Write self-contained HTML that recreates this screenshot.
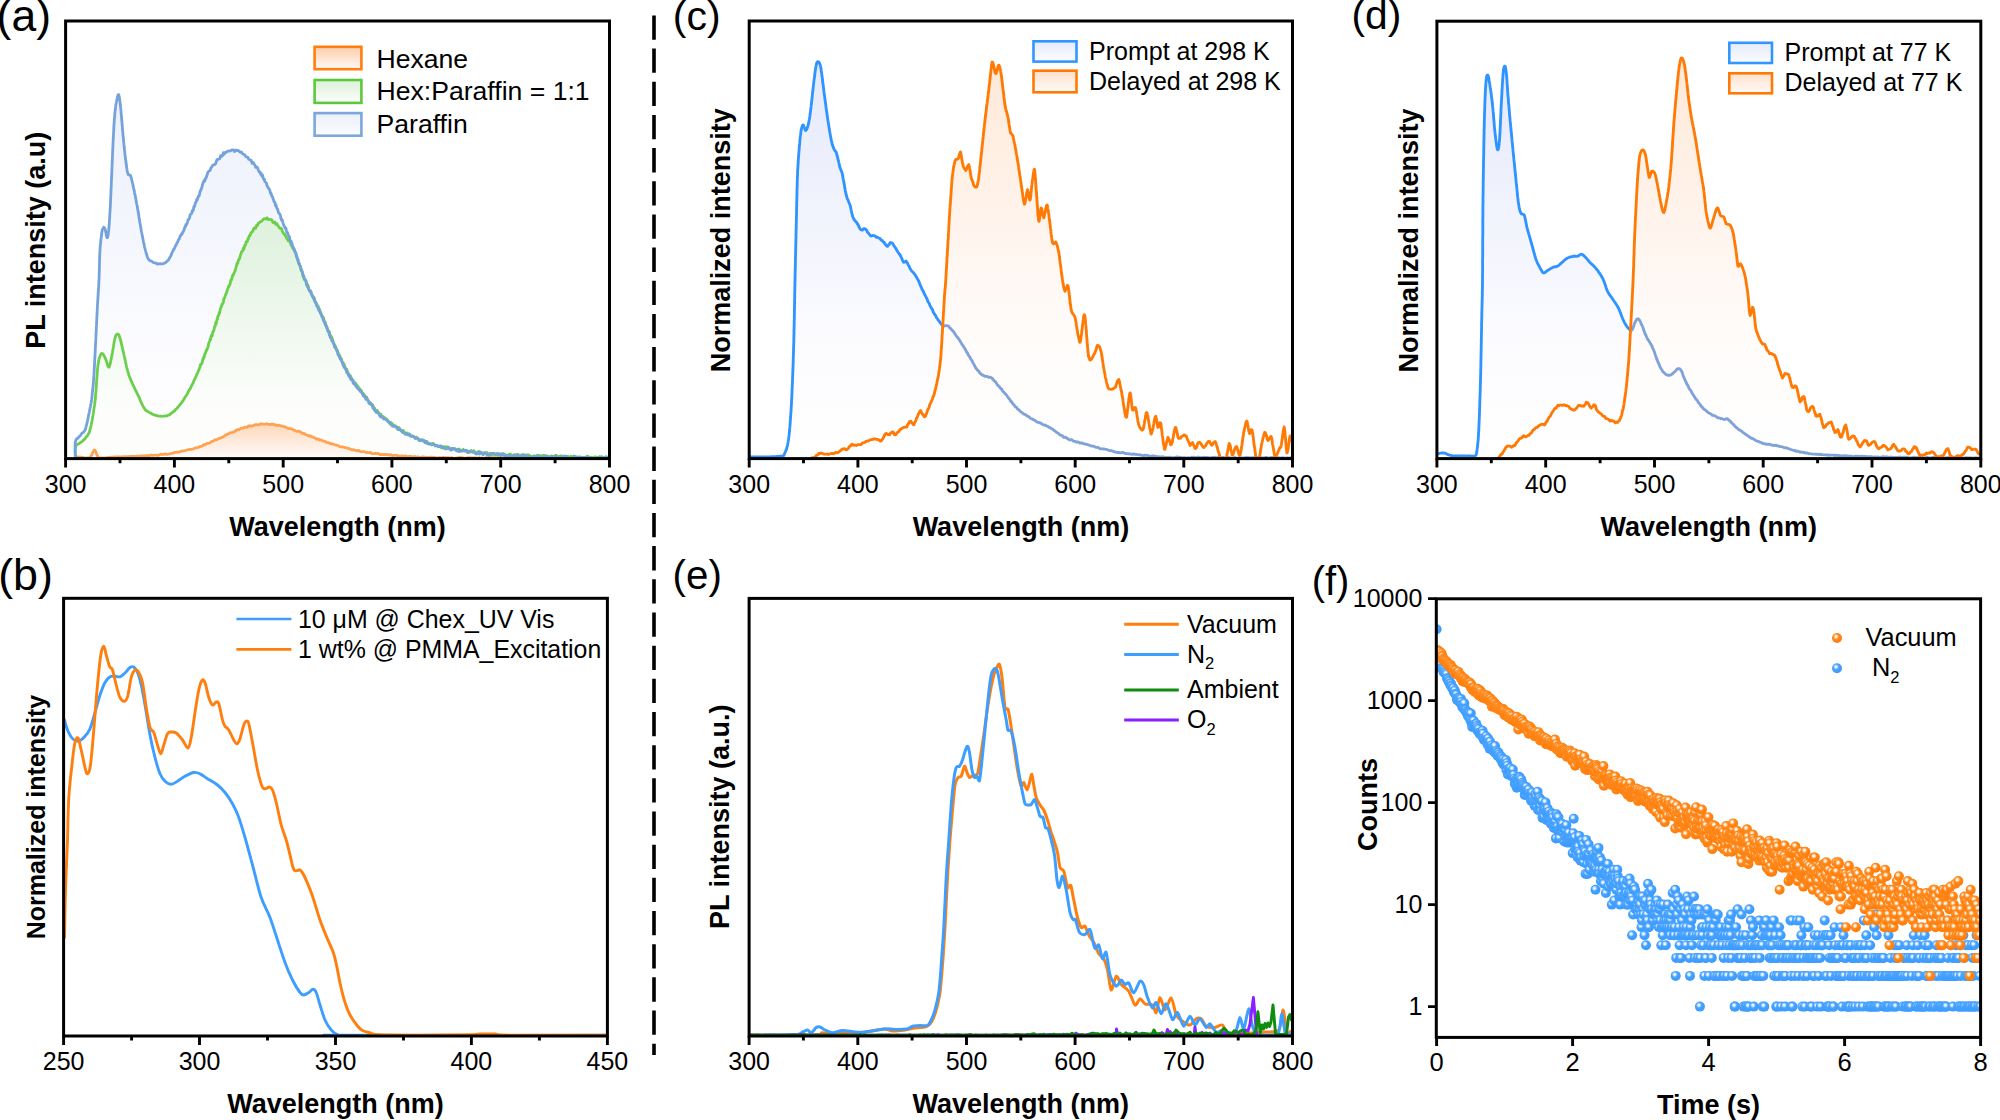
<!DOCTYPE html>
<html lang="en"><head><meta charset="utf-8"><title>Figure</title>
<style>html,body{margin:0;padding:0;background:#fff}svg{display:block}text{font-family:"Liberation Sans",sans-serif;fill:#000}</style></head><body>
<svg width="2000" height="1120" viewBox="0 0 2000 1120">
<defs>
<linearGradient id="gAb" x1="0" y1="0" x2="0" y2="1"><stop offset="0" stop-color="#edf0fc" stop-opacity="1.0"/><stop offset="0.78" stop-color="#fdfdff" stop-opacity="1.0"/><stop offset="1" stop-color="#fdfdff" stop-opacity="1.0"/></linearGradient>
<linearGradient id="gAg" x1="0" y1="0" x2="0" y2="1"><stop offset="0" stop-color="#dcf1da" stop-opacity="0.94"/><stop offset="0.8" stop-color="#fdfefc" stop-opacity="0.94"/><stop offset="1" stop-color="#fdfefc" stop-opacity="0.94"/></linearGradient>
<linearGradient id="gAo" x1="0" y1="0" x2="0" y2="1"><stop offset="0" stop-color="#fdd6b6" stop-opacity="0.95"/><stop offset="0.9" stop-color="#fff8f5" stop-opacity="0.95"/><stop offset="1" stop-color="#fff8f5" stop-opacity="0.95"/></linearGradient>
<linearGradient id="gB" x1="0" y1="0" x2="0" y2="1"><stop offset="0" stop-color="#e5e9fa" stop-opacity="1.0"/><stop offset="0.72" stop-color="#fcfcff" stop-opacity="1.0"/><stop offset="1" stop-color="#ffffff" stop-opacity="1.0"/></linearGradient>
<linearGradient id="gO" x1="0" y1="0" x2="0" y2="1"><stop offset="0" stop-color="#ffe6d4" stop-opacity="0.9"/><stop offset="0.68" stop-color="#fffbf9" stop-opacity="0.9"/><stop offset="1" stop-color="#ffffff" stop-opacity="0.9"/></linearGradient>
<linearGradient id="lAb" x1="0" y1="0" x2="0" y2="1"><stop offset="0" stop-color="#ebeefb" stop-opacity="1"/><stop offset="1" stop-color="#fdfdff" stop-opacity="1"/><stop offset="1" stop-color="#fdfdff" stop-opacity="1"/></linearGradient>
<linearGradient id="lAg" x1="0" y1="0" x2="0" y2="1"><stop offset="0" stop-color="#dcf1d7" stop-opacity="1"/><stop offset="1" stop-color="#fcfefb" stop-opacity="1"/><stop offset="1" stop-color="#fcfefb" stop-opacity="1"/></linearGradient>
<linearGradient id="lAo" x1="0" y1="0" x2="0" y2="1"><stop offset="0" stop-color="#fdcdaa" stop-opacity="1"/><stop offset="1" stop-color="#fffaf7" stop-opacity="1"/><stop offset="1" stop-color="#fffaf7" stop-opacity="1"/></linearGradient>
<linearGradient id="lB" x1="0" y1="0" x2="0" y2="1"><stop offset="0" stop-color="#e6ebfa" stop-opacity="1"/><stop offset="1" stop-color="#fbfcff" stop-opacity="1"/><stop offset="1" stop-color="#fbfcff" stop-opacity="1"/></linearGradient>
<linearGradient id="lO" x1="0" y1="0" x2="0" y2="1"><stop offset="0" stop-color="#fde1cc" stop-opacity="1"/><stop offset="1" stop-color="#fffaf8" stop-opacity="1"/><stop offset="1" stop-color="#fffaf8" stop-opacity="1"/></linearGradient>
<radialGradient id="mO" cx="0.40" cy="0.36" r="0.5"><stop offset="0" stop-color="#fff"/><stop offset="0.22" stop-color="#ffe9d4"/><stop offset="0.55" stop-color="#ff8a1c"/><stop offset="1" stop-color="#ff7f0e"/></radialGradient>
<radialGradient id="mB" cx="0.40" cy="0.36" r="0.5"><stop offset="0" stop-color="#fff"/><stop offset="0.22" stop-color="#dcedff"/><stop offset="0.55" stop-color="#49a3ff"/><stop offset="1" stop-color="#3d9cff"/></radialGradient>
<clipPath id="cpa"><rect x="65.6" y="21" width="543.9" height="437.6"/></clipPath>
<clipPath id="cpb"><rect x="63.6" y="598.3" width="543.8" height="437.7"/></clipPath>
<clipPath id="cpc"><rect x="749.2" y="21" width="543.3" height="437.6"/></clipPath>
<clipPath id="cpd"><rect x="1436.9" y="21.2" width="543.9" height="437.4"/></clipPath>
<clipPath id="cpe"><rect x="749.1" y="598.4" width="543.4" height="437.6"/></clipPath>
<clipPath id="cpf"><rect x="1436.3" y="598.8" width="544.3" height="438.6"/></clipPath>
</defs>
<path d="M654,15.4V1055" stroke="#000" stroke-width="3.6" stroke-dasharray="24.3 8.87" fill="none"/>
<g clip-path="url(#cpa)">
<path d="M75.4,457.9L75.4,457.6L75.4,455.7L75.3,454.5L75.3,453.4L75.2,452L75.2,449.9L75.1,448.4L75.1,446.8L75.1,445.4L75.2,444L75.3,442.7L75.4,441.7L75.9,440.2L76.6,438.8L77.4,438.6L78.3,437.7L79,436.7L79.8,436.1L80.5,435.4L81.3,434.2L82,433.1L82.8,432.8L83.6,432.2L84.3,431.4L85,430.2L85.4,429.1L85.8,427.8L86.1,426.5L86.4,425.1L86.7,424.5L87,423L87.3,421.6L87.6,420.3L87.8,419.2L88.1,418.4L88.3,416.7L88.6,415.3L88.8,414.3L89.1,413L89.3,412L89.5,410.5L89.8,409.2L90,408.4L90.3,407L90.6,405.2L90.9,404.1L91.1,402.9L91.4,401.1L91.5,400.5L91.7,399.4L91.8,397.7L92,396.9L92.1,395.3L92.2,393.7L92.4,392.6L92.5,391.4L92.6,390.2L92.7,389.2L92.9,388.1L93,386.7L93.1,385.8L93.2,384.4L93.3,383.5L93.5,381.7L93.6,379.7L93.7,379.3L93.7,377.7L93.8,376.9L93.8,376.3L93.9,375.2L94,374L94,373.2L94.1,371.6L94.2,370.4L94.2,369.4L94.3,367.7L94.4,366.8L94.5,365.6L94.5,364L94.6,362.5L94.7,360.2L94.8,358.7L94.9,357.2L95,355.3L95.1,354.1L95.1,353.1L95.2,351.7L95.2,350.6L95.3,349.3L95.3,348.8L95.4,347L95.5,346.3L95.5,344.3L95.6,343.6L95.7,342L95.7,340.3L95.8,339.4L95.9,338L95.9,336.6L96,335.2L96.1,333.7L96.1,332.4L96.2,330.6L96.3,329.6L96.3,327.8L96.4,326.2L96.5,325.4L96.6,323.4L96.6,322.1L96.7,320.9L96.8,319.6L96.8,317.9L96.9,316.3L97,315.4L97,314.1L97.1,313L97.2,311.4L97.2,310.6L97.3,309.4L97.3,308.4L97.4,307.2L97.4,306.1L97.5,305L97.6,303.4L97.7,301.1L97.8,299.8L97.9,298.4L98,297L98.1,295.1L98.1,294L98.2,293.3L98.3,292L98.4,290.4L98.5,289.6L98.5,288.8L98.6,287.7L98.7,286.3L98.7,284.8L98.8,283.7L98.9,282.3L98.9,281.1L99,279.6L99.1,278.9L99.1,277.7L99.1,276.2L99.2,275.3L99.2,273.4L99.3,272.1L99.3,271L99.3,269.6L99.4,267.9L99.4,267.1L99.4,265.5L99.5,264.1L99.5,262.6L99.5,261.4L99.6,259.6L99.6,258.5L99.6,257.4L99.7,256.1L99.7,254.8L99.8,253.1L99.9,252.2L99.9,251.5L100,250.4L100.1,248.7L100.2,246.5L100.4,244.9L100.5,243.4L100.7,242.3L100.8,240.3L101,238.8L101.2,237.4L101.3,236.4L101.5,235L101.7,234L101.8,232.2L102,231.2L102.2,230.8L102.3,229.4L102.5,229.2L103.8,227.2L105,228.8L105.4,229.9L105.7,232L106.1,233.4L106.4,236.2L106.8,236.9L107.1,237.7L107.5,237.6L107.6,236.8L107.7,237L107.9,236.1L108,235.2L108.1,234.7L108.2,234.3L108.3,233.8L108.4,232.5L108.5,231.7L108.7,230.8L108.8,229.7L108.9,228.4L109,226.7L109.1,225.1L109.3,223.8L109.4,221.9L109.5,219.4L109.7,217.6L109.8,214.4L110,212.3L110,211.5L110.1,210.3L110.1,209.5L110.2,208L110.3,207.6L110.3,206.4L110.4,205.3L110.4,204.2L110.5,202.7L110.5,202.1L110.6,200.6L110.6,199.4L110.7,197.8L110.7,196.9L110.8,195.3L110.9,194.4L110.9,192.5L111,191.2L111,189.9L111.1,188.6L111.2,187.6L111.2,185.5L111.3,184.4L111.3,182.6L111.4,181.4L111.5,179.8L111.5,178.2L111.6,177L111.7,175.4L111.7,173.8L111.8,172.5L111.8,170.7L111.9,169.8L112,167.7L112,166.8L112.1,164.6L112.2,163.7L112.2,161.5L112.3,159.9L112.4,158.5L112.4,157.5L112.5,155.6L112.5,154.2L112.6,153L112.7,151L112.7,150L112.8,148.5L112.9,146.9L112.9,146.1L113,144.3L113,142.9L113.1,141.9L113.2,140.7L113.2,138.9L113.3,137.5L113.4,137L113.4,135.3L113.5,134.2L113.5,133L113.6,132.2L113.7,130.8L113.7,130L113.8,128.8L113.8,127.4L113.9,126.8L113.9,126.2L114,125L114.2,122.4L114.3,119.7L114.5,118.1L114.7,115.8L114.8,113.8L115,112.1L115.2,110.5L115.4,109L115.5,107.5L115.7,106.4L115.8,104.9L116,104L116.2,103.1L116.3,102.6L116.5,101.4L116.6,100.7L116.8,100.3L116.9,99.5L117.1,98.8L117.2,98.2L117.4,97.6L117.5,96.8L118.2,94.7L118.7,94.7L119.3,97L120,102.1L120.1,102.9L120.2,103.2L120.3,104.8L120.4,105.5L120.5,106.6L120.6,107.4L120.8,109.2L120.9,109.8L121,111.2L121.1,112.7L121.2,114.1L121.4,115.5L121.5,117.3L121.6,118L121.7,120L121.9,121.3L122,123.1L122.1,124.5L122.3,126.2L122.4,127.7L122.5,129.2L122.6,130.2L122.8,132L122.9,133.6L123,135.1L123.2,136.6L123.3,137.6L123.4,138.6L123.5,140.5L123.6,141.4L123.8,142.9L123.9,143.5L124,144.9L124.2,146.8L124.4,148L124.5,149.7L124.7,151.2L124.9,153.3L125,154.7L125.2,156.1L125.4,157.5L125.5,159.2L125.7,160L125.9,161.7L126,162.5L126.2,164.1L126.4,165L126.5,166L126.7,167.8L126.8,168.3L127,169.8L127.2,170.5L127.3,171.3L127.5,172.1L128.2,174.5L128.8,174.5L129.5,175.2L130.2,175.1L131,176.7L131.2,178.1L131.5,178.4L131.7,179.6L132,180.9L132.2,181.5L132.5,183L132.8,184.1L133,185.4L133.3,186.2L133.6,188L133.9,189.5L134.2,190.3L134.5,192.5L134.8,194L135.1,195L135.4,197.1L135.7,198.7L136,199.7L136.2,201.3L136.4,202.5L136.6,203.6L136.8,204.2L137.1,205.7L137.3,207.1L137.5,208.2L137.7,209.6L138,210.7L138.2,212L138.4,213.6L138.7,215.1L138.9,216.6L139.1,218.3L139.4,219.1L139.6,220.7L139.8,222.5L140.1,223.8L140.3,224.6L140.5,226.4L140.8,227.3L141,229.3L141.2,230L141.4,231.5L141.7,232.6L141.9,233.8L142.1,234.7L142.3,235.9L142.5,236.8L142.9,238.8L143.2,240.4L143.5,242.1L143.9,243.6L144.2,245.1L144.5,246.8L144.8,247.8L145.1,249L145.4,250.3L145.7,251.4L146,252.4L146.3,253.2L146.6,254.5L146.9,255.1L147.2,256.3L147.5,257.3L148.5,259.2L149.4,260.5L150.3,260.7L151.3,261.1L152.5,261.8L153.6,262.6L154.8,262.8L156.1,263.2L157.4,264.2L158.7,263.9L160,263.7L161.3,263.9L162.5,263.9L163.8,263.5L165,262.7L166.2,262.2L167.5,260.7L168.1,260.4L168.7,259.7L169.3,258L169.9,257.4L170.5,256.5L171.1,255.2L171.7,253.5L172.3,252.2L172.9,251.1L173.6,249.4L174.3,248.7L175,247L175.5,245.8L176.1,245.2L176.6,243.6L177.2,242.8L177.8,241.6L178.3,240.1L178.9,239.5L179.5,238.3L180.1,236.1L180.8,235.5L181.4,234L182,234.3L182.6,232.4L183.2,231.9L183.8,230.2L184.4,229L185,226.5L185.5,226.8L186,224.4L186.6,224.6L187.1,223.2L187.6,221.6L188.1,219.6L188.6,219.6L189.1,218.6L189.6,217.7L190.1,214.9L190.6,214.3L191.2,213.9L191.7,213.5L192.2,210.7L192.8,211.2L193.3,210.2L193.9,206.6L194.4,206.9L195,204.7L195.4,203L195.9,202.1L196.4,201.3L196.8,199.2L197.3,199.8L197.8,197.9L198.3,196.3L198.8,196.4L199.3,195.3L199.8,192.7L200.3,191L200.8,190.4L201.2,188.6L201.7,188.5L202.2,185.7L202.7,184L203.2,182.4L203.7,181.6L204.2,180.2L204.7,181.2L205.2,179.5L205.6,178.1L206.1,178L206.6,176.2L207,175.5L207.8,172.5L208.6,171.4L209.4,170.9L210.2,170.3L211,167.7L211.7,167.1L212.5,165.7L213.2,164.8L214,164.7L214.7,164.7L215.5,164L216.2,162.1L217,159.8L217.9,159.3L218.8,159.2L219.7,158.8L220.6,155.7L221.5,156.5L222.5,155.6L223.4,152.7L224.3,154L225.2,152.4L226.1,152.4L227,151.5L228.2,150.9L229.5,151.1L230.8,150.7L232,149.8L233.2,149.8L234.5,151.6L235.8,150L237,150.7L238.1,150.4L239.2,151.3L240.2,152.4L241.3,152L242.3,153.2L243.4,154.4L244.6,154.6L245.8,156.6L247,157L247.8,157.3L248.6,159.1L249.5,159.5L250.3,160.1L251.2,160.3L252.1,163.4L253,162.3L254,163.8L254.9,165.4L255.8,167.4L256.7,166.9L257.5,167.5L258.4,170.2L259.2,172L260,171.9L260.7,174.3L261.3,173.6L261.9,176.1L262.5,174.9L263.1,177.7L263.7,179.4L264.2,178.9L264.8,181.5L265.3,182L265.9,182.5L266.4,183L267,185.8L267.6,186.3L268.2,188L268.8,188.5L269.4,189.4L270,191L270.5,193.4L271,193.2L271.5,194.7L272,196.6L272.5,196.9L273,198.6L273.5,199.6L274,201.7L274.5,201.9L275,202.8L275.5,205.9L276.1,205L276.6,207.5L277.1,208.7L277.7,209.3L278.2,211.6L278.7,212.9L279.3,213.4L279.8,214.3L280.4,215.1L280.9,218.4L281.5,220L282,219.4L282.5,220.7L282.9,222.6L283.4,224.1L283.9,225.5L284.4,226.4L284.9,227.4L285.4,228.4L285.9,228L286.4,230.5L286.9,232.3L287.4,232.4L287.9,233.5L288.4,235.2L288.9,236.7L289.4,236.6L289.9,239.7L290.4,240.8L290.9,240.8L291.3,242L291.8,243L292.3,244.9L292.8,247.5L293.2,247.2L293.7,249.7L294.1,248.9L294.6,250.2L295,252L295.5,252.4L296,253.6L296.4,256.3L296.9,256.6L297.3,258.8L297.7,258.8L298.1,260.2L298.5,262.9L298.9,263.3L299.3,263.3L299.7,265.2L300.1,265.5L300.5,266.6L300.9,269.1L301.3,269.1L301.7,270.6L302.1,271.4L302.5,272.7L303,274.8L303.5,275.3L304,277L304.5,278.5L305,279.2L305.5,280.2L306,281.3L306.4,284.5L307,284.1L307.5,285.5L308,287.4L308.5,288.7L309.1,289.6L309.6,291.3L310.2,291.5L310.8,291.7L311.3,294.1L311.9,294.8L312.5,297L313.1,296.7L313.6,299L314.2,298.5L314.8,300.7L315.4,301.8L316,302.3L316.6,305.4L317.2,306.7L317.7,306.4L318.3,308.8L318.9,310.6L319.4,311L320,311.7L320.5,313.6L321,314.1L321.6,315.7L322.1,317.1L322.6,317.4L323.1,319.6L323.6,320.4L324.1,321.8L324.7,322.3L325.2,324.7L325.7,324.4L326.2,326.5L326.7,327.8L327.2,327.7L327.8,331L328.3,331.6L328.8,331.6L329.3,334.9L329.8,335.7L330.3,337.5L330.9,338.1L331.4,338.8L331.9,340.8L332.4,340.9L332.9,342.2L333.4,343.2L334,344.3L334.5,347L335,347L335.6,348.3L336.2,349.2L336.7,350.3L337.3,351.3L337.9,354.4L338.5,355.1L339,355.7L339.6,357.2L340.2,359L340.8,359L341.3,360L341.9,361.7L342.5,362.8L343.1,365L343.7,366.3L344.2,367.4L344.8,368.1L345.4,368.7L346,368.9L346.5,372L347.1,372.9L347.7,373.1L348.3,374.7L348.8,376.1L349.4,375.5L350,377.2L350.8,379.5L351.6,378.8L352.4,379.8L353.2,383.1L353.9,384L354.7,382.9L355.5,385.4L356.3,386.6L357.1,387.8L357.9,388.6L358.7,389.4L359.5,390.5L360.3,391.5L361.1,391.1L361.8,392.2L362.6,393.5L363.4,396.1L364.2,395.9L365,397.3L365.8,399.3L366.6,398.1L367.4,399.4L368.2,400.6L369,403.3L369.8,403.8L370.6,403.3L371.4,404.2L372.2,405.5L373,408.4L373.8,408.1L374.6,410.3L375.5,411.2L376.3,412.5L377.2,412.3L378.1,412.6L379,414.1L380,416L380.9,417L381.9,416.5L382.9,417.6L383.9,419.2L384.9,419L385.9,419.5L387,420.4L388.1,421.7L389.1,421.9L390.2,424.1L391.3,424.6L392.4,426.1L393.5,426.4L394.6,426.4L395.7,426.4L396.8,427.3L397.9,429.7L398.9,429.7L400,429L401.2,430.7L402.4,432.1L403.5,432.9L404.7,433.6L405.9,434.5L407.1,434L408.2,435.1L409.4,434.1L410.6,436.2L411.8,436.4L412.9,436.1L414.1,436.8L415.3,438.5L416.5,437.8L417.6,438.6L418.8,439.2L420,440.7L421.2,439.7L422.4,439.9L423.6,440.7L424.8,442.6L425.9,441.3L427.1,443.1L428.2,443.4L429.4,443.5L430.6,443.8L431.8,444.8L433,443.9L434.3,445L435.6,445.6L437,445.3L438.5,446.7L440,446.5L441.1,446.1L442.2,446.5L443.4,447.3L444.6,448.4L445.9,449L447.1,448.5L448.4,447.6L449.7,449.2L451,450.2L452.3,448.3L453.7,449.2L455.1,448.6L456.4,450.3L457.8,449.3L459.2,451.6L460.5,450.4L461.9,451.2L463.3,450.6L464.7,450.8L466,450.2L467.4,452.6L468.7,451.2L470,451.3L471.3,451.8L472.5,451.5L473.8,452L475,452.1L476.2,454L477.3,453.9L478.5,452.5L479.6,454.1L480.8,452.2L482,453.7L483.2,454.6L484.4,453L485.6,453L486.8,454.8L488.1,454.5L489.4,455.5L490.7,453.5L492.1,453.5L493.6,453.4L495.1,454.2L496.7,453.6L498.3,455.2L500,453.9L501.1,454.9L502.1,455.2L503.3,454.1L504.4,455.8L505.5,456.6L506.7,455.1L507.9,455.5L509.1,455.2L510.3,456.8L511.5,456.5L512.8,456.9L514,455.4L515.3,455.3L516.6,454.6L517.9,454.8L519.2,457.2L520.6,456.2L521.9,455.9L523.2,455.2L524.6,457.3L526,455L527.4,456.7L528.7,456.6L530.1,457L531.5,457.1L532.9,456.9L534.3,456.7L535.8,456.4L537.2,457.4L538.6,455.7L540,456.1L541.4,457.5L542.9,457.8L544.3,457.3L545.7,455.7L547.2,457.8L548.6,458.2L550,456.9L551.2,456.7L552.5,456.7L553.8,457.4L555.1,456.3L556.4,456.2L557.8,458.5L559.2,457.2L560.6,457.3L562,456.8L563.5,456.1L564.9,456.2L566.4,456.2L567.9,457.9L569.4,458.1L570.9,458.6L572.4,458.6L573.9,456.6L575.4,456.3L576.9,458L578.4,457L579.9,458.6L581.4,457.6L582.9,457.5L584.3,457.5L585.8,457.2L587.2,457.9L588.6,456.9L590,458.6L591.3,458.6L592.7,458.6L594,458.6L595.2,458.3L596.5,458.6L597.7,458.5L598.9,457.8L600,456.6L601.1,457.9L602.1,458L603.1,458.5L604.1,458.6L605,458.3L605.8,456.9L606.6,456.9L607.3,458.6L608,458.6L608,458.6L75,458.6Z" fill="url(#gAb)" stroke="none"/>
<path d="M75.4,458L75.4,457.1L75.4,456L75.3,454.7L75.2,453.1L75.2,451.4L75.2,450.1L75.3,448.6L75.4,447.5L75.6,446.8L76.4,444.9L77.5,444.3L78.8,443.8L80,442.9L81.1,442.1L82.2,441.6L83.2,440.3L84.3,439.4L85.2,438.5L86.1,437.1L87,436.3L87.9,434.9L88.6,433.6L89.2,432.5L89.6,431.2L90,430.1L90.3,428.5L90.7,427.3L90.9,426L91.2,424.7L91.4,423.7L91.7,422.7L91.9,421.4L92.2,419.9L92.4,418.4L92.7,417L92.9,416L93.1,414.3L93.3,413.5L93.5,412.2L93.7,410.4L93.9,409.1L94.1,407.9L94.3,406.7L94.5,405.4L94.7,404.2L94.9,402.5L95,401.2L95.2,400.1L95.3,399L95.4,398L95.5,396.6L95.5,395.9L95.6,395L95.7,393.6L95.9,392.1L96,390.3L96.1,389.3L96.2,387.6L96.3,386.9L96.3,385.2L96.4,383.9L96.5,382.6L96.6,381.4L96.7,379.7L96.9,378.1L97,376.6L97.1,375.4L97.2,373.9L97.3,372L97.4,370.7L97.5,369.4L97.6,368.1L97.8,367.1L97.9,365.8L98,365L98.3,363.2L98.6,361.4L98.9,359.5L99.2,358.3L99.5,357.4L99.9,356.6L100.2,355.6L100.5,354.9L101.7,353.4L103,353.8L103.6,355L104.2,356L104.8,357.1L105.4,358.7L106,360L106.5,361.3L107,362.9L107.5,364.6L108,366.3L108.5,367.1L109,367.2L109.3,366.4L109.6,365.9L109.9,364.9L110.2,363.6L110.5,362.4L110.8,360.8L111.1,359.4L111.4,358.2L111.7,356.6L112,355.1L112.2,353.6L112.5,352.3L112.7,350.9L112.9,349.5L113.2,348L113.4,347L113.6,345.5L113.9,343.6L114.1,342.3L114.3,341.4L114.6,340L114.8,338.8L115,338L115.7,335.8L116.3,334.7L116.9,334.3L117.5,334L118.1,334.3L118.7,334.5L119.3,336L120,338.3L120.3,338.7L120.5,339.9L120.8,341.1L121.1,342.2L121.4,343.9L121.7,345L122.1,346.4L122.4,348.1L122.7,349.1L123,351L123.4,352L123.7,353.6L124,355L124.3,356.3L124.6,357.4L124.9,358.9L125.2,360.3L125.5,362L125.8,363.3L126.1,364.5L126.4,366L126.7,367.3L127,368.3L127.3,369.4L127.7,370.9L128,371.9L128.4,373L128.8,374.9L129.3,376.2L129.7,377.2L130.2,378.4L130.7,379.6L131.1,380.9L131.6,381.8L132.1,382.9L132.5,383.8L133,384.8L133.6,386.2L134.1,387.2L134.6,388.2L135.2,389.4L135.7,390.7L136.3,391.4L136.8,392.9L137.4,393.9L138,395.1L138.5,396.3L139,397L139.6,398.4L140.1,400.1L140.7,401.4L141.2,402.2L141.8,403.9L142.3,404.7L142.9,405.9L143.5,406.9L144,407.9L145,409.3L145.9,410.6L146.9,411.1L147.9,411.6L148.9,412.2L150,412.7L151,413.3L152.1,414L153.3,414.6L154.5,414.9L155.7,415.3L156.8,415.5L158,416.1L159.3,416.2L160.7,416.2L162.1,416.4L163.4,416.2L164.7,416.1L166,415.8L167.2,415.8L168.3,415.1L169.4,414.9L170.6,413.9L171.7,412.9L173,412.1L173.8,411.4L174.7,410.7L175.5,409.4L176.4,408.9L177.3,408L178.2,406.7L179.2,405.7L180.1,404.6L181.1,403.2L182,402.2L182.6,401.2L183.3,400.3L183.9,399.1L184.6,398.1L185.3,396.9L185.9,395.9L186.6,395L187.3,394L188,392.4L188.6,391.1L189.3,389.9L190,388.9L190.7,387.8L191.3,386.2L192,385L192.5,383.9L193.1,383.1L193.6,381.5L194.1,380.3L194.6,379.5L195.2,378.2L195.7,377L196.2,376.1L196.7,374.8L197.3,373.3L197.8,372.3L198.3,371.2L198.8,370L199.4,368.2L199.9,367.4L200.4,364.7L200.9,365.1L201.5,363.6L202,363.2L202.5,361.2L202.9,358.6L203.4,359L203.8,356.7L204.3,357.1L204.7,353.8L205.2,353.4L205.6,353.1L206.1,350.5L206.5,350.5L207,349.5L207.5,348.3L207.9,347.4L208.4,345L208.8,343L209.3,342.1L209.7,341.1L210.2,339L210.6,339.4L211.1,336.4L211.5,335.1L212,336.1L212.4,334.6L212.8,332L213.2,331L213.7,331L214.1,329.2L214.5,327L214.9,326.2L215.3,326L215.8,322.5L216.2,323.8L216.6,321.5L217,319.2L217.4,319.5L217.8,316.3L218.2,315.9L218.7,315.1L219.1,313L219.5,313.4L219.9,311.6L220.3,309L220.8,307.7L221.2,306.3L221.6,306.4L222,304.2L222.5,303.8L222.9,303.3L223.4,302.1L223.8,298.9L224.3,298.2L224.7,297.2L225.2,295.8L225.6,294.7L226.1,293.6L226.5,293.1L227,290.7L227.5,289.6L227.9,288.5L228.4,286.7L228.8,286.8L229.3,285L229.7,285.1L230.2,283.6L230.6,280.9L231.1,279.7L231.5,279.9L232,278.2L232.5,275.5L233,275.8L233.4,273.9L233.9,273.6L234.4,272.3L234.9,271.4L235.3,269.6L235.8,268.8L236.3,265.9L236.8,264.8L237.2,262.8L237.7,263.6L238.2,260.5L238.7,260.3L239.1,259L239.6,258.6L240.1,256.3L240.6,254.5L241,253.9L241.5,251.9L242,251.5L242.6,251L243.2,248.2L243.8,249.3L244.4,246.8L244.9,244.9L245.5,245L246.1,242L246.7,241.3L247.3,241.7L247.9,238.7L248.5,238.8L249.1,236L249.6,236.1L250.2,235.4L250.8,233.2L251.4,232.5L252,232.1L252.9,230.9L253.7,228.5L254.6,228L255.6,228.3L256.5,225.5L257.4,225.6L258.3,223.1L259.1,222.9L259.9,222.2L260.7,221.6L261.4,221.2L262,220.8L263.7,218.9L264.7,218.7L266,219L267,217.8L268.2,219.5L269.4,219.3L270.6,219.4L272,220.1L272.9,222.4L273.9,222.8L274.9,222.1L275.9,224.3L277,223.8L278,225.7L279,227.1L280,228.4L280.8,228.1L281.6,228.8L282.4,231.2L283.1,232.8L283.9,233.9L284.6,233.9L285.4,235.7L286.2,237.3L287,239L287.6,239L288.3,240.9L288.9,240.4L289.5,241.1L290.2,242.3L290.8,244.5L291.5,246L292.1,246.1L292.8,247.9L293.5,247.9L294.3,250.3L295,251.8L295.4,252.8L295.8,253.1L296.2,255.3L296.6,256.4L296.9,257.5L297.3,258.9L297.7,259.3L298.1,261.5L298.5,262L298.9,264L299.4,264.1L299.8,266.1L300.2,266.1L300.6,267.1L301.1,270.6L301.5,270.5L302,270.9L302.5,273.8L302.9,275.9L303.4,276.8L303.9,278.7L304.5,279.8L305,279.9L305.5,280.4L306,281.1L306.5,282.8L307,284.9L307.6,286.8L308.1,285.6L308.7,288.9L309.2,289.9L309.8,290.8L310.4,290.6L311,291.5L311.6,294.5L312.2,295.4L312.8,295.9L313.4,297L314,297.4L314.6,301.1L315.2,301.9L315.8,303.5L316.4,304.3L317,304.6L317.6,306.9L318.2,306.4L318.8,308.9L319.4,309.1L320,310.7L320.5,313.1L321,313.1L321.6,315.5L322.1,315.9L322.6,316.3L323.1,317.4L323.6,318L324.1,320.7L324.7,322.6L325.2,322.3L325.7,324.2L326.2,326.7L326.7,326.4L327.2,329.1L327.8,330L328.3,330.4L328.8,332L329.3,331.8L329.8,334.2L330.3,336L330.9,335.9L331.4,336.6L331.9,337.8L332.4,339.3L332.9,340.7L333.4,343.4L334,343.6L334.5,345L335,345.5L335.6,346.7L336.2,348.6L336.7,350.4L337.3,350.2L337.9,352.1L338.5,353.8L339,355.9L339.6,355.3L340.2,356.9L340.8,358.5L341.3,358.6L341.9,361L342.5,363.2L343.1,362.5L343.7,364.2L344.2,364.4L344.8,366.6L345.4,368.9L346,368.9L346.5,369.1L347.1,370.4L347.7,372.3L348.3,373.9L348.8,373.9L349.4,375L350,376.8L350.8,376.3L351.6,379.7L352.4,379.6L353.2,380.5L353.9,382.8L354.7,382.5L355.5,383.3L356.3,384.6L357.1,386.7L357.9,386.2L358.7,388.1L359.5,388.5L360.3,390.3L361.1,390.2L361.8,392.8L362.6,394.2L363.4,393.6L364.2,394.6L365,396.3L365.8,397.7L366.6,397L367.4,399.6L368.2,401L369,402L369.8,402.1L370.6,404.1L371.4,404.4L372.2,404.5L373,405.7L373.8,407.5L374.6,408.4L375.5,410L376.3,410.8L377.2,410.4L378.1,411.9L379,413.8L380,413.9L380.9,414.2L381.9,416.9L382.9,416.5L383.9,417L384.9,418.4L385.9,418.7L387,419.5L388.1,421.4L389.1,422.6L390.2,422.4L391.3,422.6L392.4,424.2L393.5,424.8L394.6,425.7L395.7,426L396.8,428.1L397.9,427.3L398.9,427.6L400,430L401.2,430.9L402.4,430.3L403.5,430.8L404.7,432.5L405.9,434L407.1,432.9L408.2,434.3L409.4,434.1L410.6,435.9L411.8,435.8L412.9,436.1L414.1,437.4L415.3,437.6L416.5,437.2L417.6,438.3L418.8,440.2L420,440.3L421.2,440.1L422.4,440.9L423.6,440.1L424.8,441.3L425.9,443L427.1,441.6L428.2,444.1L429.4,444.2L430.6,444.2L431.8,443.8L433,443.5L434.3,444.4L435.6,446L437,445.5L438.5,446.9L440,445.8L441.1,447.6L442.2,448L443.4,447.8L444.6,446.7L445.9,447L447.1,446.9L448.4,447.1L449.7,449.1L451,448.7L452.3,449.6L453.7,448.6L455.1,449L456.4,450.6L457.8,451.1L459.2,449L460.5,450.9L461.9,450.5L463.3,449.3L464.7,451.1L466,450.4L467.4,450.8L468.7,452.5L470,452.1L471.3,450.5L472.5,452.3L473.8,450.7L475,453.2L476.2,452.6L477.3,452.8L478.5,451.3L479.6,451.6L480.8,452.9L482,452.7L483.2,454L484.4,452.7L485.6,453.1L486.8,452.5L488.1,453.6L489.4,454.9L490.7,453.2L492.1,454.7L493.6,453.2L495.1,455.2L496.7,454.3L498.3,453.4L500,455.2L501.1,455.6L502.1,453.7L503.3,453.7L504.4,454.1L505.5,454.9L506.7,456.1L507.9,455.9L509.1,454.5L510.3,453.9L511.5,455.4L512.8,455.4L514,454.6L515.3,455.6L516.6,456.6L517.9,454.5L519.2,455L520.6,456.4L521.9,454.7L523.2,454.7L524.6,454.8L526,456.4L527.4,454.8L528.7,454.8L530.1,456.2L531.5,456.6L532.9,456.6L534.3,455.8L535.8,457.2L537.2,455.2L538.6,456L540,455.9L541.4,456.4L542.9,455.5L544.3,455.4L545.7,457.6L547.2,455.9L548.6,456.5L550,457.6L551.2,456L552.5,456.2L553.8,456.8L555.1,455.5L556.4,455.4L557.8,457L559.2,456.4L560.6,455.7L562,456.2L563.5,457.3L564.9,457.5L566.4,456.9L567.9,456.2L569.4,457.8L570.9,456.2L572.4,457.6L573.9,456.1L575.4,458.2L576.9,457.8L578.4,457.1L579.9,456.9L581.4,457.3L582.9,457.6L584.3,457.3L585.8,457.7L587.2,456.1L588.6,457L590,457.9L591.3,457.1L592.7,458.5L594,457.4L595.2,456.8L596.5,458.4L597.7,457.1L598.9,457.5L600,457.7L601.1,458.3L602.1,456.7L603.1,458.4L604.1,457.6L605,457.1L605.8,457L606.6,458.6L607.3,458.6L608,457.6L608,458.6L75,458.6Z" fill="url(#gAg)" stroke="none"/>
<path d="M75,458L75.9,457.4L78,457L79.1,457.1L80.6,457.2L82.2,457.4L83.8,457.7L85.4,457.9L86.9,458L88,458L89.9,457.4L91,456L91.7,454.9L92.4,453.3L93.1,451.7L93.8,450.5L94.5,450L95.3,450.8L96.1,452.5L96.8,454.5L97.5,456L98,457.4L100,458L101,458L102.2,458L103.6,457.9L105.1,457.8L106.7,457.7L108.4,457.5L110.1,457.4L111.8,457.2L113.4,457.1L115,457L116.5,456.9L117.9,456.9L119.3,456.8L120.8,456.8L122.2,456.8L123.6,456.7L125.1,456.7L126.7,456.6L128.3,456.6L130,456.5L131.4,456.4L132.8,456.4L134.3,456.3L135.8,456.3L137.3,456.2L138.9,456.1L140.5,456.1L142.1,456L143.7,455.9L145.3,455.8L146.9,455.7L148.4,455.6L150,455.5L151.5,455L153.1,455.5L154.6,455.2L156.2,455.2L157.7,455.4L159.2,454.9L160.8,454.2L162.3,454.3L163.8,454.4L165.4,453.9L166.9,454.4L168.5,454.2L170,453.8L171.4,453.3L172.9,453.4L174.4,452.4L175.9,452.3L177.3,452.2L178.8,452.2L180.3,451.7L181.8,451L183.2,450.9L184.7,450.6L186,450.3L187.4,449.8L188.7,449.7L190,449.4L191.6,449.4L193,449L194.5,448.3L195.8,447.8L197.2,447.7L198.5,447.3L199.8,446.6L201,446.3L202.3,446L203.7,444.6L205,444.9L206.4,443.7L207.7,443.4L209.1,443.1L210.5,442.5L211.8,441.3L213.2,441.2L214.5,440L215.9,439.7L217.3,439.5L218.6,438.5L220,438.1L221.4,437.6L222.7,437.1L224.1,436.3L225.5,434.9L226.8,434.7L228.2,434L229.5,433L230.9,432.8L232.3,432.3L233.6,431.9L235,431.4L236.4,430.1L237.7,429.7L239.1,429.6L240.5,428.5L241.8,428.1L243.2,428L244.5,427.2L245.9,427.4L247.3,427.1L248.6,425.9L250,426L251.5,426L253,425.8L254.5,424.8L256,424.5L257.5,424.9L259,424.8L260.5,423.9L262,424L263.5,424.2L265,424.3L266.5,423.7L267.9,424.2L269.3,424.5L270.8,424.4L272.2,424.2L273.6,424.3L275.1,424.8L276.7,425.6L278.3,425.2L280,425.5L281.3,426.2L282.6,426.2L284,426.6L285.3,426.9L286.8,427.8L288.2,428.4L289.7,428.6L291.2,428.7L292.7,429.4L294.1,430.1L295.6,431L297.1,431.5L298.6,431.2L300,431.5L301.4,432.8L302.8,433.5L304.1,433.5L305.4,434.4L306.7,435L308,435.3L309.4,436.2L310.7,435.9L312.1,436.8L313.6,437.4L315.1,437.8L316.6,439.2L318.3,438.9L320,440.2L321.2,440L322.5,440.7L323.8,441.2L325.1,441.4L326.5,442.2L327.8,442.7L329.3,442.9L330.7,443.8L332.2,443.7L333.6,444.2L335.1,444.8L336.6,445.2L338.1,445.5L339.6,446.7L341.1,447L342.6,446.7L344.1,447.4L345.6,447.6L347.1,448.2L348.6,448.4L350,449L351.5,449.8L353,449.6L354.4,450.1L355.8,450.4L357.3,450.8L358.7,450.4L360.1,451.4L361.5,451.8L362.9,451.7L364.4,451.7L365.8,452.3L367.3,452.5L368.8,452.7L370.3,452.4L371.8,453.5L373.4,453.6L375,453.3L376.6,453.7L378.3,453.3L380,454.5L381.3,454.5L382.6,454.4L384,454.7L385.3,454.3L386.7,454.5L388,454.6L389.4,455.1L390.8,454.7L392.2,455.6L393.6,455.3L395.1,455.4L396.5,455.2L398,455.9L399.5,456.1L401,456L402.5,455.8L404,456.4L405.6,455.9L407.1,456.6L408.7,456.5L410.2,456.3L411.8,456.6L413.4,456.8L415.1,456.5L416.7,457.2L418.3,456.8L420,457.4L421.3,457.4L422.6,456.7L423.8,457.3L425,457L426.2,457.5L427.3,457.4L428.4,457.3L429.5,457.8L430.5,457L431.6,457.5L432.7,457.3L433.7,457.1L434.8,457.8L435.9,457.7L437.1,458L438.3,457.8L439.5,457.5L440.8,458.2L442.1,457.4L443.5,457.3L444.9,458L446.4,457.7L448.1,457.7L449.7,458.2L451.5,457.7L453.4,458.3L455.4,458.1L457.5,457.8L459.8,457.5L462.1,457.7L464.6,458.4L467.2,457.9L470,457.7L471,457.8L472.1,458.4L473.2,457.7L474.4,458.3L475.6,457.7L476.8,458.5L478,458.1L479.3,457.6L480.6,458.5L481.9,457.9L483.3,458.3L484.7,458.1L486.1,457.6L487.5,457.7L489,457.7L490.5,457.7L492,457.6L493.6,457.6L495.1,458.5L496.7,457.7L498.3,458.1L499.9,457.7L501.5,457.8L503.2,458.3L504.9,458.5L506.6,458L508.3,457.6L510,458.6L511.7,457.6L513.4,458L515.2,458.1L516.9,458.5L518.7,458.4L520.5,458.2L522.3,458L524.1,458.4L525.8,458.4L527.6,458.4L529.5,458.3L531.3,457.7L533.1,457.9L534.9,458.1L536.7,458.1L538.5,458.4L540.3,457.8L542.1,458.2L543.9,457.9L545.7,458.3L547.5,457.8L549.3,458L551.1,457.7L552.9,457.8L554.7,458.5L556.4,457.9L558.2,458.4L559.9,458.1L561.6,457.6L563.3,458.3L565,457.6L566.7,458.4L568.4,457.5L570.1,458.2L571.7,457.7L573.3,457.9L574.9,458.5L576.5,458L578.1,458.2L579.6,458.3L581.1,457.6L582.6,458.4L584.1,458.4L585.6,457.7L587,458.1L588.4,457.8L589.7,458.3L591.1,457.5L592.4,458L593.7,458.3L594.9,458.2L596.2,457.6L597.3,458.3L598.5,457.7L599.6,458.3L600.7,458L601.7,457.7L602.8,458.2L603.7,458.3L604.7,458.2L605.6,458.5L606.4,457.8L607.2,457.7L608,457.6L608,458.6L75,458.6Z" fill="url(#gAo)" stroke="none"/>
<path d="M75,458L75.9,457.4L78,457L79.1,457.1L80.6,457.2L82.2,457.4L83.8,457.7L85.4,457.9L86.9,458L88,458L89.9,457.4L91,456L91.7,454.9L92.4,453.3L93.1,451.7L93.8,450.5L94.5,450L95.3,450.8L96.1,452.5L96.8,454.5L97.5,456L98,457.4L100,458L101,458L102.2,458L103.6,457.9L105.1,457.8L106.7,457.7L108.4,457.5L110.1,457.4L111.8,457.2L113.4,457.1L115,457L116.5,456.9L117.9,456.9L119.3,456.8L120.8,456.8L122.2,456.8L123.6,456.7L125.1,456.7L126.7,456.6L128.3,456.6L130,456.5L131.4,456.4L132.8,456.4L134.3,456.3L135.8,456.3L137.3,456.2L138.9,456.1L140.5,456.1L142.1,456L143.7,455.9L145.3,455.8L146.9,455.7L148.4,455.6L150,455.5L151.5,455L153.1,455.5L154.6,455.2L156.2,455.2L157.7,455.4L159.2,454.9L160.8,454.2L162.3,454.3L163.8,454.4L165.4,453.9L166.9,454.4L168.5,454.2L170,453.8L171.4,453.3L172.9,453.4L174.4,452.4L175.9,452.3L177.3,452.2L178.8,452.2L180.3,451.7L181.8,451L183.2,450.9L184.7,450.6L186,450.3L187.4,449.8L188.7,449.7L190,449.4L191.6,449.4L193,449L194.5,448.3L195.8,447.8L197.2,447.7L198.5,447.3L199.8,446.6L201,446.3L202.3,446L203.7,444.6L205,444.9L206.4,443.7L207.7,443.4L209.1,443.1L210.5,442.5L211.8,441.3L213.2,441.2L214.5,440L215.9,439.7L217.3,439.5L218.6,438.5L220,438.1L221.4,437.6L222.7,437.1L224.1,436.3L225.5,434.9L226.8,434.7L228.2,434L229.5,433L230.9,432.8L232.3,432.3L233.6,431.9L235,431.4L236.4,430.1L237.7,429.7L239.1,429.6L240.5,428.5L241.8,428.1L243.2,428L244.5,427.2L245.9,427.4L247.3,427.1L248.6,425.9L250,426L251.5,426L253,425.8L254.5,424.8L256,424.5L257.5,424.9L259,424.8L260.5,423.9L262,424L263.5,424.2L265,424.3L266.5,423.7L267.9,424.2L269.3,424.5L270.8,424.4L272.2,424.2L273.6,424.3L275.1,424.8L276.7,425.6L278.3,425.2L280,425.5L281.3,426.2L282.6,426.2L284,426.6L285.3,426.9L286.8,427.8L288.2,428.4L289.7,428.6L291.2,428.7L292.7,429.4L294.1,430.1L295.6,431L297.1,431.5L298.6,431.2L300,431.5L301.4,432.8L302.8,433.5L304.1,433.5L305.4,434.4L306.7,435L308,435.3L309.4,436.2L310.7,435.9L312.1,436.8L313.6,437.4L315.1,437.8L316.6,439.2L318.3,438.9L320,440.2L321.2,440L322.5,440.7L323.8,441.2L325.1,441.4L326.5,442.2L327.8,442.7L329.3,442.9L330.7,443.8L332.2,443.7L333.6,444.2L335.1,444.8L336.6,445.2L338.1,445.5L339.6,446.7L341.1,447L342.6,446.7L344.1,447.4L345.6,447.6L347.1,448.2L348.6,448.4L350,449L351.5,449.8L353,449.6L354.4,450.1L355.8,450.4L357.3,450.8L358.7,450.4L360.1,451.4L361.5,451.8L362.9,451.7L364.4,451.7L365.8,452.3L367.3,452.5L368.8,452.7L370.3,452.4L371.8,453.5L373.4,453.6L375,453.3L376.6,453.7L378.3,453.3L380,454.5L381.3,454.5L382.6,454.4L384,454.7L385.3,454.3L386.7,454.5L388,454.6L389.4,455.1L390.8,454.7L392.2,455.6L393.6,455.3L395.1,455.4L396.5,455.2L398,455.9L399.5,456.1L401,456L402.5,455.8L404,456.4L405.6,455.9L407.1,456.6L408.7,456.5L410.2,456.3L411.8,456.6L413.4,456.8L415.1,456.5L416.7,457.2L418.3,456.8L420,457.4L421.3,457.4L422.6,456.7L423.8,457.3L425,457L426.2,457.5L427.3,457.4L428.4,457.3L429.5,457.8L430.5,457L431.6,457.5L432.7,457.3L433.7,457.1L434.8,457.8L435.9,457.7L437.1,458L438.3,457.8L439.5,457.5L440.8,458.2L442.1,457.4L443.5,457.3L444.9,458L446.4,457.7L448.1,457.7L449.7,458.2L451.5,457.7L453.4,458.3L455.4,458.1L457.5,457.8L459.8,457.5L462.1,457.7L464.6,458.4L467.2,457.9L470,457.7L471,457.8L472.1,458.4L473.2,457.7L474.4,458.3L475.6,457.7L476.8,458.5L478,458.1L479.3,457.6L480.6,458.5L481.9,457.9L483.3,458.3L484.7,458.1L486.1,457.6L487.5,457.7L489,457.7L490.5,457.7L492,457.6L493.6,457.6L495.1,458.5L496.7,457.7L498.3,458.1L499.9,457.7L501.5,457.8L503.2,458.3L504.9,458.5L506.6,458L508.3,457.6L510,458.6L511.7,457.6L513.4,458L515.2,458.1L516.9,458.5L518.7,458.4L520.5,458.2L522.3,458L524.1,458.4L525.8,458.4L527.6,458.4L529.5,458.3L531.3,457.7L533.1,457.9L534.9,458.1L536.7,458.1L538.5,458.4L540.3,457.8L542.1,458.2L543.9,457.9L545.7,458.3L547.5,457.8L549.3,458L551.1,457.7L552.9,457.8L554.7,458.5L556.4,457.9L558.2,458.4L559.9,458.1L561.6,457.6L563.3,458.3L565,457.6L566.7,458.4L568.4,457.5L570.1,458.2L571.7,457.7L573.3,457.9L574.9,458.5L576.5,458L578.1,458.2L579.6,458.3L581.1,457.6L582.6,458.4L584.1,458.4L585.6,457.7L587,458.1L588.4,457.8L589.7,458.3L591.1,457.5L592.4,458L593.7,458.3L594.9,458.2L596.2,457.6L597.3,458.3L598.5,457.7L599.6,458.3L600.7,458L601.7,457.7L602.8,458.2L603.7,458.3L604.7,458.2L605.6,458.5L606.4,457.8L607.2,457.7L608,457.6" fill="none" stroke="#ffa352" stroke-width="2.8" stroke-linejoin="round" stroke-linecap="round"/>
<path d="M75.4,458L75.4,457.1L75.4,456L75.3,454.7L75.2,453.1L75.2,451.4L75.2,450.1L75.3,448.6L75.4,447.5L75.6,446.8L76.4,444.9L77.5,444.3L78.8,443.8L80,442.9L81.1,442.1L82.2,441.6L83.2,440.3L84.3,439.4L85.2,438.5L86.1,437.1L87,436.3L87.9,434.9L88.6,433.6L89.2,432.5L89.6,431.2L90,430.1L90.3,428.5L90.7,427.3L90.9,426L91.2,424.7L91.4,423.7L91.7,422.7L91.9,421.4L92.2,419.9L92.4,418.4L92.7,417L92.9,416L93.1,414.3L93.3,413.5L93.5,412.2L93.7,410.4L93.9,409.1L94.1,407.9L94.3,406.7L94.5,405.4L94.7,404.2L94.9,402.5L95,401.2L95.2,400.1L95.3,399L95.4,398L95.5,396.6L95.5,395.9L95.6,395L95.7,393.6L95.9,392.1L96,390.3L96.1,389.3L96.2,387.6L96.3,386.9L96.3,385.2L96.4,383.9L96.5,382.6L96.6,381.4L96.7,379.7L96.9,378.1L97,376.6L97.1,375.4L97.2,373.9L97.3,372L97.4,370.7L97.5,369.4L97.6,368.1L97.8,367.1L97.9,365.8L98,365L98.3,363.2L98.6,361.4L98.9,359.5L99.2,358.3L99.5,357.4L99.9,356.6L100.2,355.6L100.5,354.9L101.7,353.4L103,353.8L103.6,355L104.2,356L104.8,357.1L105.4,358.7L106,360L106.5,361.3L107,362.9L107.5,364.6L108,366.3L108.5,367.1L109,367.2L109.3,366.4L109.6,365.9L109.9,364.9L110.2,363.6L110.5,362.4L110.8,360.8L111.1,359.4L111.4,358.2L111.7,356.6L112,355.1L112.2,353.6L112.5,352.3L112.7,350.9L112.9,349.5L113.2,348L113.4,347L113.6,345.5L113.9,343.6L114.1,342.3L114.3,341.4L114.6,340L114.8,338.8L115,338L115.7,335.8L116.3,334.7L116.9,334.3L117.5,334L118.1,334.3L118.7,334.5L119.3,336L120,338.3L120.3,338.7L120.5,339.9L120.8,341.1L121.1,342.2L121.4,343.9L121.7,345L122.1,346.4L122.4,348.1L122.7,349.1L123,351L123.4,352L123.7,353.6L124,355L124.3,356.3L124.6,357.4L124.9,358.9L125.2,360.3L125.5,362L125.8,363.3L126.1,364.5L126.4,366L126.7,367.3L127,368.3L127.3,369.4L127.7,370.9L128,371.9L128.4,373L128.8,374.9L129.3,376.2L129.7,377.2L130.2,378.4L130.7,379.6L131.1,380.9L131.6,381.8L132.1,382.9L132.5,383.8L133,384.8L133.6,386.2L134.1,387.2L134.6,388.2L135.2,389.4L135.7,390.7L136.3,391.4L136.8,392.9L137.4,393.9L138,395.1L138.5,396.3L139,397L139.6,398.4L140.1,400.1L140.7,401.4L141.2,402.2L141.8,403.9L142.3,404.7L142.9,405.9L143.5,406.9L144,407.9L145,409.3L145.9,410.6L146.9,411.1L147.9,411.6L148.9,412.2L150,412.7L151,413.3L152.1,414L153.3,414.6L154.5,414.9L155.7,415.3L156.8,415.5L158,416.1L159.3,416.2L160.7,416.2L162.1,416.4L163.4,416.2L164.7,416.1L166,415.8L167.2,415.8L168.3,415.1L169.4,414.9L170.6,413.9L171.7,412.9L173,412.1L173.8,411.4L174.7,410.7L175.5,409.4L176.4,408.9L177.3,408L178.2,406.7L179.2,405.7L180.1,404.6L181.1,403.2L182,402.2L182.6,401.2L183.3,400.3L183.9,399.1L184.6,398.1L185.3,396.9L185.9,395.9L186.6,395L187.3,394L188,392.4L188.6,391.1L189.3,389.9L190,388.9L190.7,387.8L191.3,386.2L192,385L192.5,383.9L193.1,383.1L193.6,381.5L194.1,380.3L194.6,379.5L195.2,378.2L195.7,377L196.2,376.1L196.7,374.8L197.3,373.3L197.8,372.3L198.3,371.2L198.8,370L199.4,368.2L199.9,367.4L200.4,364.7L200.9,365.1L201.5,363.6L202,363.2L202.5,361.2L202.9,358.6L203.4,359L203.8,356.7L204.3,357.1L204.7,353.8L205.2,353.4L205.6,353.1L206.1,350.5L206.5,350.5L207,349.5L207.5,348.3L207.9,347.4L208.4,345L208.8,343L209.3,342.1L209.7,341.1L210.2,339L210.6,339.4L211.1,336.4L211.5,335.1L212,336.1L212.4,334.6L212.8,332L213.2,331L213.7,331L214.1,329.2L214.5,327L214.9,326.2L215.3,326L215.8,322.5L216.2,323.8L216.6,321.5L217,319.2L217.4,319.5L217.8,316.3L218.2,315.9L218.7,315.1L219.1,313L219.5,313.4L219.9,311.6L220.3,309L220.8,307.7L221.2,306.3L221.6,306.4L222,304.2L222.5,303.8L222.9,303.3L223.4,302.1L223.8,298.9L224.3,298.2L224.7,297.2L225.2,295.8L225.6,294.7L226.1,293.6L226.5,293.1L227,290.7L227.5,289.6L227.9,288.5L228.4,286.7L228.8,286.8L229.3,285L229.7,285.1L230.2,283.6L230.6,280.9L231.1,279.7L231.5,279.9L232,278.2L232.5,275.5L233,275.8L233.4,273.9L233.9,273.6L234.4,272.3L234.9,271.4L235.3,269.6L235.8,268.8L236.3,265.9L236.8,264.8L237.2,262.8L237.7,263.6L238.2,260.5L238.7,260.3L239.1,259L239.6,258.6L240.1,256.3L240.6,254.5L241,253.9L241.5,251.9L242,251.5L242.6,251L243.2,248.2L243.8,249.3L244.4,246.8L244.9,244.9L245.5,245L246.1,242L246.7,241.3L247.3,241.7L247.9,238.7L248.5,238.8L249.1,236L249.6,236.1L250.2,235.4L250.8,233.2L251.4,232.5L252,232.1L252.9,230.9L253.7,228.5L254.6,228L255.6,228.3L256.5,225.5L257.4,225.6L258.3,223.1L259.1,222.9L259.9,222.2L260.7,221.6L261.4,221.2L262,220.8L263.7,218.9L264.7,218.7L266,219L267,217.8L268.2,219.5L269.4,219.3L270.6,219.4L272,220.1L272.9,222.4L273.9,222.8L274.9,222.1L275.9,224.3L277,223.8L278,225.7L279,227.1L280,228.4L280.8,228.1L281.6,228.8L282.4,231.2L283.1,232.8L283.9,233.9L284.6,233.9L285.4,235.7L286.2,237.3L287,239L287.6,239L288.3,240.9L288.9,240.4L289.5,241.1L290.2,242.3L290.8,244.5L291.5,246L292.1,246.1L292.8,247.9L293.5,247.9L294.3,250.3L295,251.8L295.4,252.8L295.8,253.1L296.2,255.3L296.6,256.4L296.9,257.5L297.3,258.9L297.7,259.3L298.1,261.5L298.5,262L298.9,264L299.4,264.1L299.8,266.1L300.2,266.1L300.6,267.1L301.1,270.6L301.5,270.5L302,270.9L302.5,273.8L302.9,275.9L303.4,276.8L303.9,278.7L304.5,279.8L305,279.9L305.5,280.4L306,281.1L306.5,282.8L307,284.9L307.6,286.8L308.1,285.6L308.7,288.9L309.2,289.9L309.8,290.8L310.4,290.6L311,291.5L311.6,294.5L312.2,295.4L312.8,295.9L313.4,297L314,297.4L314.6,301.1L315.2,301.9L315.8,303.5L316.4,304.3L317,304.6L317.6,306.9L318.2,306.4L318.8,308.9L319.4,309.1L320,310.7L320.5,313.1L321,313.1L321.6,315.5L322.1,315.9L322.6,316.3L323.1,317.4L323.6,318L324.1,320.7L324.7,322.6L325.2,322.3L325.7,324.2L326.2,326.7L326.7,326.4L327.2,329.1L327.8,330L328.3,330.4L328.8,332L329.3,331.8L329.8,334.2L330.3,336L330.9,335.9L331.4,336.6L331.9,337.8L332.4,339.3L332.9,340.7L333.4,343.4L334,343.6L334.5,345L335,345.5L335.6,346.7L336.2,348.6L336.7,350.4L337.3,350.2L337.9,352.1L338.5,353.8L339,355.9L339.6,355.3L340.2,356.9L340.8,358.5L341.3,358.6L341.9,361L342.5,363.2L343.1,362.5L343.7,364.2L344.2,364.4L344.8,366.6L345.4,368.9L346,368.9L346.5,369.1L347.1,370.4L347.7,372.3L348.3,373.9L348.8,373.9L349.4,375L350,376.8L350.8,376.3L351.6,379.7L352.4,379.6L353.2,380.5L353.9,382.8L354.7,382.5L355.5,383.3L356.3,384.6L357.1,386.7L357.9,386.2L358.7,388.1L359.5,388.5L360.3,390.3L361.1,390.2L361.8,392.8L362.6,394.2L363.4,393.6L364.2,394.6L365,396.3L365.8,397.7L366.6,397L367.4,399.6L368.2,401L369,402L369.8,402.1L370.6,404.1L371.4,404.4L372.2,404.5L373,405.7L373.8,407.5L374.6,408.4L375.5,410L376.3,410.8L377.2,410.4L378.1,411.9L379,413.8L380,413.9L380.9,414.2L381.9,416.9L382.9,416.5L383.9,417L384.9,418.4L385.9,418.7L387,419.5L388.1,421.4L389.1,422.6L390.2,422.4L391.3,422.6L392.4,424.2L393.5,424.8L394.6,425.7L395.7,426L396.8,428.1L397.9,427.3L398.9,427.6L400,430L401.2,430.9L402.4,430.3L403.5,430.8L404.7,432.5L405.9,434L407.1,432.9L408.2,434.3L409.4,434.1L410.6,435.9L411.8,435.8L412.9,436.1L414.1,437.4L415.3,437.6L416.5,437.2L417.6,438.3L418.8,440.2L420,440.3L421.2,440.1L422.4,440.9L423.6,440.1L424.8,441.3L425.9,443L427.1,441.6L428.2,444.1L429.4,444.2L430.6,444.2L431.8,443.8L433,443.5L434.3,444.4L435.6,446L437,445.5L438.5,446.9L440,445.8L441.1,447.6L442.2,448L443.4,447.8L444.6,446.7L445.9,447L447.1,446.9L448.4,447.1L449.7,449.1L451,448.7L452.3,449.6L453.7,448.6L455.1,449L456.4,450.6L457.8,451.1L459.2,449L460.5,450.9L461.9,450.5L463.3,449.3L464.7,451.1L466,450.4L467.4,450.8L468.7,452.5L470,452.1L471.3,450.5L472.5,452.3L473.8,450.7L475,453.2L476.2,452.6L477.3,452.8L478.5,451.3L479.6,451.6L480.8,452.9L482,452.7L483.2,454L484.4,452.7L485.6,453.1L486.8,452.5L488.1,453.6L489.4,454.9L490.7,453.2L492.1,454.7L493.6,453.2L495.1,455.2L496.7,454.3L498.3,453.4L500,455.2L501.1,455.6L502.1,453.7L503.3,453.7L504.4,454.1L505.5,454.9L506.7,456.1L507.9,455.9L509.1,454.5L510.3,453.9L511.5,455.4L512.8,455.4L514,454.6L515.3,455.6L516.6,456.6L517.9,454.5L519.2,455L520.6,456.4L521.9,454.7L523.2,454.7L524.6,454.8L526,456.4L527.4,454.8L528.7,454.8L530.1,456.2L531.5,456.6L532.9,456.6L534.3,455.8L535.8,457.2L537.2,455.2L538.6,456L540,455.9L541.4,456.4L542.9,455.5L544.3,455.4L545.7,457.6L547.2,455.9L548.6,456.5L550,457.6L551.2,456L552.5,456.2L553.8,456.8L555.1,455.5L556.4,455.4L557.8,457L559.2,456.4L560.6,455.7L562,456.2L563.5,457.3L564.9,457.5L566.4,456.9L567.9,456.2L569.4,457.8L570.9,456.2L572.4,457.6L573.9,456.1L575.4,458.2L576.9,457.8L578.4,457.1L579.9,456.9L581.4,457.3L582.9,457.6L584.3,457.3L585.8,457.7L587.2,456.1L588.6,457L590,457.9L591.3,457.1L592.7,458.5L594,457.4L595.2,456.8L596.5,458.4L597.7,457.1L598.9,457.5L600,457.7L601.1,458.3L602.1,456.7L603.1,458.4L604.1,457.6L605,457.1L605.8,457L606.6,458.6L607.3,458.6L608,457.6" fill="none" stroke="#6bcf4b" stroke-width="2.8" stroke-linejoin="round" stroke-linecap="round"/>
<path d="M75.4,457.9L75.4,457.6L75.4,455.7L75.3,454.5L75.3,453.4L75.2,452L75.2,449.9L75.1,448.4L75.1,446.8L75.1,445.4L75.2,444L75.3,442.7L75.4,441.7L75.9,440.2L76.6,438.8L77.4,438.6L78.3,437.7L79,436.7L79.8,436.1L80.5,435.4L81.3,434.2L82,433.1L82.8,432.8L83.6,432.2L84.3,431.4L85,430.2L85.4,429.1L85.8,427.8L86.1,426.5L86.4,425.1L86.7,424.5L87,423L87.3,421.6L87.6,420.3L87.8,419.2L88.1,418.4L88.3,416.7L88.6,415.3L88.8,414.3L89.1,413L89.3,412L89.5,410.5L89.8,409.2L90,408.4L90.3,407L90.6,405.2L90.9,404.1L91.1,402.9L91.4,401.1L91.5,400.5L91.7,399.4L91.8,397.7L92,396.9L92.1,395.3L92.2,393.7L92.4,392.6L92.5,391.4L92.6,390.2L92.7,389.2L92.9,388.1L93,386.7L93.1,385.8L93.2,384.4L93.3,383.5L93.5,381.7L93.6,379.7L93.7,379.3L93.7,377.7L93.8,376.9L93.8,376.3L93.9,375.2L94,374L94,373.2L94.1,371.6L94.2,370.4L94.2,369.4L94.3,367.7L94.4,366.8L94.5,365.6L94.5,364L94.6,362.5L94.7,360.2L94.8,358.7L94.9,357.2L95,355.3L95.1,354.1L95.1,353.1L95.2,351.7L95.2,350.6L95.3,349.3L95.3,348.8L95.4,347L95.5,346.3L95.5,344.3L95.6,343.6L95.7,342L95.7,340.3L95.8,339.4L95.9,338L95.9,336.6L96,335.2L96.1,333.7L96.1,332.4L96.2,330.6L96.3,329.6L96.3,327.8L96.4,326.2L96.5,325.4L96.6,323.4L96.6,322.1L96.7,320.9L96.8,319.6L96.8,317.9L96.9,316.3L97,315.4L97,314.1L97.1,313L97.2,311.4L97.2,310.6L97.3,309.4L97.3,308.4L97.4,307.2L97.4,306.1L97.5,305L97.6,303.4L97.7,301.1L97.8,299.8L97.9,298.4L98,297L98.1,295.1L98.1,294L98.2,293.3L98.3,292L98.4,290.4L98.5,289.6L98.5,288.8L98.6,287.7L98.7,286.3L98.7,284.8L98.8,283.7L98.9,282.3L98.9,281.1L99,279.6L99.1,278.9L99.1,277.7L99.1,276.2L99.2,275.3L99.2,273.4L99.3,272.1L99.3,271L99.3,269.6L99.4,267.9L99.4,267.1L99.4,265.5L99.5,264.1L99.5,262.6L99.5,261.4L99.6,259.6L99.6,258.5L99.6,257.4L99.7,256.1L99.7,254.8L99.8,253.1L99.9,252.2L99.9,251.5L100,250.4L100.1,248.7L100.2,246.5L100.4,244.9L100.5,243.4L100.7,242.3L100.8,240.3L101,238.8L101.2,237.4L101.3,236.4L101.5,235L101.7,234L101.8,232.2L102,231.2L102.2,230.8L102.3,229.4L102.5,229.2L103.8,227.2L105,228.8L105.4,229.9L105.7,232L106.1,233.4L106.4,236.2L106.8,236.9L107.1,237.7L107.5,237.6L107.6,236.8L107.7,237L107.9,236.1L108,235.2L108.1,234.7L108.2,234.3L108.3,233.8L108.4,232.5L108.5,231.7L108.7,230.8L108.8,229.7L108.9,228.4L109,226.7L109.1,225.1L109.3,223.8L109.4,221.9L109.5,219.4L109.7,217.6L109.8,214.4L110,212.3L110,211.5L110.1,210.3L110.1,209.5L110.2,208L110.3,207.6L110.3,206.4L110.4,205.3L110.4,204.2L110.5,202.7L110.5,202.1L110.6,200.6L110.6,199.4L110.7,197.8L110.7,196.9L110.8,195.3L110.9,194.4L110.9,192.5L111,191.2L111,189.9L111.1,188.6L111.2,187.6L111.2,185.5L111.3,184.4L111.3,182.6L111.4,181.4L111.5,179.8L111.5,178.2L111.6,177L111.7,175.4L111.7,173.8L111.8,172.5L111.8,170.7L111.9,169.8L112,167.7L112,166.8L112.1,164.6L112.2,163.7L112.2,161.5L112.3,159.9L112.4,158.5L112.4,157.5L112.5,155.6L112.5,154.2L112.6,153L112.7,151L112.7,150L112.8,148.5L112.9,146.9L112.9,146.1L113,144.3L113,142.9L113.1,141.9L113.2,140.7L113.2,138.9L113.3,137.5L113.4,137L113.4,135.3L113.5,134.2L113.5,133L113.6,132.2L113.7,130.8L113.7,130L113.8,128.8L113.8,127.4L113.9,126.8L113.9,126.2L114,125L114.2,122.4L114.3,119.7L114.5,118.1L114.7,115.8L114.8,113.8L115,112.1L115.2,110.5L115.4,109L115.5,107.5L115.7,106.4L115.8,104.9L116,104L116.2,103.1L116.3,102.6L116.5,101.4L116.6,100.7L116.8,100.3L116.9,99.5L117.1,98.8L117.2,98.2L117.4,97.6L117.5,96.8L118.2,94.7L118.7,94.7L119.3,97L120,102.1L120.1,102.9L120.2,103.2L120.3,104.8L120.4,105.5L120.5,106.6L120.6,107.4L120.8,109.2L120.9,109.8L121,111.2L121.1,112.7L121.2,114.1L121.4,115.5L121.5,117.3L121.6,118L121.7,120L121.9,121.3L122,123.1L122.1,124.5L122.3,126.2L122.4,127.7L122.5,129.2L122.6,130.2L122.8,132L122.9,133.6L123,135.1L123.2,136.6L123.3,137.6L123.4,138.6L123.5,140.5L123.6,141.4L123.8,142.9L123.9,143.5L124,144.9L124.2,146.8L124.4,148L124.5,149.7L124.7,151.2L124.9,153.3L125,154.7L125.2,156.1L125.4,157.5L125.5,159.2L125.7,160L125.9,161.7L126,162.5L126.2,164.1L126.4,165L126.5,166L126.7,167.8L126.8,168.3L127,169.8L127.2,170.5L127.3,171.3L127.5,172.1L128.2,174.5L128.8,174.5L129.5,175.2L130.2,175.1L131,176.7L131.2,178.1L131.5,178.4L131.7,179.6L132,180.9L132.2,181.5L132.5,183L132.8,184.1L133,185.4L133.3,186.2L133.6,188L133.9,189.5L134.2,190.3L134.5,192.5L134.8,194L135.1,195L135.4,197.1L135.7,198.7L136,199.7L136.2,201.3L136.4,202.5L136.6,203.6L136.8,204.2L137.1,205.7L137.3,207.1L137.5,208.2L137.7,209.6L138,210.7L138.2,212L138.4,213.6L138.7,215.1L138.9,216.6L139.1,218.3L139.4,219.1L139.6,220.7L139.8,222.5L140.1,223.8L140.3,224.6L140.5,226.4L140.8,227.3L141,229.3L141.2,230L141.4,231.5L141.7,232.6L141.9,233.8L142.1,234.7L142.3,235.9L142.5,236.8L142.9,238.8L143.2,240.4L143.5,242.1L143.9,243.6L144.2,245.1L144.5,246.8L144.8,247.8L145.1,249L145.4,250.3L145.7,251.4L146,252.4L146.3,253.2L146.6,254.5L146.9,255.1L147.2,256.3L147.5,257.3L148.5,259.2L149.4,260.5L150.3,260.7L151.3,261.1L152.5,261.8L153.6,262.6L154.8,262.8L156.1,263.2L157.4,264.2L158.7,263.9L160,263.7L161.3,263.9L162.5,263.9L163.8,263.5L165,262.7L166.2,262.2L167.5,260.7L168.1,260.4L168.7,259.7L169.3,258L169.9,257.4L170.5,256.5L171.1,255.2L171.7,253.5L172.3,252.2L172.9,251.1L173.6,249.4L174.3,248.7L175,247L175.5,245.8L176.1,245.2L176.6,243.6L177.2,242.8L177.8,241.6L178.3,240.1L178.9,239.5L179.5,238.3L180.1,236.1L180.8,235.5L181.4,234L182,234.3L182.6,232.4L183.2,231.9L183.8,230.2L184.4,229L185,226.5L185.5,226.8L186,224.4L186.6,224.6L187.1,223.2L187.6,221.6L188.1,219.6L188.6,219.6L189.1,218.6L189.6,217.7L190.1,214.9L190.6,214.3L191.2,213.9L191.7,213.5L192.2,210.7L192.8,211.2L193.3,210.2L193.9,206.6L194.4,206.9L195,204.7L195.4,203L195.9,202.1L196.4,201.3L196.8,199.2L197.3,199.8L197.8,197.9L198.3,196.3L198.8,196.4L199.3,195.3L199.8,192.7L200.3,191L200.8,190.4L201.2,188.6L201.7,188.5L202.2,185.7L202.7,184L203.2,182.4L203.7,181.6L204.2,180.2L204.7,181.2L205.2,179.5L205.6,178.1L206.1,178L206.6,176.2L207,175.5L207.8,172.5L208.6,171.4L209.4,170.9L210.2,170.3L211,167.7L211.7,167.1L212.5,165.7L213.2,164.8L214,164.7L214.7,164.7L215.5,164L216.2,162.1L217,159.8L217.9,159.3L218.8,159.2L219.7,158.8L220.6,155.7L221.5,156.5L222.5,155.6L223.4,152.7L224.3,154L225.2,152.4L226.1,152.4L227,151.5L228.2,150.9L229.5,151.1L230.8,150.7L232,149.8L233.2,149.8L234.5,151.6L235.8,150L237,150.7L238.1,150.4L239.2,151.3L240.2,152.4L241.3,152L242.3,153.2L243.4,154.4L244.6,154.6L245.8,156.6L247,157L247.8,157.3L248.6,159.1L249.5,159.5L250.3,160.1L251.2,160.3L252.1,163.4L253,162.3L254,163.8L254.9,165.4L255.8,167.4L256.7,166.9L257.5,167.5L258.4,170.2L259.2,172L260,171.9L260.7,174.3L261.3,173.6L261.9,176.1L262.5,174.9L263.1,177.7L263.7,179.4L264.2,178.9L264.8,181.5L265.3,182L265.9,182.5L266.4,183L267,185.8L267.6,186.3L268.2,188L268.8,188.5L269.4,189.4L270,191L270.5,193.4L271,193.2L271.5,194.7L272,196.6L272.5,196.9L273,198.6L273.5,199.6L274,201.7L274.5,201.9L275,202.8L275.5,205.9L276.1,205L276.6,207.5L277.1,208.7L277.7,209.3L278.2,211.6L278.7,212.9L279.3,213.4L279.8,214.3L280.4,215.1L280.9,218.4L281.5,220L282,219.4L282.5,220.7L282.9,222.6L283.4,224.1L283.9,225.5L284.4,226.4L284.9,227.4L285.4,228.4L285.9,228L286.4,230.5L286.9,232.3L287.4,232.4L287.9,233.5L288.4,235.2L288.9,236.7L289.4,236.6L289.9,239.7L290.4,240.8L290.9,240.8L291.3,242L291.8,243L292.3,244.9L292.8,247.5L293.2,247.2L293.7,249.7L294.1,248.9L294.6,250.2L295,252L295.5,252.4L296,253.6L296.4,256.3L296.9,256.6L297.3,258.8L297.7,258.8L298.1,260.2L298.5,262.9L298.9,263.3L299.3,263.3L299.7,265.2L300.1,265.5L300.5,266.6L300.9,269.1L301.3,269.1L301.7,270.6L302.1,271.4L302.5,272.7L303,274.8L303.5,275.3L304,277L304.5,278.5L305,279.2L305.5,280.2L306,281.3L306.4,284.5L307,284.1L307.5,285.5L308,287.4L308.5,288.7L309.1,289.6L309.6,291.3L310.2,291.5L310.8,291.7L311.3,294.1L311.9,294.8L312.5,297L313.1,296.7L313.6,299L314.2,298.5L314.8,300.7L315.4,301.8L316,302.3L316.6,305.4L317.2,306.7L317.7,306.4L318.3,308.8L318.9,310.6L319.4,311L320,311.7L320.5,313.6L321,314.1L321.6,315.7L322.1,317.1L322.6,317.4L323.1,319.6L323.6,320.4L324.1,321.8L324.7,322.3L325.2,324.7L325.7,324.4L326.2,326.5L326.7,327.8L327.2,327.7L327.8,331L328.3,331.6L328.8,331.6L329.3,334.9L329.8,335.7L330.3,337.5L330.9,338.1L331.4,338.8L331.9,340.8L332.4,340.9L332.9,342.2L333.4,343.2L334,344.3L334.5,347L335,347L335.6,348.3L336.2,349.2L336.7,350.3L337.3,351.3L337.9,354.4L338.5,355.1L339,355.7L339.6,357.2L340.2,359L340.8,359L341.3,360L341.9,361.7L342.5,362.8L343.1,365L343.7,366.3L344.2,367.4L344.8,368.1L345.4,368.7L346,368.9L346.5,372L347.1,372.9L347.7,373.1L348.3,374.7L348.8,376.1L349.4,375.5L350,377.2L350.8,379.5L351.6,378.8L352.4,379.8L353.2,383.1L353.9,384L354.7,382.9L355.5,385.4L356.3,386.6L357.1,387.8L357.9,388.6L358.7,389.4L359.5,390.5L360.3,391.5L361.1,391.1L361.8,392.2L362.6,393.5L363.4,396.1L364.2,395.9L365,397.3L365.8,399.3L366.6,398.1L367.4,399.4L368.2,400.6L369,403.3L369.8,403.8L370.6,403.3L371.4,404.2L372.2,405.5L373,408.4L373.8,408.1L374.6,410.3L375.5,411.2L376.3,412.5L377.2,412.3L378.1,412.6L379,414.1L380,416L380.9,417L381.9,416.5L382.9,417.6L383.9,419.2L384.9,419L385.9,419.5L387,420.4L388.1,421.7L389.1,421.9L390.2,424.1L391.3,424.6L392.4,426.1L393.5,426.4L394.6,426.4L395.7,426.4L396.8,427.3L397.9,429.7L398.9,429.7L400,429L401.2,430.7L402.4,432.1L403.5,432.9L404.7,433.6L405.9,434.5L407.1,434L408.2,435.1L409.4,434.1L410.6,436.2L411.8,436.4L412.9,436.1L414.1,436.8L415.3,438.5L416.5,437.8L417.6,438.6L418.8,439.2L420,440.7L421.2,439.7L422.4,439.9L423.6,440.7L424.8,442.6L425.9,441.3L427.1,443.1L428.2,443.4L429.4,443.5L430.6,443.8L431.8,444.8L433,443.9L434.3,445L435.6,445.6L437,445.3L438.5,446.7L440,446.5L441.1,446.1L442.2,446.5L443.4,447.3L444.6,448.4L445.9,449L447.1,448.5L448.4,447.6L449.7,449.2L451,450.2L452.3,448.3L453.7,449.2L455.1,448.6L456.4,450.3L457.8,449.3L459.2,451.6L460.5,450.4L461.9,451.2L463.3,450.6L464.7,450.8L466,450.2L467.4,452.6L468.7,451.2L470,451.3L471.3,451.8L472.5,451.5L473.8,452L475,452.1L476.2,454L477.3,453.9L478.5,452.5L479.6,454.1L480.8,452.2L482,453.7L483.2,454.6L484.4,453L485.6,453L486.8,454.8L488.1,454.5L489.4,455.5L490.7,453.5L492.1,453.5L493.6,453.4L495.1,454.2L496.7,453.6L498.3,455.2L500,453.9L501.1,454.9L502.1,455.2L503.3,454.1L504.4,455.8L505.5,456.6L506.7,455.1L507.9,455.5L509.1,455.2L510.3,456.8L511.5,456.5L512.8,456.9L514,455.4L515.3,455.3L516.6,454.6L517.9,454.8L519.2,457.2L520.6,456.2L521.9,455.9L523.2,455.2L524.6,457.3L526,455L527.4,456.7L528.7,456.6L530.1,457L531.5,457.1L532.9,456.9L534.3,456.7L535.8,456.4L537.2,457.4L538.6,455.7L540,456.1L541.4,457.5L542.9,457.8L544.3,457.3L545.7,455.7L547.2,457.8L548.6,458.2L550,456.9L551.2,456.7L552.5,456.7L553.8,457.4L555.1,456.3L556.4,456.2L557.8,458.5L559.2,457.2L560.6,457.3L562,456.8L563.5,456.1L564.9,456.2L566.4,456.2L567.9,457.9L569.4,458.1L570.9,458.6L572.4,458.6L573.9,456.6L575.4,456.3L576.9,458L578.4,457L579.9,458.6L581.4,457.6L582.9,457.5L584.3,457.5L585.8,457.2L587.2,457.9L588.6,456.9L590,458.6L591.3,458.6L592.7,458.6L594,458.6L595.2,458.3L596.5,458.6L597.7,458.5L598.9,457.8L600,456.6L601.1,457.9L602.1,458L603.1,458.5L604.1,458.6L605,458.3L605.8,456.9L606.6,456.9L607.3,458.6L608,458.6" fill="none" stroke="#74a3db" stroke-width="2.8" stroke-linejoin="round" stroke-linecap="round"/>
</g>
<rect x="65.6" y="21" width="543.9" height="437.6" fill="none" stroke="#000" stroke-width="3.0"/>
<path d="M65.6,458.6v8.9M174.4,458.6v8.9M283.2,458.6v8.9M391.9,458.6v8.9M500.7,458.6v8.9M609.5,458.6v8.9M120,458.6v4.6M228.8,458.6v4.6M337.5,458.6v4.6M446.3,458.6v4.6M555.1,458.6v4.6" stroke="#000" stroke-width="2.9" fill="none"/>
<text x="65.6" y="493.3" font-size="25" text-anchor="middle">300</text>
<text x="174.4" y="493.3" font-size="25" text-anchor="middle">400</text>
<text x="283.2" y="493.3" font-size="25" text-anchor="middle">500</text>
<text x="391.9" y="493.3" font-size="25" text-anchor="middle">600</text>
<text x="500.7" y="493.3" font-size="25" text-anchor="middle">700</text>
<text x="609.5" y="493.3" font-size="25" text-anchor="middle">800</text>
<text x="337.6" y="535.6" font-size="27" font-weight="700" text-anchor="middle">Wavelength (nm)</text>
<text x="45.4" y="240.3" font-size="27" font-weight="700" text-anchor="middle" transform="rotate(-90 45.4 240.3)">PL intensity (a.u)</text>
<text x="-3.4" y="31" font-size="44.5">(a)</text>
<rect x="314.6" y="46.8" width="46.8" height="22.4" fill="url(#lAo)" stroke="#ff7f0e" stroke-width="2.6"/>
<rect x="314.6" y="80" width="46.8" height="22.9" fill="url(#lAg)" stroke="#5cc83c" stroke-width="2.6"/>
<rect x="314.6" y="113.1" width="46.8" height="22.6" fill="url(#lAb)" stroke="#7aa7dc" stroke-width="2.6"/>
<text x="376.5" y="67.6" font-size="26.6">Hexane</text>
<text x="376.5" y="100.2" font-size="26.6">Hex:Paraffin = 1:1</text>
<text x="376.5" y="133.4" font-size="26.6">Paraffin</text>
<g clip-path="url(#cpb)">
<path d="M64.5,720C65,721.7 66.4,727.2 67.5,730C68.6,732.8 70,735.2 71.2,737C72.5,738.8 73.5,739.9 75,740.5C76.5,741.1 78.3,741.2 80,740.5C81.7,739.8 83.3,738.2 85,736.2C86.7,734.3 88.3,732.7 90,728.8C91.7,724.8 93.3,718.1 95,712.5C96.7,706.9 98.3,700 100,695C101.7,690 103.3,685.5 105,682.5C106.7,679.5 108.3,677.8 110,676.8C111.7,675.7 113.3,676.2 115,676.2C116.7,676.2 118.3,677.3 120,676.8C121.7,676.2 123.3,674.5 125,673C126.7,671.5 128.5,668.5 130,667.5C131.5,666.5 132.5,666.2 133.8,667C135,667.8 136.2,669.5 137.5,672.5C138.8,675.5 140,679.6 141.2,685C142.5,690.4 143.5,696.7 145,705C146.5,713.3 148.3,726.2 150,735C151.7,743.8 153.3,751 155,757.5C156.7,764 158.3,769.8 160,773.8C161.7,777.7 163.1,779.5 165,781.2C166.9,783 169.2,784.2 171.2,784.2C173.3,784.2 175.2,782.6 177.5,781.2C179.8,779.9 182.3,777.7 185,776.2C187.7,774.8 191.2,772.9 193.8,772.5C196.2,772.1 197.7,772.7 200,773.8C202.3,774.8 204.6,776.9 207.5,778.8C210.4,780.6 214.6,782.7 217.5,785C220.4,787.3 222.5,789.4 225,792.5C227.5,795.6 230.2,799.6 232.5,803.8C234.8,807.9 236.7,811.9 238.8,817.5C240.8,823.1 242.7,829.6 245,837.5C247.3,845.4 249.8,855 252.5,865C255.2,875 258.3,888.8 261.2,897.5C264.2,906.2 267.3,910.4 270,917.5C272.7,924.6 275,932.5 277.5,940C280,947.5 282.5,955.8 285,962.5C287.5,969.2 290,975 292.5,980C295,985 298.1,990 300,992.5C301.9,995 302.3,995 303.8,995C305.2,995 307.2,993.5 308.8,992.5C310.3,991.5 311.8,989.2 313,989.2C314.2,989.2 315.1,989.9 316.2,992.5C317.4,995.1 318.5,1000.4 320,1005C321.5,1009.6 323.1,1015.8 325,1020C326.9,1024.2 329.2,1027.6 331.2,1030C333.3,1032.4 335.2,1033.7 337.5,1034.5C339.8,1035.4 300.1,1035.2 345,1035.3C389.9,1035.4 563.3,1035.3 607,1035.3" fill="none" stroke="#3d9eff" stroke-width="2.9" stroke-linejoin="round" stroke-linecap="round"/>
<path d="M64.5,937.5C64.7,929.6 65,906.2 65.5,890C66,873.8 67,855.4 67.5,840C68,824.6 67.9,810.8 68.8,797.5C69.6,784.2 71.5,769.2 72.5,760C73.5,750.8 74.1,746.2 75,742.5C75.9,738.8 77,736.8 78,738C79,739.2 80.1,745.1 81.2,750C82.4,754.9 84,763.5 85,767.5C86,771.5 86.6,774.2 87.5,773.8C88.4,773.3 89.5,772.3 90.5,765C91.5,757.7 92.6,743.3 93.8,730C94.9,716.7 96.3,697.5 97.5,685C98.7,672.5 99.7,661.5 100.8,655C101.8,648.5 102.8,646.2 103.8,646.2C104.7,646.2 105.3,651.7 106.2,655C107.2,658.3 108.5,663.8 109.5,666.2C110.5,668.8 111.4,666.9 112.5,670C113.6,673.1 115,680.4 116.2,685C117.5,689.6 118.5,694.8 120,697.5C121.5,700.2 123.7,701.7 125,701.2C126.3,700.8 127,699 128,695C129,691 130.1,681.7 131.2,677.5C132.4,673.3 133.8,670.8 135,670C136.2,669.2 137.5,670.4 138.8,672.5C140,674.6 141.2,676.7 142.5,682.5C143.8,688.3 145,700 146.2,707.5C147.5,715 148.8,723.3 150,727.5C151.2,731.7 152.5,729.6 153.8,732.5C155,735.4 156.3,741.5 157.5,745C158.7,748.5 159.7,753.8 160.8,753.8C161.8,753.8 162.6,748.3 163.8,745C164.9,741.7 166.2,735.9 167.5,733.8C168.8,731.6 169.8,732.1 171.2,732C172.7,731.9 174.4,731.7 176.2,733C178.1,734.3 180.5,737.5 182.5,740C184.5,742.5 186.5,748.4 188,748C189.5,747.6 190.1,743.4 191.2,737.5C192.4,731.6 193.8,720.4 195,712.5C196.2,704.6 197.6,695.3 198.8,690C199.9,684.7 201,681.8 202,680.5C203,679.2 203.9,679.7 205,682.5C206.1,685.3 207.5,693.8 208.8,697.5C210,701.2 211.2,704.2 212.5,705C213.8,705.8 215.2,702.2 216.2,702C217.3,701.8 217.7,700.8 218.8,703.8C219.8,706.8 221.5,716.2 222.5,720C223.5,723.8 224,724.6 225,726.2C226,727.9 227.3,727.7 228.8,730C230.2,732.3 232.4,737.7 233.8,740C235.1,742.3 236,744 237,743.8C238,743.5 238.9,741.9 240,738.8C241.1,735.6 242.7,727.9 243.8,725C244.8,722.1 245.4,721.5 246.2,721.2C247.1,721 247.7,720.2 248.8,723.8C249.8,727.3 251,734.8 252.5,742.5C254,750.2 255.9,762.7 257.5,770C259.1,777.3 260.8,783.1 262,786.2C263.2,789.4 263.8,788.6 265,788.8C266.2,788.9 268.2,786.8 269.5,787C270.8,787.2 271.4,787.4 272.5,790C273.6,792.6 274.8,796.7 276.2,802.5C277.7,808.3 279.6,818.8 281.2,825C282.9,831.2 284.8,835 286.2,840C287.7,845 288.8,850.1 290,855C291.2,859.9 292.5,866.9 293.8,869.5C295,872.1 296.5,870.4 297.5,870.5C298.5,870.6 299,869.2 300,870C301,870.8 301.9,871.2 303.8,875C305.6,878.8 308.5,885 311.2,892.5C314,900 317.3,912.2 320,920C322.7,927.8 325.2,933.3 327.5,939C329.8,944.7 332.1,948.8 333.8,954C335.4,959.2 336.5,965.2 337.5,970C338.5,974.8 338.8,977.6 340,983C341.2,988.4 343.3,997.2 345,1002.5C346.7,1007.8 347.9,1011.1 350,1015C352.1,1018.9 355.4,1023.4 357.5,1026C359.6,1028.6 360.4,1029.4 362.5,1030.5C364.6,1031.6 367.1,1032.1 370,1032.8C372.9,1033.5 371.7,1034.4 380,1034.8C388.3,1035.2 405,1035.1 420,1035.1C435,1035.1 460,1035 470,1034.8C480,1034.6 475.8,1034.1 480,1034C484.2,1033.9 490,1033.8 495,1034C500,1034.2 491.3,1034.9 510,1035.1C528.7,1035.3 590.8,1035.3 607,1035.3" fill="none" stroke="#ff7f0e" stroke-width="2.9" stroke-linejoin="round" stroke-linecap="round"/>
</g>
<rect x="63.6" y="598.3" width="543.8" height="437.7" fill="none" stroke="#000" stroke-width="3.0"/>
<path d="M63.6,1036v8.9M199.5,1036v8.9M335.5,1036v8.9M471.4,1036v8.9M607.4,1036v8.9M131.6,1036v4.6M267.5,1036v4.6M403.5,1036v4.6M539.4,1036v4.6" stroke="#000" stroke-width="2.9" fill="none"/>
<text x="63.6" y="1070.2" font-size="25" text-anchor="middle">250</text>
<text x="199.5" y="1070.2" font-size="25" text-anchor="middle">300</text>
<text x="335.5" y="1070.2" font-size="25" text-anchor="middle">350</text>
<text x="471.4" y="1070.2" font-size="25" text-anchor="middle">400</text>
<text x="607.4" y="1070.2" font-size="25" text-anchor="middle">450</text>
<text x="335.5" y="1113.2" font-size="27" font-weight="700" text-anchor="middle">Wavelength (nm)</text>
<text x="45" y="817.1" font-size="25" font-weight="700" text-anchor="middle" transform="rotate(-90 45 817.1)">Normalized intensity</text>
<text x="-1.8" y="589.8" font-size="44.8">(b)</text>
<path d="M236.4,619H291.4" stroke="#3d9eff" stroke-width="2.7"/><path d="M236.4,649.3H291.4" stroke="#ff7f0e" stroke-width="2.7"/>
<text x="298" y="627.6" font-size="24.9">10 μM @ Chex_UV Vis</text>
<text x="298" y="657.8" font-size="24.9">1 wt% @ PMMA_Excitation</text>
<g clip-path="url(#cpc)">
<path d="M750,457L750.7,457L751.6,457L752.6,457L753.7,457L755,456.9L756.3,456.9L757.7,456.9L759.2,456.9L760.7,456.9L762.3,456.9L763.9,456.9L765.5,456.8L767.1,456.8L768.7,456.8L770.2,456.8L771.7,456.7L773.2,456.7L774.6,456.6L775.9,456.6L777.1,456.5L778.2,456.4L779.2,456.3L780,456.2L782.6,455.8L783.9,455.3L784.3,454.6L784.5,453.7L785,452.5L785.5,451.6L785.9,450.6L786.3,449.5L786.7,448.4L787,447.1L787.4,445.7L787.7,444.2L788,442.5L788.2,441.5L788.3,440.5L788.5,439.5L788.6,438.5L788.8,437.4L788.9,436.3L789.1,435.2L789.2,433.9L789.3,432.7L789.5,431.3L789.6,429.9L789.7,428.4L789.9,426.7L790,425L790.1,424L790.2,423L790.2,421.9L790.3,420.8L790.4,419.7L790.5,418.6L790.6,417.5L790.6,416.3L790.7,415.1L790.8,413.9L790.9,412.7L791,411.4L791.1,410.1L791.1,408.8L791.2,407.5L791.3,406.1L791.4,404.7L791.5,403.3L791.5,401.8L791.6,400.4L791.7,398.8L791.8,397.3L791.8,395.7L791.9,394.1L792,392.5L792,391.4L792.1,390.3L792.1,389.2L792.2,388L792.2,386.9L792.3,385.7L792.3,384.5L792.4,383.3L792.4,382.1L792.5,380.9L792.5,379.7L792.6,378.4L792.6,377.2L792.7,375.9L792.7,374.6L792.8,373.3L792.8,372L792.9,370.7L792.9,369.4L793,368L793,366.7L793.1,365.3L793.1,364L793.2,362.6L793.2,361.2L793.2,359.8L793.3,358.4L793.3,357L793.4,355.6L793.4,354.2L793.5,352.7L793.5,351.3L793.5,349.8L793.6,348.4L793.6,346.9L793.7,345.4L793.7,344L793.8,342.5L793.8,341.3L793.8,340.1L793.8,338.9L793.9,337.7L793.9,336.5L793.9,335.2L794,334L794,332.7L794,331.4L794,330.2L794.1,328.9L794.1,327.6L794.1,326.3L794.2,325L794.2,323.6L794.2,322.3L794.2,321L794.3,319.6L794.3,318.3L794.3,317L794.3,315.6L794.4,314.3L794.4,312.9L794.4,311.6L794.4,310.2L794.5,308.9L794.5,307.5L794.5,306.1L794.5,304.8L794.6,303.4L794.6,302.1L794.6,300.7L794.6,299.4L794.7,298.1L794.7,296.7L794.7,295.4L794.7,294.1L794.7,292.7L794.8,291.4L794.8,290.1L794.8,288.8L794.8,287.5L794.9,286.3L794.9,285L794.9,283.7L794.9,282.5L795,281.2L795,280L795,278.6L795.1,277.2L795.1,275.8L795.1,274.4L795.1,273.1L795.2,271.7L795.2,270.3L795.2,269L795.3,267.6L795.3,266.3L795.3,264.9L795.4,263.6L795.4,262.3L795.4,260.9L795.4,259.6L795.5,258.3L795.5,257L795.5,255.6L795.6,254.3L795.6,253L795.6,251.7L795.7,250.4L795.7,249.1L795.7,247.8L795.7,246.5L795.8,245.3L795.8,244L795.8,242.7L795.9,241.4L795.9,240.1L795.9,238.9L796,237.6L796,236.3L796,235.1L796,233.8L796.1,232.5L796.1,231.3L796.1,230L796.2,228.8L796.2,227.5L796.2,226.3L796.2,225L796.3,223.6L796.3,222.2L796.3,220.8L796.4,219.4L796.4,218L796.4,216.6L796.5,215.2L796.5,213.8L796.5,212.4L796.6,211L796.6,209.6L796.6,208.2L796.6,206.8L796.7,205.4L796.7,204L796.7,202.6L796.8,201.2L796.8,199.8L796.8,198.4L796.9,197.1L796.9,195.7L796.9,194.4L797,193.1L797,191.7L797,190.4L797,189.1L797.1,187.9L797.1,186.6L797.2,185.4L797.2,184.1L797.2,182.9L797.3,181.7L797.3,180.5L797.3,179.4L797.4,178.3L797.4,177.2L797.5,176.1L797.5,175L797.6,173.3L797.6,171.6L797.7,170L797.8,168.4L797.9,166.9L798,165.4L798.1,163.9L798.2,162.5L798.2,161.1L798.3,159.8L798.4,158.5L798.5,157.2L798.6,155.9L798.7,154.7L798.8,153.5L798.9,152.4L799,151.3L799.1,150.2L799.2,149.1L799.2,148L799.3,147L799.4,146L799.5,145L799.7,143.2L799.8,141.5L799.9,140L800.1,138.5L800.2,137.2L800.4,135.9L800.5,134.8L800.7,133.7L800.8,132.7L800.9,131.7L801.1,130.9L801.2,130L801.7,127.8L802.2,126.2L802.7,125.3L803.2,125L803.7,125.6L804.2,127.1L804.7,128.8L805.2,130.1L805.8,130.5L806.2,130.1L806.6,129.5L807,128.5L807.5,127.3L807.9,125.9L808.3,124.3L808.8,122.5L808.9,121.6L809.1,120.5L809.3,119.5L809.5,118.3L809.7,117.2L809.9,115.9L810,114.7L810.2,113.3L810.4,112L810.6,110.6L810.7,109.3L810.9,107.8L811.1,106.4L811.2,105L811.4,103.8L811.5,102.6L811.7,101.3L811.8,99.9L812,98.6L812.1,97.2L812.3,95.8L812.4,94.4L812.6,93.1L812.7,91.7L812.9,90.3L813,88.9L813.2,87.6L813.3,86.2L813.5,84.9L813.6,83.7L813.8,82.5L813.9,81.1L814.1,79.6L814.3,78.2L814.5,76.7L814.7,75.3L814.8,73.9L815,72.5L815.2,71.2L815.4,70L815.6,68.8L815.7,67.7L815.9,66.7L816.1,65.8L816.2,65L816.9,62.5L817.6,61.6L818.2,61.8L818.7,62.1L819.2,62.6L819.7,63.6L820.2,65.1L820.8,67.5L820.9,68.4L821.1,69.3L821.2,70.4L821.4,71.5L821.6,72.7L821.7,74L821.9,75.3L822.1,76.7L822.3,78.1L822.4,79.5L822.6,81L822.8,82.5L823,84L823.2,85.5L823.4,87L823.6,88.5L823.8,90L823.9,91.2L824.1,92.4L824.2,93.7L824.4,95L824.6,96.3L824.8,97.6L824.9,99L825.1,100.3L825.3,101.7L825.5,103.1L825.7,104.4L825.9,105.8L826,107.2L826.2,108.5L826.4,109.9L826.6,111.2L826.8,112.5L827,113.8L827.1,115.1L827.3,116.3L827.5,117.5L827.7,118.9L827.9,120.3L828.1,121.7L828.4,123.1L828.6,124.5L828.8,125.9L829,127.2L829.2,128.6L829.5,129.9L829.7,131.2L829.9,132.5L830.1,133.3L830.3,134.7L830.5,135.9L830.7,137.4L830.9,137.9L831.1,139.4L831.2,140.3L831.7,141.8L832.1,144L832.4,144.6L832.7,146L833.1,146.6L833.4,147.7L833.8,148.5L834.5,150.2L835.3,150.9L836.2,152.3L836.5,153.2L836.8,154.9L837.1,155.3L837.5,156.9L837.8,158.4L838.1,159.9L838.5,160.9L838.8,162.5L839.1,163.7L839.4,165.6L839.7,166.7L840,167.8L840.5,169L840.9,169.6L841.2,171.3L841.6,171.5L842,172.8L842.5,174.5L842.7,175.8L842.9,177.2L843.1,178.5L843.3,179.4L843.6,180.2L843.8,182.4L844.1,183L844.3,184.5L844.5,186L844.8,188.1L845,189L845.3,190.8L845.5,191.7L845.8,192.9L846,194.3L846.2,194.7L846.7,196.5L847.2,198.6L847.7,199.5L848.2,200.3L848.6,201.6L849.1,202.8L849.6,203.9L850,205L850.3,206.3L850.6,207.2L850.9,208.7L851.2,210.5L851.5,211.9L851.7,212.4L852,213.9L852.3,215.1L852.6,216.3L853,217.3L853.7,218.7L854.4,220L855.2,220.8L856,222.1L856.8,222.3L857.5,224.2L858.2,224.6L858.8,226.5L859.4,227.5L860,228.9L860.6,229.3L861.2,229.8L862.5,230L863.7,228.6L865,228.7L865.8,229.5L866.6,230.1L867.4,232L868.3,233L869.2,234.2L870,235.2L871.2,236L872.5,235.5L873.8,235.7L875,235.9L876.2,237.2L877.5,237.2L878.8,238.1L880,238.4L881,240.1L882.1,240.3L883.2,242L884.2,242.4L885,244.1L886,244.9L886.7,246.1L887.5,246.3L888.3,245.2L889.3,244.2L890.3,242.5L891.2,242.8L892,242.9L892.7,243.5L893.4,244.8L894.2,246.1L895,247.2L895.7,248.3L896.4,249.6L897.1,250.6L897.9,252.1L898.6,253L899.3,254.2L900,254.6L900.7,256.4L901.4,257.6L902,259L902.6,260.5L903.2,261.8L903.8,262.4L904.9,261.7L906.2,261.1L906.7,262.4L907.3,262.7L907.9,264.2L908.5,265.5L909.2,266.4L909.9,268.1L910.5,269.3L911.2,270.3L912,271.3L912.8,271.9L913.6,273L914.5,273.9L915.3,275.2L916.1,276.6L916.8,277.6L917.5,279L918.1,279.8L918.7,281.3L919.2,282.2L919.6,283.2L920.1,285L920.6,285.8L921.2,287.5L921.7,288.2L922.2,289.7L922.7,290.2L923.3,291.2L923.9,292.9L924.4,293.9L925,295.3L925.6,295.9L926.3,297.8L926.9,298.3L927.5,300.5L928,301.5L928.6,302.5L929.1,303.2L929.7,304.7L930.3,306.3L930.9,307.3L931.5,308.4L932.1,309L932.7,310.2L933.2,312L933.8,312.9L934.4,314L935,314.7L935.8,316L936.5,317.8L937.3,318.5L938.1,320.2L938.8,320.5L939.6,321.9L940.3,322.9L941.1,323.8L941.8,324.7L942.5,325.3L943.8,326.1L945.1,325.6L946.3,325.6L947.5,325.8L948.8,326.4L949.6,327.7L950.5,328.3L951.4,329.4L952.2,330.3L953.1,331.3L954,332.2L955,334.1L955.7,335L956.4,336L957.2,337.2L957.9,337.8L958.7,339L959.4,340.2L960.2,341.2L961,342.6L961.7,343.9L962.5,345.1L963.2,345.8L963.9,347.4L964.5,347.9L965.2,349.2L965.9,350.5L966.6,352.1L967.3,352.7L968,354.4L968.6,355.3L969.3,356.6L970,357.3L970.7,359.1L971.4,360L972.1,360.7L972.8,362.6L973.5,363.5L974.2,365.1L974.9,366.2L975.5,367.6L976.2,368.6L976.9,369.3L977.5,370.3L978.6,370.9L979.6,372.8L980.6,373.6L981.6,374.6L982.7,375.1L983.8,375.6L984.9,376.3L986.1,376.4L987.3,376.5L988.6,377.2L989.9,377.2L991.2,377.6L992.1,378.2L992.9,379.3L993.7,380.2L994.6,381.2L995.5,381.7L996.4,383.2L997.2,384.7L998.2,385.5L999.1,386.6L1000,387.5L1000.8,388.8L1001.6,389L1002.5,390.8L1003.3,391.8L1004.2,392.6L1005.1,393.8L1005.9,394.6L1006.8,395.5L1007.6,396.9L1008.5,397.9L1009.3,399.1L1010,399.8L1010.9,401.5L1011.8,401.9L1012.6,403.6L1013.4,404.3L1014.1,404.9L1014.9,406.4L1015.7,407L1016.6,407.4L1017.5,409.1L1018.4,409.3L1019.3,410.4L1020.3,411.3L1021.3,412.1L1022.3,412.9L1023.3,413.7L1024.3,414.4L1025.4,414.5L1026.4,415.6L1027.5,416.2L1028.6,416.6L1029.7,417.5L1030.8,418.5L1031.9,418.8L1033,419.4L1034.2,420.1L1035.3,420.8L1036.5,421.6L1037.6,422.3L1038.8,422.3L1040,422.9L1041.2,423.4L1042.5,424.5L1043.7,425L1044.9,424.9L1046.2,425.9L1047.4,426.2L1048.7,427.2L1050,427.6L1051,428.5L1052,428.8L1053,429.4L1054.1,430.6L1055.1,430.9L1056.2,432.2L1057.2,432.7L1058.3,433.3L1059.3,434.2L1060.4,435.4L1061.5,435.4L1062.5,435.8L1063.7,437.3L1065,437.1L1066.2,437.8L1067.4,438.5L1068.6,439.3L1069.8,440L1071.1,439.6L1072.3,440.1L1073.6,441.3L1075,441.3L1076.2,442L1077.4,441.9L1078.6,442.2L1079.8,443.1L1081.1,442.8L1082.3,443.2L1083.6,443.7L1084.9,444L1086.2,444.1L1087.5,444.6L1088.7,444.8L1090,445.5L1091.2,446L1092.5,446.2L1093.8,446.1L1095,447L1096.2,447.4L1097.5,447.3L1098.8,447.9L1100,448.7L1101.2,448.9L1102.5,448.8L1103.8,449L1105,449.2L1106.2,449.3L1107.4,449.8L1108.6,450.3L1109.8,450.6L1111,450.5L1112.2,451L1113.4,451.3L1114.6,451.9L1115.9,452.2L1117.2,452.5L1118.6,452.3L1120,452.9L1121.1,452.8L1122.3,452.4L1123.4,452.6L1124.6,453.3L1125.9,453.5L1127.1,453.7L1128.4,453.7L1129.7,453.9L1131,454.1L1132.3,454.3L1133.6,453.9L1134.9,454.4L1136.2,454.4L1137.5,454.7L1138.7,454.8L1140,454.6L1141.3,455.4L1142.6,455.3L1143.9,455.8L1145.2,455.1L1146.5,455.3L1147.8,455.4L1149,456.3L1150.3,456.1L1151.6,456.4L1153,455.8L1154.3,456.6L1155.7,456.1L1157.1,457L1158.5,456.7L1160,457.2L1161.1,456.9L1162,457L1162.8,456.6L1163.5,457.1L1164.2,457.3L1164.8,457.2L1165.4,457.3L1166,457.5L1166.7,457.4L1167.5,457.4L1168.5,457.3L1169.6,457.2L1170.9,457.5L1172.5,457.7L1174.3,457.6L1176.5,457L1178.9,457.2L1181.8,457.6L1185,457.6L1185.8,457.9L1186.7,458L1187.6,457.9L1188.5,457.6L1189.5,457.8L1190.5,457.9L1191.5,457.2L1192.6,457.4L1193.7,457.1L1194.8,457.7L1196,458L1197.2,457.1L1198.4,457.2L1199.6,457.3L1200.9,457.9L1202.2,457.5L1203.5,457.3L1204.8,457.5L1206.2,457.4L1207.6,457.4L1209,457.7L1210.4,457.8L1211.9,457.4L1213.3,457.7L1214.8,457.2L1216.3,458.2L1217.8,457.3L1219.3,457.8L1220.8,458.2L1222.3,457.5L1223.9,457.5L1225.4,458L1227,457.7L1228.5,457.5L1230.1,457.8L1231.7,458.1L1233.2,457.9L1234.8,457.5L1236.4,458L1238,458.2L1239.6,457.5L1241.1,458L1242.7,457.8L1244.3,458L1245.8,457.5L1247.4,457.6L1249,457.7L1250.5,458.2L1252,457.7L1253.6,457.7L1255.1,458.1L1256.6,457.5L1258.1,457.7L1259.5,457.9L1261,457.7L1262.4,458L1263.9,458L1265.3,457.5L1266.7,457.5L1268,458.2L1269.4,457.8L1270.7,457.6L1272,457.5L1273.3,457.8L1274.5,458.3L1275.8,457.6L1277,458.4L1278.1,457.5L1279.3,458L1280.4,458.2L1281.5,458L1282.5,457.7L1283.5,457.8L1284.5,458L1285.5,458.4L1286.4,457.9L1287.2,457.8L1288.1,457.9L1288.9,458.5L1289.6,457.8L1290.3,457.7L1291,458.4L1291,458.6L750,458.6Z" fill="url(#gB)" stroke="none"/>
<path d="M750,457L750.7,457L751.6,457L752.6,457L753.7,457L755,456.9L756.3,456.9L757.7,456.9L759.2,456.9L760.7,456.9L762.3,456.9L763.9,456.9L765.5,456.8L767.1,456.8L768.7,456.8L770.2,456.8L771.7,456.7L773.2,456.7L774.6,456.6L775.9,456.6L777.1,456.5L778.2,456.4L779.2,456.3L780,456.2L782.6,455.8L783.9,455.3L784.3,454.6L784.5,453.7L785,452.5L785.5,451.6L785.9,450.6L786.3,449.5L786.7,448.4L787,447.1L787.4,445.7L787.7,444.2L788,442.5L788.2,441.5L788.3,440.5L788.5,439.5L788.6,438.5L788.8,437.4L788.9,436.3L789.1,435.2L789.2,433.9L789.3,432.7L789.5,431.3L789.6,429.9L789.7,428.4L789.9,426.7L790,425L790.1,424L790.2,423L790.2,421.9L790.3,420.8L790.4,419.7L790.5,418.6L790.6,417.5L790.6,416.3L790.7,415.1L790.8,413.9L790.9,412.7L791,411.4L791.1,410.1L791.1,408.8L791.2,407.5L791.3,406.1L791.4,404.7L791.5,403.3L791.5,401.8L791.6,400.4L791.7,398.8L791.8,397.3L791.8,395.7L791.9,394.1L792,392.5L792,391.4L792.1,390.3L792.1,389.2L792.2,388L792.2,386.9L792.3,385.7L792.3,384.5L792.4,383.3L792.4,382.1L792.5,380.9L792.5,379.7L792.6,378.4L792.6,377.2L792.7,375.9L792.7,374.6L792.8,373.3L792.8,372L792.9,370.7L792.9,369.4L793,368L793,366.7L793.1,365.3L793.1,364L793.2,362.6L793.2,361.2L793.2,359.8L793.3,358.4L793.3,357L793.4,355.6L793.4,354.2L793.5,352.7L793.5,351.3L793.5,349.8L793.6,348.4L793.6,346.9L793.7,345.4L793.7,344L793.8,342.5L793.8,341.3L793.8,340.1L793.8,338.9L793.9,337.7L793.9,336.5L793.9,335.2L794,334L794,332.7L794,331.4L794,330.2L794.1,328.9L794.1,327.6L794.1,326.3L794.2,325L794.2,323.6L794.2,322.3L794.2,321L794.3,319.6L794.3,318.3L794.3,317L794.3,315.6L794.4,314.3L794.4,312.9L794.4,311.6L794.4,310.2L794.5,308.9L794.5,307.5L794.5,306.1L794.5,304.8L794.6,303.4L794.6,302.1L794.6,300.7L794.6,299.4L794.7,298.1L794.7,296.7L794.7,295.4L794.7,294.1L794.7,292.7L794.8,291.4L794.8,290.1L794.8,288.8L794.8,287.5L794.9,286.3L794.9,285L794.9,283.7L794.9,282.5L795,281.2L795,280L795,278.6L795.1,277.2L795.1,275.8L795.1,274.4L795.1,273.1L795.2,271.7L795.2,270.3L795.2,269L795.3,267.6L795.3,266.3L795.3,264.9L795.4,263.6L795.4,262.3L795.4,260.9L795.4,259.6L795.5,258.3L795.5,257L795.5,255.6L795.6,254.3L795.6,253L795.6,251.7L795.7,250.4L795.7,249.1L795.7,247.8L795.7,246.5L795.8,245.3L795.8,244L795.8,242.7L795.9,241.4L795.9,240.1L795.9,238.9L796,237.6L796,236.3L796,235.1L796,233.8L796.1,232.5L796.1,231.3L796.1,230L796.2,228.8L796.2,227.5L796.2,226.3L796.2,225L796.3,223.6L796.3,222.2L796.3,220.8L796.4,219.4L796.4,218L796.4,216.6L796.5,215.2L796.5,213.8L796.5,212.4L796.6,211L796.6,209.6L796.6,208.2L796.6,206.8L796.7,205.4L796.7,204L796.7,202.6L796.8,201.2L796.8,199.8L796.8,198.4L796.9,197.1L796.9,195.7L796.9,194.4L797,193.1L797,191.7L797,190.4L797,189.1L797.1,187.9L797.1,186.6L797.2,185.4L797.2,184.1L797.2,182.9L797.3,181.7L797.3,180.5L797.3,179.4L797.4,178.3L797.4,177.2L797.5,176.1L797.5,175L797.6,173.3L797.6,171.6L797.7,170L797.8,168.4L797.9,166.9L798,165.4L798.1,163.9L798.2,162.5L798.2,161.1L798.3,159.8L798.4,158.5L798.5,157.2L798.6,155.9L798.7,154.7L798.8,153.5L798.9,152.4L799,151.3L799.1,150.2L799.2,149.1L799.2,148L799.3,147L799.4,146L799.5,145L799.7,143.2L799.8,141.5L799.9,140L800.1,138.5L800.2,137.2L800.4,135.9L800.5,134.8L800.7,133.7L800.8,132.7L800.9,131.7L801.1,130.9L801.2,130L801.7,127.8L802.2,126.2L802.7,125.3L803.2,125L803.7,125.6L804.2,127.1L804.7,128.8L805.2,130.1L805.8,130.5L806.2,130.1L806.6,129.5L807,128.5L807.5,127.3L807.9,125.9L808.3,124.3L808.8,122.5L808.9,121.6L809.1,120.5L809.3,119.5L809.5,118.3L809.7,117.2L809.9,115.9L810,114.7L810.2,113.3L810.4,112L810.6,110.6L810.7,109.3L810.9,107.8L811.1,106.4L811.2,105L811.4,103.8L811.5,102.6L811.7,101.3L811.8,99.9L812,98.6L812.1,97.2L812.3,95.8L812.4,94.4L812.6,93.1L812.7,91.7L812.9,90.3L813,88.9L813.2,87.6L813.3,86.2L813.5,84.9L813.6,83.7L813.8,82.5L813.9,81.1L814.1,79.6L814.3,78.2L814.5,76.7L814.7,75.3L814.8,73.9L815,72.5L815.2,71.2L815.4,70L815.6,68.8L815.7,67.7L815.9,66.7L816.1,65.8L816.2,65L816.9,62.5L817.6,61.6L818.2,61.8L818.7,62.1L819.2,62.6L819.7,63.6L820.2,65.1L820.8,67.5L820.9,68.4L821.1,69.3L821.2,70.4L821.4,71.5L821.6,72.7L821.7,74L821.9,75.3L822.1,76.7L822.3,78.1L822.4,79.5L822.6,81L822.8,82.5L823,84L823.2,85.5L823.4,87L823.6,88.5L823.8,90L823.9,91.2L824.1,92.4L824.2,93.7L824.4,95L824.6,96.3L824.8,97.6L824.9,99L825.1,100.3L825.3,101.7L825.5,103.1L825.7,104.4L825.9,105.8L826,107.2L826.2,108.5L826.4,109.9L826.6,111.2L826.8,112.5L827,113.8L827.1,115.1L827.3,116.3L827.5,117.5L827.7,118.9L827.9,120.3L828.1,121.7L828.4,123.1L828.6,124.5L828.8,125.9L829,127.2L829.2,128.6L829.5,129.9L829.7,131.2L829.9,132.5L830.1,133.3L830.3,134.7L830.5,135.9L830.7,137.4L830.9,137.9L831.1,139.4L831.2,140.3L831.7,141.8L832.1,144L832.4,144.6L832.7,146L833.1,146.6L833.4,147.7L833.8,148.5L834.5,150.2L835.3,150.9L836.2,152.3L836.5,153.2L836.8,154.9L837.1,155.3L837.5,156.9L837.8,158.4L838.1,159.9L838.5,160.9L838.8,162.5L839.1,163.7L839.4,165.6L839.7,166.7L840,167.8L840.5,169L840.9,169.6L841.2,171.3L841.6,171.5L842,172.8L842.5,174.5L842.7,175.8L842.9,177.2L843.1,178.5L843.3,179.4L843.6,180.2L843.8,182.4L844.1,183L844.3,184.5L844.5,186L844.8,188.1L845,189L845.3,190.8L845.5,191.7L845.8,192.9L846,194.3L846.2,194.7L846.7,196.5L847.2,198.6L847.7,199.5L848.2,200.3L848.6,201.6L849.1,202.8L849.6,203.9L850,205L850.3,206.3L850.6,207.2L850.9,208.7L851.2,210.5L851.5,211.9L851.7,212.4L852,213.9L852.3,215.1L852.6,216.3L853,217.3L853.7,218.7L854.4,220L855.2,220.8L856,222.1L856.8,222.3L857.5,224.2L858.2,224.6L858.8,226.5L859.4,227.5L860,228.9L860.6,229.3L861.2,229.8L862.5,230L863.7,228.6L865,228.7L865.8,229.5L866.6,230.1L867.4,232L868.3,233L869.2,234.2L870,235.2L871.2,236L872.5,235.5L873.8,235.7L875,235.9L876.2,237.2L877.5,237.2L878.8,238.1L880,238.4L881,240.1L882.1,240.3L883.2,242L884.2,242.4L885,244.1L886,244.9L886.7,246.1L887.5,246.3L888.3,245.2L889.3,244.2L890.3,242.5L891.2,242.8L892,242.9L892.7,243.5L893.4,244.8L894.2,246.1L895,247.2L895.7,248.3L896.4,249.6L897.1,250.6L897.9,252.1L898.6,253L899.3,254.2L900,254.6L900.7,256.4L901.4,257.6L902,259L902.6,260.5L903.2,261.8L903.8,262.4L904.9,261.7L906.2,261.1L906.7,262.4L907.3,262.7L907.9,264.2L908.5,265.5L909.2,266.4L909.9,268.1L910.5,269.3L911.2,270.3L912,271.3L912.8,271.9L913.6,273L914.5,273.9L915.3,275.2L916.1,276.6L916.8,277.6L917.5,279L918.1,279.8L918.7,281.3L919.2,282.2L919.6,283.2L920.1,285L920.6,285.8L921.2,287.5L921.7,288.2L922.2,289.7L922.7,290.2L923.3,291.2L923.9,292.9L924.4,293.9L925,295.3L925.6,295.9L926.3,297.8L926.9,298.3L927.5,300.5L928,301.5L928.6,302.5L929.1,303.2L929.7,304.7L930.3,306.3L930.9,307.3L931.5,308.4L932.1,309L932.7,310.2L933.2,312L933.8,312.9L934.4,314L935,314.7L935.8,316L936.5,317.8L937.3,318.5L938.1,320.2L938.8,320.5L939.6,321.9L940.3,322.9L941.1,323.8L941.8,324.7L942.5,325.3L943.8,326.1" fill="none" stroke="#2f94ff" stroke-width="2.85" stroke-linejoin="round" stroke-linecap="round"/>
<path d="M812,457.6L813.8,457.9L814.5,457.1L815.4,456.8L816.6,455.1L817.8,454.8L819,453.2L820,453.6L821,453L822.2,453.3L823.6,454L824.9,454.1L826.3,454.1L827.5,454L828.5,454.5L829.7,454L831.1,453.5L832.6,453.5L834,453.7L835.4,452.5L836.5,452.6L837.5,452.8L838.6,452.1L839.8,451.2L841,450.1L842,449.2L843,449L843.8,449L844.9,448.6L846,449.9L847,449.6L847.7,448.8L848.5,448.2L849.4,446.5L850.3,446.1L851.2,444.8L852.2,444.2L853.5,445.4L854.9,444.9L856.3,445.5L857.7,444.6L858.8,444.6L859.9,444.6L861.2,444.5L862.5,442.8L863.8,442.6L865,442.3L866,441.4L867.2,441L868.6,441L870,439.9L871.4,439.6L872.7,439.2L873.8,439.2L874.9,438.7L876.3,439.3L877.7,439.5L879.1,440.1L880.3,441L881.2,441.1L882,439.6L882.8,438.9L883.6,437.2L884.3,435.9L884.9,434.3L885.5,433.6L886.6,433.5L887.7,434.6L888.8,434.5L889.6,434.8L890.6,433L891.7,432.4L892.5,431.8L893.4,432.4L894.3,434.6L895.5,434.9L896.1,434.4L897,432.8L897.9,432.2L899,431.3L900,429.5L901,429.1L901.8,428.4L902.5,428L903.9,427.3L905.2,427.1L906.2,427.1L906.8,427.1L907.4,425.2L908.1,424.4L908.8,423L909.4,421.7L910,421.6L910.9,421.2L911.9,423.1L912.9,424.1L913.8,424.9L914.2,423.8L914.8,422.5L915.4,421.4L916,420.1L916.5,418.1L917.1,417.7L917.5,416.4L918.1,414.7L918.7,413.5L919.3,412.5L919.9,411L920.5,410.4L921,411.3L921.7,412.6L922.4,414.2L923.2,415.2L923.9,416.1L924.5,416.8L924.9,416.5L925.5,416.2L926,414.1L926.6,413.6L927.2,411.2L927.7,409.9L928.3,408.6L928.8,408L929.2,407.1L929.6,404.9L930.2,403.8L930.7,402.8L931.3,401.3L931.8,400.7L932.4,398.9L932.9,397.2L933.4,396.3L933.8,395.2L934.1,394.5L934.4,393.4L934.7,391.7L935,390.8L935.4,389.8L935.7,387.9L936.1,386.8L936.4,385.1L936.7,383.7L937,382.1L937.3,380.7L937.5,379.8L937.7,378.9L937.9,378.2L938.1,377.2L938.3,376.1L938.5,375L938.7,373.5L938.9,372.1L939.1,370.9L939.3,369.6L939.5,368.4L939.7,366.4L939.9,365.7L940.1,363.6L940.2,362L940.4,361.6L940.5,359.7L940.6,359.5L940.7,357.9L940.8,356.8L940.9,356.3L941,354.9L941,352.8L941.1,352.5L941.2,350.2L941.3,349.4L941.4,348.2L941.5,346.6L941.6,344.7L941.7,343.8L941.8,342L941.9,340L942,339.4L942,337.6L942.1,335.9L942.2,334.7L942.3,333.1L942.4,332.3L942.4,331.2L942.5,329.6L942.6,328.8L942.6,327.5L942.7,327L942.8,324.9L942.9,324L942.9,322.7L943,321.2L943.1,319.5L943.2,317.9L943.3,316.1L943.4,314.9L943.4,314.1L943.5,312L943.6,310.9L943.7,309.2L943.8,307.5L943.8,306.6L943.9,306L944,304.1L944.1,302.8L944.1,302L944.2,300.7L944.2,299.7L944.3,298.5L944.4,297.8L944.5,295.6L944.6,294.2L944.7,293.6L944.8,291.6L944.9,290.2L945.1,289L945.2,288.5L945.3,287.2L945.4,285.9L945.5,283.8L945.6,283.2L945.7,280.8L945.8,280L945.8,279.2L945.9,278L945.9,277.6L946,276.2L946.1,274.7L946.1,273.8L946.2,272.6L946.3,270.5L946.4,269.4L946.5,268L946.5,267.4L946.6,265.8L946.7,263.7L946.8,263.1L946.9,260.6L946.9,259.4L947,257.8L947.1,256.8L947.2,255.8L947.3,254.3L947.3,252L947.4,251L947.5,250.3L947.6,248.8L947.6,248.5L947.7,247.2L947.7,246.2L947.8,245L947.9,243.7L947.9,241.9L948,241.4L948.1,239.8L948.2,238.6L948.3,236.3L948.3,235.1L948.4,234.1L948.5,232.9L948.6,230.9L948.7,229.9L948.8,227.5L948.8,226.1L948.9,225.4L949,224.3L949.1,222L949.2,220.6L949.3,219.2L949.3,218.1L949.4,216.5L949.5,215.2L949.6,214.4L949.7,212.2L949.7,212.1L949.8,210.8L949.9,210L949.9,208.9L950,207.9L950.1,206L950.2,205.3L950.3,203.8L950.4,202.1L950.5,201.2L950.6,199.4L950.7,198.6L950.8,196.8L950.9,195.5L951,194L951.1,192.1L951.2,191L951.3,189.2L951.4,187.7L951.5,186.8L951.6,185.1L951.7,183.7L951.8,182.8L951.9,181.1L952,179.2L952.1,178.9L952.2,177.8L952.3,176.9L952.4,176.4L952.5,175.3L952.7,173.9L952.9,172.1L953.1,170.7L953.4,168.6L953.6,167L953.8,166L954.1,165.2L954.3,164.1L954.6,162.9L954.8,161.8L955,161L955.9,159.3L957.1,159.3L958,158.8L958.5,158.2L959,155.9L959.5,154.1L960.1,152.7L960.5,151.9L960.7,152.7L960.9,154.1L961.2,155.4L961.5,157.1L961.7,158.2L962,160.1L962.3,161.8L962.5,163.2L962.8,163.7L963,165.5L963.6,167.1L964.4,168.6L965.1,169.1L965.8,170.5L966.4,169.3L967.3,166.8L968.1,165.5L968.8,164.6L969,165L969.2,166.7L969.5,167.9L969.7,169L970,170.1L970.2,171.9L970.5,173.2L970.7,174.8L971,175.9L971.2,177.7L971.6,179.1L972.1,180.1L972.6,181.8L973.1,182.7L973.6,185L974.2,185.8L974.6,186.1L975,187L975.7,187.1L976.5,187L977.3,185.4L978,182L978.1,182L978.3,180.5L978.4,180.1L978.5,179.4L978.7,177.5L978.8,176.8L979,175.2L979.2,173.5L979.3,173L979.5,171.3L979.7,169.2L979.8,167.6L980,166.3L980.2,165.1L980.3,163.8L980.5,161.9L980.7,159.8L980.8,158.3L981,157.2L981.1,156.6L981.2,154.6L981.4,154.1L981.5,152.4L981.6,151.7L981.7,150.9L981.8,149.7L982,147.6L982.1,146.5L982.3,145.2L982.4,143.9L982.6,142.6L982.7,141.6L982.9,139.4L983,138L983.2,136.9L983.3,135.8L983.5,134.3L983.6,132L983.8,131.1L983.9,129.8L984.1,128.2L984.2,127.4L984.4,125.2L984.5,124.5L984.6,123.5L984.8,122.6L984.9,120.4L985,120.3L985.1,118.7L985.3,117.9L985.4,116.4L985.6,115.4L985.8,113.3L985.9,112.9L986.1,110.9L986.3,110L986.4,107.9L986.6,106.3L986.8,105.1L987,104.1L987.2,103L987.4,101.1L987.5,99.5L987.7,98.9L987.9,97.3L988,95.7L988.2,94.7L988.3,93L988.5,92.1L988.6,90.9L988.8,89.7L988.9,88.4L989,87.3L989.2,86.6L989.3,85.1L989.5,83.2L989.7,82.2L989.9,79.8L990,78.8L990.2,77.3L990.4,74.8L990.6,74.2L990.7,72.6L990.9,70.7L991.1,69.3L991.2,68.1L991.4,66.7L991.5,65.1L991.7,64.5L991.8,64.2L991.9,63.1L992,62.2L992.6,62.2L993.2,63.8L993.8,65.9L994,67.5L994.3,68.5L994.7,70.8L995,72.4L995.4,73L995.8,73.5L996.1,73.3L996.5,71.6L997,70.6L997.5,68.6L998,66.2L998.4,65.5L998.8,65.1L999,65.1L999.3,66.1L999.6,66.7L1000,68L1000.3,69.4L1000.6,71.3L1000.9,72.4L1001.2,75.1L1001.4,75.3L1001.5,76.4L1001.6,78.1L1001.8,78.6L1001.9,80.3L1002.1,81.2L1002.3,83.5L1002.5,85L1002.6,85.7L1002.8,88L1003,89.6L1003.2,90.3L1003.4,92.1L1003.6,93.5L1003.8,95.1L1003.9,96.9L1004.1,98.3L1004.3,99.6L1004.4,100.6L1004.6,102.2L1004.7,103.8L1004.9,104L1005,105.2L1005.3,106.3L1005.6,108.4L1005.9,109.6L1006.2,111.3L1006.6,111.5L1006.9,113.3L1007.2,114.2L1007.5,115.2L1007.8,116.2L1008,118L1008.2,118.2L1008.4,119.9L1008.6,120.5L1008.8,123L1009,124.3L1009.3,125.7L1009.5,126.9L1009.7,128.1L1009.9,129.5L1010.1,131L1010.3,131.8L1010.5,133L1011.2,133.6L1012.1,134.6L1013,136L1013.2,136.5L1013.3,137.3L1013.5,138.4L1013.8,140.2L1014,141.3L1014.3,142.4L1014.5,143.3L1014.8,144.5L1015.1,146.2L1015.3,148L1015.6,148.9L1015.9,150.8L1016.1,152.1L1016.4,154L1016.7,155.3L1016.9,156L1017.1,157.5L1017.3,159.3L1017.5,160.5L1017.7,161.1L1017.9,162.6L1018.1,163.1L1018.3,164.7L1018.5,166.3L1018.7,167L1018.9,169.1L1019.1,170.9L1019.3,171.7L1019.5,172.9L1019.8,175.1L1020,176.6L1020.2,177.5L1020.4,179L1020.6,180.3L1020.8,181.3L1020.9,183.2L1021.1,183.7L1021.2,185.3L1021.4,186.4L1021.6,187.2L1021.9,189.4L1022.1,190.3L1022.3,192.5L1022.6,193.4L1022.8,195.6L1023,197L1023.3,198.6L1023.5,200.2L1023.7,201.4L1023.9,201.6L1024.1,202.5L1024.3,204L1024.5,203.7L1024.7,204L1025,202.9L1025.3,201.9L1025.6,199.5L1025.9,198.3L1026.2,196.7L1026.5,194.4L1026.8,193.1L1027,191.8L1027.3,190.8L1027.5,189.6L1027.8,190.8L1028.1,191.6L1028.4,192.9L1028.8,195.7L1029.1,197L1029.4,198.7L1029.7,199.8L1030,200L1030.1,199.2L1030.3,199.3L1030.4,198.4L1030.6,196.7L1030.8,196.2L1030.9,193.6L1031.1,192.2L1031.3,191.3L1031.4,189.1L1031.6,187.4L1031.8,185.6L1032,184.4L1032.1,182.7L1032.2,182.1L1032.4,180.3L1032.5,179.9L1032.7,178.8L1033,176.5L1033.3,174.3L1033.5,172.3L1033.8,171.7L1034.1,169.4L1034.3,169.4L1034.5,169.3L1034.6,170.2L1034.7,170.6L1034.8,171.8L1034.9,172.8L1035,173.7L1035.1,174.7L1035.2,176.2L1035.3,178.2L1035.5,179.5L1035.6,181.1L1035.7,183L1035.8,183.9L1035.9,186.1L1036,187.5L1036.1,188.5L1036.2,190.3L1036.3,190.5L1036.4,191.4L1036.5,193.7L1036.6,195.1L1036.7,195.9L1036.8,197.3L1036.9,198.7L1037,201.2L1037.1,202L1037.2,204.2L1037.3,206L1037.5,207.3L1037.6,209.5L1037.7,210.4L1037.8,212.5L1037.9,213.3L1038,215L1038.2,216.6L1038.3,217.2L1038.4,219L1038.5,220L1038.6,220L1038.7,220.9L1038.8,220.7L1038.9,221.4L1039.2,221.1L1039.4,219.4L1039.6,218.8L1039.9,216L1040.1,214.4L1040.4,211.9L1040.6,210.4L1040.8,209.4L1041.1,207.9L1041.2,207.9L1041.5,208.2L1041.8,208.8L1042.1,210.1L1042.5,212.8L1042.8,214.9L1043.1,215.7L1043.4,216.6L1043.8,217.9L1044,217.2L1044.3,215.8L1044.6,214.2L1045,212.9L1045.4,211.5L1045.7,208.8L1046.1,207.8L1046.4,205.8L1046.7,205.4L1047,204.9L1047.2,205.3L1047.4,205.4L1047.6,207.2L1047.8,208.5L1048,209.3L1048.3,210.6L1048.5,212.7L1048.7,213.6L1048.9,215.1L1049.1,217.4L1049.3,218.7L1049.5,220.2L1049.6,220.4L1049.8,222.6L1049.9,223.6L1050.1,224.4L1050.3,226.5L1050.5,228.5L1050.7,229.3L1050.9,231.7L1051.1,233.4L1051.3,234.8L1051.5,236L1051.6,237.4L1051.8,238.6L1052,240.3L1052.2,240.6L1052.3,241.9L1052.5,242.6L1053.5,243.9L1054.7,242.7L1055.8,242L1056.1,242.7L1056.4,243.7L1056.8,244.6L1057.2,245.6L1057.6,246.9L1058,249L1058.4,250.6L1058.8,252.2L1058.9,253.1L1059,253.7L1059.2,255.4L1059.4,256L1059.6,257.4L1059.7,259.6L1059.9,260.3L1060.1,262.5L1060.3,263.8L1060.5,265.1L1060.8,267.1L1061,268.6L1061.2,270.7L1061.4,272.3L1061.5,273.1L1061.7,274.4L1061.9,276L1062.1,276.7L1062.2,278.3L1062.4,278.7L1062.5,279.7L1062.8,282L1063.1,283.7L1063.4,284.9L1063.6,287L1063.9,287.4L1064.2,288.7L1064.5,290L1064.7,290.5L1065,291.2L1065.7,289.7L1066.5,288.1L1067.3,285.4L1068,285.7L1068.1,286.1L1068.3,287.5L1068.4,287.6L1068.6,289.9L1068.8,290.4L1068.9,291.6L1069.1,293.2L1069.3,295L1069.5,296.2L1069.7,298.5L1069.9,300.1L1070.1,301.6L1070.2,303.5L1070.4,304.7L1070.6,305.5L1070.8,306.9L1070.9,308.2L1071.1,309L1071.2,309.9L1071.8,311.7L1072.4,313.2L1073,313.8L1073.7,315L1074.4,315.9L1075,316.9L1075.2,318.9L1075.4,318.9L1075.6,320.5L1075.9,321.4L1076.2,323.6L1076.4,325.5L1076.7,326.7L1077,329.3L1077.3,330.2L1077.6,332.9L1077.9,334.4L1078.2,335.3L1078.5,336.8L1078.8,338.1L1079.1,339.9L1079.3,340.4L1079.6,342L1079.8,341.4L1080,342.4L1080.2,341.6L1080.4,340.6L1080.6,340.6L1080.8,339.2L1081,337.4L1081.2,336L1081.5,334L1081.7,332.1L1081.9,330.7L1082.2,328.6L1082.4,326.3L1082.6,324.4L1082.9,323.4L1083.1,320.8L1083.3,319.4L1083.5,317.6L1083.7,316.2L1083.9,316L1084.1,314.9L1084.3,315.2L1084.5,314.7L1084.6,315.1L1084.7,315.9L1084.8,316.6L1085,316.9L1085.1,318.3L1085.2,319.1L1085.3,320.6L1085.5,321.7L1085.6,323.2L1085.7,323.9L1085.8,325.2L1086,326.7L1086.1,328.8L1086.3,330.6L1086.4,332.1L1086.5,333.7L1086.7,335.8L1086.8,337.4L1086.9,338.9L1087.1,341.6L1087.2,342.9L1087.4,344.2L1087.5,346L1087.6,347.9L1087.8,348.8L1087.9,350.7L1088,352.3L1088.2,352.8L1088.3,354.4L1088.4,355.8L1088.5,356.5L1088.6,356.9L1088.8,356.9L1089.9,360.1L1091.2,359.5L1092.6,357.2L1093.8,354.7L1094.2,354.2L1094.8,353.1L1095.4,351.2L1096,350.1L1096.5,348L1097.1,345.9L1097.6,345.2L1098,345.6L1098.5,345.8L1099.1,346.5L1099.7,346.9L1100.2,348.6L1100.8,350.8L1101.2,351.9L1101.4,353.7L1101.6,354.2L1101.8,355.6L1102,356.6L1102.2,357.6L1102.4,359.6L1102.6,360.3L1102.8,362.1L1103,363.4L1103.3,365.3L1103.5,366.7L1103.7,367.8L1103.9,369L1104.1,370.1L1104.3,371L1104.5,372.4L1104.7,373.1L1105,374.8L1105.3,377L1105.6,378.1L1106,379.3L1106.3,381.5L1106.7,383L1107,384.2L1107.4,384.9L1107.7,386.8L1108.1,387.7L1108.4,388.3L1108.8,388.7L1109.8,389.2L1111.2,389.3L1112.6,389L1114,388.3L1115,387.4L1115.7,386.8L1116.3,384.4L1117,382.4L1117.6,380.7L1118.2,380.2L1118.8,379.4L1119,380.2L1119.2,380.7L1119.5,381.5L1119.8,383.7L1120,384.3L1120.3,386.4L1120.6,387.4L1120.9,389.5L1121.2,390.1L1121.5,391.9L1121.8,393.3L1122,395.3L1122.3,396L1122.5,397.6L1122.7,398.2L1122.9,399.3L1123.1,401.7L1123.4,403.2L1123.6,404.8L1123.9,406.8L1124.1,408.3L1124.4,409.1L1124.6,411L1124.9,412.7L1125.1,414.7L1125.4,414.8L1125.6,416.6L1125.8,416.5L1126.1,417L1126.2,417.2L1126.4,417.1L1126.6,417.1L1126.8,416.1L1127,414.3L1127.2,413.7L1127.4,411L1127.6,409.3L1127.9,407.9L1128.1,405.9L1128.3,404.6L1128.5,401.7L1128.7,400.9L1128.9,398.5L1129.2,397.5L1129.3,395.1L1129.5,395L1129.7,393.9L1129.9,392.9L1130,392.9L1130.2,392.9L1130.4,393.5L1130.5,394.2L1130.7,395.7L1130.9,396.8L1131.1,398.6L1131.3,400.1L1131.5,402.5L1131.7,403.2L1131.8,405.8L1132,406.7L1132.2,408.6L1132.3,409L1132.5,409.8L1133.4,410L1134.5,407.6L1135.5,407.7L1135.7,408.3L1135.9,408.5L1136.1,410.3L1136.3,411.1L1136.6,412.7L1136.8,414.3L1137.1,415.8L1137.3,417.2L1137.6,418.7L1137.8,420.7L1138.1,422.3L1138.3,422.8L1138.5,424.4L1138.8,424.6L1139.5,426.9L1140.4,428.1L1141.3,429.3L1142.2,430.2L1143,429.5L1143.3,428.8L1143.5,427.6L1143.8,426.8L1144.1,424.6L1144.4,423.2L1144.7,420.6L1145,419.7L1145.3,418L1145.6,415.4L1145.9,414.3L1146.2,412.8L1146.5,412.5L1146.8,412.9L1147,412.9L1147.2,413L1147.4,415L1147.7,415.7L1148,416.6L1148.2,418.5L1148.5,420L1148.8,422.7L1149.1,423.9L1149.4,425.9L1149.7,428L1150,429.3L1150.3,430.1L1150.5,431.4L1150.8,432.4L1151,433.7L1151.2,433.9L1151.5,433.4L1151.8,432.8L1152.1,431.5L1152.4,430.1L1152.8,429.2L1153.1,427.7L1153.5,425.5L1153.8,423.9L1154.1,421.8L1154.5,419.6L1154.8,418.1L1155,417.9L1155.3,417.1L1155.5,416.8L1155.8,416.2L1156.1,417.5L1156.4,418.9L1156.7,420.5L1157,422.6L1157.3,424.6L1157.5,425.3L1157.8,427.1L1158,427.4L1158.5,427.1L1159.2,424.7L1159.8,422.7L1160.5,422.8L1160.6,423.6L1160.8,423.4L1161,424.4L1161.2,426L1161.3,427.8L1161.6,429.4L1161.8,431.1L1162,431.9L1162.2,434.4L1162.4,436L1162.7,437.3L1162.9,439.4L1163.1,441.5L1163.4,442.3L1163.6,444.7L1163.8,445.1L1164,446.2L1164.2,447.4L1164.3,448.6L1164.5,449.1L1164.9,449.3L1165.2,447.8L1165.7,446.5L1166.1,444.7L1166.5,442.7L1166.9,441L1167.3,439.9L1167.7,438.3L1168,437.3L1168.5,438.5L1169,439.6L1169.6,441L1170.2,443L1170.7,444.9L1171.2,444.6L1171.5,444.2L1171.7,443.5L1172,442.6L1172.4,441.6L1172.7,439L1173,438.3L1173.4,436L1173.7,434.1L1174.1,432.4L1174.4,430.9L1174.7,429.7L1175,428.5L1175.3,428.3L1175.5,427.3L1175.8,427.3L1176.2,429L1176.5,430.2L1176.8,431L1177.2,433.4L1177.6,435.4L1177.9,436.4L1178.3,437.9L1178.8,438.4L1179.5,438.3L1180.6,438.1L1181.8,436.4L1183,435.8L1184.1,435L1185,435.1L1185.5,436L1186.1,435.9L1186.7,437.4L1187.4,439.4L1188,440.6L1188.6,441.8L1189.1,443.1L1189.6,444L1190,445.5L1190.9,444.5L1191.7,443.2L1192.5,442.6L1193,443.7L1193.6,444.9L1194.3,446.6L1194.9,448.4L1195.5,448.5L1196,447.8L1196.5,447.6L1197,446L1197.6,443.8L1198.2,442.8L1198.8,442.4L1199.6,442.3L1200.6,443.3L1201.7,444.8L1202.8,446.9L1203.8,447.6L1204.5,446.5L1205.4,446.1L1206.3,444.2L1207.3,442.8L1208.1,441.5L1208.8,441.3L1209.6,441.6L1210.5,443.5L1211.3,444.9L1212,445.3L1212.7,444.2L1213.5,442.7L1214.3,442.1L1215,441.5L1215.4,442L1215.8,442.3L1216.3,444.8L1216.7,445.6L1217.2,447.3L1217.6,448.4L1218,450.6L1218.4,451.6L1218.8,452.5L1219.3,454.5L1219.8,456.3L1220.3,457.6L1220.8,457.8L1221.2,458.5L1222.3,458.6L1223.6,458.6L1225,458.6L1226,458.6L1226.3,458L1226.6,457.8L1226.8,456.2L1227.1,453.8L1227.4,452.5L1227.7,451.2L1228,448.8L1228.3,447.5L1228.5,445.8L1228.8,445.4L1229,444.1L1229.2,443.5L1229.6,444.3L1229.9,444.6L1230.3,446.1L1230.7,448.6L1231,450.5L1231.4,451.4L1231.8,452.9L1232.2,455L1232.5,454.9L1232.9,454.9L1233.5,453.2L1234.1,451.2L1234.6,449.3L1235.2,448L1235.8,447L1236.2,446.7L1236.7,446.6L1237.3,448.2L1237.8,450.5L1238.4,452.6L1239,454.4L1239.5,455.4L1240,455L1240.2,454.9L1240.4,453.8L1240.6,453.3L1240.8,451.9L1241,450.2L1241.2,449.7L1241.4,447.5L1241.7,446.4L1241.9,445L1242.1,443.3L1242.4,441.6L1242.6,440.5L1242.8,438.1L1243,436.9L1243.2,435.9L1243.4,435L1243.6,433L1243.8,431.9L1244.1,431.3L1244.4,429.4L1244.8,427.5L1245.1,426.4L1245.5,425L1245.8,422.9L1246.2,422L1246.5,421.5L1246.8,421.1L1247,421.5L1247.3,422.2L1247.5,424.2L1247.8,425.3L1248.2,427.6L1248.5,429.3L1248.7,430.6L1249,431.7L1249.3,432.5L1249.5,433.5L1250.3,432.9L1251.1,429.8L1252,430.3L1252.1,430.1L1252.3,431.6L1252.4,432.8L1252.6,432.7L1252.8,434L1253,436.2L1253.2,437L1253.4,438.4L1253.6,440.6L1253.8,442.3L1254,444.1L1254.2,444.8L1254.4,446.9L1254.7,447.9L1254.9,450L1255.1,451.9L1255.3,452.8L1255.5,454.3L1255.6,455.7L1255.8,456.1L1256,457.4L1256.1,458.2L1256.2,458.6L1257.7,458.6L1259,458.6L1259.2,458L1259.4,457.9L1259.6,456L1259.9,455.3L1260.1,453.3L1260.4,452.6L1260.6,449.9L1260.9,448.4L1261.1,447.8L1261.4,445.5L1261.6,444.7L1261.8,443.3L1262,442.6L1262.3,441.2L1262.7,439.5L1263.1,437.9L1263.5,436.6L1263.9,434.5L1264.3,433.9L1264.7,432.3L1265,432.8L1265.4,432.8L1265.9,434.4L1266.5,435.5L1267,438.3L1267.5,439.7L1268,440.5L1269,439.4L1270.2,437.2L1271.2,436.4L1271.4,437.6L1271.7,438.2L1271.9,439.2L1272.2,441.3L1272.4,443.2L1272.7,444.8L1273,445.8L1273.2,447.3L1273.5,449.5L1273.8,450.5L1274.1,452.8L1274.3,454.3L1274.6,455L1274.8,456.2L1275,455.9L1275.6,456.9L1276.2,455.5L1276.9,454.4L1277.6,453.2L1278.3,451.1L1278.8,450.4L1279.4,448.7L1280,447.5L1280.7,447.4L1281.2,445.5L1281.4,444.5L1281.6,443L1281.8,441.3L1282,439.5L1282.3,438.8L1282.5,437L1282.7,434.4L1283,433.2L1283.2,431.4L1283.4,430L1283.7,428.8L1283.9,428L1284.1,427L1284.2,427.2L1284.4,427.5L1284.5,428.4L1284.6,429.3L1284.8,431.2L1284.9,432.5L1285.1,433.8L1285.2,435.2L1285.4,437.2L1285.5,439L1285.7,440.7L1285.9,443.2L1286,444.9L1286.2,446.5L1286.3,447.7L1286.5,449.2L1286.6,450.3L1286.7,451.7L1286.9,452.4L1287,452.9L1287.2,452.6L1287.4,451.7L1287.6,451.3L1287.9,449.8L1288.2,448.7L1288.4,446.2L1288.7,444.1L1289,443.1L1289.2,440.3L1289.4,438.9L1289.7,438L1289.8,437.1L1290,436L1290.6,435.8L1291.2,438.5L1291.5,440.3L1291.5,458.6L812,458.6Z" fill="url(#gO)" stroke="none"/>
<path d="M943.8,326.1L945.1,325.6L946.3,325.6L947.5,325.8L948.8,326.4L949.6,327.7L950.5,328.3L951.4,329.4L952.2,330.3L953.1,331.3L954,332.2L955,334.1L955.7,335L956.4,336L957.2,337.2L957.9,337.8L958.7,339L959.4,340.2L960.2,341.2L961,342.6L961.7,343.9L962.5,345.1L963.2,345.8L963.9,347.4L964.5,347.9L965.2,349.2L965.9,350.5L966.6,352.1L967.3,352.7L968,354.4L968.6,355.3L969.3,356.6L970,357.3L970.7,359.1L971.4,360L972.1,360.7L972.8,362.6L973.5,363.5L974.2,365.1L974.9,366.2L975.5,367.6L976.2,368.6L976.9,369.3L977.5,370.3L978.6,370.9L979.6,372.8L980.6,373.6L981.6,374.6L982.7,375.1L983.8,375.6L984.9,376.3L986.1,376.4L987.3,376.5L988.6,377.2L989.9,377.2L991.2,377.6L992.1,378.2L992.9,379.3L993.7,380.2L994.6,381.2L995.5,381.7L996.4,383.2L997.2,384.7L998.2,385.5L999.1,386.6L1000,387.5L1000.8,388.8L1001.6,389L1002.5,390.8L1003.3,391.8L1004.2,392.6L1005.1,393.8L1005.9,394.6L1006.8,395.5L1007.6,396.9L1008.5,397.9L1009.3,399.1L1010,399.8L1010.9,401.5L1011.8,401.9L1012.6,403.6L1013.4,404.3L1014.1,404.9L1014.9,406.4L1015.7,407L1016.6,407.4L1017.5,409.1L1018.4,409.3L1019.3,410.4L1020.3,411.3L1021.3,412.1L1022.3,412.9L1023.3,413.7L1024.3,414.4L1025.4,414.5L1026.4,415.6L1027.5,416.2L1028.6,416.6L1029.7,417.5L1030.8,418.5L1031.9,418.8L1033,419.4L1034.2,420.1L1035.3,420.8L1036.5,421.6L1037.6,422.3L1038.8,422.3L1040,422.9L1041.2,423.4L1042.5,424.5L1043.7,425L1044.9,424.9L1046.2,425.9L1047.4,426.2L1048.7,427.2L1050,427.6L1051,428.5L1052,428.8L1053,429.4L1054.1,430.6L1055.1,430.9L1056.2,432.2L1057.2,432.7L1058.3,433.3L1059.3,434.2L1060.4,435.4L1061.5,435.4L1062.5,435.8L1063.7,437.3L1065,437.1L1066.2,437.8L1067.4,438.5L1068.6,439.3L1069.8,440L1071.1,439.6L1072.3,440.1L1073.6,441.3L1075,441.3L1076.2,442L1077.4,441.9L1078.6,442.2L1079.8,443.1L1081.1,442.8L1082.3,443.2L1083.6,443.7L1084.9,444L1086.2,444.1L1087.5,444.6L1088.7,444.8L1090,445.5L1091.2,446L1092.5,446.2L1093.8,446.1L1095,447L1096.2,447.4L1097.5,447.3L1098.8,447.9L1100,448.7L1101.2,448.9L1102.5,448.8L1103.8,449L1105,449.2L1106.2,449.3L1107.4,449.8L1108.6,450.3L1109.8,450.6L1111,450.5L1112.2,451L1113.4,451.3L1114.6,451.9L1115.9,452.2L1117.2,452.5L1118.6,452.3L1120,452.9L1121.1,452.8L1122.3,452.4L1123.4,452.6L1124.6,453.3L1125.9,453.5L1127.1,453.7L1128.4,453.7L1129.7,453.9L1131,454.1L1132.3,454.3L1133.6,453.9L1134.9,454.4L1136.2,454.4L1137.5,454.7L1138.7,454.8L1140,454.6L1141.3,455.4L1142.6,455.3L1143.9,455.8L1145.2,455.1L1146.5,455.3L1147.8,455.4L1149,456.3L1150.3,456.1L1151.6,456.4L1153,455.8L1154.3,456.6L1155.7,456.1L1157.1,457L1158.5,456.7L1160,457.2L1161.1,456.9L1162,457L1162.8,456.6L1163.5,457.1L1164.2,457.3L1164.8,457.2L1165.4,457.3L1166,457.5L1166.7,457.4L1167.5,457.4L1168.5,457.3L1169.6,457.2L1170.9,457.5L1172.5,457.7L1174.3,457.6L1176.5,457L1178.9,457.2L1181.8,457.6L1185,457.6L1185.8,457.9L1186.7,458L1187.6,457.9L1188.5,457.6L1189.5,457.8L1190.5,457.9L1191.5,457.2L1192.6,457.4L1193.7,457.1L1194.8,457.7L1196,458L1197.2,457.1L1198.4,457.2L1199.6,457.3L1200.9,457.9L1202.2,457.5L1203.5,457.3L1204.8,457.5L1206.2,457.4L1207.6,457.4L1209,457.7L1210.4,457.8L1211.9,457.4L1213.3,457.7L1214.8,457.2L1216.3,458.2L1217.8,457.3L1219.3,457.8L1220.8,458.2L1222.3,457.5L1223.9,457.5L1225.4,458L1227,457.7L1228.5,457.5L1230.1,457.8L1231.7,458.1L1233.2,457.9L1234.8,457.5L1236.4,458L1238,458.2L1239.6,457.5L1241.1,458L1242.7,457.8L1244.3,458L1245.8,457.5L1247.4,457.6L1249,457.7L1250.5,458.2L1252,457.7L1253.6,457.7L1255.1,458.1L1256.6,457.5L1258.1,457.7L1259.5,457.9L1261,457.7L1262.4,458L1263.9,458L1265.3,457.5L1266.7,457.5L1268,458.2L1269.4,457.8L1270.7,457.6L1272,457.5L1273.3,457.8L1274.5,458.3L1275.8,457.6L1277,458.4L1278.1,457.5L1279.3,458L1280.4,458.2L1281.5,458L1282.5,457.7L1283.5,457.8L1284.5,458L1285.5,458.4L1286.4,457.9L1287.2,457.8L1288.1,457.9L1288.9,458.5L1289.6,457.8L1290.3,457.7L1291,458.4" fill="none" stroke="#7fa3d8" stroke-width="2.85" stroke-linejoin="round" stroke-linecap="round"/>
<path d="M812,457.6L813.8,457.9L814.5,457.1L815.4,456.8L816.6,455.1L817.8,454.8L819,453.2L820,453.6L821,453L822.2,453.3L823.6,454L824.9,454.1L826.3,454.1L827.5,454L828.5,454.5L829.7,454L831.1,453.5L832.6,453.5L834,453.7L835.4,452.5L836.5,452.6L837.5,452.8L838.6,452.1L839.8,451.2L841,450.1L842,449.2L843,449L843.8,449L844.9,448.6L846,449.9L847,449.6L847.7,448.8L848.5,448.2L849.4,446.5L850.3,446.1L851.2,444.8L852.2,444.2L853.5,445.4L854.9,444.9L856.3,445.5L857.7,444.6L858.8,444.6L859.9,444.6L861.2,444.5L862.5,442.8L863.8,442.6L865,442.3L866,441.4L867.2,441L868.6,441L870,439.9L871.4,439.6L872.7,439.2L873.8,439.2L874.9,438.7L876.3,439.3L877.7,439.5L879.1,440.1L880.3,441L881.2,441.1L882,439.6L882.8,438.9L883.6,437.2L884.3,435.9L884.9,434.3L885.5,433.6L886.6,433.5L887.7,434.6L888.8,434.5L889.6,434.8L890.6,433L891.7,432.4L892.5,431.8L893.4,432.4L894.3,434.6L895.5,434.9L896.1,434.4L897,432.8L897.9,432.2L899,431.3L900,429.5L901,429.1L901.8,428.4L902.5,428L903.9,427.3L905.2,427.1L906.2,427.1L906.8,427.1L907.4,425.2L908.1,424.4L908.8,423L909.4,421.7L910,421.6L910.9,421.2L911.9,423.1L912.9,424.1L913.8,424.9L914.2,423.8L914.8,422.5L915.4,421.4L916,420.1L916.5,418.1L917.1,417.7L917.5,416.4L918.1,414.7L918.7,413.5L919.3,412.5L919.9,411L920.5,410.4L921,411.3L921.7,412.6L922.4,414.2L923.2,415.2L923.9,416.1L924.5,416.8L924.9,416.5L925.5,416.2L926,414.1L926.6,413.6L927.2,411.2L927.7,409.9L928.3,408.6L928.8,408L929.2,407.1L929.6,404.9L930.2,403.8L930.7,402.8L931.3,401.3L931.8,400.7L932.4,398.9L932.9,397.2L933.4,396.3L933.8,395.2L934.1,394.5L934.4,393.4L934.7,391.7L935,390.8L935.4,389.8L935.7,387.9L936.1,386.8L936.4,385.1L936.7,383.7L937,382.1L937.3,380.7L937.5,379.8L937.7,378.9L937.9,378.2L938.1,377.2L938.3,376.1L938.5,375L938.7,373.5L938.9,372.1L939.1,370.9L939.3,369.6L939.5,368.4L939.7,366.4L939.9,365.7L940.1,363.6L940.2,362L940.4,361.6L940.5,359.7L940.6,359.5L940.7,357.9L940.8,356.8L940.9,356.3L941,354.9L941,352.8L941.1,352.5L941.2,350.2L941.3,349.4L941.4,348.2L941.5,346.6L941.6,344.7L941.7,343.8L941.8,342L941.9,340L942,339.4L942,337.6L942.1,335.9L942.2,334.7L942.3,333.1L942.4,332.3L942.4,331.2L942.5,329.6L942.6,328.8L942.6,327.5L942.7,327L942.8,324.9L942.9,324L942.9,322.7L943,321.2L943.1,319.5L943.2,317.9L943.3,316.1L943.4,314.9L943.4,314.1L943.5,312L943.6,310.9L943.7,309.2L943.8,307.5L943.8,306.6L943.9,306L944,304.1L944.1,302.8L944.1,302L944.2,300.7L944.2,299.7L944.3,298.5L944.4,297.8L944.5,295.6L944.6,294.2L944.7,293.6L944.8,291.6L944.9,290.2L945.1,289L945.2,288.5L945.3,287.2L945.4,285.9L945.5,283.8L945.6,283.2L945.7,280.8L945.8,280L945.8,279.2L945.9,278L945.9,277.6L946,276.2L946.1,274.7L946.1,273.8L946.2,272.6L946.3,270.5L946.4,269.4L946.5,268L946.5,267.4L946.6,265.8L946.7,263.7L946.8,263.1L946.9,260.6L946.9,259.4L947,257.8L947.1,256.8L947.2,255.8L947.3,254.3L947.3,252L947.4,251L947.5,250.3L947.6,248.8L947.6,248.5L947.7,247.2L947.7,246.2L947.8,245L947.9,243.7L947.9,241.9L948,241.4L948.1,239.8L948.2,238.6L948.3,236.3L948.3,235.1L948.4,234.1L948.5,232.9L948.6,230.9L948.7,229.9L948.8,227.5L948.8,226.1L948.9,225.4L949,224.3L949.1,222L949.2,220.6L949.3,219.2L949.3,218.1L949.4,216.5L949.5,215.2L949.6,214.4L949.7,212.2L949.7,212.1L949.8,210.8L949.9,210L949.9,208.9L950,207.9L950.1,206L950.2,205.3L950.3,203.8L950.4,202.1L950.5,201.2L950.6,199.4L950.7,198.6L950.8,196.8L950.9,195.5L951,194L951.1,192.1L951.2,191L951.3,189.2L951.4,187.7L951.5,186.8L951.6,185.1L951.7,183.7L951.8,182.8L951.9,181.1L952,179.2L952.1,178.9L952.2,177.8L952.3,176.9L952.4,176.4L952.5,175.3L952.7,173.9L952.9,172.1L953.1,170.7L953.4,168.6L953.6,167L953.8,166L954.1,165.2L954.3,164.1L954.6,162.9L954.8,161.8L955,161L955.9,159.3L957.1,159.3L958,158.8L958.5,158.2L959,155.9L959.5,154.1L960.1,152.7L960.5,151.9L960.7,152.7L960.9,154.1L961.2,155.4L961.5,157.1L961.7,158.2L962,160.1L962.3,161.8L962.5,163.2L962.8,163.7L963,165.5L963.6,167.1L964.4,168.6L965.1,169.1L965.8,170.5L966.4,169.3L967.3,166.8L968.1,165.5L968.8,164.6L969,165L969.2,166.7L969.5,167.9L969.7,169L970,170.1L970.2,171.9L970.5,173.2L970.7,174.8L971,175.9L971.2,177.7L971.6,179.1L972.1,180.1L972.6,181.8L973.1,182.7L973.6,185L974.2,185.8L974.6,186.1L975,187L975.7,187.1L976.5,187L977.3,185.4L978,182L978.1,182L978.3,180.5L978.4,180.1L978.5,179.4L978.7,177.5L978.8,176.8L979,175.2L979.2,173.5L979.3,173L979.5,171.3L979.7,169.2L979.8,167.6L980,166.3L980.2,165.1L980.3,163.8L980.5,161.9L980.7,159.8L980.8,158.3L981,157.2L981.1,156.6L981.2,154.6L981.4,154.1L981.5,152.4L981.6,151.7L981.7,150.9L981.8,149.7L982,147.6L982.1,146.5L982.3,145.2L982.4,143.9L982.6,142.6L982.7,141.6L982.9,139.4L983,138L983.2,136.9L983.3,135.8L983.5,134.3L983.6,132L983.8,131.1L983.9,129.8L984.1,128.2L984.2,127.4L984.4,125.2L984.5,124.5L984.6,123.5L984.8,122.6L984.9,120.4L985,120.3L985.1,118.7L985.3,117.9L985.4,116.4L985.6,115.4L985.8,113.3L985.9,112.9L986.1,110.9L986.3,110L986.4,107.9L986.6,106.3L986.8,105.1L987,104.1L987.2,103L987.4,101.1L987.5,99.5L987.7,98.9L987.9,97.3L988,95.7L988.2,94.7L988.3,93L988.5,92.1L988.6,90.9L988.8,89.7L988.9,88.4L989,87.3L989.2,86.6L989.3,85.1L989.5,83.2L989.7,82.2L989.9,79.8L990,78.8L990.2,77.3L990.4,74.8L990.6,74.2L990.7,72.6L990.9,70.7L991.1,69.3L991.2,68.1L991.4,66.7L991.5,65.1L991.7,64.5L991.8,64.2L991.9,63.1L992,62.2L992.6,62.2L993.2,63.8L993.8,65.9L994,67.5L994.3,68.5L994.7,70.8L995,72.4L995.4,73L995.8,73.5L996.1,73.3L996.5,71.6L997,70.6L997.5,68.6L998,66.2L998.4,65.5L998.8,65.1L999,65.1L999.3,66.1L999.6,66.7L1000,68L1000.3,69.4L1000.6,71.3L1000.9,72.4L1001.2,75.1L1001.4,75.3L1001.5,76.4L1001.6,78.1L1001.8,78.6L1001.9,80.3L1002.1,81.2L1002.3,83.5L1002.5,85L1002.6,85.7L1002.8,88L1003,89.6L1003.2,90.3L1003.4,92.1L1003.6,93.5L1003.8,95.1L1003.9,96.9L1004.1,98.3L1004.3,99.6L1004.4,100.6L1004.6,102.2L1004.7,103.8L1004.9,104L1005,105.2L1005.3,106.3L1005.6,108.4L1005.9,109.6L1006.2,111.3L1006.6,111.5L1006.9,113.3L1007.2,114.2L1007.5,115.2L1007.8,116.2L1008,118L1008.2,118.2L1008.4,119.9L1008.6,120.5L1008.8,123L1009,124.3L1009.3,125.7L1009.5,126.9L1009.7,128.1L1009.9,129.5L1010.1,131L1010.3,131.8L1010.5,133L1011.2,133.6L1012.1,134.6L1013,136L1013.2,136.5L1013.3,137.3L1013.5,138.4L1013.8,140.2L1014,141.3L1014.3,142.4L1014.5,143.3L1014.8,144.5L1015.1,146.2L1015.3,148L1015.6,148.9L1015.9,150.8L1016.1,152.1L1016.4,154L1016.7,155.3L1016.9,156L1017.1,157.5L1017.3,159.3L1017.5,160.5L1017.7,161.1L1017.9,162.6L1018.1,163.1L1018.3,164.7L1018.5,166.3L1018.7,167L1018.9,169.1L1019.1,170.9L1019.3,171.7L1019.5,172.9L1019.8,175.1L1020,176.6L1020.2,177.5L1020.4,179L1020.6,180.3L1020.8,181.3L1020.9,183.2L1021.1,183.7L1021.2,185.3L1021.4,186.4L1021.6,187.2L1021.9,189.4L1022.1,190.3L1022.3,192.5L1022.6,193.4L1022.8,195.6L1023,197L1023.3,198.6L1023.5,200.2L1023.7,201.4L1023.9,201.6L1024.1,202.5L1024.3,204L1024.5,203.7L1024.7,204L1025,202.9L1025.3,201.9L1025.6,199.5L1025.9,198.3L1026.2,196.7L1026.5,194.4L1026.8,193.1L1027,191.8L1027.3,190.8L1027.5,189.6L1027.8,190.8L1028.1,191.6L1028.4,192.9L1028.8,195.7L1029.1,197L1029.4,198.7L1029.7,199.8L1030,200L1030.1,199.2L1030.3,199.3L1030.4,198.4L1030.6,196.7L1030.8,196.2L1030.9,193.6L1031.1,192.2L1031.3,191.3L1031.4,189.1L1031.6,187.4L1031.8,185.6L1032,184.4L1032.1,182.7L1032.2,182.1L1032.4,180.3L1032.5,179.9L1032.7,178.8L1033,176.5L1033.3,174.3L1033.5,172.3L1033.8,171.7L1034.1,169.4L1034.3,169.4L1034.5,169.3L1034.6,170.2L1034.7,170.6L1034.8,171.8L1034.9,172.8L1035,173.7L1035.1,174.7L1035.2,176.2L1035.3,178.2L1035.5,179.5L1035.6,181.1L1035.7,183L1035.8,183.9L1035.9,186.1L1036,187.5L1036.1,188.5L1036.2,190.3L1036.3,190.5L1036.4,191.4L1036.5,193.7L1036.6,195.1L1036.7,195.9L1036.8,197.3L1036.9,198.7L1037,201.2L1037.1,202L1037.2,204.2L1037.3,206L1037.5,207.3L1037.6,209.5L1037.7,210.4L1037.8,212.5L1037.9,213.3L1038,215L1038.2,216.6L1038.3,217.2L1038.4,219L1038.5,220L1038.6,220L1038.7,220.9L1038.8,220.7L1038.9,221.4L1039.2,221.1L1039.4,219.4L1039.6,218.8L1039.9,216L1040.1,214.4L1040.4,211.9L1040.6,210.4L1040.8,209.4L1041.1,207.9L1041.2,207.9L1041.5,208.2L1041.8,208.8L1042.1,210.1L1042.5,212.8L1042.8,214.9L1043.1,215.7L1043.4,216.6L1043.8,217.9L1044,217.2L1044.3,215.8L1044.6,214.2L1045,212.9L1045.4,211.5L1045.7,208.8L1046.1,207.8L1046.4,205.8L1046.7,205.4L1047,204.9L1047.2,205.3L1047.4,205.4L1047.6,207.2L1047.8,208.5L1048,209.3L1048.3,210.6L1048.5,212.7L1048.7,213.6L1048.9,215.1L1049.1,217.4L1049.3,218.7L1049.5,220.2L1049.6,220.4L1049.8,222.6L1049.9,223.6L1050.1,224.4L1050.3,226.5L1050.5,228.5L1050.7,229.3L1050.9,231.7L1051.1,233.4L1051.3,234.8L1051.5,236L1051.6,237.4L1051.8,238.6L1052,240.3L1052.2,240.6L1052.3,241.9L1052.5,242.6L1053.5,243.9L1054.7,242.7L1055.8,242L1056.1,242.7L1056.4,243.7L1056.8,244.6L1057.2,245.6L1057.6,246.9L1058,249L1058.4,250.6L1058.8,252.2L1058.9,253.1L1059,253.7L1059.2,255.4L1059.4,256L1059.6,257.4L1059.7,259.6L1059.9,260.3L1060.1,262.5L1060.3,263.8L1060.5,265.1L1060.8,267.1L1061,268.6L1061.2,270.7L1061.4,272.3L1061.5,273.1L1061.7,274.4L1061.9,276L1062.1,276.7L1062.2,278.3L1062.4,278.7L1062.5,279.7L1062.8,282L1063.1,283.7L1063.4,284.9L1063.6,287L1063.9,287.4L1064.2,288.7L1064.5,290L1064.7,290.5L1065,291.2L1065.7,289.7L1066.5,288.1L1067.3,285.4L1068,285.7L1068.1,286.1L1068.3,287.5L1068.4,287.6L1068.6,289.9L1068.8,290.4L1068.9,291.6L1069.1,293.2L1069.3,295L1069.5,296.2L1069.7,298.5L1069.9,300.1L1070.1,301.6L1070.2,303.5L1070.4,304.7L1070.6,305.5L1070.8,306.9L1070.9,308.2L1071.1,309L1071.2,309.9L1071.8,311.7L1072.4,313.2L1073,313.8L1073.7,315L1074.4,315.9L1075,316.9L1075.2,318.9L1075.4,318.9L1075.6,320.5L1075.9,321.4L1076.2,323.6L1076.4,325.5L1076.7,326.7L1077,329.3L1077.3,330.2L1077.6,332.9L1077.9,334.4L1078.2,335.3L1078.5,336.8L1078.8,338.1L1079.1,339.9L1079.3,340.4L1079.6,342L1079.8,341.4L1080,342.4L1080.2,341.6L1080.4,340.6L1080.6,340.6L1080.8,339.2L1081,337.4L1081.2,336L1081.5,334L1081.7,332.1L1081.9,330.7L1082.2,328.6L1082.4,326.3L1082.6,324.4L1082.9,323.4L1083.1,320.8L1083.3,319.4L1083.5,317.6L1083.7,316.2L1083.9,316L1084.1,314.9L1084.3,315.2L1084.5,314.7L1084.6,315.1L1084.7,315.9L1084.8,316.6L1085,316.9L1085.1,318.3L1085.2,319.1L1085.3,320.6L1085.5,321.7L1085.6,323.2L1085.7,323.9L1085.8,325.2L1086,326.7L1086.1,328.8L1086.3,330.6L1086.4,332.1L1086.5,333.7L1086.7,335.8L1086.8,337.4L1086.9,338.9L1087.1,341.6L1087.2,342.9L1087.4,344.2L1087.5,346L1087.6,347.9L1087.8,348.8L1087.9,350.7L1088,352.3L1088.2,352.8L1088.3,354.4L1088.4,355.8L1088.5,356.5L1088.6,356.9L1088.8,356.9L1089.9,360.1L1091.2,359.5L1092.6,357.2L1093.8,354.7L1094.2,354.2L1094.8,353.1L1095.4,351.2L1096,350.1L1096.5,348L1097.1,345.9L1097.6,345.2L1098,345.6L1098.5,345.8L1099.1,346.5L1099.7,346.9L1100.2,348.6L1100.8,350.8L1101.2,351.9L1101.4,353.7L1101.6,354.2L1101.8,355.6L1102,356.6L1102.2,357.6L1102.4,359.6L1102.6,360.3L1102.8,362.1L1103,363.4L1103.3,365.3L1103.5,366.7L1103.7,367.8L1103.9,369L1104.1,370.1L1104.3,371L1104.5,372.4L1104.7,373.1L1105,374.8L1105.3,377L1105.6,378.1L1106,379.3L1106.3,381.5L1106.7,383L1107,384.2L1107.4,384.9L1107.7,386.8L1108.1,387.7L1108.4,388.3L1108.8,388.7L1109.8,389.2L1111.2,389.3L1112.6,389L1114,388.3L1115,387.4L1115.7,386.8L1116.3,384.4L1117,382.4L1117.6,380.7L1118.2,380.2L1118.8,379.4L1119,380.2L1119.2,380.7L1119.5,381.5L1119.8,383.7L1120,384.3L1120.3,386.4L1120.6,387.4L1120.9,389.5L1121.2,390.1L1121.5,391.9L1121.8,393.3L1122,395.3L1122.3,396L1122.5,397.6L1122.7,398.2L1122.9,399.3L1123.1,401.7L1123.4,403.2L1123.6,404.8L1123.9,406.8L1124.1,408.3L1124.4,409.1L1124.6,411L1124.9,412.7L1125.1,414.7L1125.4,414.8L1125.6,416.6L1125.8,416.5L1126.1,417L1126.2,417.2L1126.4,417.1L1126.6,417.1L1126.8,416.1L1127,414.3L1127.2,413.7L1127.4,411L1127.6,409.3L1127.9,407.9L1128.1,405.9L1128.3,404.6L1128.5,401.7L1128.7,400.9L1128.9,398.5L1129.2,397.5L1129.3,395.1L1129.5,395L1129.7,393.9L1129.9,392.9L1130,392.9L1130.2,392.9L1130.4,393.5L1130.5,394.2L1130.7,395.7L1130.9,396.8L1131.1,398.6L1131.3,400.1L1131.5,402.5L1131.7,403.2L1131.8,405.8L1132,406.7L1132.2,408.6L1132.3,409L1132.5,409.8L1133.4,410L1134.5,407.6L1135.5,407.7L1135.7,408.3L1135.9,408.5L1136.1,410.3L1136.3,411.1L1136.6,412.7L1136.8,414.3L1137.1,415.8L1137.3,417.2L1137.6,418.7L1137.8,420.7L1138.1,422.3L1138.3,422.8L1138.5,424.4L1138.8,424.6L1139.5,426.9L1140.4,428.1L1141.3,429.3L1142.2,430.2L1143,429.5L1143.3,428.8L1143.5,427.6L1143.8,426.8L1144.1,424.6L1144.4,423.2L1144.7,420.6L1145,419.7L1145.3,418L1145.6,415.4L1145.9,414.3L1146.2,412.8L1146.5,412.5L1146.8,412.9L1147,412.9L1147.2,413L1147.4,415L1147.7,415.7L1148,416.6L1148.2,418.5L1148.5,420L1148.8,422.7L1149.1,423.9L1149.4,425.9L1149.7,428L1150,429.3L1150.3,430.1L1150.5,431.4L1150.8,432.4L1151,433.7L1151.2,433.9L1151.5,433.4L1151.8,432.8L1152.1,431.5L1152.4,430.1L1152.8,429.2L1153.1,427.7L1153.5,425.5L1153.8,423.9L1154.1,421.8L1154.5,419.6L1154.8,418.1L1155,417.9L1155.3,417.1L1155.5,416.8L1155.8,416.2L1156.1,417.5L1156.4,418.9L1156.7,420.5L1157,422.6L1157.3,424.6L1157.5,425.3L1157.8,427.1L1158,427.4L1158.5,427.1L1159.2,424.7L1159.8,422.7L1160.5,422.8L1160.6,423.6L1160.8,423.4L1161,424.4L1161.2,426L1161.3,427.8L1161.6,429.4L1161.8,431.1L1162,431.9L1162.2,434.4L1162.4,436L1162.7,437.3L1162.9,439.4L1163.1,441.5L1163.4,442.3L1163.6,444.7L1163.8,445.1L1164,446.2L1164.2,447.4L1164.3,448.6L1164.5,449.1L1164.9,449.3L1165.2,447.8L1165.7,446.5L1166.1,444.7L1166.5,442.7L1166.9,441L1167.3,439.9L1167.7,438.3L1168,437.3L1168.5,438.5L1169,439.6L1169.6,441L1170.2,443L1170.7,444.9L1171.2,444.6L1171.5,444.2L1171.7,443.5L1172,442.6L1172.4,441.6L1172.7,439L1173,438.3L1173.4,436L1173.7,434.1L1174.1,432.4L1174.4,430.9L1174.7,429.7L1175,428.5L1175.3,428.3L1175.5,427.3L1175.8,427.3L1176.2,429L1176.5,430.2L1176.8,431L1177.2,433.4L1177.6,435.4L1177.9,436.4L1178.3,437.9L1178.8,438.4L1179.5,438.3L1180.6,438.1L1181.8,436.4L1183,435.8L1184.1,435L1185,435.1L1185.5,436L1186.1,435.9L1186.7,437.4L1187.4,439.4L1188,440.6L1188.6,441.8L1189.1,443.1L1189.6,444L1190,445.5L1190.9,444.5L1191.7,443.2L1192.5,442.6L1193,443.7L1193.6,444.9L1194.3,446.6L1194.9,448.4L1195.5,448.5L1196,447.8L1196.5,447.6L1197,446L1197.6,443.8L1198.2,442.8L1198.8,442.4L1199.6,442.3L1200.6,443.3L1201.7,444.8L1202.8,446.9L1203.8,447.6L1204.5,446.5L1205.4,446.1L1206.3,444.2L1207.3,442.8L1208.1,441.5L1208.8,441.3L1209.6,441.6L1210.5,443.5L1211.3,444.9L1212,445.3L1212.7,444.2L1213.5,442.7L1214.3,442.1L1215,441.5L1215.4,442L1215.8,442.3L1216.3,444.8L1216.7,445.6L1217.2,447.3L1217.6,448.4L1218,450.6L1218.4,451.6L1218.8,452.5L1219.3,454.5L1219.8,456.3L1220.3,457.6L1220.8,457.8L1221.2,458.5L1222.3,458.6L1223.6,458.6L1225,458.6L1226,458.6L1226.3,458L1226.6,457.8L1226.8,456.2L1227.1,453.8L1227.4,452.5L1227.7,451.2L1228,448.8L1228.3,447.5L1228.5,445.8L1228.8,445.4L1229,444.1L1229.2,443.5L1229.6,444.3L1229.9,444.6L1230.3,446.1L1230.7,448.6L1231,450.5L1231.4,451.4L1231.8,452.9L1232.2,455L1232.5,454.9L1232.9,454.9L1233.5,453.2L1234.1,451.2L1234.6,449.3L1235.2,448L1235.8,447L1236.2,446.7L1236.7,446.6L1237.3,448.2L1237.8,450.5L1238.4,452.6L1239,454.4L1239.5,455.4L1240,455L1240.2,454.9L1240.4,453.8L1240.6,453.3L1240.8,451.9L1241,450.2L1241.2,449.7L1241.4,447.5L1241.7,446.4L1241.9,445L1242.1,443.3L1242.4,441.6L1242.6,440.5L1242.8,438.1L1243,436.9L1243.2,435.9L1243.4,435L1243.6,433L1243.8,431.9L1244.1,431.3L1244.4,429.4L1244.8,427.5L1245.1,426.4L1245.5,425L1245.8,422.9L1246.2,422L1246.5,421.5L1246.8,421.1L1247,421.5L1247.3,422.2L1247.5,424.2L1247.8,425.3L1248.2,427.6L1248.5,429.3L1248.7,430.6L1249,431.7L1249.3,432.5L1249.5,433.5L1250.3,432.9L1251.1,429.8L1252,430.3L1252.1,430.1L1252.3,431.6L1252.4,432.8L1252.6,432.7L1252.8,434L1253,436.2L1253.2,437L1253.4,438.4L1253.6,440.6L1253.8,442.3L1254,444.1L1254.2,444.8L1254.4,446.9L1254.7,447.9L1254.9,450L1255.1,451.9L1255.3,452.8L1255.5,454.3L1255.6,455.7L1255.8,456.1L1256,457.4L1256.1,458.2L1256.2,458.6L1257.7,458.6L1259,458.6L1259.2,458L1259.4,457.9L1259.6,456L1259.9,455.3L1260.1,453.3L1260.4,452.6L1260.6,449.9L1260.9,448.4L1261.1,447.8L1261.4,445.5L1261.6,444.7L1261.8,443.3L1262,442.6L1262.3,441.2L1262.7,439.5L1263.1,437.9L1263.5,436.6L1263.9,434.5L1264.3,433.9L1264.7,432.3L1265,432.8L1265.4,432.8L1265.9,434.4L1266.5,435.5L1267,438.3L1267.5,439.7L1268,440.5L1269,439.4L1270.2,437.2L1271.2,436.4L1271.4,437.6L1271.7,438.2L1271.9,439.2L1272.2,441.3L1272.4,443.2L1272.7,444.8L1273,445.8L1273.2,447.3L1273.5,449.5L1273.8,450.5L1274.1,452.8L1274.3,454.3L1274.6,455L1274.8,456.2L1275,455.9L1275.6,456.9L1276.2,455.5L1276.9,454.4L1277.6,453.2L1278.3,451.1L1278.8,450.4L1279.4,448.7L1280,447.5L1280.7,447.4L1281.2,445.5L1281.4,444.5L1281.6,443L1281.8,441.3L1282,439.5L1282.3,438.8L1282.5,437L1282.7,434.4L1283,433.2L1283.2,431.4L1283.4,430L1283.7,428.8L1283.9,428L1284.1,427L1284.2,427.2L1284.4,427.5L1284.5,428.4L1284.6,429.3L1284.8,431.2L1284.9,432.5L1285.1,433.8L1285.2,435.2L1285.4,437.2L1285.5,439L1285.7,440.7L1285.9,443.2L1286,444.9L1286.2,446.5L1286.3,447.7L1286.5,449.2L1286.6,450.3L1286.7,451.7L1286.9,452.4L1287,452.9L1287.2,452.6L1287.4,451.7L1287.6,451.3L1287.9,449.8L1288.2,448.7L1288.4,446.2L1288.7,444.1L1289,443.1L1289.2,440.3L1289.4,438.9L1289.7,438L1289.8,437.1L1290,436L1290.6,435.8L1291.2,438.5L1291.5,440.3" fill="none" stroke="#ff7a05" stroke-width="2.85" stroke-linejoin="round" stroke-linecap="round"/>
</g>
<rect x="749.2" y="21" width="543.3" height="437.6" fill="none" stroke="#000" stroke-width="3.0"/>
<path d="M749.2,458.6v8.9M857.9,458.6v8.9M966.5,458.6v8.9M1075.2,458.6v8.9M1183.8,458.6v8.9M1292.5,458.6v8.9M803.5,458.6v4.6M912.2,458.6v4.6M1020.9,458.6v4.6M1129.5,458.6v4.6M1238.2,458.6v4.6" stroke="#000" stroke-width="2.9" fill="none"/>
<text x="749.2" y="493.3" font-size="25" text-anchor="middle">300</text>
<text x="857.9" y="493.3" font-size="25" text-anchor="middle">400</text>
<text x="966.5" y="493.3" font-size="25" text-anchor="middle">500</text>
<text x="1075.2" y="493.3" font-size="25" text-anchor="middle">600</text>
<text x="1183.8" y="493.3" font-size="25" text-anchor="middle">700</text>
<text x="1292.5" y="493.3" font-size="25" text-anchor="middle">800</text>
<text x="1020.9" y="535.6" font-size="27" font-weight="700" text-anchor="middle">Wavelength (nm)</text>
<text x="730.2" y="240.3" font-size="27" font-weight="700" text-anchor="middle" transform="rotate(-90 730.2 240.3)">Normalized intensity</text>
<text x="672.8" y="29.5" font-size="41">(c)</text>
<rect x="1033.5" y="41.3" width="43" height="20.3" fill="url(#lB)" stroke="#3296ff" stroke-width="2.6"/>
<rect x="1033.5" y="70.7" width="43" height="21.6" fill="url(#lO)" stroke="#ff7a05" stroke-width="2.6"/>
<text x="1089" y="59.5" font-size="25">Prompt at 298 K</text>
<text x="1089" y="89.5" font-size="25">Delayed at 298 K</text>
<g clip-path="url(#cpd)">
<path d="M1437.5,453.8L1438.3,453.6L1439.4,453.3L1440.8,453.1L1442.2,452.9L1443.8,453L1444.8,453.2L1445.9,453.6L1447,454.1L1448.2,454.6L1449.5,455.1L1450.9,455.5L1452.5,455.8L1453.6,455.8L1454.7,455.9L1456,455.9L1457.3,456L1458.7,455.9L1460.1,455.9L1461.5,455.9L1462.8,455.9L1464.1,455.8L1465.4,455.8L1466.5,455.8L1467.5,455.8L1469.2,455.8L1470.8,456L1472.1,456.1L1473.2,456.2L1474.2,456.1L1475,455.8L1475.8,455.2L1476.2,454.5L1476.5,453.6L1476.7,452.2L1477,450L1477.1,449.1L1477.2,448.3L1477.4,447.4L1477.5,446.5L1477.6,445.5L1477.7,444.5L1477.8,443.4L1477.9,442.2L1478.1,440.8L1478.2,439.4L1478.3,437.9L1478.4,436.1L1478.5,434.3L1478.6,432.2L1478.8,430L1478.8,429.1L1478.8,428.1L1478.9,427.1L1478.9,426.1L1479,425L1479,423.9L1479.1,422.8L1479.1,421.7L1479.2,420.5L1479.2,419.3L1479.3,418.1L1479.3,416.9L1479.4,415.6L1479.4,414.3L1479.5,413L1479.5,411.7L1479.6,410.4L1479.6,409L1479.7,407.7L1479.7,406.3L1479.8,404.9L1479.8,403.5L1479.8,402.1L1479.9,400.6L1479.9,399.2L1480,397.7L1480,396.3L1480.1,394.8L1480.1,393.3L1480.2,391.9L1480.2,390.4L1480.3,388.9L1480.3,387.4L1480.3,385.9L1480.4,384.5L1480.4,383L1480.5,381.5L1480.5,380L1480.5,378.8L1480.6,377.6L1480.6,376.4L1480.6,375.1L1480.7,373.9L1480.7,372.6L1480.7,371.3L1480.7,370L1480.8,368.7L1480.8,367.4L1480.8,366L1480.9,364.7L1480.9,363.3L1480.9,361.9L1480.9,360.6L1481,359.2L1481,357.8L1481,356.4L1481.1,355L1481.1,353.6L1481.1,352.2L1481.1,350.8L1481.2,349.4L1481.2,348L1481.2,346.6L1481.2,345.2L1481.3,343.8L1481.3,342.4L1481.3,341L1481.3,339.7L1481.4,338.3L1481.4,336.9L1481.4,335.6L1481.4,334.3L1481.5,333L1481.5,331.7L1481.5,330.4L1481.5,329.1L1481.6,327.9L1481.6,326.6L1481.6,325.4L1481.6,324.2L1481.6,323L1481.7,321.9L1481.7,320.7L1481.7,319.6L1481.7,318.6L1481.8,317.5L1481.8,315.8L1481.8,314.3L1481.8,312.8L1481.9,311.4L1481.9,310.1L1481.9,308.8L1482,307.7L1482,306.5L1482,305.4L1482.1,304.4L1482.1,303.3L1482.1,302.3L1482.1,301.3L1482.2,300.3L1482.2,299.3L1482.2,298.3L1482.2,297.3L1482.3,296.2L1482.3,295.1L1482.3,293.9L1482.3,292.7L1482.3,291.5L1482.4,290.1L1482.4,288.7L1482.4,287.1L1482.4,285.5L1482.5,283.8L1482.5,282L1482.5,280L1482.5,279L1482.5,278.1L1482.5,277.1L1482.5,276L1482.5,275L1482.6,273.9L1482.6,272.8L1482.6,271.7L1482.6,270.6L1482.6,269.5L1482.6,268.3L1482.6,267.1L1482.6,265.9L1482.6,264.7L1482.6,263.5L1482.6,262.3L1482.6,261L1482.6,259.7L1482.6,258.5L1482.7,257.2L1482.7,255.9L1482.7,254.5L1482.7,253.2L1482.7,251.9L1482.7,250.6L1482.7,249.2L1482.7,247.8L1482.7,246.5L1482.7,245.1L1482.7,243.7L1482.7,242.3L1482.7,241L1482.7,239.6L1482.7,238.2L1482.7,236.8L1482.8,235.4L1482.8,234L1482.8,232.6L1482.8,231.1L1482.8,229.7L1482.8,228.3L1482.8,226.9L1482.8,225.5L1482.8,224.1L1482.8,222.7L1482.8,221.3L1482.8,220L1482.8,218.6L1482.9,217.2L1482.9,215.8L1482.9,214.4L1482.9,213.1L1482.9,211.7L1482.9,210.4L1482.9,209.1L1482.9,207.7L1482.9,206.4L1482.9,205.1L1483,203.8L1483,202.5L1483,201.3L1483,200L1483,198.7L1483,197.3L1483,196L1483.1,194.6L1483.1,193.2L1483.1,191.9L1483.1,190.5L1483.1,189.1L1483.1,187.7L1483.2,186.3L1483.2,185L1483.2,183.6L1483.2,182.2L1483.2,180.8L1483.3,179.4L1483.3,178L1483.3,176.6L1483.3,175.2L1483.3,173.8L1483.4,172.4L1483.4,171L1483.4,169.6L1483.4,168.2L1483.5,166.9L1483.5,165.5L1483.5,164.1L1483.5,162.7L1483.5,161.4L1483.6,160L1483.6,158.6L1483.6,157.3L1483.6,156L1483.7,154.6L1483.7,153.3L1483.7,152L1483.7,150.7L1483.7,149.4L1483.8,148.1L1483.8,146.8L1483.8,145.5L1483.8,144.3L1483.9,143L1483.9,141.8L1483.9,140.6L1483.9,139.4L1484,138.2L1484,137L1484,135.8L1484,134.6L1484.1,133.5L1484.1,132.4L1484.1,131.3L1484.1,130.2L1484.2,129.1L1484.2,128.1L1484.2,127L1484.2,126L1484.2,125L1484.3,123.2L1484.3,121.4L1484.4,119.6L1484.4,117.9L1484.5,116.2L1484.5,114.6L1484.6,113L1484.6,111.5L1484.7,109.9L1484.7,108.4L1484.8,107L1484.8,105.6L1484.8,104.2L1484.9,102.9L1484.9,101.6L1485,100.3L1485,99.1L1485.1,97.9L1485.1,96.7L1485.2,95.6L1485.2,94.4L1485.3,93.4L1485.3,92.3L1485.4,91.3L1485.4,90.3L1485.5,89.4L1485.5,88.4L1485.6,87.5L1485.6,86.7L1485.7,85.8L1485.8,85L1486,82.2L1486.2,80L1486.4,78.3L1486.6,77L1486.8,76.1L1487,75.6L1487.3,75.2L1487.5,75L1487.8,75.1L1488.1,75.6L1488.4,76.7L1488.8,78.2L1489.1,80.2L1489.5,82.5L1489.7,83.4L1489.8,84.4L1490,85.5L1490.1,86.7L1490.3,87.9L1490.5,89.1L1490.7,90.4L1490.9,91.8L1491.1,93.2L1491.3,94.6L1491.4,96.1L1491.6,97.6L1491.8,99L1492,100.5L1492.2,102L1492.3,103.5L1492.5,105L1492.6,106.2L1492.8,107.5L1492.9,108.8L1493,110.1L1493.1,111.4L1493.3,112.8L1493.4,114.2L1493.5,115.6L1493.6,117L1493.7,118.4L1493.8,119.8L1494,121.2L1494.1,122.6L1494.2,123.9L1494.3,125.3L1494.4,126.6L1494.5,127.8L1494.6,129.1L1494.8,130.3L1494.9,131.4L1495,132.5L1495.2,134.2L1495.4,136L1495.6,137.7L1495.8,139.4L1496,141L1496.2,142.6L1496.4,144L1496.6,145.4L1496.8,146.6L1497,147.6L1497.1,148.4L1497.3,149.1L1497.5,149.5L1497.8,149.8L1498.1,149.5L1498.4,148.6L1498.7,147.2L1499,145.3L1499.2,142.9L1499.5,140L1499.6,139.1L1499.6,138.2L1499.7,137.2L1499.8,136.1L1499.8,135L1499.9,133.8L1500,132.6L1500,131.3L1500.1,130L1500.2,128.7L1500.2,127.3L1500.3,125.9L1500.4,124.5L1500.4,123.1L1500.5,121.6L1500.5,120.2L1500.6,118.7L1500.7,117.2L1500.7,115.8L1500.8,114.4L1500.9,112.9L1500.9,111.5L1501,110.2L1501.1,108.8L1501.1,107.5L1501.2,106.2L1501.2,105L1501.3,103.6L1501.4,102.1L1501.5,100.7L1501.6,99.2L1501.6,97.8L1501.7,96.3L1501.8,94.8L1501.9,93.4L1501.9,91.9L1502,90.5L1502.1,89.1L1502.2,87.7L1502.3,86.3L1502.3,85L1502.4,83.7L1502.5,82.4L1502.6,81.2L1502.6,80L1502.7,78.9L1502.8,77.8L1502.9,76.8L1502.9,75.9L1503,75L1503.2,72.5L1503.4,70.5L1503.6,69L1503.9,67.8L1504.1,67L1504.3,66.5L1504.5,66.2L1504.8,66.1L1505.1,66.4L1505.5,67.4L1505.8,69.3L1506.2,72.5L1506.3,73.3L1506.4,74.2L1506.5,75.1L1506.6,76.1L1506.7,77.2L1506.8,78.3L1506.9,79.5L1507,80.7L1507,82L1507.1,83.2L1507.2,84.6L1507.3,85.9L1507.4,87.3L1507.5,88.8L1507.6,90.2L1507.7,91.7L1507.8,93.1L1507.9,94.6L1508,96.1L1508.2,97.6L1508.3,99.1L1508.4,100.6L1508.5,102.1L1508.6,103.5L1508.8,105L1508.9,106.2L1509,107.4L1509.1,108.6L1509.2,109.8L1509.3,111.1L1509.4,112.3L1509.5,113.6L1509.6,114.9L1509.7,116.1L1509.9,117.4L1510,118.7L1510.1,120.1L1510.2,121.4L1510.4,122.7L1510.5,124L1510.6,125.4L1510.7,126.7L1510.9,128L1511,129.4L1511.1,130.7L1511.2,132L1511.4,133.3L1511.5,134.7L1511.6,136L1511.8,137.3L1511.9,138.6L1512,139.9L1512.1,141.2L1512.3,142.5L1512.4,143.7L1512.5,145L1512.6,146.3L1512.8,147.7L1512.9,149.1L1513,150.4L1513.2,151.8L1513.3,153.2L1513.4,154.6L1513.6,155.9L1513.7,157.3L1513.8,158.7L1514,160.1L1514.1,161.4L1514.3,162.8L1514.4,164.2L1514.5,165.5L1514.7,166.9L1514.8,168.2L1514.9,169.5L1515,170.8L1515.2,172.1L1515.3,173.3L1515.4,174.5L1515.6,175.8L1515.7,177L1515.8,178.1L1515.9,179.3L1516,180.4L1516.1,181.4L1516.2,182.5L1516.4,184.2L1516.6,185.9L1516.8,187.5L1516.9,189.1L1517.1,190.6L1517.2,192.1L1517.4,193.5L1517.5,194.9L1517.6,196.2L1517.8,197.5L1517.9,198.7L1518.1,199.8L1518.2,201L1518.3,202L1518.5,203.1L1518.6,204.1L1518.8,205L1519.1,207L1519.4,208.7L1519.8,210.1L1520.1,211.2L1520.5,212.2L1520.9,213L1521.2,213.8L1522.7,214.1L1524.2,215L1524.5,215.8L1524.8,216.7L1525,217.8L1525.3,219.1L1525.5,220.4L1525.8,221.8L1526.1,223.2L1526.4,224.7L1526.7,226.1L1527,227.5L1527.3,228.7L1527.6,229.8L1527.9,231L1528.3,232.2L1528.6,233.4L1529,234.7L1529.4,235.9L1529.7,237.2L1530.1,238.5L1530.5,239.8L1530.9,241.2L1531.2,242.5L1531.6,243.7L1531.9,244.9L1532.3,246.2L1532.6,247.5L1533,248.9L1533.3,250.2L1533.7,251.6L1534.1,252.9L1534.4,254.2L1534.8,255.5L1535.2,256.7L1535.5,257.9L1535.9,259L1536.2,260L1536.8,261.5L1537.4,262.9L1538,264.1L1538.6,265.3L1539.2,266.4L1539.8,267.5L1540.3,268.4L1540.8,269.2L1541.2,270L1542.2,271.7L1542.9,272.7L1543.8,273L1544.8,272.6L1546,271.6L1547.5,270.5L1548.4,269.9L1549.5,269.3L1550.6,268.6L1551.8,268L1552.8,267.4L1553.8,267L1555.1,266.7L1556.2,266.7L1557.5,266.2L1558.4,265.6L1559.4,264.8L1560.4,263.9L1561.5,262.9L1562.5,262L1563.5,261.1L1564.4,260.3L1565.4,259.4L1566.4,258.7L1567.5,258L1568.7,257.5L1570,257.1L1571.4,256.7L1572.6,256.5L1573.8,256.2L1575.2,256.2L1576.3,256.3L1577.5,256.2L1578.8,255.6L1580,254.7L1581.2,254.2L1582.5,254.6L1583.7,255.5L1585,256.8L1585.7,257.5L1586.5,258.4L1587.3,259.4L1588.2,260.4L1589.1,261.5L1590,262.5L1590.8,263.3L1591.7,264.1L1592.6,264.9L1593.5,265.8L1594.4,266.7L1595.3,267.6L1596.2,268.8L1597,269.7L1597.8,270.7L1598.5,271.8L1599.3,272.9L1600.1,274.1L1600.9,275.3L1601.6,276.5L1602.3,277.8L1603,279L1603.5,280.2L1604,281.4L1604.5,282.7L1604.9,284L1605.4,285.3L1605.8,286.6L1606.2,287.9L1606.6,289.1L1607,290.2L1607.5,291.2L1608.2,292.5L1608.9,293.7L1609.5,294.7L1610.2,295.6L1611,296.6L1611.7,297.6L1612.5,298.8L1613.1,299.7L1613.8,300.8L1614.5,301.8L1615.3,302.9L1616,304L1616.7,305.1L1617.4,306.3L1618.1,307.5L1618.8,308.8L1619.3,309.9L1619.8,311.2L1620.3,312.5L1620.8,313.8L1621.3,315.2L1621.8,316.5L1622.3,317.8L1622.8,319L1623.3,320.2L1623.8,321.2L1624.5,322.6L1625.2,323.9L1626,325.1L1626.7,326.2L1627.4,327.2L1628.1,328.1L1628.8,328.8L1630,330L1631,330.5L1632,330L1632.5,329.2L1633,328L1633.5,326.6L1634,325L1634.5,323.6L1635,322.5L1635.7,321.1L1636.5,319.8L1637.2,319L1638,318.8L1638.6,319.1L1639.2,319.8L1639.8,320.8L1640.5,321.8L1641.2,324.1L1641.7,324.9L1642.1,325.5L1642.6,326.8L1643.1,328L1643.6,329.5L1644.1,331.1L1644.6,332.3L1645.1,334L1645.7,334.7L1646.2,335.9L1646.8,337.6L1647.4,338.8L1648,339.7L1648.7,340.4L1649.3,341.7L1649.9,342.4L1650.6,343.8L1651.2,344.9L1651.9,345.8L1652.5,347.7L1653,348.9L1653.5,349.5L1654,351.4L1654.5,352L1655,353.9L1655.5,355.4L1655.9,356.5L1656.4,358.1L1656.9,359.5L1657.4,360.5L1657.9,361.7L1658.3,363.1L1658.8,363.6L1659.4,365.4L1660.1,366.8L1660.7,368L1661.3,369.1L1661.9,369.8L1662.5,371.2L1663.1,371.8L1663.8,372.4L1665,373.6L1666.2,374.9L1667.5,374.9L1668.8,375.5L1670,375L1671.3,374.8L1672.6,373.6L1673.8,372.5L1674.9,371.6L1676,370.3L1677,369L1678,368.7L1679.1,368.7L1680.2,369.1L1681.2,370.9L1681.7,371.2L1682.1,372.3L1682.5,373.2L1682.9,374.8L1683.3,376.1L1683.8,377.1L1684.3,378.3L1685,380L1685.5,381.2L1686,381.9L1686.6,383.5L1687.1,384.5L1687.7,385.1L1688.4,386.6L1689,388.1L1689.7,389.4L1690.4,389.9L1691.1,391.1L1691.8,392.6L1692.5,393.8L1693.2,394.6L1693.9,396.2L1694.6,396.8L1695.4,398.3L1696.2,399.5L1696.9,400.1L1697.7,401.2L1698.5,402.8L1699.3,403.4L1700.1,404.5L1700.9,406L1701.7,406.6L1702.5,407.4L1703.5,408.9L1704.5,409.4L1705.5,410.1L1706.4,411L1707.4,411.8L1708.4,412.8L1709.4,413.4L1710.4,413.6L1711.4,414.3L1712.5,415.4L1713.7,415.4L1715.1,416.1L1716.4,416.8L1717.8,417.8L1719.2,417.9L1720.5,418.5L1721.7,418.7L1722.8,419L1723.8,419.4L1725.4,419.3L1726.2,418.8L1727.5,418.7L1728.2,419.5L1729.1,420.4L1729.9,420.6L1730.9,422.1L1731.8,422.9L1732.9,424.1L1733.9,424.9L1735,426.3L1735.9,427.3L1736.8,427.6L1737.8,428.7L1738.8,429.6L1739.8,430L1740.9,430.7L1741.9,431.3L1743,432.7L1744,432.9L1745,433.9L1746.1,434.5L1747.2,435.5L1748.3,435.9L1749.4,437L1750.6,437.8L1751.7,438.4L1752.8,438.7L1753.9,439.3L1755,439.9L1756.2,440.8L1757.4,441.3L1758.5,441.4L1759.7,442.1L1760.9,442.3L1762.1,443.2L1763.5,443.7L1765,443.6L1766.1,444.4L1767.2,444.2L1768.3,444.3L1769.4,444.2L1770.6,444.6L1771.9,445.2L1773.1,445.2L1774.4,445.6L1775.8,445.1L1777.2,445.9L1778.6,446L1780,446.6L1781.1,446.7L1782.3,446.8L1783.4,447.3L1784.6,447.9L1785.9,447.6L1787.1,448.1L1788.4,448.6L1789.7,449L1791,449.6L1792.3,450L1793.6,450.5L1794.9,450.3L1796.2,451.4L1797.5,451.2L1798.7,451.4L1800,452.2L1801.2,452L1802.5,452.3L1803.8,452.5L1805,452.7L1806.2,453.2L1807.5,453L1808.8,453.7L1810,453.6L1811.2,453.9L1812.5,454.1L1813.8,454.2L1815,454.1L1816.2,454.3L1817.5,454.1L1818.8,454.3L1820,454.5L1821.3,454.5L1822.7,454.7L1824,454.8L1825.3,454.9L1826.7,455L1828,454.9L1829.3,455.4L1830.7,455.1L1832,455.1L1833.3,455.2L1834.7,455.5L1836,455.2L1837.3,455.7L1838.7,455.5L1840,455.6L1841.3,455.9L1842.4,456.1L1843.5,455.6L1844.6,456.1L1845.6,455.6L1846.6,456.5L1847.6,455.9L1848.7,456.1L1849.8,456.2L1851.1,456.1L1852.5,456.6L1854.1,456.7L1855.8,456.1L1857.8,456.1L1860,456.3L1860.9,456.4L1861.9,456.1L1862.9,456.5L1863.9,456.7L1864.9,456.4L1866,456.5L1867.1,456.6L1868.2,456.7L1869.4,456.8L1870.5,456.5L1871.7,456.8L1872.9,457L1874.2,457.2L1875.4,456.9L1876.7,457.3L1878,456.9L1879.3,457.3L1880.6,457.2L1881.9,456.9L1883.3,456.7L1884.7,456.9L1886.1,456.8L1887.5,457L1888.9,457.4L1890.3,457.2L1891.8,457.2L1893.2,457.5L1894.7,457.5L1896.2,457.5L1897.7,457.5L1899.2,457.2L1900.7,457.2L1902.3,457.4L1903.8,457.2L1905.3,457.1L1906.9,457.2L1908.4,457.6L1910,457.8L1911.1,457.6L1912.3,457.7L1913.5,457.2L1914.8,457.4L1916.1,457.7L1917.4,457.6L1918.7,457.4L1920,458L1921.4,457.4L1922.8,457.8L1924.3,457.6L1925.7,458L1927.2,457.3L1928.6,457.8L1930.1,458L1931.6,457.9L1933.1,457.3L1934.7,457.6L1936.2,457.7L1937.7,457.7L1939.2,457.5L1940.8,457.4L1942.3,457.9L1943.8,458.2L1945.4,457.8L1946.9,457.6L1948.4,457.5L1949.9,458.2L1951.4,458.1L1952.8,457.5L1954.3,458.1L1955.7,458L1957.2,457.7L1958.6,457.9L1960,457.8L1961.3,457.8L1962.6,457.9L1963.9,458.2L1965.2,457.8L1966.5,457.6L1967.7,458.2L1968.9,457.8L1970,457.7L1971.1,458.2L1972.2,457.9L1973.2,458.2L1974.2,458.4L1975.1,457.7L1976,458.2L1976.8,457.9L1977.6,457.9L1978.3,457.9L1979,458L1979,458.6L1437.5,458.6Z" fill="url(#gB)" stroke="none"/>
<path d="M1437.5,453.8L1438.3,453.6L1439.4,453.3L1440.8,453.1L1442.2,452.9L1443.8,453L1444.8,453.2L1445.9,453.6L1447,454.1L1448.2,454.6L1449.5,455.1L1450.9,455.5L1452.5,455.8L1453.6,455.8L1454.7,455.9L1456,455.9L1457.3,456L1458.7,455.9L1460.1,455.9L1461.5,455.9L1462.8,455.9L1464.1,455.8L1465.4,455.8L1466.5,455.8L1467.5,455.8L1469.2,455.8L1470.8,456L1472.1,456.1L1473.2,456.2L1474.2,456.1L1475,455.8L1475.8,455.2L1476.2,454.5L1476.5,453.6L1476.7,452.2L1477,450L1477.1,449.1L1477.2,448.3L1477.4,447.4L1477.5,446.5L1477.6,445.5L1477.7,444.5L1477.8,443.4L1477.9,442.2L1478.1,440.8L1478.2,439.4L1478.3,437.9L1478.4,436.1L1478.5,434.3L1478.6,432.2L1478.8,430L1478.8,429.1L1478.8,428.1L1478.9,427.1L1478.9,426.1L1479,425L1479,423.9L1479.1,422.8L1479.1,421.7L1479.2,420.5L1479.2,419.3L1479.3,418.1L1479.3,416.9L1479.4,415.6L1479.4,414.3L1479.5,413L1479.5,411.7L1479.6,410.4L1479.6,409L1479.7,407.7L1479.7,406.3L1479.8,404.9L1479.8,403.5L1479.8,402.1L1479.9,400.6L1479.9,399.2L1480,397.7L1480,396.3L1480.1,394.8L1480.1,393.3L1480.2,391.9L1480.2,390.4L1480.3,388.9L1480.3,387.4L1480.3,385.9L1480.4,384.5L1480.4,383L1480.5,381.5L1480.5,380L1480.5,378.8L1480.6,377.6L1480.6,376.4L1480.6,375.1L1480.7,373.9L1480.7,372.6L1480.7,371.3L1480.7,370L1480.8,368.7L1480.8,367.4L1480.8,366L1480.9,364.7L1480.9,363.3L1480.9,361.9L1480.9,360.6L1481,359.2L1481,357.8L1481,356.4L1481.1,355L1481.1,353.6L1481.1,352.2L1481.1,350.8L1481.2,349.4L1481.2,348L1481.2,346.6L1481.2,345.2L1481.3,343.8L1481.3,342.4L1481.3,341L1481.3,339.7L1481.4,338.3L1481.4,336.9L1481.4,335.6L1481.4,334.3L1481.5,333L1481.5,331.7L1481.5,330.4L1481.5,329.1L1481.6,327.9L1481.6,326.6L1481.6,325.4L1481.6,324.2L1481.6,323L1481.7,321.9L1481.7,320.7L1481.7,319.6L1481.7,318.6L1481.8,317.5L1481.8,315.8L1481.8,314.3L1481.8,312.8L1481.9,311.4L1481.9,310.1L1481.9,308.8L1482,307.7L1482,306.5L1482,305.4L1482.1,304.4L1482.1,303.3L1482.1,302.3L1482.1,301.3L1482.2,300.3L1482.2,299.3L1482.2,298.3L1482.2,297.3L1482.3,296.2L1482.3,295.1L1482.3,293.9L1482.3,292.7L1482.3,291.5L1482.4,290.1L1482.4,288.7L1482.4,287.1L1482.4,285.5L1482.5,283.8L1482.5,282L1482.5,280L1482.5,279L1482.5,278.1L1482.5,277.1L1482.5,276L1482.5,275L1482.6,273.9L1482.6,272.8L1482.6,271.7L1482.6,270.6L1482.6,269.5L1482.6,268.3L1482.6,267.1L1482.6,265.9L1482.6,264.7L1482.6,263.5L1482.6,262.3L1482.6,261L1482.6,259.7L1482.6,258.5L1482.7,257.2L1482.7,255.9L1482.7,254.5L1482.7,253.2L1482.7,251.9L1482.7,250.6L1482.7,249.2L1482.7,247.8L1482.7,246.5L1482.7,245.1L1482.7,243.7L1482.7,242.3L1482.7,241L1482.7,239.6L1482.7,238.2L1482.7,236.8L1482.8,235.4L1482.8,234L1482.8,232.6L1482.8,231.1L1482.8,229.7L1482.8,228.3L1482.8,226.9L1482.8,225.5L1482.8,224.1L1482.8,222.7L1482.8,221.3L1482.8,220L1482.8,218.6L1482.9,217.2L1482.9,215.8L1482.9,214.4L1482.9,213.1L1482.9,211.7L1482.9,210.4L1482.9,209.1L1482.9,207.7L1482.9,206.4L1482.9,205.1L1483,203.8L1483,202.5L1483,201.3L1483,200L1483,198.7L1483,197.3L1483,196L1483.1,194.6L1483.1,193.2L1483.1,191.9L1483.1,190.5L1483.1,189.1L1483.1,187.7L1483.2,186.3L1483.2,185L1483.2,183.6L1483.2,182.2L1483.2,180.8L1483.3,179.4L1483.3,178L1483.3,176.6L1483.3,175.2L1483.3,173.8L1483.4,172.4L1483.4,171L1483.4,169.6L1483.4,168.2L1483.5,166.9L1483.5,165.5L1483.5,164.1L1483.5,162.7L1483.5,161.4L1483.6,160L1483.6,158.6L1483.6,157.3L1483.6,156L1483.7,154.6L1483.7,153.3L1483.7,152L1483.7,150.7L1483.7,149.4L1483.8,148.1L1483.8,146.8L1483.8,145.5L1483.8,144.3L1483.9,143L1483.9,141.8L1483.9,140.6L1483.9,139.4L1484,138.2L1484,137L1484,135.8L1484,134.6L1484.1,133.5L1484.1,132.4L1484.1,131.3L1484.1,130.2L1484.2,129.1L1484.2,128.1L1484.2,127L1484.2,126L1484.2,125L1484.3,123.2L1484.3,121.4L1484.4,119.6L1484.4,117.9L1484.5,116.2L1484.5,114.6L1484.6,113L1484.6,111.5L1484.7,109.9L1484.7,108.4L1484.8,107L1484.8,105.6L1484.8,104.2L1484.9,102.9L1484.9,101.6L1485,100.3L1485,99.1L1485.1,97.9L1485.1,96.7L1485.2,95.6L1485.2,94.4L1485.3,93.4L1485.3,92.3L1485.4,91.3L1485.4,90.3L1485.5,89.4L1485.5,88.4L1485.6,87.5L1485.6,86.7L1485.7,85.8L1485.8,85L1486,82.2L1486.2,80L1486.4,78.3L1486.6,77L1486.8,76.1L1487,75.6L1487.3,75.2L1487.5,75L1487.8,75.1L1488.1,75.6L1488.4,76.7L1488.8,78.2L1489.1,80.2L1489.5,82.5L1489.7,83.4L1489.8,84.4L1490,85.5L1490.1,86.7L1490.3,87.9L1490.5,89.1L1490.7,90.4L1490.9,91.8L1491.1,93.2L1491.3,94.6L1491.4,96.1L1491.6,97.6L1491.8,99L1492,100.5L1492.2,102L1492.3,103.5L1492.5,105L1492.6,106.2L1492.8,107.5L1492.9,108.8L1493,110.1L1493.1,111.4L1493.3,112.8L1493.4,114.2L1493.5,115.6L1493.6,117L1493.7,118.4L1493.8,119.8L1494,121.2L1494.1,122.6L1494.2,123.9L1494.3,125.3L1494.4,126.6L1494.5,127.8L1494.6,129.1L1494.8,130.3L1494.9,131.4L1495,132.5L1495.2,134.2L1495.4,136L1495.6,137.7L1495.8,139.4L1496,141L1496.2,142.6L1496.4,144L1496.6,145.4L1496.8,146.6L1497,147.6L1497.1,148.4L1497.3,149.1L1497.5,149.5L1497.8,149.8L1498.1,149.5L1498.4,148.6L1498.7,147.2L1499,145.3L1499.2,142.9L1499.5,140L1499.6,139.1L1499.6,138.2L1499.7,137.2L1499.8,136.1L1499.8,135L1499.9,133.8L1500,132.6L1500,131.3L1500.1,130L1500.2,128.7L1500.2,127.3L1500.3,125.9L1500.4,124.5L1500.4,123.1L1500.5,121.6L1500.5,120.2L1500.6,118.7L1500.7,117.2L1500.7,115.8L1500.8,114.4L1500.9,112.9L1500.9,111.5L1501,110.2L1501.1,108.8L1501.1,107.5L1501.2,106.2L1501.2,105L1501.3,103.6L1501.4,102.1L1501.5,100.7L1501.6,99.2L1501.6,97.8L1501.7,96.3L1501.8,94.8L1501.9,93.4L1501.9,91.9L1502,90.5L1502.1,89.1L1502.2,87.7L1502.3,86.3L1502.3,85L1502.4,83.7L1502.5,82.4L1502.6,81.2L1502.6,80L1502.7,78.9L1502.8,77.8L1502.9,76.8L1502.9,75.9L1503,75L1503.2,72.5L1503.4,70.5L1503.6,69L1503.9,67.8L1504.1,67L1504.3,66.5L1504.5,66.2L1504.8,66.1L1505.1,66.4L1505.5,67.4L1505.8,69.3L1506.2,72.5L1506.3,73.3L1506.4,74.2L1506.5,75.1L1506.6,76.1L1506.7,77.2L1506.8,78.3L1506.9,79.5L1507,80.7L1507,82L1507.1,83.2L1507.2,84.6L1507.3,85.9L1507.4,87.3L1507.5,88.8L1507.6,90.2L1507.7,91.7L1507.8,93.1L1507.9,94.6L1508,96.1L1508.2,97.6L1508.3,99.1L1508.4,100.6L1508.5,102.1L1508.6,103.5L1508.8,105L1508.9,106.2L1509,107.4L1509.1,108.6L1509.2,109.8L1509.3,111.1L1509.4,112.3L1509.5,113.6L1509.6,114.9L1509.7,116.1L1509.9,117.4L1510,118.7L1510.1,120.1L1510.2,121.4L1510.4,122.7L1510.5,124L1510.6,125.4L1510.7,126.7L1510.9,128L1511,129.4L1511.1,130.7L1511.2,132L1511.4,133.3L1511.5,134.7L1511.6,136L1511.8,137.3L1511.9,138.6L1512,139.9L1512.1,141.2L1512.3,142.5L1512.4,143.7L1512.5,145L1512.6,146.3L1512.8,147.7L1512.9,149.1L1513,150.4L1513.2,151.8L1513.3,153.2L1513.4,154.6L1513.6,155.9L1513.7,157.3L1513.8,158.7L1514,160.1L1514.1,161.4L1514.3,162.8L1514.4,164.2L1514.5,165.5L1514.7,166.9L1514.8,168.2L1514.9,169.5L1515,170.8L1515.2,172.1L1515.3,173.3L1515.4,174.5L1515.6,175.8L1515.7,177L1515.8,178.1L1515.9,179.3L1516,180.4L1516.1,181.4L1516.2,182.5L1516.4,184.2L1516.6,185.9L1516.8,187.5L1516.9,189.1L1517.1,190.6L1517.2,192.1L1517.4,193.5L1517.5,194.9L1517.6,196.2L1517.8,197.5L1517.9,198.7L1518.1,199.8L1518.2,201L1518.3,202L1518.5,203.1L1518.6,204.1L1518.8,205L1519.1,207L1519.4,208.7L1519.8,210.1L1520.1,211.2L1520.5,212.2L1520.9,213L1521.2,213.8L1522.7,214.1L1524.2,215L1524.5,215.8L1524.8,216.7L1525,217.8L1525.3,219.1L1525.5,220.4L1525.8,221.8L1526.1,223.2L1526.4,224.7L1526.7,226.1L1527,227.5L1527.3,228.7L1527.6,229.8L1527.9,231L1528.3,232.2L1528.6,233.4L1529,234.7L1529.4,235.9L1529.7,237.2L1530.1,238.5L1530.5,239.8L1530.9,241.2L1531.2,242.5L1531.6,243.7L1531.9,244.9L1532.3,246.2L1532.6,247.5L1533,248.9L1533.3,250.2L1533.7,251.6L1534.1,252.9L1534.4,254.2L1534.8,255.5L1535.2,256.7L1535.5,257.9L1535.9,259L1536.2,260L1536.8,261.5L1537.4,262.9L1538,264.1L1538.6,265.3L1539.2,266.4L1539.8,267.5L1540.3,268.4L1540.8,269.2L1541.2,270L1542.2,271.7L1542.9,272.7L1543.8,273L1544.8,272.6L1546,271.6L1547.5,270.5L1548.4,269.9L1549.5,269.3L1550.6,268.6L1551.8,268L1552.8,267.4L1553.8,267L1555.1,266.7L1556.2,266.7L1557.5,266.2L1558.4,265.6L1559.4,264.8L1560.4,263.9L1561.5,262.9L1562.5,262L1563.5,261.1L1564.4,260.3L1565.4,259.4L1566.4,258.7L1567.5,258L1568.7,257.5L1570,257.1L1571.4,256.7L1572.6,256.5L1573.8,256.2L1575.2,256.2L1576.3,256.3L1577.5,256.2L1578.8,255.6L1580,254.7L1581.2,254.2L1582.5,254.6L1583.7,255.5L1585,256.8L1585.7,257.5L1586.5,258.4L1587.3,259.4L1588.2,260.4L1589.1,261.5L1590,262.5L1590.8,263.3L1591.7,264.1L1592.6,264.9L1593.5,265.8L1594.4,266.7L1595.3,267.6L1596.2,268.8L1597,269.7L1597.8,270.7L1598.5,271.8L1599.3,272.9L1600.1,274.1L1600.9,275.3L1601.6,276.5L1602.3,277.8L1603,279L1603.5,280.2L1604,281.4L1604.5,282.7L1604.9,284L1605.4,285.3L1605.8,286.6L1606.2,287.9L1606.6,289.1L1607,290.2L1607.5,291.2L1608.2,292.5L1608.9,293.7L1609.5,294.7L1610.2,295.6L1611,296.6L1611.7,297.6L1612.5,298.8L1613.1,299.7L1613.8,300.8L1614.5,301.8L1615.3,302.9L1616,304L1616.7,305.1L1617.4,306.3L1618.1,307.5L1618.8,308.8L1619.3,309.9L1619.8,311.2L1620.3,312.5L1620.8,313.8L1621.3,315.2L1621.8,316.5L1622.3,317.8L1622.8,319L1623.3,320.2L1623.8,321.2L1624.5,322.6L1625.2,323.9L1626,325.1L1626.7,326.2L1627.4,327.2L1628.1,328.1L1628.8,328.8L1630,330L1631,330.5L1632,330L1632.5,329.2" fill="none" stroke="#2f94ff" stroke-width="2.85" stroke-linejoin="round" stroke-linecap="round"/>
<path d="M1497,458.6L1497.6,458.4L1498.8,457.9L1499.4,456.8L1500.2,455.6L1501.1,454.2L1502.1,454.1L1503,452L1503.8,451.2L1504.5,449.7L1505.2,448.9L1506,447.1L1506.7,446.9L1507.5,445.9L1508.7,446.1L1510.1,446.1L1511.7,447.3L1513,446.1L1513.7,445.5L1514.6,445.8L1515.5,444.4L1516.3,442.9L1517.2,442.1L1518,440.8L1518.8,439.7L1519.7,438.6L1520.8,438.1L1521.9,437.8L1522.9,436.2L1523.8,435.6L1525,436.7L1526.2,436.7L1527.5,435.8L1528.2,435.4L1529,435.4L1530,433.7L1531,433.3L1532,431.9L1532.9,430.3L1533.8,429.7L1534.7,428.9L1535.8,427.6L1537,427.5L1538.1,426.4L1539.1,425.5L1540,425.1L1541.5,424.2L1543,424.3L1544.5,425L1545.1,424.4L1545.7,422.8L1546.5,421.6L1547.2,421.3L1548,419.3L1548.7,417.8L1549.4,416.9L1550,416.6L1550.7,415.4L1551.4,413.6L1552.1,412.4L1552.9,411.6L1553.6,410.4L1554.4,408.9L1555,408.2L1555.9,408.2L1556.9,406.8L1557.9,405.3L1558.9,405.8L1560,405.1L1561,405.2L1562.3,405.4L1563.8,404.7L1565.2,405.5L1566.5,405.5L1567.5,406.2L1568.6,406.3L1569.7,408.1L1570.7,408.9L1571.7,409.2L1572.5,409.6L1573.8,410.2L1575.2,409.6L1576.2,408.6L1577.1,407.3L1577.8,406.2L1578.8,405.3L1579.8,405.4L1581.2,406L1582.6,406L1583.8,406.3L1584.6,405L1585.4,404.2L1586.2,402.3L1587,402.9L1587.7,402.6L1588.6,404L1589.6,406.1L1590.5,407.3L1591.2,408.2L1592.1,407L1592.9,406.6L1593.8,404.8L1594.5,404.9L1594.9,405.7L1595.4,405.6L1595.8,407L1596.3,409.4L1596.9,409.9L1597.5,411L1598.3,411.9L1599.3,412.4L1600.5,413.6L1601.6,414.3L1602.8,416L1603.8,416.4L1604.7,416.4L1605.7,418.3L1606.8,418.7L1607.9,419L1609,420L1610,421.1L1611.1,420.3L1612.5,421L1613.9,421.2L1615.3,422.7L1616.5,421.9L1617.5,422.5L1618.4,421.2L1619.3,420.8L1620,419L1620.7,417.6L1621.2,416.2L1621.5,415.4L1621.8,414.3L1622.1,412.8L1622.4,411.3L1622.7,410L1623,409.4L1623.3,408.3L1623.5,406.9L1623.8,405.1L1623.9,404.8L1624.1,403.2L1624.2,402.2L1624.4,401.5L1624.6,399.8L1624.8,398L1625,397.1L1625.2,395.8L1625.4,394.4L1625.6,393L1625.8,391.7L1625.9,390.3L1626.1,388.9L1626.2,387.5L1626.4,386.5L1626.5,385.5L1626.6,384.4L1626.7,383.2L1626.8,382L1627,380.7L1627.1,379.3L1627.2,378L1627.3,376.6L1627.5,375.1L1627.6,373.7L1627.7,372.2L1627.9,370.8L1628,369.3L1628.1,367.9L1628.2,366.5L1628.3,365.1L1628.5,363.8L1628.6,362.4L1628.7,361.2L1628.8,360L1628.8,358.9L1628.9,357.8L1629,356.6L1629.1,355.4L1629.1,354.2L1629.2,352.9L1629.3,351.6L1629.4,350.3L1629.5,348.9L1629.5,347.6L1629.6,346.2L1629.7,344.8L1629.8,343.5L1629.8,342.1L1629.9,340.7L1630,339.3L1630.1,337.9L1630.1,336.6L1630.2,335.2L1630.3,333.9L1630.4,332.6L1630.4,331.3L1630.5,330L1630.6,329L1630.6,327.9L1630.7,326.7L1630.7,325.5L1630.8,324.3L1630.9,323L1631,321.6L1631,320.3L1631.1,318.9L1631.2,317.4L1631.3,316L1631.3,314.5L1631.4,313.1L1631.5,311.6L1631.6,310.1L1631.7,308.6L1631.7,307.2L1631.8,305.8L1631.9,304.3L1632,303L1632,301.6L1632.1,300.3L1632.2,299L1632.2,297.8L1632.3,296.6L1632.3,295.5L1632.4,294.4L1632.5,293.4L1632.5,292.5L1632.6,291L1632.6,289.6L1632.7,288.2L1632.8,286.8L1632.8,285.4L1632.9,284.1L1633,282.8L1633,281.5L1633.1,280.2L1633.1,278.9L1633.2,277.7L1633.2,276.4L1633.3,275.1L1633.3,273.9L1633.4,272.6L1633.4,271.3L1633.5,270L1633.5,269L1633.6,267.9L1633.6,266.8L1633.7,265.6L1633.7,264.3L1633.7,263L1633.8,261.6L1633.8,260.3L1633.9,258.9L1633.9,257.4L1634,256L1634,254.5L1634.1,253.1L1634.1,251.6L1634.1,250.2L1634.2,248.8L1634.2,247.4L1634.3,246.1L1634.3,244.7L1634.4,243.5L1634.4,242.3L1634.5,241.1L1634.5,240L1634.5,238.8L1634.6,237.6L1634.6,236.4L1634.7,235.1L1634.8,233.8L1634.8,232.5L1634.9,231.1L1634.9,229.8L1635,228.4L1635.1,227.1L1635.1,225.7L1635.2,224.3L1635.2,223L1635.3,221.6L1635.4,220.2L1635.4,218.9L1635.5,217.6L1635.6,216.3L1635.6,215L1635.7,213.7L1635.8,212.5L1635.8,211.4L1635.9,210.3L1635.9,209.1L1636,207.9L1636,206.6L1636.1,205.3L1636.2,203.9L1636.3,202.5L1636.3,201.1L1636.4,199.6L1636.5,198.2L1636.5,196.7L1636.6,195.3L1636.7,193.8L1636.8,192.4L1636.9,190.9L1636.9,189.5L1637,188.2L1637.1,186.8L1637.2,185.6L1637.2,184.3L1637.3,183.1L1637.4,182L1637.4,181L1637.5,180L1637.6,178.6L1637.7,177.1L1637.8,175.7L1637.9,174.2L1638.1,172.6L1638.2,171.1L1638.3,169.6L1638.4,168.1L1638.6,166.6L1638.7,165.2L1638.8,163.9L1638.9,162.6L1639.1,161.3L1639.2,160.2L1639.3,159.2L1639.4,158.3L1639.5,157.5L1639.8,155.4L1640.2,153.8L1640.6,152.7L1640.9,151.9L1641.2,151.2L1642.2,150L1643.2,150L1643.8,150.7L1644.4,151.8L1645,153.2L1645.5,155L1645.7,155.9L1645.9,156.9L1646.1,158.2L1646.3,159.6L1646.5,161L1646.7,162.4L1646.9,163.9L1647.1,165.2L1647.3,166.4L1647.5,167.5L1647.7,168.8L1647.9,170.3L1648.1,171.9L1648.3,173.5L1648.6,174.9L1648.8,176.2L1649,177L1649.2,177.5L1649.7,177.1L1650.2,175.7L1650.7,173.8L1651.2,172.2L1651.8,171.2L1652.8,171.2L1653.9,172L1655,173.8L1655.2,174.5L1655.5,175.4L1655.8,176.5L1656.1,177.8L1656.4,179.1L1656.6,180.5L1656.9,182L1657.2,183.4L1657.5,184.9L1657.8,186.2L1658,187.5L1658.2,188.5L1658.4,189.7L1658.6,190.9L1658.9,192.3L1659.1,193.7L1659.4,195.1L1659.7,196.6L1659.9,198L1660.2,199.4L1660.4,200.8L1660.6,202L1660.9,203.1L1661.1,204.2L1661.2,205L1661.7,206.8L1662.1,208.6L1662.5,210.2L1663,211.5L1663.4,212.3L1663.8,212.5L1664,212.1L1664.3,211.3L1664.7,210.1L1665,208.7L1665.3,207.2L1665.7,205.5L1666,204L1666.2,202.5L1666.4,201.5L1666.6,200.5L1666.8,199.4L1667.1,198.1L1667.3,196.9L1667.5,195.5L1667.7,194.1L1667.9,192.7L1668.2,191.3L1668.4,189.9L1668.6,188.4L1668.8,187L1668.9,186.1L1669,185.1L1669.1,184L1669.2,182.9L1669.4,181.7L1669.5,180.5L1669.6,179.2L1669.8,177.9L1669.9,176.6L1670.1,175.2L1670.2,173.8L1670.4,172.4L1670.5,171L1670.6,169.6L1670.8,168.2L1670.9,166.7L1671,165.3L1671.1,163.9L1671.2,162.5L1671.3,161.6L1671.4,160.5L1671.5,159.5L1671.6,158.3L1671.6,157.1L1671.7,155.9L1671.8,154.6L1671.9,153.3L1672,151.9L1672.1,150.5L1672.2,149.1L1672.3,147.7L1672.4,146.2L1672.5,144.8L1672.5,143.3L1672.6,141.8L1672.7,140.4L1672.8,138.9L1672.9,137.5L1673,136.1L1673.1,134.7L1673.2,133.3L1673.3,132L1673.4,130.7L1673.4,129.5L1673.5,128.3L1673.6,127.1L1673.7,126L1673.8,125L1673.8,123.7L1673.9,122.4L1674,121.1L1674.1,119.8L1674.3,118.4L1674.4,117L1674.5,115.6L1674.6,114.2L1674.7,112.8L1674.8,111.4L1674.9,110L1675.1,108.6L1675.2,107.3L1675.3,105.9L1675.4,104.6L1675.5,103.2L1675.6,101.9L1675.7,100.7L1675.9,99.5L1676,98.3L1676.1,97.1L1676.2,96L1676.2,95L1676.4,93.7L1676.5,92.4L1676.6,91L1676.8,89.6L1676.9,88.1L1677,86.7L1677.2,85.2L1677.3,83.7L1677.5,82.2L1677.6,80.7L1677.8,79.3L1677.9,77.9L1678,76.5L1678.2,75.2L1678.3,74L1678.4,72.8L1678.5,71.8L1678.7,70.8L1678.8,70L1679,68.2L1679.2,66.6L1679.4,65.1L1679.7,63.8L1679.9,62.6L1680.1,61.6L1680.3,60.7L1680.5,60L1681.2,58.2L1682,58L1682.4,58.5L1682.8,59.5L1683.4,60.7L1683.8,62.1L1684.2,63.8L1684.4,64.6L1684.6,65.5L1684.8,66.6L1685,67.8L1685.1,69.1L1685.3,70.4L1685.5,71.8L1685.7,73.2L1685.9,74.7L1686.1,76.1L1686.2,77.5L1686.4,78.5L1686.5,79.6L1686.6,80.8L1686.8,82L1686.9,83.4L1687.1,84.8L1687.2,86.3L1687.4,87.8L1687.5,89.3L1687.7,90.8L1687.9,92.3L1688,93.7L1688.2,95.1L1688.3,96.5L1688.5,97.8L1688.6,98.9L1688.8,100L1688.9,101.3L1689.1,102.5L1689.3,103.9L1689.5,105.2L1689.7,106.5L1689.9,107.9L1690.1,109.2L1690.3,110.6L1690.5,111.9L1690.7,113.2L1690.9,114.5L1691.1,115.7L1691.3,116.9L1691.5,118L1691.7,119.1L1691.9,120.2L1692.1,121.4L1692.4,122.6L1692.6,123.8L1692.9,125L1693.1,126.3L1693.4,127.6L1693.7,128.9L1693.9,130.3L1694.2,131.6L1694.5,133.1L1694.7,134.5L1695,136L1695.2,136.9L1695.3,137.9L1695.5,138.9L1695.7,140L1695.9,141.2L1696.1,142.5L1696.3,143.8L1696.5,145.1L1696.7,146.5L1696.9,147.9L1697.1,149.3L1697.4,150.8L1697.6,152.2L1697.8,153.7L1698.1,155.1L1698.3,156.6L1698.5,158L1698.7,159.3L1698.9,160.7L1699.1,162L1699.3,163.2L1699.5,164.4L1699.7,165.5L1699.8,166.5L1700,167.5L1700.2,168.8L1700.4,170.1L1700.6,171.4L1700.9,172.7L1701.1,174L1701.3,175.3L1701.6,176.6L1701.8,177.9L1702,179.2L1702.2,180.5L1702.4,181.8L1702.7,183L1702.9,184.3L1703.1,185.5L1703.3,186.7L1703.4,187.8L1703.6,188.9L1703.8,190L1703.9,191.2L1704.1,192.4L1704.2,193.7L1704.4,195.1L1704.5,196.5L1704.6,198L1704.8,199.4L1704.9,200.9L1705.1,202.4L1705.2,203.8L1705.4,205.2L1705.5,206.6L1705.6,207.9L1705.8,209.2L1705.9,210.4L1706.1,211.5L1706.2,212.5L1706.5,213.9L1706.8,215.4L1707.1,217L1707.4,218.7L1707.7,220.3L1708.1,221.9L1708.5,223.4L1708.8,224.7L1709.1,225.9L1709.5,226.9L1709.7,227.6L1710,228L1710.4,228L1710.9,227.3L1711.3,226.1L1711.7,224.6L1712.2,222.9L1712.6,221.3L1713,220L1713.4,218.9L1713.8,217.5L1714.2,216L1714.7,214.4L1715.1,212.9L1715.6,211.5L1715.9,210.3L1716.2,209.5L1717.2,207.9L1718,208.2L1718.3,209L1718.7,210.2L1719.2,211.7L1719.6,213.3L1720.1,214.6L1720.5,215.5L1721.5,216.2L1722.7,216.4L1723.8,217L1724.2,217.8L1724.6,219L1725,220.4L1725.4,221.8L1725.8,222.9L1726.2,223.8L1727.4,224.3L1728.8,224.4L1730,225L1730.5,225.7L1731,226.6L1731.5,227.8L1732,229.1L1732.5,230.7L1733,232.5L1733.2,233.3L1733.4,234.3L1733.6,235.4L1733.8,236.6L1734,237.9L1734.2,239.3L1734.5,240.7L1734.7,242.2L1734.9,243.6L1735.1,245.1L1735.4,246.5L1735.6,247.9L1735.8,249.2L1735.9,250.4L1736.1,251.5L1736.2,252.5L1736.4,253.9L1736.6,255.3L1736.8,256.8L1736.9,258.3L1737.1,259.8L1737.2,261.3L1737.4,262.6L1737.5,263.8L1737.7,264.9L1737.8,265.7L1738,266.2L1738.7,266.2L1739.6,264.4L1740.5,263.8L1741,264.4L1741.5,265.5L1742.2,266.9L1742.8,268.4L1743.3,269.9L1743.8,271.2L1744.1,272.3L1744.4,273.4L1744.7,274.6L1744.9,275.9L1745.2,276.6L1745.5,278L1745.8,279.7L1745.9,280.9L1746.1,281.9L1746.3,283.3L1746.5,284.8L1746.7,285.6L1746.9,286.6L1747.1,288.9L1747.3,289.2L1747.5,291.2L1747.7,292L1747.8,293.8L1748,295.7L1748.1,295.6L1748.2,297.9L1748.4,298.3L1748.5,300.7L1748.6,301.8L1748.8,303.7L1748.9,305.2L1749,307.6L1749.2,308.6L1749.3,310.3L1749.4,311.6L1749.6,312.6L1749.7,313.4L1749.9,314.3L1750,315.5L1750.4,314.9L1750.9,313.3L1751.4,311.4L1752,309.5L1752.5,307.1L1753,308L1753.2,308.5L1753.3,308.4L1753.5,309.3L1753.7,311.5L1753.9,311.9L1754,313.1L1754.2,314.7L1754.4,316.6L1754.6,317.9L1754.8,320L1755,322L1755.2,323.9L1755.4,325.6L1755.6,327L1755.8,328.5L1756,328.9L1756.2,330.4L1756.6,331.7L1757.1,332.4L1757.6,334.1L1758.2,335.5L1758.7,336.9L1759.3,338.2L1759.8,339.6L1760.4,340.4L1760.8,341.4L1761.2,342.1L1762.5,344L1763.8,343.9L1765,344.5L1765.5,346.5L1766.1,347.1L1766.7,349.4L1767.4,350.4L1768.1,351.1L1768.8,352L1769.6,353.7L1770.7,353.4L1771.9,353.6L1773.1,354.9L1774.1,354.7L1775,355.7L1775.5,357.5L1775.9,357.9L1776.4,359.8L1776.8,360.9L1777.2,361.7L1777.6,364.3L1778,364.9L1778.4,366.7L1778.8,367.7L1779.2,368.6L1779.7,370.7L1780.2,371.1L1780.7,373L1781.2,375.3L1781.7,375.6L1782.1,376.8L1782.5,378L1783.3,376.7L1784.2,374.8L1785,373.4L1786.1,373.8L1787.5,373.8L1788.8,374.9L1789.1,376.3L1789.4,377.1L1789.8,377.7L1790.2,380.4L1790.6,381.6L1791,383.4L1791.4,384.6L1791.8,386.4L1792.2,386.6L1792.5,387.4L1793.7,387.5L1795,385.8L1796.2,386.3L1796.5,387.5L1796.8,388.3L1797.1,388.8L1797.5,391.1L1797.8,391.7L1798.1,393.5L1798.5,395.5L1798.8,397.4L1799.1,398.1L1799.4,399.9L1799.7,400.8L1800,401.9L1800.7,400.9L1801.5,400.3L1802.3,397.5L1803.1,396.9L1803.8,396.5L1804,397L1804.3,397.6L1804.6,398.4L1804.9,400.4L1805.2,402L1805.6,403.9L1805.9,404.8L1806.2,407L1806.5,409L1806.9,410.3L1807.2,410.6L1807.5,411.3L1808.4,411.7L1809.4,410.6L1810.6,407.8L1811.6,406.7L1812.5,406.3L1813,406.9L1813.5,407.6L1814,409.8L1814.4,411.2L1814.9,412.8L1815.4,413.7L1815.8,415.9L1816.2,416.1L1817.5,416.3L1818.8,414.8L1820,414.3L1820.3,416.2L1820.7,416.9L1821.1,417.7L1821.5,419.7L1821.9,421L1822.3,423.6L1822.7,424.5L1823.1,425.4L1823.4,427.4L1823.8,427.7L1824.6,427.2L1825.6,426.5L1826.6,424.4L1827.5,424.1L1828.7,422.7L1830,422.6L1831.2,421.9L1831.7,423L1832.1,424.4L1832.7,426.5L1833.2,427L1833.7,429.9L1834.2,430L1834.6,431.4L1835,432.5L1836,432.2L1837,430.6L1838,429.5L1838.5,431.1L1839,432.8L1839.6,434.5L1840.1,436.6L1840.7,437.1L1841.2,437.3L1841.6,436.7L1842,436.3L1842.4,433.9L1842.9,433.3L1843.4,431.5L1843.9,429.2L1844.3,427.4L1844.8,426.1L1845.2,425.7L1845.5,425.6L1845.8,424.9L1846.1,426.6L1846.4,427.8L1846.7,428.7L1846.9,430.4L1847.2,431.5L1847.5,433.6L1847.8,435.6L1848.1,437.1L1848.4,438.4L1848.8,439.2L1849.8,438.7L1851.1,437.4L1852.5,436L1853.8,436.2L1854.3,436.4L1855,438.1L1855.7,438.6L1856.5,440.9L1857.3,441.6L1858,444.1L1858.8,445.4L1859.4,446L1860,446.9L1860.8,445.8L1861.7,444.8L1862.6,443L1863.5,441.9L1864.3,440.5L1865,440.7L1865.7,440.6L1866.5,440.9L1867.3,442.7L1868,444.7L1868.8,445.5L1869.6,444.8L1870.6,444.3L1871.7,442.9L1872.8,441.8L1873.8,441.5L1874.4,441.6L1875.1,442.2L1875.9,444.3L1876.6,446L1877.4,447.6L1878.1,448.3L1878.8,448.7L1879.7,448L1880.7,447.5L1881.8,447.1L1882.8,445.5L1883.8,445.4L1884.7,446.2L1885.7,446.5L1886.8,448L1887.8,449.9L1888.8,449.3L1889.7,449.2L1890.7,448.6L1891.8,447.1L1892.8,445L1893.8,444.3L1894.5,446.1L1895.4,446.6L1896.2,448L1897.1,449.7L1898,451L1898.8,451L1899.9,451.1L1901.2,450.5L1902.6,448.9L1903.8,448.8L1904.7,449.2L1905.7,451.4L1906.7,451.6L1907.8,453.7L1908.8,453.8L1909.5,453.5L1910.4,451.9L1911.4,451.6L1912.4,449.5L1913.3,448.5L1914.2,446.7L1915,446.7L1915.7,448L1916.4,447.8L1917.1,449.8L1917.8,451.1L1918.5,452.8L1919.2,454.5L1920,455.5L1921,455.2L1922.3,455.5L1923.8,454.7L1925.2,454.5L1926.5,452.9L1927.5,453.5L1928.8,453L1930.1,453L1931.4,451.6L1932.5,451.9L1933.4,452.5L1934.4,453.5L1935.5,455.1L1936.5,456.6L1937.5,456.9L1938.6,456.5L1940,457.2L1941.4,455.8L1942.7,456.4L1943.8,454.7L1944.4,453.5L1945.1,452.3L1945.8,450.7L1946.4,449.6L1947,449.3L1947.5,448.6L1948,448.6L1948.5,450.1L1949,451.6L1949.5,453.1L1950.1,455.3L1950.7,455.7L1951.2,457.1L1952.3,456.7L1953.6,457.3L1954.9,457.4L1956.3,456.4L1957.5,455.7L1958.7,456L1960,456.2L1961.4,455.4L1962.7,454.4L1963.8,453.9L1964.5,452.6L1965.2,451.3L1966,450.4L1966.7,449.1L1967.4,447.4L1968,447.1L1969.1,447.4L1970.3,447.9L1971.5,449.5L1972.5,449.6L1974.1,449.1L1975.5,449.1L1976.1,449.6L1976.9,451.1L1977.7,452.3L1978.3,453.1L1978.8,454L1979,458.6L1497,458.6Z" fill="url(#gO)" stroke="none"/>
<path d="M1632,330L1632.5,329.2L1633,328L1633.5,326.6L1634,325L1634.5,323.6L1635,322.5L1635.7,321.1L1636.5,319.8L1637.2,319L1638,318.8L1638.6,319.1L1639.2,319.8L1639.8,320.8L1640.5,321.8L1641.2,324.1L1641.7,324.9L1642.1,325.5L1642.6,326.8L1643.1,328L1643.6,329.5L1644.1,331.1L1644.6,332.3L1645.1,334L1645.7,334.7L1646.2,335.9L1646.8,337.6L1647.4,338.8L1648,339.7L1648.7,340.4L1649.3,341.7L1649.9,342.4L1650.6,343.8L1651.2,344.9L1651.9,345.8L1652.5,347.7L1653,348.9L1653.5,349.5L1654,351.4L1654.5,352L1655,353.9L1655.5,355.4L1655.9,356.5L1656.4,358.1L1656.9,359.5L1657.4,360.5L1657.9,361.7L1658.3,363.1L1658.8,363.6L1659.4,365.4L1660.1,366.8L1660.7,368L1661.3,369.1L1661.9,369.8L1662.5,371.2L1663.1,371.8L1663.8,372.4L1665,373.6L1666.2,374.9L1667.5,374.9L1668.8,375.5L1670,375L1671.3,374.8L1672.6,373.6L1673.8,372.5L1674.9,371.6L1676,370.3L1677,369L1678,368.7L1679.1,368.7L1680.2,369.1L1681.2,370.9L1681.7,371.2L1682.1,372.3L1682.5,373.2L1682.9,374.8L1683.3,376.1L1683.8,377.1L1684.3,378.3L1685,380L1685.5,381.2L1686,381.9L1686.6,383.5L1687.1,384.5L1687.7,385.1L1688.4,386.6L1689,388.1L1689.7,389.4L1690.4,389.9L1691.1,391.1L1691.8,392.6L1692.5,393.8L1693.2,394.6L1693.9,396.2L1694.6,396.8L1695.4,398.3L1696.2,399.5L1696.9,400.1L1697.7,401.2L1698.5,402.8L1699.3,403.4L1700.1,404.5L1700.9,406L1701.7,406.6L1702.5,407.4L1703.5,408.9L1704.5,409.4L1705.5,410.1L1706.4,411L1707.4,411.8L1708.4,412.8L1709.4,413.4L1710.4,413.6L1711.4,414.3L1712.5,415.4L1713.7,415.4L1715.1,416.1L1716.4,416.8L1717.8,417.8L1719.2,417.9L1720.5,418.5L1721.7,418.7L1722.8,419L1723.8,419.4L1725.4,419.3L1726.2,418.8L1727.5,418.7L1728.2,419.5L1729.1,420.4L1729.9,420.6L1730.9,422.1L1731.8,422.9L1732.9,424.1L1733.9,424.9L1735,426.3L1735.9,427.3L1736.8,427.6L1737.8,428.7L1738.8,429.6L1739.8,430L1740.9,430.7L1741.9,431.3L1743,432.7L1744,432.9L1745,433.9L1746.1,434.5L1747.2,435.5L1748.3,435.9L1749.4,437L1750.6,437.8L1751.7,438.4L1752.8,438.7L1753.9,439.3L1755,439.9L1756.2,440.8L1757.4,441.3L1758.5,441.4L1759.7,442.1L1760.9,442.3L1762.1,443.2L1763.5,443.7L1765,443.6L1766.1,444.4L1767.2,444.2L1768.3,444.3L1769.4,444.2L1770.6,444.6L1771.9,445.2L1773.1,445.2L1774.4,445.6L1775.8,445.1L1777.2,445.9L1778.6,446L1780,446.6L1781.1,446.7L1782.3,446.8L1783.4,447.3L1784.6,447.9L1785.9,447.6L1787.1,448.1L1788.4,448.6L1789.7,449L1791,449.6L1792.3,450L1793.6,450.5L1794.9,450.3L1796.2,451.4L1797.5,451.2L1798.7,451.4L1800,452.2L1801.2,452L1802.5,452.3L1803.8,452.5L1805,452.7L1806.2,453.2L1807.5,453L1808.8,453.7L1810,453.6L1811.2,453.9L1812.5,454.1L1813.8,454.2L1815,454.1L1816.2,454.3L1817.5,454.1L1818.8,454.3L1820,454.5L1821.3,454.5L1822.7,454.7L1824,454.8L1825.3,454.9L1826.7,455L1828,454.9L1829.3,455.4L1830.7,455.1L1832,455.1L1833.3,455.2L1834.7,455.5L1836,455.2L1837.3,455.7L1838.7,455.5L1840,455.6L1841.3,455.9L1842.4,456.1L1843.5,455.6L1844.6,456.1L1845.6,455.6L1846.6,456.5L1847.6,455.9L1848.7,456.1L1849.8,456.2L1851.1,456.1L1852.5,456.6L1854.1,456.7L1855.8,456.1L1857.8,456.1L1860,456.3L1860.9,456.4L1861.9,456.1L1862.9,456.5L1863.9,456.7L1864.9,456.4L1866,456.5L1867.1,456.6L1868.2,456.7L1869.4,456.8L1870.5,456.5L1871.7,456.8L1872.9,457L1874.2,457.2L1875.4,456.9L1876.7,457.3L1878,456.9L1879.3,457.3L1880.6,457.2L1881.9,456.9L1883.3,456.7L1884.7,456.9L1886.1,456.8L1887.5,457L1888.9,457.4L1890.3,457.2L1891.8,457.2L1893.2,457.5L1894.7,457.5L1896.2,457.5L1897.7,457.5L1899.2,457.2L1900.7,457.2L1902.3,457.4L1903.8,457.2L1905.3,457.1L1906.9,457.2L1908.4,457.6L1910,457.8L1911.1,457.6L1912.3,457.7L1913.5,457.2L1914.8,457.4L1916.1,457.7L1917.4,457.6L1918.7,457.4L1920,458L1921.4,457.4L1922.8,457.8L1924.3,457.6L1925.7,458L1927.2,457.3L1928.6,457.8L1930.1,458L1931.6,457.9L1933.1,457.3L1934.7,457.6L1936.2,457.7L1937.7,457.7L1939.2,457.5L1940.8,457.4L1942.3,457.9L1943.8,458.2L1945.4,457.8L1946.9,457.6L1948.4,457.5L1949.9,458.2L1951.4,458.1L1952.8,457.5L1954.3,458.1L1955.7,458L1957.2,457.7L1958.6,457.9L1960,457.8L1961.3,457.8L1962.6,457.9L1963.9,458.2L1965.2,457.8L1966.5,457.6L1967.7,458.2L1968.9,457.8L1970,457.7L1971.1,458.2L1972.2,457.9L1973.2,458.2L1974.2,458.4L1975.1,457.7L1976,458.2L1976.8,457.9L1977.6,457.9L1978.3,457.9L1979,458" fill="none" stroke="#7fa3d8" stroke-width="2.85" stroke-linejoin="round" stroke-linecap="round"/>
<path d="M1497,458.6L1497.6,458.4L1498.8,457.9L1499.4,456.8L1500.2,455.6L1501.1,454.2L1502.1,454.1L1503,452L1503.8,451.2L1504.5,449.7L1505.2,448.9L1506,447.1L1506.7,446.9L1507.5,445.9L1508.7,446.1L1510.1,446.1L1511.7,447.3L1513,446.1L1513.7,445.5L1514.6,445.8L1515.5,444.4L1516.3,442.9L1517.2,442.1L1518,440.8L1518.8,439.7L1519.7,438.6L1520.8,438.1L1521.9,437.8L1522.9,436.2L1523.8,435.6L1525,436.7L1526.2,436.7L1527.5,435.8L1528.2,435.4L1529,435.4L1530,433.7L1531,433.3L1532,431.9L1532.9,430.3L1533.8,429.7L1534.7,428.9L1535.8,427.6L1537,427.5L1538.1,426.4L1539.1,425.5L1540,425.1L1541.5,424.2L1543,424.3L1544.5,425L1545.1,424.4L1545.7,422.8L1546.5,421.6L1547.2,421.3L1548,419.3L1548.7,417.8L1549.4,416.9L1550,416.6L1550.7,415.4L1551.4,413.6L1552.1,412.4L1552.9,411.6L1553.6,410.4L1554.4,408.9L1555,408.2L1555.9,408.2L1556.9,406.8L1557.9,405.3L1558.9,405.8L1560,405.1L1561,405.2L1562.3,405.4L1563.8,404.7L1565.2,405.5L1566.5,405.5L1567.5,406.2L1568.6,406.3L1569.7,408.1L1570.7,408.9L1571.7,409.2L1572.5,409.6L1573.8,410.2L1575.2,409.6L1576.2,408.6L1577.1,407.3L1577.8,406.2L1578.8,405.3L1579.8,405.4L1581.2,406L1582.6,406L1583.8,406.3L1584.6,405L1585.4,404.2L1586.2,402.3L1587,402.9L1587.7,402.6L1588.6,404L1589.6,406.1L1590.5,407.3L1591.2,408.2L1592.1,407L1592.9,406.6L1593.8,404.8L1594.5,404.9L1594.9,405.7L1595.4,405.6L1595.8,407L1596.3,409.4L1596.9,409.9L1597.5,411L1598.3,411.9L1599.3,412.4L1600.5,413.6L1601.6,414.3L1602.8,416L1603.8,416.4L1604.7,416.4L1605.7,418.3L1606.8,418.7L1607.9,419L1609,420L1610,421.1L1611.1,420.3L1612.5,421L1613.9,421.2L1615.3,422.7L1616.5,421.9L1617.5,422.5L1618.4,421.2L1619.3,420.8L1620,419L1620.7,417.6L1621.2,416.2L1621.5,415.4L1621.8,414.3L1622.1,412.8L1622.4,411.3L1622.7,410L1623,409.4L1623.3,408.3L1623.5,406.9L1623.8,405.1L1623.9,404.8L1624.1,403.2L1624.2,402.2L1624.4,401.5L1624.6,399.8L1624.8,398L1625,397.1L1625.2,395.8L1625.4,394.4L1625.6,393L1625.8,391.7L1625.9,390.3L1626.1,388.9L1626.2,387.5L1626.4,386.5L1626.5,385.5L1626.6,384.4L1626.7,383.2L1626.8,382L1627,380.7L1627.1,379.3L1627.2,378L1627.3,376.6L1627.5,375.1L1627.6,373.7L1627.7,372.2L1627.9,370.8L1628,369.3L1628.1,367.9L1628.2,366.5L1628.3,365.1L1628.5,363.8L1628.6,362.4L1628.7,361.2L1628.8,360L1628.8,358.9L1628.9,357.8L1629,356.6L1629.1,355.4L1629.1,354.2L1629.2,352.9L1629.3,351.6L1629.4,350.3L1629.5,348.9L1629.5,347.6L1629.6,346.2L1629.7,344.8L1629.8,343.5L1629.8,342.1L1629.9,340.7L1630,339.3L1630.1,337.9L1630.1,336.6L1630.2,335.2L1630.3,333.9L1630.4,332.6L1630.4,331.3L1630.5,330L1630.6,329L1630.6,327.9L1630.7,326.7L1630.7,325.5L1630.8,324.3L1630.9,323L1631,321.6L1631,320.3L1631.1,318.9L1631.2,317.4L1631.3,316L1631.3,314.5L1631.4,313.1L1631.5,311.6L1631.6,310.1L1631.7,308.6L1631.7,307.2L1631.8,305.8L1631.9,304.3L1632,303L1632,301.6L1632.1,300.3L1632.2,299L1632.2,297.8L1632.3,296.6L1632.3,295.5L1632.4,294.4L1632.5,293.4L1632.5,292.5L1632.6,291L1632.6,289.6L1632.7,288.2L1632.8,286.8L1632.8,285.4L1632.9,284.1L1633,282.8L1633,281.5L1633.1,280.2L1633.1,278.9L1633.2,277.7L1633.2,276.4L1633.3,275.1L1633.3,273.9L1633.4,272.6L1633.4,271.3L1633.5,270L1633.5,269L1633.6,267.9L1633.6,266.8L1633.7,265.6L1633.7,264.3L1633.7,263L1633.8,261.6L1633.8,260.3L1633.9,258.9L1633.9,257.4L1634,256L1634,254.5L1634.1,253.1L1634.1,251.6L1634.1,250.2L1634.2,248.8L1634.2,247.4L1634.3,246.1L1634.3,244.7L1634.4,243.5L1634.4,242.3L1634.5,241.1L1634.5,240L1634.5,238.8L1634.6,237.6L1634.6,236.4L1634.7,235.1L1634.8,233.8L1634.8,232.5L1634.9,231.1L1634.9,229.8L1635,228.4L1635.1,227.1L1635.1,225.7L1635.2,224.3L1635.2,223L1635.3,221.6L1635.4,220.2L1635.4,218.9L1635.5,217.6L1635.6,216.3L1635.6,215L1635.7,213.7L1635.8,212.5L1635.8,211.4L1635.9,210.3L1635.9,209.1L1636,207.9L1636,206.6L1636.1,205.3L1636.2,203.9L1636.3,202.5L1636.3,201.1L1636.4,199.6L1636.5,198.2L1636.5,196.7L1636.6,195.3L1636.7,193.8L1636.8,192.4L1636.9,190.9L1636.9,189.5L1637,188.2L1637.1,186.8L1637.2,185.6L1637.2,184.3L1637.3,183.1L1637.4,182L1637.4,181L1637.5,180L1637.6,178.6L1637.7,177.1L1637.8,175.7L1637.9,174.2L1638.1,172.6L1638.2,171.1L1638.3,169.6L1638.4,168.1L1638.6,166.6L1638.7,165.2L1638.8,163.9L1638.9,162.6L1639.1,161.3L1639.2,160.2L1639.3,159.2L1639.4,158.3L1639.5,157.5L1639.8,155.4L1640.2,153.8L1640.6,152.7L1640.9,151.9L1641.2,151.2L1642.2,150L1643.2,150L1643.8,150.7L1644.4,151.8L1645,153.2L1645.5,155L1645.7,155.9L1645.9,156.9L1646.1,158.2L1646.3,159.6L1646.5,161L1646.7,162.4L1646.9,163.9L1647.1,165.2L1647.3,166.4L1647.5,167.5L1647.7,168.8L1647.9,170.3L1648.1,171.9L1648.3,173.5L1648.6,174.9L1648.8,176.2L1649,177L1649.2,177.5L1649.7,177.1L1650.2,175.7L1650.7,173.8L1651.2,172.2L1651.8,171.2L1652.8,171.2L1653.9,172L1655,173.8L1655.2,174.5L1655.5,175.4L1655.8,176.5L1656.1,177.8L1656.4,179.1L1656.6,180.5L1656.9,182L1657.2,183.4L1657.5,184.9L1657.8,186.2L1658,187.5L1658.2,188.5L1658.4,189.7L1658.6,190.9L1658.9,192.3L1659.1,193.7L1659.4,195.1L1659.7,196.6L1659.9,198L1660.2,199.4L1660.4,200.8L1660.6,202L1660.9,203.1L1661.1,204.2L1661.2,205L1661.7,206.8L1662.1,208.6L1662.5,210.2L1663,211.5L1663.4,212.3L1663.8,212.5L1664,212.1L1664.3,211.3L1664.7,210.1L1665,208.7L1665.3,207.2L1665.7,205.5L1666,204L1666.2,202.5L1666.4,201.5L1666.6,200.5L1666.8,199.4L1667.1,198.1L1667.3,196.9L1667.5,195.5L1667.7,194.1L1667.9,192.7L1668.2,191.3L1668.4,189.9L1668.6,188.4L1668.8,187L1668.9,186.1L1669,185.1L1669.1,184L1669.2,182.9L1669.4,181.7L1669.5,180.5L1669.6,179.2L1669.8,177.9L1669.9,176.6L1670.1,175.2L1670.2,173.8L1670.4,172.4L1670.5,171L1670.6,169.6L1670.8,168.2L1670.9,166.7L1671,165.3L1671.1,163.9L1671.2,162.5L1671.3,161.6L1671.4,160.5L1671.5,159.5L1671.6,158.3L1671.6,157.1L1671.7,155.9L1671.8,154.6L1671.9,153.3L1672,151.9L1672.1,150.5L1672.2,149.1L1672.3,147.7L1672.4,146.2L1672.5,144.8L1672.5,143.3L1672.6,141.8L1672.7,140.4L1672.8,138.9L1672.9,137.5L1673,136.1L1673.1,134.7L1673.2,133.3L1673.3,132L1673.4,130.7L1673.4,129.5L1673.5,128.3L1673.6,127.1L1673.7,126L1673.8,125L1673.8,123.7L1673.9,122.4L1674,121.1L1674.1,119.8L1674.3,118.4L1674.4,117L1674.5,115.6L1674.6,114.2L1674.7,112.8L1674.8,111.4L1674.9,110L1675.1,108.6L1675.2,107.3L1675.3,105.9L1675.4,104.6L1675.5,103.2L1675.6,101.9L1675.7,100.7L1675.9,99.5L1676,98.3L1676.1,97.1L1676.2,96L1676.2,95L1676.4,93.7L1676.5,92.4L1676.6,91L1676.8,89.6L1676.9,88.1L1677,86.7L1677.2,85.2L1677.3,83.7L1677.5,82.2L1677.6,80.7L1677.8,79.3L1677.9,77.9L1678,76.5L1678.2,75.2L1678.3,74L1678.4,72.8L1678.5,71.8L1678.7,70.8L1678.8,70L1679,68.2L1679.2,66.6L1679.4,65.1L1679.7,63.8L1679.9,62.6L1680.1,61.6L1680.3,60.7L1680.5,60L1681.2,58.2L1682,58L1682.4,58.5L1682.8,59.5L1683.4,60.7L1683.8,62.1L1684.2,63.8L1684.4,64.6L1684.6,65.5L1684.8,66.6L1685,67.8L1685.1,69.1L1685.3,70.4L1685.5,71.8L1685.7,73.2L1685.9,74.7L1686.1,76.1L1686.2,77.5L1686.4,78.5L1686.5,79.6L1686.6,80.8L1686.8,82L1686.9,83.4L1687.1,84.8L1687.2,86.3L1687.4,87.8L1687.5,89.3L1687.7,90.8L1687.9,92.3L1688,93.7L1688.2,95.1L1688.3,96.5L1688.5,97.8L1688.6,98.9L1688.8,100L1688.9,101.3L1689.1,102.5L1689.3,103.9L1689.5,105.2L1689.7,106.5L1689.9,107.9L1690.1,109.2L1690.3,110.6L1690.5,111.9L1690.7,113.2L1690.9,114.5L1691.1,115.7L1691.3,116.9L1691.5,118L1691.7,119.1L1691.9,120.2L1692.1,121.4L1692.4,122.6L1692.6,123.8L1692.9,125L1693.1,126.3L1693.4,127.6L1693.7,128.9L1693.9,130.3L1694.2,131.6L1694.5,133.1L1694.7,134.5L1695,136L1695.2,136.9L1695.3,137.9L1695.5,138.9L1695.7,140L1695.9,141.2L1696.1,142.5L1696.3,143.8L1696.5,145.1L1696.7,146.5L1696.9,147.9L1697.1,149.3L1697.4,150.8L1697.6,152.2L1697.8,153.7L1698.1,155.1L1698.3,156.6L1698.5,158L1698.7,159.3L1698.9,160.7L1699.1,162L1699.3,163.2L1699.5,164.4L1699.7,165.5L1699.8,166.5L1700,167.5L1700.2,168.8L1700.4,170.1L1700.6,171.4L1700.9,172.7L1701.1,174L1701.3,175.3L1701.6,176.6L1701.8,177.9L1702,179.2L1702.2,180.5L1702.4,181.8L1702.7,183L1702.9,184.3L1703.1,185.5L1703.3,186.7L1703.4,187.8L1703.6,188.9L1703.8,190L1703.9,191.2L1704.1,192.4L1704.2,193.7L1704.4,195.1L1704.5,196.5L1704.6,198L1704.8,199.4L1704.9,200.9L1705.1,202.4L1705.2,203.8L1705.4,205.2L1705.5,206.6L1705.6,207.9L1705.8,209.2L1705.9,210.4L1706.1,211.5L1706.2,212.5L1706.5,213.9L1706.8,215.4L1707.1,217L1707.4,218.7L1707.7,220.3L1708.1,221.9L1708.5,223.4L1708.8,224.7L1709.1,225.9L1709.5,226.9L1709.7,227.6L1710,228L1710.4,228L1710.9,227.3L1711.3,226.1L1711.7,224.6L1712.2,222.9L1712.6,221.3L1713,220L1713.4,218.9L1713.8,217.5L1714.2,216L1714.7,214.4L1715.1,212.9L1715.6,211.5L1715.9,210.3L1716.2,209.5L1717.2,207.9L1718,208.2L1718.3,209L1718.7,210.2L1719.2,211.7L1719.6,213.3L1720.1,214.6L1720.5,215.5L1721.5,216.2L1722.7,216.4L1723.8,217L1724.2,217.8L1724.6,219L1725,220.4L1725.4,221.8L1725.8,222.9L1726.2,223.8L1727.4,224.3L1728.8,224.4L1730,225L1730.5,225.7L1731,226.6L1731.5,227.8L1732,229.1L1732.5,230.7L1733,232.5L1733.2,233.3L1733.4,234.3L1733.6,235.4L1733.8,236.6L1734,237.9L1734.2,239.3L1734.5,240.7L1734.7,242.2L1734.9,243.6L1735.1,245.1L1735.4,246.5L1735.6,247.9L1735.8,249.2L1735.9,250.4L1736.1,251.5L1736.2,252.5L1736.4,253.9L1736.6,255.3L1736.8,256.8L1736.9,258.3L1737.1,259.8L1737.2,261.3L1737.4,262.6L1737.5,263.8L1737.7,264.9L1737.8,265.7L1738,266.2L1738.7,266.2L1739.6,264.4L1740.5,263.8L1741,264.4L1741.5,265.5L1742.2,266.9L1742.8,268.4L1743.3,269.9L1743.8,271.2L1744.1,272.3L1744.4,273.4L1744.7,274.6L1744.9,275.9L1745.2,276.6L1745.5,278L1745.8,279.7L1745.9,280.9L1746.1,281.9L1746.3,283.3L1746.5,284.8L1746.7,285.6L1746.9,286.6L1747.1,288.9L1747.3,289.2L1747.5,291.2L1747.7,292L1747.8,293.8L1748,295.7L1748.1,295.6L1748.2,297.9L1748.4,298.3L1748.5,300.7L1748.6,301.8L1748.8,303.7L1748.9,305.2L1749,307.6L1749.2,308.6L1749.3,310.3L1749.4,311.6L1749.6,312.6L1749.7,313.4L1749.9,314.3L1750,315.5L1750.4,314.9L1750.9,313.3L1751.4,311.4L1752,309.5L1752.5,307.1L1753,308L1753.2,308.5L1753.3,308.4L1753.5,309.3L1753.7,311.5L1753.9,311.9L1754,313.1L1754.2,314.7L1754.4,316.6L1754.6,317.9L1754.8,320L1755,322L1755.2,323.9L1755.4,325.6L1755.6,327L1755.8,328.5L1756,328.9L1756.2,330.4L1756.6,331.7L1757.1,332.4L1757.6,334.1L1758.2,335.5L1758.7,336.9L1759.3,338.2L1759.8,339.6L1760.4,340.4L1760.8,341.4L1761.2,342.1L1762.5,344L1763.8,343.9L1765,344.5L1765.5,346.5L1766.1,347.1L1766.7,349.4L1767.4,350.4L1768.1,351.1L1768.8,352L1769.6,353.7L1770.7,353.4L1771.9,353.6L1773.1,354.9L1774.1,354.7L1775,355.7L1775.5,357.5L1775.9,357.9L1776.4,359.8L1776.8,360.9L1777.2,361.7L1777.6,364.3L1778,364.9L1778.4,366.7L1778.8,367.7L1779.2,368.6L1779.7,370.7L1780.2,371.1L1780.7,373L1781.2,375.3L1781.7,375.6L1782.1,376.8L1782.5,378L1783.3,376.7L1784.2,374.8L1785,373.4L1786.1,373.8L1787.5,373.8L1788.8,374.9L1789.1,376.3L1789.4,377.1L1789.8,377.7L1790.2,380.4L1790.6,381.6L1791,383.4L1791.4,384.6L1791.8,386.4L1792.2,386.6L1792.5,387.4L1793.7,387.5L1795,385.8L1796.2,386.3L1796.5,387.5L1796.8,388.3L1797.1,388.8L1797.5,391.1L1797.8,391.7L1798.1,393.5L1798.5,395.5L1798.8,397.4L1799.1,398.1L1799.4,399.9L1799.7,400.8L1800,401.9L1800.7,400.9L1801.5,400.3L1802.3,397.5L1803.1,396.9L1803.8,396.5L1804,397L1804.3,397.6L1804.6,398.4L1804.9,400.4L1805.2,402L1805.6,403.9L1805.9,404.8L1806.2,407L1806.5,409L1806.9,410.3L1807.2,410.6L1807.5,411.3L1808.4,411.7L1809.4,410.6L1810.6,407.8L1811.6,406.7L1812.5,406.3L1813,406.9L1813.5,407.6L1814,409.8L1814.4,411.2L1814.9,412.8L1815.4,413.7L1815.8,415.9L1816.2,416.1L1817.5,416.3L1818.8,414.8L1820,414.3L1820.3,416.2L1820.7,416.9L1821.1,417.7L1821.5,419.7L1821.9,421L1822.3,423.6L1822.7,424.5L1823.1,425.4L1823.4,427.4L1823.8,427.7L1824.6,427.2L1825.6,426.5L1826.6,424.4L1827.5,424.1L1828.7,422.7L1830,422.6L1831.2,421.9L1831.7,423L1832.1,424.4L1832.7,426.5L1833.2,427L1833.7,429.9L1834.2,430L1834.6,431.4L1835,432.5L1836,432.2L1837,430.6L1838,429.5L1838.5,431.1L1839,432.8L1839.6,434.5L1840.1,436.6L1840.7,437.1L1841.2,437.3L1841.6,436.7L1842,436.3L1842.4,433.9L1842.9,433.3L1843.4,431.5L1843.9,429.2L1844.3,427.4L1844.8,426.1L1845.2,425.7L1845.5,425.6L1845.8,424.9L1846.1,426.6L1846.4,427.8L1846.7,428.7L1846.9,430.4L1847.2,431.5L1847.5,433.6L1847.8,435.6L1848.1,437.1L1848.4,438.4L1848.8,439.2L1849.8,438.7L1851.1,437.4L1852.5,436L1853.8,436.2L1854.3,436.4L1855,438.1L1855.7,438.6L1856.5,440.9L1857.3,441.6L1858,444.1L1858.8,445.4L1859.4,446L1860,446.9L1860.8,445.8L1861.7,444.8L1862.6,443L1863.5,441.9L1864.3,440.5L1865,440.7L1865.7,440.6L1866.5,440.9L1867.3,442.7L1868,444.7L1868.8,445.5L1869.6,444.8L1870.6,444.3L1871.7,442.9L1872.8,441.8L1873.8,441.5L1874.4,441.6L1875.1,442.2L1875.9,444.3L1876.6,446L1877.4,447.6L1878.1,448.3L1878.8,448.7L1879.7,448L1880.7,447.5L1881.8,447.1L1882.8,445.5L1883.8,445.4L1884.7,446.2L1885.7,446.5L1886.8,448L1887.8,449.9L1888.8,449.3L1889.7,449.2L1890.7,448.6L1891.8,447.1L1892.8,445L1893.8,444.3L1894.5,446.1L1895.4,446.6L1896.2,448L1897.1,449.7L1898,451L1898.8,451L1899.9,451.1L1901.2,450.5L1902.6,448.9L1903.8,448.8L1904.7,449.2L1905.7,451.4L1906.7,451.6L1907.8,453.7L1908.8,453.8L1909.5,453.5L1910.4,451.9L1911.4,451.6L1912.4,449.5L1913.3,448.5L1914.2,446.7L1915,446.7L1915.7,448L1916.4,447.8L1917.1,449.8L1917.8,451.1L1918.5,452.8L1919.2,454.5L1920,455.5L1921,455.2L1922.3,455.5L1923.8,454.7L1925.2,454.5L1926.5,452.9L1927.5,453.5L1928.8,453L1930.1,453L1931.4,451.6L1932.5,451.9L1933.4,452.5L1934.4,453.5L1935.5,455.1L1936.5,456.6L1937.5,456.9L1938.6,456.5L1940,457.2L1941.4,455.8L1942.7,456.4L1943.8,454.7L1944.4,453.5L1945.1,452.3L1945.8,450.7L1946.4,449.6L1947,449.3L1947.5,448.6L1948,448.6L1948.5,450.1L1949,451.6L1949.5,453.1L1950.1,455.3L1950.7,455.7L1951.2,457.1L1952.3,456.7L1953.6,457.3L1954.9,457.4L1956.3,456.4L1957.5,455.7L1958.7,456L1960,456.2L1961.4,455.4L1962.7,454.4L1963.8,453.9L1964.5,452.6L1965.2,451.3L1966,450.4L1966.7,449.1L1967.4,447.4L1968,447.1L1969.1,447.4L1970.3,447.9L1971.5,449.5L1972.5,449.6L1974.1,449.1L1975.5,449.1L1976.1,449.6L1976.9,451.1L1977.7,452.3L1978.3,453.1L1978.8,454" fill="none" stroke="#ff7a05" stroke-width="2.85" stroke-linejoin="round" stroke-linecap="round"/>
</g>
<rect x="1436.9" y="21.2" width="543.9" height="437.4" fill="none" stroke="#000" stroke-width="3.0"/>
<path d="M1436.9,458.6v8.9M1545.7,458.6v8.9M1654.5,458.6v8.9M1763.2,458.6v8.9M1872,458.6v8.9M1980.8,458.6v8.9M1491.3,458.6v4.6M1600.1,458.6v4.6M1708.9,458.6v4.6M1817.6,458.6v4.6M1926.4,458.6v4.6" stroke="#000" stroke-width="2.9" fill="none"/>
<text x="1436.9" y="493.3" font-size="25" text-anchor="middle">300</text>
<text x="1545.7" y="493.3" font-size="25" text-anchor="middle">400</text>
<text x="1654.5" y="493.3" font-size="25" text-anchor="middle">500</text>
<text x="1763.2" y="493.3" font-size="25" text-anchor="middle">600</text>
<text x="1872" y="493.3" font-size="25" text-anchor="middle">700</text>
<text x="1980.8" y="493.3" font-size="25" text-anchor="middle">800</text>
<text x="1708.8" y="535.6" font-size="27" font-weight="700" text-anchor="middle">Wavelength (nm)</text>
<text x="1417.8" y="240.4" font-size="27" font-weight="700" text-anchor="middle" transform="rotate(-90 1417.8 240.4)">Normalized intensity</text>
<text x="1351.4" y="28.9" font-size="40.8">(d)</text>
<rect x="1729.3" y="42.8" width="42.7" height="20.2" fill="url(#lB)" stroke="#3296ff" stroke-width="2.6"/>
<rect x="1729.3" y="73.3" width="42.7" height="20" fill="url(#lO)" stroke="#ff7a05" stroke-width="2.6"/>
<text x="1784.5" y="60.8" font-size="25">Prompt at 77 K</text>
<text x="1784.5" y="91.2" font-size="25">Delayed at 77 K</text>
<g clip-path="url(#cpe)">
<path d="M750,1035.3C758.7,1035.2 805.4,1035.1 815,1034.8C824.6,1034.5 820,1032.9 822,1032.8C824,1032.7 826.9,1033.8 830,1033.8C833.1,1033.8 841,1032.9 845,1032.8C849,1032.7 856.4,1033 860,1032.8C863.6,1032.6 868.7,1031.5 872,1031C875.3,1030.5 882.3,1029 885,1029C887.7,1029 889.3,1030.9 892,1031C894.7,1031.1 901.9,1030.4 905,1030C908.1,1029.6 912.3,1028.4 915,1028C917.7,1027.6 923.1,1027.4 925,1027C926.9,1026.6 928,1025.9 929,1025C930,1024.1 931.5,1022 932.5,1020C933.5,1018 935.2,1013.7 936.2,1010C937.2,1006.3 939.2,998.5 940,992.5C940.8,986.5 941.8,973.7 942.5,965C943.2,956.3 944.3,939.2 945,927.5C945.7,915.8 946.8,889.2 947.5,877.5C948.2,865.8 949.3,849 950,840C950.7,831 951.8,817.3 952.5,810C953.2,802.7 954.3,789.3 955,785C955.7,780.7 957.2,778.7 958,777.5C958.8,776.3 960.4,777.8 961.2,776.2C962.1,774.8 963.7,766.8 964.5,766.2C965.3,765.8 966.3,771 967,772.5C967.7,774 968.6,777.2 969.5,777.5C970.4,777.8 972.7,775.5 973.8,775C974.8,774.5 976.7,775.8 977.5,773.8C978.3,771.8 979.2,765.2 980,760C980.8,754.8 982.6,743 983.8,735C984.9,727 987.4,708 988.8,700C990.1,692 992.6,679.5 993.8,675C994.9,670.5 996.7,667.6 997.5,666.2C998.3,664.9 998.9,663 999.5,664.5C1000.1,666 1001.3,671.8 1002,677.5C1002.7,683.2 1004.2,703.3 1005,707.5C1005.8,711.7 1007.3,707.2 1008,709.2C1008.7,711.2 1009.7,717.7 1010.5,722.5C1011.3,727.3 1012.8,738.7 1013.8,745C1014.7,751.3 1016.5,764.5 1017.5,770C1018.5,775.5 1020.4,784.6 1021.2,786.2C1022.1,787.9 1023,782 1023.8,782.5C1024.5,783 1026.2,790 1027,790C1027.8,790 1028.9,784.6 1029.5,782.5C1030.1,780.4 1031.2,773.9 1031.8,774.2C1032.3,774.6 1033.2,781.9 1033.8,785C1034.3,788.1 1035.4,794.8 1036.2,797.5C1037.1,800.2 1039,803.3 1040,805C1041,806.7 1042.8,808 1043.8,810C1044.8,812 1046.5,817 1047.5,820C1048.5,823 1050.4,829.8 1051.2,832.5C1052.1,835.2 1052.9,837.3 1053.8,840C1054.6,842.7 1056.7,848.8 1057.5,852.5C1058.3,856.2 1059.2,865 1060,867.5C1060.8,870 1062.8,868.6 1063.8,871.2C1064.8,873.9 1066.6,885.6 1067.5,887.5C1068.4,889.4 1069.9,883.8 1070.8,885.5C1071.6,887.2 1072.8,895.7 1073.8,900C1074.7,904.3 1076.5,913.8 1077.5,917.5C1078.5,921.2 1080.2,926.3 1081.2,927.5C1082.2,928.7 1084,925.2 1085,926.2C1086,927.2 1087.6,932.8 1088.8,935C1089.9,937.2 1092.4,940 1093.8,942.5C1095.1,945 1097.4,951.6 1098.8,953.8C1100.1,955.9 1102.6,956.6 1103.8,958.8C1104.9,960.9 1106.5,965.8 1107.5,970C1108.5,974.2 1110.1,989.2 1111.2,990C1112.4,990.8 1114.9,977 1116.2,976.2C1117.6,975.5 1119.6,982.5 1121.2,984.5C1122.9,986.5 1126.9,988.5 1128.8,991.2C1130.6,994 1133.5,1004 1135,1005C1136.5,1006 1138.7,998.9 1140,998.8C1141.3,998.6 1143.3,1002.9 1145,1003.8C1146.7,1004.6 1151,1003.8 1152.5,1005C1154,1006.2 1155.2,1013.5 1156.2,1012.5C1157.2,1011.5 1158.8,997.8 1160,997.5C1161.2,997.2 1163.5,1009.9 1165,1010C1166.5,1010.1 1169.8,997.3 1171.2,998C1172.8,998.7 1174.8,1011.9 1176.2,1015C1177.8,1018.1 1180.7,1019.9 1182.5,1021.2C1184.3,1022.6 1188.2,1025.3 1190,1025C1191.8,1024.7 1194.8,1019.6 1196.2,1018.8C1197.8,1017.9 1199.9,1017.8 1201.2,1018.8C1202.6,1019.8 1204.4,1025.1 1206.2,1026.2C1208.1,1027.4 1212.8,1027.7 1215,1027.5C1217.2,1027.3 1220.8,1024.2 1222.5,1025C1224.2,1025.8 1224.5,1032.2 1227.5,1033.3C1230.5,1034.4 1240,1033.5 1245,1033.3C1250,1033.1 1260.5,1032.5 1265,1032C1269.5,1031.6 1276.3,1032.9 1278.8,1030C1281.2,1027.1 1282.2,1009.6 1283.2,1010C1284.3,1010.4 1286,1030.5 1287,1033.3C1288,1035.3 1290.5,1031.3 1291,1031" fill="none" stroke="#ff7f0e" stroke-width="3.0" stroke-linejoin="round" stroke-linecap="round"/>
<path d="M750,1035.3C756,1035.2 788,1035 795,1034.5C802,1034.1 800.8,1032.7 802.5,1032C804.2,1031.4 806.3,1029.9 807.5,1030C808.7,1030.1 810.1,1033.1 811.2,1032.8C812.4,1032.5 815.1,1028.3 816.2,1027.5C817.4,1026.7 818.8,1026.7 820,1027C821.2,1027.3 823.3,1029.2 825,1030C826.7,1030.8 830.2,1032.7 832.5,1032.8C834.8,1032.9 839.5,1030.6 842.5,1030.5C845.5,1030.4 852,1031.8 855,1032C858,1032.3 862,1032.3 865,1032C868,1031.8 874.5,1030.4 877.5,1030C880.5,1029.6 884.8,1028.8 887.5,1028.8C890.2,1028.7 894.8,1029.5 897.5,1029.5C900.2,1029.5 905.5,1029.2 907.5,1028.8C909.5,1028.3 910.8,1026.7 912.5,1026.2C914.2,1025.8 918,1025.6 920,1025.5C922,1025.4 926,1026.2 927.5,1025.5C929,1024.8 930.2,1022.1 931.2,1020C932.2,1017.9 934,1013.7 935,1010C936,1006.3 937.9,998.5 938.8,992.5C939.6,986.5 940.6,973.7 941.2,965C941.9,956.3 943.1,939.2 943.8,927.5C944.4,915.8 945.6,889.2 946.2,877.5C946.9,865.8 948.1,849.7 948.8,840C949.4,830.3 950.6,813 951.2,805C951.9,797 953.1,785 953.8,780C954.4,775 955.5,769.3 956.2,767.5C957,765.7 958.7,767.2 959.5,766.2C960.3,765.2 961.7,762.2 962.5,760C963.3,757.8 964.8,751.8 965.5,750C966.2,748.2 967,745.9 967.5,746.2C968,746.6 968.9,749.3 969.5,752.5C970.1,755.7 971.3,766.7 972,770C972.7,773.3 973.8,776.7 974.5,777.5C975.2,778.3 976.3,775.9 977,776.2C977.7,776.6 978.8,782.7 979.5,780.5C980.2,778.3 981.3,766.7 982,760C982.7,753.3 984.1,739 985,730C985.9,721 987.9,699.8 988.8,692.5C989.6,685.2 990.6,678.1 991.2,675C991.9,671.9 993,670 993.8,669.2C994.5,668.5 995.8,668.1 996.5,669.2C997.2,670.4 998,673.4 998.8,677.5C999.5,681.6 1001.5,694.3 1002.5,700C1003.5,705.7 1005.5,716 1006.2,720C1007,724 1007.3,728.5 1008,730C1008.7,731.5 1010.3,728.9 1011.2,731.2C1012.2,733.6 1014,742 1015,747.5C1016,753 1017.8,766.5 1018.8,772.5C1019.8,778.5 1021.7,788.3 1022.5,792.5C1023.3,796.7 1024.3,802.1 1025,803.8C1025.7,805.4 1027.2,804.9 1028,805C1028.8,805.1 1030.4,805.2 1031.2,804.5C1032.1,803.8 1033.7,799.3 1034.5,799.5C1035.3,799.7 1036.3,804 1037,806.2C1037.7,808.5 1039.2,814.8 1040,816.2C1040.8,817.8 1042.3,816 1043,817.5C1043.7,819 1044.8,826 1045.5,827.5C1046.2,829 1047.2,827.1 1048,828.8C1048.8,830.4 1050.4,836.5 1051.2,840C1052.1,843.5 1053.7,849.7 1054.5,855C1055.3,860.3 1056.4,875.7 1057,880C1057.6,884.3 1058.5,888 1059.2,887.5C1060,887 1061.6,875.9 1062.5,876.2C1063.4,876.6 1065.2,885.2 1066.2,890C1067.2,894.8 1069.1,908.6 1070,912.5C1070.9,916.4 1072.3,918.5 1073,919.5C1073.7,920.5 1074.6,918.3 1075.5,920C1076.4,921.7 1078.2,930.6 1079.5,932.5C1080.8,934.4 1083.6,934.9 1085,934.5C1086.4,934.1 1088.8,928.1 1090,929.5C1091.2,930.9 1093,942.4 1093.8,945C1094.5,947.6 1095.1,948.8 1095.8,948.8C1096.4,948.8 1097.8,943.7 1098.8,945C1099.7,946.3 1101.5,957.8 1102.5,958.8C1103.5,959.8 1105.2,950.3 1106.2,952.5C1107.2,954.7 1108.7,970.5 1110,975C1111.3,979.5 1114.8,985.6 1116.2,986.2C1117.8,986.9 1120.1,980.2 1121.2,980C1122.4,979.8 1124,984.1 1125,984.5C1126,984.9 1127.6,981.9 1128.8,983C1129.9,984.1 1132.2,993.2 1133.8,993C1135.2,992.8 1138.7,982.3 1140,981.2C1141.3,980.2 1142.8,982.8 1143.8,985C1144.8,987.2 1146.3,994.4 1147.5,997.5C1148.7,1000.6 1151.3,1007.3 1152.5,1008C1153.7,1008.7 1155.1,1001.7 1156.2,1002.5C1157.4,1003.3 1159.9,1013.6 1161.2,1013.8C1162.6,1013.9 1164.8,1003 1166.2,1003.8C1167.8,1004.5 1171,1018.3 1172.5,1019.5C1174,1020.7 1176,1011.6 1177.5,1012.5C1179,1013.4 1182.1,1025.8 1183.8,1026.2C1185.4,1026.8 1188.5,1016.4 1190,1016.2C1191.5,1016.1 1193.7,1024.7 1195,1025C1196.3,1025.3 1198.5,1018.4 1200,1018.8C1201.5,1019.1 1204.9,1026.8 1206.2,1027.5C1207.6,1028.2 1208.7,1023.1 1210,1023.8C1211.3,1024.4 1214.4,1031.2 1216.2,1032C1218.1,1032.9 1221.9,1029.8 1223.8,1030C1225.6,1030.2 1228.3,1033.3 1230,1033.3C1231.7,1033.3 1234.9,1032.1 1236.2,1030C1237.6,1027.9 1239,1017.7 1240,1017.5C1241,1017.3 1242.6,1029.9 1243.8,1028.8C1244.9,1027.6 1247.6,1009.1 1248.8,1008.8C1249.9,1008.4 1251.3,1022.8 1252.5,1026.2C1253.7,1029.7 1254.2,1033.4 1257.5,1034.5C1260.8,1035.3 1274.3,1035.3 1277.5,1034.5C1280.7,1031.8 1280.7,1013.8 1281.8,1013.8C1282.8,1013.8 1284.3,1031.9 1285.5,1034.5C1286.7,1035.3 1290.3,1033.9 1291,1033.8" fill="none" stroke="#3d9eff" stroke-width="3.0" stroke-linejoin="round" stroke-linecap="round"/>
<path d="M750,1035.3L752,1035.1L754,1035.1L756,1035.2L758,1035.3L760,1035.1L762,1035.3L764,1035.3L766,1035L768,1035.2L770,1035L772,1035.1L774,1035.3L776,1035.1L778,1035.1L780,1035.2L782,1035.3L784,1035.1L786,1035.1L788,1035.2L790,1035L792,1035.2L794,1034.8L796,1035.3L798,1035.2L800,1034.5L802,1034.8L804,1034.8L806,1035.1L808,1035.3L810,1035.3L812,1035L814,1035.1L816,1035.2L818,1035.3L820,1035L822,1035.1L824,1035.1L826,1035.1L828,1035.2L830,1034.9L832,1035L834,1035L836,1035.1L838,1035.2L840,1035.1L842,1035L844,1035.1L846,1034.9L848,1035.1L850,1035.3L852,1035L854,1035.2L856,1035L858,1035.1L860,1035.1L862,1035.1L864,1035.3L866,1035.1L868,1035.1L870,1035.3L872,1035.1L874,1035.3L876,1035.1L878,1035.3L880,1035.3L882,1035.2L884,1035.2L886,1035.1L888,1035L890,1035L892,1035.1L894,1035.2L896,1035.1L898,1035.1L900,1035.2L902,1035.2L904,1035.1L906,1035.3L908,1035.2L910,1035L912,1035.2L914,1035.1L916,1035.3L918,1035.3L920,1035.1L922,1035.3L924,1035.2L926,1035.1L928,1034.9L930,1035.2L932,1034.9L934,1034.8L936,1035.1L938,1034.6L940,1035.2L942,1035.2L944,1035.2L946,1035.1L948,1035.2L950,1034.9L952,1034.9L954,1035.2L956,1034.9L958,1034.8L960,1035.1L962,1035.2L964,1035.1L966,1034.9L968,1035.1L970,1035.1L972,1035.3L974,1035.2L976,1035L978,1035.3L980,1035.1L982,1035.2L984,1035.3L986,1034.9L988,1035.1L990,1035.2L992,1035.2L994,1035L996,1035.1L998,1035.1L1000,1035.2L1002,1035L1004,1035L1006,1034.8L1008,1034.8L1010,1035.2L1012,1035.2L1014,1035L1016,1034.4L1018,1034.7L1020,1035.3L1022,1034.8L1024,1035.1L1026,1034.7L1028,1035L1030,1035.1L1032,1034.2L1034,1035.2L1036,1035L1038,1035L1040,1034.8L1042,1035L1044,1035L1046,1035L1048,1034.8L1050,1034.4L1052,1034.5L1054,1035.3L1056,1035L1058,1034.9L1060,1035.2L1062,1034.5L1064,1034.3L1066,1034.8L1068,1034.3L1070,1034.9L1072,1034.7L1074,1035.3L1076,1033.1L1078,1034.4L1080,1034.6L1082,1034.7L1084,1035.2L1086,1034.9L1088,1034.3L1090,1033.8L1092,1034.8L1094,1034.6L1096,1033.7L1098,1035L1100,1035L1102,1034.1L1104,1035.2L1106,1035.1L1108,1035L1110,1034.5L1112,1035.2L1114,1034.9L1116,1035L1116.5,1029L1118,1035.3L1120,1035L1122,1035.1L1124,1034.3L1126,1034.1L1128,1033.9L1130,1034.5L1132,1034.7L1134,1034.7L1136,1032.2L1138,1034.2L1140,1034L1142,1034.9L1144,1034.6L1146,1033.6L1148,1034.8L1150,1034.6L1152,1034.1L1154,1034.8L1156,1034.1L1158,1035.1L1160,1034.4L1162,1032.6L1164,1034L1166,1035L1167.5,1029.5L1168,1034.9L1170,1031.5L1172,1034.3L1174,1032.5L1176,1035.2L1178,1032.7L1180,1034.5L1182,1035.1L1184,1033.7L1186,1034.4L1188,1034L1190,1035.2L1192,1035L1194,1034.9L1195,1027L1196,1035.2L1198,1034.1L1200,1034.7L1202,1032.4L1204,1034.1L1206,1034.7L1208,1034.3L1210,1033.1L1212,1034.7L1214,1034.2L1216,1033.1L1218,1035.1L1220,1034.7L1222,1034.3L1224,1032.6L1226,1034.7L1228,1034.5L1230,1033.6L1232,1035.2L1234,1033.2L1236,1031.8L1238,1032.1L1240,1035L1243,1034L1245.5,1030L1248,1031L1250,1024L1253.4,997.4L1256.6,1034.5" fill="none" stroke="#8a1fff" stroke-width="2.9" stroke-linejoin="round" stroke-linecap="round"/>
<path d="M750,1035.2L752,1034.9L754,1035.1L756,1035L758,1034.9L760,1035.2L762,1035.3L764,1035.2L766,1035.1L768,1035.2L770,1035.2L772,1035.2L774,1034.9L776,1035.2L778,1035.1L780,1035.3L782,1035.2L784,1035.1L786,1035.2L788,1035.2L790,1035.3L792,1034.9L794,1035.1L796,1035.3L798,1035.1L800,1035.2L802,1035L804,1034.6L806,1035.2L808,1035.1L810,1035.1L812,1035.3L814,1035.2L816,1034.9L818,1035.2L820,1035.2L822,1035L824,1034.9L826,1035L828,1035.1L830,1035.2L832,1035.1L834,1035.3L836,1035.2L838,1035.2L840,1035.1L842,1034.9L844,1035.2L846,1035L848,1035.1L850,1035.2L852,1035.2L854,1035.2L856,1035.2L858,1035.1L860,1034.8L862,1035.1L864,1035L866,1035.2L868,1035.2L870,1035.2L872,1035.3L874,1035.2L876,1035.1L878,1035.1L880,1035L882,1035L884,1035.2L886,1034.9L888,1035.3L890,1035.3L892,1035.2L894,1035.1L896,1035.2L898,1034.9L900,1035.3L902,1035.1L904,1035.2L906,1035.1L908,1035.1L910,1034.8L912,1035.2L914,1035.1L916,1035.2L918,1035.1L920,1035L922,1035.3L924,1034.7L926,1035.1L928,1035L930,1035.2L932,1034.8L934,1035L936,1035.1L938,1035.1L940,1035.3L942,1035.2L944,1035.2L946,1034.7L948,1035.1L950,1035.2L952,1035L954,1035.2L956,1035L958,1035.2L960,1034.9L962,1035.2L964,1035.2L966,1035.1L968,1035L970,1034.5L972,1035L974,1035.2L976,1035.3L978,1035.2L980,1035.2L982,1035.2L984,1035.2L986,1035.2L988,1035.3L990,1035.1L992,1035.1L994,1034.9L996,1035.1L998,1034.9L1000,1035.1L1002,1034.9L1004,1034.7L1006,1035L1008,1035.2L1010,1035L1012,1035.2L1014,1035L1016,1034.8L1018,1034.6L1020,1034.6L1022,1035.1L1024,1035.2L1026,1035.1L1028,1034.4L1030,1035L1032,1034.1L1034,1033.8L1036,1035L1038,1035.2L1040,1034.6L1042,1035L1044,1034.2L1046,1035.2L1048,1034.9L1050,1035.2L1052,1034.7L1054,1034.1L1056,1034.8L1058,1034.9L1060,1034.5L1062,1035.3L1064,1034.8L1066,1034.3L1068,1034.5L1070,1034.6L1072,1033.2L1074,1034.3L1076,1034.9L1078,1035.2L1080,1034.9L1082,1034.8L1084,1034.9L1086,1035.1L1088,1034.9L1090,1034.4L1092,1033.3L1094,1033.3L1096,1034.2L1098,1033.6L1100,1034.6L1102,1033.8L1104,1033.8L1106,1033.3L1108,1034L1110,1034.3L1112,1034.5L1114,1033.4L1116,1033.3L1118,1035.3L1120,1033.1L1122,1034.7L1124,1035.2L1126,1032.8L1128,1034.6L1130,1033.7L1132,1034.8L1134,1034L1136,1032.7L1138,1034.6L1140,1034.3L1142,1033.2L1144,1033.4L1146,1034.4L1148,1034L1150,1033.9L1152,1034.1L1154,1030L1156,1033.8L1158,1033.6L1160,1033.5L1162,1035.2L1164,1034.5L1166,1035L1168,1033L1170,1034.8L1172,1033.7L1174,1034.6L1176,1030L1178,1032.1L1180,1033.4L1182,1033.7L1184,1034L1186,1034.6L1188,1033.6L1190,1032.1L1192,1035L1194,1034.7L1196,1032.7L1198,1035L1200,1033L1202,1035.1L1204,1033.4L1206,1032.9L1208,1033.7L1210,1034.5L1212,1034.8L1214,1034.6L1216,1032.6L1218,1034.6L1220,1033.4L1222,1030.3L1224,1028.2L1226,1030L1228,1032.8L1230,1032.9L1232,1034.2L1234,1030.8L1236,1031.2L1238,1033.2L1240,1031.3L1242,1030.2L1244,1030.7L1246,1035.1L1248,1033.9L1250,1034.8L1252,1034.3L1254,1033.4L1256,1030L1257.9,1011.7L1260.2,1033L1262,1025L1263.5,1029L1265,1023.5L1266.5,1027.5L1268,1023L1269.5,1026.5L1271,1022L1273,1005L1275.6,1034.5L1286.5,1034.5L1288.5,1017L1290,1014.4L1291.5,1020" fill="none" stroke="#0f8c0f" stroke-width="2.9" stroke-linejoin="round" stroke-linecap="round"/>
</g>
<rect x="749.1" y="598.4" width="543.4" height="437.6" fill="none" stroke="#000" stroke-width="3.0"/>
<path d="M749.1,1036v8.9M857.8,1036v8.9M966.5,1036v8.9M1075.1,1036v8.9M1183.8,1036v8.9M1292.5,1036v8.9M803.4,1036v4.6M912.1,1036v4.6M1020.8,1036v4.6M1129.5,1036v4.6M1238.2,1036v4.6" stroke="#000" stroke-width="2.9" fill="none"/>
<text x="749.1" y="1070.2" font-size="25" text-anchor="middle">300</text>
<text x="857.8" y="1070.2" font-size="25" text-anchor="middle">400</text>
<text x="966.5" y="1070.2" font-size="25" text-anchor="middle">500</text>
<text x="1075.1" y="1070.2" font-size="25" text-anchor="middle">600</text>
<text x="1183.8" y="1070.2" font-size="25" text-anchor="middle">700</text>
<text x="1292.5" y="1070.2" font-size="25" text-anchor="middle">800</text>
<text x="1020.8" y="1113.2" font-size="27" font-weight="700" text-anchor="middle">Wavelength (nm)</text>
<text x="728.8" y="816.7" font-size="27" font-weight="700" text-anchor="middle" transform="rotate(-90 728.8 816.7)">PL intensity (a.u.)</text>
<text x="672.6" y="588.6" font-size="40.3">(e)</text>
<path d="M1124.2,624.2H1178.8" stroke="#ff7f0e" stroke-width="3"/>
<path d="M1124.2,654.5H1178.8" stroke="#3d9eff" stroke-width="3"/>
<path d="M1124.2,690H1178.8" stroke="#0f8c0f" stroke-width="3"/>
<path d="M1124.2,720H1178.8" stroke="#8a1fff" stroke-width="3"/>
<text x="1187" y="632.5" font-size="25">Vacuum</text>
<text x="1187" y="662.5" font-size="25">N<tspan font-size="16.5" dy="6.5">2</tspan></text>
<text x="1187" y="698.2" font-size="25">Ambient</text>
<text x="1187" y="728.2" font-size="25">O<tspan font-size="16.5" dy="6.5">2</tspan></text>
<g clip-path="url(#cpf)">
<g fill="url(#mB)">
<circle cx="1436.6" cy="629.3" r="5"/>
<circle cx="1437.1" cy="655.3" r="5"/>
<circle cx="1437.6" cy="659.7" r="5"/>
<circle cx="1438.1" cy="660.7" r="5"/>
<circle cx="1438.6" cy="660.3" r="5"/>
<circle cx="1439.1" cy="662.4" r="5"/>
<circle cx="1439.6" cy="664.1" r="5"/>
<circle cx="1440.1" cy="663.4" r="5"/>
<circle cx="1440.6" cy="666.3" r="5"/>
<circle cx="1441.1" cy="664.5" r="5"/>
<circle cx="1441.5" cy="668.2" r="5"/>
<circle cx="1442" cy="668.2" r="5"/>
<circle cx="1442.5" cy="668.7" r="5"/>
<circle cx="1443" cy="669.8" r="5"/>
<circle cx="1443.5" cy="671.9" r="5"/>
<circle cx="1444" cy="670.9" r="5"/>
<circle cx="1444.5" cy="672.4" r="5"/>
<circle cx="1445" cy="673" r="5"/>
<circle cx="1445.5" cy="672.7" r="5"/>
<circle cx="1446" cy="674.6" r="5"/>
<circle cx="1446.5" cy="674.2" r="5"/>
<circle cx="1447" cy="678.2" r="5"/>
<circle cx="1447.5" cy="678.7" r="5"/>
<circle cx="1448" cy="679.1" r="5"/>
<circle cx="1448.5" cy="681.5" r="5"/>
<circle cx="1449" cy="680.4" r="5"/>
<circle cx="1449.5" cy="681.5" r="5"/>
<circle cx="1450" cy="683.4" r="5"/>
<circle cx="1450.5" cy="685.4" r="5"/>
<circle cx="1451" cy="683.5" r="5"/>
<circle cx="1451.4" cy="685.6" r="5"/>
<circle cx="1451.9" cy="686.5" r="5"/>
<circle cx="1452.4" cy="688.2" r="5"/>
<circle cx="1452.9" cy="689.2" r="5"/>
<circle cx="1453.4" cy="688.2" r="5"/>
<circle cx="1453.9" cy="691.9" r="5"/>
<circle cx="1454.4" cy="691.3" r="5"/>
<circle cx="1454.9" cy="690.5" r="5"/>
<circle cx="1455.4" cy="693.9" r="5"/>
<circle cx="1455.9" cy="694.2" r="5"/>
<circle cx="1456.4" cy="694.8" r="5"/>
<circle cx="1456.9" cy="699.6" r="5"/>
<circle cx="1457.4" cy="697.9" r="5"/>
<circle cx="1457.9" cy="698.9" r="5"/>
<circle cx="1458.4" cy="700.8" r="5"/>
<circle cx="1458.9" cy="698.1" r="5"/>
<circle cx="1459.4" cy="699.2" r="5"/>
<circle cx="1459.9" cy="702.2" r="5"/>
<circle cx="1460.4" cy="702.7" r="5"/>
<circle cx="1460.9" cy="698.9" r="5"/>
<circle cx="1461.3" cy="701.9" r="5"/>
<circle cx="1461.8" cy="704.6" r="5"/>
<circle cx="1462.3" cy="707" r="5"/>
<circle cx="1462.8" cy="704.4" r="5"/>
<circle cx="1463.3" cy="707.9" r="5"/>
<circle cx="1463.8" cy="707.5" r="5"/>
<circle cx="1464.3" cy="703.3" r="5"/>
<circle cx="1464.8" cy="709.6" r="5"/>
<circle cx="1465.3" cy="710.6" r="5"/>
<circle cx="1465.8" cy="710.1" r="5"/>
<circle cx="1466.3" cy="711.7" r="5"/>
<circle cx="1466.8" cy="712.7" r="5"/>
<circle cx="1467.3" cy="714.1" r="5"/>
<circle cx="1467.8" cy="712.6" r="5"/>
<circle cx="1468.3" cy="716.5" r="5"/>
<circle cx="1468.8" cy="712.5" r="5"/>
<circle cx="1469.3" cy="713.1" r="5"/>
<circle cx="1469.8" cy="717.1" r="5"/>
<circle cx="1470.3" cy="719.8" r="5"/>
<circle cx="1470.8" cy="713.4" r="5"/>
<circle cx="1471.2" cy="721.4" r="5"/>
<circle cx="1471.7" cy="723.2" r="5"/>
<circle cx="1472.2" cy="726.9" r="5"/>
<circle cx="1472.7" cy="721.5" r="5"/>
<circle cx="1473.2" cy="722.8" r="5"/>
<circle cx="1473.7" cy="720.7" r="5"/>
<circle cx="1474.2" cy="725.6" r="5"/>
<circle cx="1474.7" cy="724.4" r="5"/>
<circle cx="1475.2" cy="724.6" r="5"/>
<circle cx="1475.7" cy="724" r="5"/>
<circle cx="1476.2" cy="723.9" r="5"/>
<circle cx="1476.7" cy="725.9" r="5"/>
<circle cx="1477.2" cy="730.1" r="5"/>
<circle cx="1477.7" cy="727.5" r="5"/>
<circle cx="1478.2" cy="730.8" r="5"/>
<circle cx="1478.7" cy="729.1" r="5"/>
<circle cx="1479.2" cy="732.6" r="5"/>
<circle cx="1479.7" cy="733.7" r="5"/>
<circle cx="1480.2" cy="732.9" r="5"/>
<circle cx="1480.7" cy="733.8" r="5"/>
<circle cx="1481.1" cy="734.2" r="5"/>
<circle cx="1481.6" cy="733.8" r="5"/>
<circle cx="1482.1" cy="736.3" r="5"/>
<circle cx="1482.6" cy="730.7" r="5"/>
<circle cx="1483.1" cy="733.6" r="5"/>
<circle cx="1483.6" cy="738.5" r="5"/>
<circle cx="1484.1" cy="740" r="5"/>
<circle cx="1484.6" cy="739.6" r="5"/>
<circle cx="1485.1" cy="739.5" r="5"/>
<circle cx="1485.6" cy="740.2" r="5"/>
<circle cx="1486.1" cy="736.2" r="5"/>
<circle cx="1486.6" cy="739.4" r="5"/>
<circle cx="1487.1" cy="739.7" r="5"/>
<circle cx="1487.6" cy="744.5" r="5"/>
<circle cx="1488.1" cy="738.5" r="5"/>
<circle cx="1488.6" cy="742.2" r="5"/>
<circle cx="1489.1" cy="745.4" r="5"/>
<circle cx="1489.6" cy="748.6" r="5"/>
<circle cx="1490.1" cy="741.7" r="5"/>
<circle cx="1490.6" cy="746.3" r="5"/>
<circle cx="1491" cy="749.2" r="5"/>
<circle cx="1491.5" cy="745.5" r="5"/>
<circle cx="1492" cy="747.8" r="5"/>
<circle cx="1492.5" cy="747.7" r="5"/>
<circle cx="1493" cy="750.4" r="5"/>
<circle cx="1493.5" cy="748.8" r="5"/>
<circle cx="1494" cy="748.6" r="5"/>
<circle cx="1494.5" cy="752.1" r="5"/>
<circle cx="1495" cy="746.1" r="5"/>
<circle cx="1495.5" cy="753" r="5"/>
<circle cx="1496" cy="752.4" r="5"/>
<circle cx="1496.5" cy="751.1" r="5"/>
<circle cx="1497" cy="752.8" r="5"/>
<circle cx="1497.5" cy="755.8" r="5"/>
<circle cx="1498" cy="753.5" r="5"/>
<circle cx="1498.5" cy="752.6" r="5"/>
<circle cx="1499" cy="754.6" r="5"/>
<circle cx="1499.5" cy="757.1" r="5"/>
<circle cx="1500" cy="756.3" r="5"/>
<circle cx="1500.5" cy="757.4" r="5"/>
<circle cx="1500.9" cy="759.4" r="5"/>
<circle cx="1501.4" cy="756.7" r="5"/>
<circle cx="1501.9" cy="758.6" r="5"/>
<circle cx="1502.4" cy="762.2" r="5"/>
<circle cx="1502.9" cy="763.4" r="5"/>
<circle cx="1503.4" cy="759.3" r="5"/>
<circle cx="1503.9" cy="764.8" r="5"/>
<circle cx="1504.4" cy="762.6" r="5"/>
<circle cx="1504.9" cy="764.5" r="5"/>
<circle cx="1505.4" cy="762.6" r="5"/>
<circle cx="1505.9" cy="760.1" r="5"/>
<circle cx="1506.4" cy="770" r="5"/>
<circle cx="1506.9" cy="763" r="5"/>
<circle cx="1507.4" cy="765.7" r="5"/>
<circle cx="1507.9" cy="774.5" r="5"/>
<circle cx="1508.4" cy="770.5" r="5"/>
<circle cx="1508.9" cy="768.9" r="5"/>
<circle cx="1509.4" cy="768.4" r="5"/>
<circle cx="1509.9" cy="768.6" r="5"/>
<circle cx="1510.4" cy="768.2" r="5"/>
<circle cx="1510.8" cy="774.2" r="5"/>
<circle cx="1511.3" cy="774.4" r="5"/>
<circle cx="1511.8" cy="776.1" r="5"/>
<circle cx="1512.3" cy="776.3" r="5"/>
<circle cx="1512.8" cy="769.5" r="5"/>
<circle cx="1513.3" cy="776.6" r="5"/>
<circle cx="1513.8" cy="775" r="5"/>
<circle cx="1514.3" cy="778.4" r="5"/>
<circle cx="1514.8" cy="783.8" r="5"/>
<circle cx="1515.3" cy="783.8" r="5"/>
<circle cx="1515.8" cy="779.8" r="5"/>
<circle cx="1516.3" cy="779.6" r="5"/>
<circle cx="1516.8" cy="787.7" r="5"/>
<circle cx="1517.3" cy="786.1" r="5"/>
<circle cx="1517.8" cy="779.7" r="5"/>
<circle cx="1518.3" cy="780" r="5"/>
<circle cx="1518.8" cy="784.5" r="5"/>
<circle cx="1519.3" cy="776.8" r="5"/>
<circle cx="1519.8" cy="778" r="5"/>
<circle cx="1520.3" cy="784.3" r="5"/>
<circle cx="1520.7" cy="782.7" r="5"/>
<circle cx="1521.2" cy="779.4" r="5"/>
<circle cx="1521.7" cy="785.9" r="5"/>
<circle cx="1522.2" cy="782.8" r="5"/>
<circle cx="1522.7" cy="784.4" r="5"/>
<circle cx="1523.2" cy="785.3" r="5"/>
<circle cx="1523.7" cy="787.7" r="5"/>
<circle cx="1524.2" cy="786.4" r="5"/>
<circle cx="1524.7" cy="794.9" r="5"/>
<circle cx="1525.2" cy="791.2" r="5"/>
<circle cx="1525.7" cy="786.9" r="5"/>
<circle cx="1526.2" cy="786.9" r="5"/>
<circle cx="1526.7" cy="790.4" r="5"/>
<circle cx="1527.2" cy="790.6" r="5"/>
<circle cx="1527.7" cy="792.4" r="5"/>
<circle cx="1528.2" cy="793.4" r="5"/>
<circle cx="1528.7" cy="789.5" r="5"/>
<circle cx="1529.2" cy="793.5" r="5"/>
<circle cx="1529.7" cy="795.3" r="5"/>
<circle cx="1530.2" cy="797.6" r="5"/>
<circle cx="1530.6" cy="794.3" r="5"/>
<circle cx="1531.1" cy="800.6" r="5"/>
<circle cx="1531.6" cy="793.5" r="5"/>
<circle cx="1532.1" cy="792.5" r="5"/>
<circle cx="1532.6" cy="798.4" r="5"/>
<circle cx="1533.1" cy="800.7" r="5"/>
<circle cx="1533.6" cy="802.6" r="5"/>
<circle cx="1534.1" cy="801.8" r="5"/>
<circle cx="1534.6" cy="805.6" r="5"/>
<circle cx="1535.1" cy="794.4" r="5"/>
<circle cx="1535.6" cy="802.2" r="5"/>
<circle cx="1536.1" cy="797" r="5"/>
<circle cx="1536.6" cy="806.5" r="5"/>
<circle cx="1537.1" cy="801.1" r="5"/>
<circle cx="1537.6" cy="791.7" r="5"/>
<circle cx="1538.1" cy="810" r="5"/>
<circle cx="1538.6" cy="798.2" r="5"/>
<circle cx="1539.1" cy="797.6" r="5"/>
<circle cx="1539.6" cy="808.1" r="5"/>
<circle cx="1540.1" cy="805.5" r="5"/>
<circle cx="1540.5" cy="799.3" r="5"/>
<circle cx="1541" cy="811.4" r="5"/>
<circle cx="1541.5" cy="801.1" r="5"/>
<circle cx="1542" cy="801.1" r="5"/>
<circle cx="1542.5" cy="818" r="5"/>
<circle cx="1543" cy="815.6" r="5"/>
<circle cx="1543.5" cy="810.5" r="5"/>
<circle cx="1544" cy="816.7" r="5"/>
<circle cx="1544.5" cy="807.5" r="5"/>
<circle cx="1545" cy="809.4" r="5"/>
<circle cx="1545.5" cy="802.4" r="5"/>
<circle cx="1546" cy="812.3" r="5"/>
<circle cx="1546.5" cy="819.9" r="5"/>
<circle cx="1547" cy="810.6" r="5"/>
<circle cx="1547.5" cy="808.2" r="5"/>
<circle cx="1548" cy="819.1" r="5"/>
<circle cx="1548.5" cy="817.8" r="5"/>
<circle cx="1549" cy="811.4" r="5"/>
<circle cx="1549.5" cy="816.1" r="5"/>
<circle cx="1550" cy="819.2" r="5"/>
<circle cx="1550.4" cy="814.3" r="5"/>
<circle cx="1550.9" cy="823.8" r="5"/>
<circle cx="1551.4" cy="819.4" r="5"/>
<circle cx="1551.9" cy="813.3" r="5"/>
<circle cx="1552.4" cy="814.8" r="5"/>
<circle cx="1552.9" cy="817.3" r="5"/>
<circle cx="1553.4" cy="824.6" r="5"/>
<circle cx="1553.9" cy="827.9" r="5"/>
<circle cx="1554.4" cy="822.2" r="5"/>
<circle cx="1554.9" cy="825.5" r="5"/>
<circle cx="1555.4" cy="821.3" r="5"/>
<circle cx="1555.9" cy="838.4" r="5"/>
<circle cx="1556.4" cy="814.3" r="5"/>
<circle cx="1556.9" cy="816.5" r="5"/>
<circle cx="1557.4" cy="826.6" r="5"/>
<circle cx="1557.9" cy="830.6" r="5"/>
<circle cx="1558.4" cy="817.3" r="5"/>
<circle cx="1558.9" cy="829.5" r="5"/>
<circle cx="1559.4" cy="838" r="5"/>
<circle cx="1559.9" cy="830.2" r="5"/>
<circle cx="1560.3" cy="830.6" r="5"/>
<circle cx="1560.8" cy="827.5" r="5"/>
<circle cx="1561.3" cy="823.5" r="5"/>
<circle cx="1561.8" cy="826.6" r="5"/>
<circle cx="1562.3" cy="824" r="5"/>
<circle cx="1562.8" cy="832.2" r="5"/>
<circle cx="1563.3" cy="828" r="5"/>
<circle cx="1563.8" cy="828.3" r="5"/>
<circle cx="1564.3" cy="841.5" r="5"/>
<circle cx="1564.8" cy="827.2" r="5"/>
<circle cx="1565.3" cy="829.9" r="5"/>
<circle cx="1565.8" cy="837.5" r="5"/>
<circle cx="1566.3" cy="825.2" r="5"/>
<circle cx="1566.8" cy="842.4" r="5"/>
<circle cx="1567.3" cy="837.6" r="5"/>
<circle cx="1567.8" cy="834.9" r="5"/>
<circle cx="1568.3" cy="842.1" r="5"/>
<circle cx="1568.8" cy="832.7" r="5"/>
<circle cx="1569.3" cy="842.6" r="5"/>
<circle cx="1569.8" cy="839.6" r="5"/>
<circle cx="1570.2" cy="841.7" r="5"/>
<circle cx="1570.7" cy="841.4" r="5"/>
<circle cx="1571.2" cy="839.8" r="5"/>
<circle cx="1571.7" cy="837.1" r="5"/>
<circle cx="1572.2" cy="837.7" r="5"/>
<circle cx="1572.7" cy="853.1" r="5"/>
<circle cx="1573.2" cy="833.2" r="5"/>
<circle cx="1573.7" cy="818.7" r="5"/>
<circle cx="1574.2" cy="840.1" r="5"/>
<circle cx="1574.7" cy="837.3" r="5"/>
<circle cx="1575.2" cy="849.1" r="5"/>
<circle cx="1575.7" cy="850.4" r="5"/>
<circle cx="1576.2" cy="854.5" r="5"/>
<circle cx="1576.7" cy="849.1" r="5"/>
<circle cx="1577.2" cy="847.9" r="5"/>
<circle cx="1577.7" cy="857.4" r="5"/>
<circle cx="1578.2" cy="846.6" r="5"/>
<circle cx="1578.7" cy="851.7" r="5"/>
<circle cx="1579.2" cy="835.9" r="5"/>
<circle cx="1579.7" cy="857.4" r="5"/>
<circle cx="1580.1" cy="853.1" r="5"/>
<circle cx="1580.6" cy="860.6" r="5"/>
<circle cx="1581.1" cy="857.4" r="5"/>
<circle cx="1581.6" cy="839.8" r="5"/>
<circle cx="1582.1" cy="840.8" r="5"/>
<circle cx="1582.6" cy="844.3" r="5"/>
<circle cx="1583.1" cy="844.3" r="5"/>
<circle cx="1583.6" cy="862.3" r="5"/>
<circle cx="1584.1" cy="855.9" r="5"/>
<circle cx="1584.6" cy="850.4" r="5"/>
<circle cx="1585.1" cy="851.7" r="5"/>
<circle cx="1585.6" cy="873.9" r="5"/>
<circle cx="1586.1" cy="839.9" r="5"/>
<circle cx="1586.6" cy="854.5" r="5"/>
<circle cx="1587.1" cy="864" r="5"/>
<circle cx="1587.6" cy="873.9" r="5"/>
<circle cx="1588.1" cy="854.5" r="5"/>
<circle cx="1588.6" cy="844.3" r="5"/>
<circle cx="1589.1" cy="854.5" r="5"/>
<circle cx="1589.6" cy="869.7" r="5"/>
<circle cx="1590" cy="862.3" r="5"/>
<circle cx="1590.5" cy="860.6" r="5"/>
<circle cx="1591" cy="850.4" r="5"/>
<circle cx="1591.5" cy="859" r="5"/>
<circle cx="1592" cy="862.3" r="5"/>
<circle cx="1592.5" cy="857.4" r="5"/>
<circle cx="1593" cy="865.8" r="5"/>
<circle cx="1593.5" cy="854.5" r="5"/>
<circle cx="1594" cy="871.7" r="5"/>
<circle cx="1594.5" cy="867.7" r="5"/>
<circle cx="1595" cy="865.8" r="5"/>
<circle cx="1595.5" cy="889.7" r="5"/>
<circle cx="1596" cy="854.5" r="5"/>
<circle cx="1596.5" cy="869.7" r="5"/>
<circle cx="1597" cy="851.7" r="5"/>
<circle cx="1597.5" cy="862.3" r="5"/>
<circle cx="1598" cy="859" r="5"/>
<circle cx="1598.5" cy="847.9" r="5"/>
<circle cx="1599" cy="869.7" r="5"/>
<circle cx="1599.5" cy="873.9" r="5"/>
<circle cx="1599.9" cy="857.4" r="5"/>
<circle cx="1600.4" cy="862.3" r="5"/>
<circle cx="1600.9" cy="881.1" r="5"/>
<circle cx="1601.4" cy="860.6" r="5"/>
<circle cx="1601.9" cy="873.9" r="5"/>
<circle cx="1602.4" cy="869.7" r="5"/>
<circle cx="1602.9" cy="878.6" r="5"/>
<circle cx="1603.4" cy="873.9" r="5"/>
<circle cx="1603.9" cy="883.8" r="5"/>
<circle cx="1604.4" cy="873.9" r="5"/>
<circle cx="1604.9" cy="871.7" r="5"/>
<circle cx="1605.4" cy="871.7" r="5"/>
<circle cx="1605.9" cy="893" r="5"/>
<circle cx="1606.4" cy="873.9" r="5"/>
<circle cx="1606.9" cy="869.7" r="5"/>
<circle cx="1607.4" cy="869.7" r="5"/>
<circle cx="1607.9" cy="864" r="5"/>
<circle cx="1608.4" cy="886.6" r="5"/>
<circle cx="1608.9" cy="876.2" r="5"/>
<circle cx="1609.4" cy="871.7" r="5"/>
<circle cx="1609.8" cy="881.1" r="5"/>
<circle cx="1610.3" cy="876.2" r="5"/>
<circle cx="1610.8" cy="883.8" r="5"/>
<circle cx="1611.3" cy="883.8" r="5"/>
<circle cx="1611.8" cy="904.6" r="5"/>
<circle cx="1612.3" cy="876.2" r="5"/>
<circle cx="1612.8" cy="873.9" r="5"/>
<circle cx="1613.3" cy="881.1" r="5"/>
<circle cx="1613.8" cy="869.7" r="5"/>
<circle cx="1614.3" cy="900.4" r="5"/>
<circle cx="1614.8" cy="876.2" r="5"/>
<circle cx="1615.3" cy="878.6" r="5"/>
<circle cx="1615.8" cy="886.6" r="5"/>
<circle cx="1616.3" cy="889.7" r="5"/>
<circle cx="1616.8" cy="883.8" r="5"/>
<circle cx="1617.3" cy="869.7" r="5"/>
<circle cx="1617.8" cy="876.2" r="5"/>
<circle cx="1618.3" cy="878.6" r="5"/>
<circle cx="1618.8" cy="881.1" r="5"/>
<circle cx="1619.3" cy="896.5" r="5"/>
<circle cx="1619.7" cy="893" r="5"/>
<circle cx="1620.2" cy="904.6" r="5"/>
<circle cx="1620.7" cy="886.6" r="5"/>
<circle cx="1621.2" cy="893" r="5"/>
<circle cx="1621.7" cy="896.5" r="5"/>
<circle cx="1622.2" cy="896.5" r="5"/>
<circle cx="1622.7" cy="883.8" r="5"/>
<circle cx="1623.2" cy="881.1" r="5"/>
<circle cx="1623.7" cy="896.5" r="5"/>
<circle cx="1624.2" cy="886.6" r="5"/>
<circle cx="1624.7" cy="896.5" r="5"/>
<circle cx="1625.2" cy="893" r="5"/>
<circle cx="1625.7" cy="886.6" r="5"/>
<circle cx="1626.2" cy="893" r="5"/>
<circle cx="1626.7" cy="904.6" r="5"/>
<circle cx="1627.2" cy="881.1" r="5"/>
<circle cx="1627.7" cy="881.1" r="5"/>
<circle cx="1628.2" cy="904.6" r="5"/>
<circle cx="1628.7" cy="893" r="5"/>
<circle cx="1629.2" cy="893" r="5"/>
<circle cx="1629.6" cy="878.6" r="5"/>
<circle cx="1630.1" cy="900.4" r="5"/>
<circle cx="1630.6" cy="883.8" r="5"/>
<circle cx="1631.1" cy="893" r="5"/>
<circle cx="1631.6" cy="896.5" r="5"/>
<circle cx="1632.1" cy="935.3" r="5"/>
<circle cx="1632.6" cy="900.4" r="5"/>
<circle cx="1633.1" cy="914.5" r="5"/>
<circle cx="1633.6" cy="889.7" r="5"/>
<circle cx="1634.1" cy="886.6" r="5"/>
<circle cx="1634.6" cy="889.7" r="5"/>
<circle cx="1635.1" cy="889.7" r="5"/>
<circle cx="1635.6" cy="909.3" r="5"/>
<circle cx="1636.1" cy="909.3" r="5"/>
<circle cx="1636.6" cy="904.6" r="5"/>
<circle cx="1637.1" cy="904.6" r="5"/>
<circle cx="1637.6" cy="909.3" r="5"/>
<circle cx="1638.1" cy="900.4" r="5"/>
<circle cx="1638.6" cy="914.5" r="5"/>
<circle cx="1639.1" cy="896.5" r="5"/>
<circle cx="1639.5" cy="909.3" r="5"/>
<circle cx="1640" cy="904.6" r="5"/>
<circle cx="1640.5" cy="896.5" r="5"/>
<circle cx="1641" cy="914.5" r="5"/>
<circle cx="1641.5" cy="927.2" r="5"/>
<circle cx="1642" cy="920.4" r="5"/>
<circle cx="1642.5" cy="896.5" r="5"/>
<circle cx="1643" cy="909.3" r="5"/>
<circle cx="1643.5" cy="914.5" r="5"/>
<circle cx="1644" cy="900.4" r="5"/>
<circle cx="1644.5" cy="935.3" r="5"/>
<circle cx="1645" cy="904.6" r="5"/>
<circle cx="1645.5" cy="900.4" r="5"/>
<circle cx="1646" cy="945.2" r="5"/>
<circle cx="1646.5" cy="920.4" r="5"/>
<circle cx="1647" cy="914.5" r="5"/>
<circle cx="1647.5" cy="920.4" r="5"/>
<circle cx="1648" cy="883.8" r="5"/>
<circle cx="1648.5" cy="893" r="5"/>
<circle cx="1649" cy="927.2" r="5"/>
<circle cx="1649.4" cy="893" r="5"/>
<circle cx="1649.9" cy="909.3" r="5"/>
<circle cx="1650.4" cy="900.4" r="5"/>
<circle cx="1650.9" cy="904.6" r="5"/>
<circle cx="1651.4" cy="889.7" r="5"/>
<circle cx="1651.9" cy="909.3" r="5"/>
<circle cx="1652.4" cy="920.4" r="5"/>
<circle cx="1652.9" cy="920.4" r="5"/>
<circle cx="1653.4" cy="914.5" r="5"/>
<circle cx="1653.9" cy="914.5" r="5"/>
<circle cx="1654.4" cy="914.5" r="5"/>
<circle cx="1654.9" cy="909.3" r="5"/>
<circle cx="1655.4" cy="904.6" r="5"/>
<circle cx="1655.9" cy="914.5" r="5"/>
<circle cx="1656.4" cy="909.3" r="5"/>
<circle cx="1656.9" cy="900.4" r="5"/>
<circle cx="1657.4" cy="920.4" r="5"/>
<circle cx="1657.9" cy="914.5" r="5"/>
<circle cx="1658.4" cy="904.6" r="5"/>
<circle cx="1658.9" cy="927.2" r="5"/>
<circle cx="1659.3" cy="909.3" r="5"/>
<circle cx="1659.8" cy="909.3" r="5"/>
<circle cx="1660.3" cy="920.4" r="5"/>
<circle cx="1660.8" cy="904.6" r="5"/>
<circle cx="1661.3" cy="945.2" r="5"/>
<circle cx="1661.8" cy="927.2" r="5"/>
<circle cx="1662.3" cy="927.2" r="5"/>
<circle cx="1662.8" cy="935.3" r="5"/>
<circle cx="1663.3" cy="904.6" r="5"/>
<circle cx="1663.8" cy="927.2" r="5"/>
<circle cx="1664.3" cy="920.4" r="5"/>
<circle cx="1664.8" cy="927.2" r="5"/>
<circle cx="1665.3" cy="914.5" r="5"/>
<circle cx="1665.8" cy="945.2" r="5"/>
<circle cx="1666.3" cy="920.4" r="5"/>
<circle cx="1666.8" cy="927.2" r="5"/>
<circle cx="1667.3" cy="927.2" r="5"/>
<circle cx="1667.8" cy="904.6" r="5"/>
<circle cx="1668.3" cy="914.5" r="5"/>
<circle cx="1668.8" cy="920.4" r="5"/>
<circle cx="1669.2" cy="927.2" r="5"/>
<circle cx="1669.7" cy="914.5" r="5"/>
<circle cx="1670.2" cy="935.3" r="5"/>
<circle cx="1670.7" cy="920.4" r="5"/>
<circle cx="1671.2" cy="914.5" r="5"/>
<circle cx="1671.7" cy="927.2" r="5"/>
<circle cx="1672.2" cy="927.2" r="5"/>
<circle cx="1672.7" cy="893" r="5"/>
<circle cx="1673.2" cy="909.3" r="5"/>
<circle cx="1673.7" cy="935.3" r="5"/>
<circle cx="1674.2" cy="935.3" r="5"/>
<circle cx="1674.7" cy="927.2" r="5"/>
<circle cx="1675.2" cy="889.7" r="5"/>
<circle cx="1675.7" cy="975.9" r="5"/>
<circle cx="1676.2" cy="957.9" r="5"/>
<circle cx="1676.7" cy="904.6" r="5"/>
<circle cx="1677.2" cy="914.5" r="5"/>
<circle cx="1677.7" cy="896.5" r="5"/>
<circle cx="1678.2" cy="935.3" r="5"/>
<circle cx="1678.7" cy="900.4" r="5"/>
<circle cx="1679.1" cy="927.2" r="5"/>
<circle cx="1679.6" cy="945.2" r="5"/>
<circle cx="1680.1" cy="957.9" r="5"/>
<circle cx="1680.6" cy="909.3" r="5"/>
<circle cx="1681.1" cy="957.9" r="5"/>
<circle cx="1681.6" cy="935.3" r="5"/>
<circle cx="1682.1" cy="920.4" r="5"/>
<circle cx="1682.6" cy="904.6" r="5"/>
<circle cx="1683.1" cy="935.3" r="5"/>
<circle cx="1683.6" cy="927.2" r="5"/>
<circle cx="1684.1" cy="935.3" r="5"/>
<circle cx="1684.6" cy="909.3" r="5"/>
<circle cx="1685.1" cy="914.5" r="5"/>
<circle cx="1685.6" cy="935.3" r="5"/>
<circle cx="1686.1" cy="945.2" r="5"/>
<circle cx="1686.6" cy="927.2" r="5"/>
<circle cx="1687.1" cy="896.5" r="5"/>
<circle cx="1687.6" cy="935.3" r="5"/>
<circle cx="1688.1" cy="909.3" r="5"/>
<circle cx="1688.6" cy="900.4" r="5"/>
<circle cx="1689" cy="935.3" r="5"/>
<circle cx="1689.5" cy="957.9" r="5"/>
<circle cx="1690" cy="975.9" r="5"/>
<circle cx="1690.5" cy="927.2" r="5"/>
<circle cx="1691" cy="914.5" r="5"/>
<circle cx="1691.5" cy="920.4" r="5"/>
<circle cx="1692" cy="945.2" r="5"/>
<circle cx="1692.5" cy="935.3" r="5"/>
<circle cx="1693" cy="909.3" r="5"/>
<circle cx="1693.5" cy="935.3" r="5"/>
<circle cx="1694" cy="896.5" r="5"/>
<circle cx="1694.5" cy="914.5" r="5"/>
<circle cx="1695" cy="957.9" r="5"/>
<circle cx="1695.5" cy="909.3" r="5"/>
<circle cx="1696" cy="909.3" r="5"/>
<circle cx="1696.5" cy="935.3" r="5"/>
<circle cx="1697" cy="914.5" r="5"/>
<circle cx="1697.5" cy="909.3" r="5"/>
<circle cx="1698" cy="957.9" r="5"/>
<circle cx="1698.5" cy="914.5" r="5"/>
<circle cx="1698.9" cy="935.3" r="5"/>
<circle cx="1699.4" cy="909.3" r="5"/>
<circle cx="1699.9" cy="1006.6" r="5"/>
<circle cx="1700.4" cy="957.9" r="5"/>
<circle cx="1700.9" cy="945.2" r="5"/>
<circle cx="1701.4" cy="914.5" r="5"/>
<circle cx="1701.9" cy="927.2" r="5"/>
<circle cx="1702.4" cy="935.3" r="5"/>
<circle cx="1702.9" cy="927.2" r="5"/>
<circle cx="1703.4" cy="945.2" r="5"/>
<circle cx="1703.9" cy="914.5" r="5"/>
<circle cx="1704.4" cy="975.9" r="5"/>
<circle cx="1704.9" cy="914.5" r="5"/>
<circle cx="1705.4" cy="957.9" r="5"/>
<circle cx="1705.9" cy="957.9" r="5"/>
<circle cx="1706.4" cy="927.2" r="5"/>
<circle cx="1706.9" cy="914.5" r="5"/>
<circle cx="1707.4" cy="909.3" r="5"/>
<circle cx="1707.9" cy="935.3" r="5"/>
<circle cx="1708.4" cy="945.2" r="5"/>
<circle cx="1708.8" cy="975.9" r="5"/>
<circle cx="1709.3" cy="920.4" r="5"/>
<circle cx="1709.8" cy="927.2" r="5"/>
<circle cx="1710.3" cy="945.2" r="5"/>
<circle cx="1710.8" cy="935.3" r="5"/>
<circle cx="1711.3" cy="945.2" r="5"/>
<circle cx="1711.8" cy="957.9" r="5"/>
<circle cx="1712.3" cy="935.3" r="5"/>
<circle cx="1712.8" cy="927.2" r="5"/>
<circle cx="1713.3" cy="927.2" r="5"/>
<circle cx="1713.8" cy="945.2" r="5"/>
<circle cx="1714.3" cy="975.9" r="5"/>
<circle cx="1714.8" cy="975.9" r="5"/>
<circle cx="1715.3" cy="914.5" r="5"/>
<circle cx="1715.8" cy="920.4" r="5"/>
<circle cx="1716.3" cy="914.5" r="5"/>
<circle cx="1716.8" cy="914.5" r="5"/>
<circle cx="1717.3" cy="975.9" r="5"/>
<circle cx="1717.8" cy="914.5" r="5"/>
<circle cx="1718.3" cy="945.2" r="5"/>
<circle cx="1718.7" cy="945.2" r="5"/>
<circle cx="1719.2" cy="935.3" r="5"/>
<circle cx="1719.7" cy="975.9" r="5"/>
<circle cx="1720.2" cy="935.3" r="5"/>
<circle cx="1720.7" cy="927.2" r="5"/>
<circle cx="1721.2" cy="935.3" r="5"/>
<circle cx="1721.7" cy="935.3" r="5"/>
<circle cx="1722.2" cy="945.2" r="5"/>
<circle cx="1722.7" cy="935.3" r="5"/>
<circle cx="1723.2" cy="975.9" r="5"/>
<circle cx="1723.7" cy="957.9" r="5"/>
<circle cx="1724.2" cy="975.9" r="5"/>
<circle cx="1724.7" cy="935.3" r="5"/>
<circle cx="1725.2" cy="935.3" r="5"/>
<circle cx="1725.7" cy="927.2" r="5"/>
<circle cx="1726.2" cy="927.2" r="5"/>
<circle cx="1726.7" cy="945.2" r="5"/>
<circle cx="1727.2" cy="975.9" r="5"/>
<circle cx="1727.7" cy="935.3" r="5"/>
<circle cx="1728.2" cy="957.9" r="5"/>
<circle cx="1728.6" cy="920.4" r="5"/>
<circle cx="1729.1" cy="927.2" r="5"/>
<circle cx="1729.6" cy="945.2" r="5"/>
<circle cx="1730.1" cy="920.4" r="5"/>
<circle cx="1730.6" cy="935.3" r="5"/>
<circle cx="1731.1" cy="914.5" r="5"/>
<circle cx="1731.6" cy="957.9" r="5"/>
<circle cx="1732.1" cy="975.9" r="5"/>
<circle cx="1732.6" cy="945.2" r="5"/>
<circle cx="1733.1" cy="945.2" r="5"/>
<circle cx="1733.6" cy="945.2" r="5"/>
<circle cx="1734.1" cy="945.2" r="5"/>
<circle cx="1734.6" cy="1006.6" r="5"/>
<circle cx="1735.1" cy="1006.6" r="5"/>
<circle cx="1735.6" cy="945.2" r="5"/>
<circle cx="1736.1" cy="927.2" r="5"/>
<circle cx="1736.6" cy="945.2" r="5"/>
<circle cx="1737.1" cy="957.9" r="5"/>
<circle cx="1737.6" cy="909.3" r="5"/>
<circle cx="1738.1" cy="945.2" r="5"/>
<circle cx="1738.5" cy="957.9" r="5"/>
<circle cx="1739" cy="935.3" r="5"/>
<circle cx="1739.5" cy="957.9" r="5"/>
<circle cx="1740" cy="945.2" r="5"/>
<circle cx="1740.5" cy="957.9" r="5"/>
<circle cx="1741" cy="957.9" r="5"/>
<circle cx="1741.5" cy="914.5" r="5"/>
<circle cx="1742" cy="975.9" r="5"/>
<circle cx="1742.5" cy="945.2" r="5"/>
<circle cx="1743" cy="935.3" r="5"/>
<circle cx="1743.5" cy="1006.6" r="5"/>
<circle cx="1744" cy="975.9" r="5"/>
<circle cx="1744.5" cy="975.9" r="5"/>
<circle cx="1745" cy="957.9" r="5"/>
<circle cx="1745.5" cy="1006.6" r="5"/>
<circle cx="1746" cy="935.3" r="5"/>
<circle cx="1746.5" cy="1006.6" r="5"/>
<circle cx="1747" cy="975.9" r="5"/>
<circle cx="1747.5" cy="945.2" r="5"/>
<circle cx="1748" cy="1006.6" r="5"/>
<circle cx="1748.4" cy="945.2" r="5"/>
<circle cx="1748.9" cy="1006.6" r="5"/>
<circle cx="1749.4" cy="909.3" r="5"/>
<circle cx="1749.9" cy="957.9" r="5"/>
<circle cx="1750.4" cy="945.2" r="5"/>
<circle cx="1750.9" cy="920.4" r="5"/>
<circle cx="1751.4" cy="957.9" r="5"/>
<circle cx="1751.9" cy="945.2" r="5"/>
<circle cx="1752.4" cy="935.3" r="5"/>
<circle cx="1752.9" cy="927.2" r="5"/>
<circle cx="1753.4" cy="957.9" r="5"/>
<circle cx="1753.9" cy="1006.6" r="5"/>
<circle cx="1754.4" cy="975.9" r="5"/>
<circle cx="1754.9" cy="945.2" r="5"/>
<circle cx="1755.4" cy="957.9" r="5"/>
<circle cx="1755.9" cy="945.2" r="5"/>
<circle cx="1756.4" cy="975.9" r="5"/>
<circle cx="1756.9" cy="945.2" r="5"/>
<circle cx="1757.4" cy="975.9" r="5"/>
<circle cx="1757.9" cy="975.9" r="5"/>
<circle cx="1758.8" cy="945.2" r="5"/>
<circle cx="1759.3" cy="920.4" r="5"/>
<circle cx="1759.8" cy="957.9" r="5"/>
<circle cx="1760.3" cy="975.9" r="5"/>
<circle cx="1760.8" cy="975.9" r="5"/>
<circle cx="1761.3" cy="945.2" r="5"/>
<circle cx="1761.8" cy="935.3" r="5"/>
<circle cx="1762.3" cy="945.2" r="5"/>
<circle cx="1762.8" cy="1006.6" r="5"/>
<circle cx="1763.3" cy="975.9" r="5"/>
<circle cx="1763.8" cy="927.2" r="5"/>
<circle cx="1764.3" cy="1006.6" r="5"/>
<circle cx="1764.8" cy="927.2" r="5"/>
<circle cx="1765.3" cy="935.3" r="5"/>
<circle cx="1765.8" cy="920.4" r="5"/>
<circle cx="1766.3" cy="920.4" r="5"/>
<circle cx="1766.8" cy="935.3" r="5"/>
<circle cx="1767.3" cy="935.3" r="5"/>
<circle cx="1767.8" cy="935.3" r="5"/>
<circle cx="1768.2" cy="945.2" r="5"/>
<circle cx="1768.7" cy="945.2" r="5"/>
<circle cx="1769.2" cy="935.3" r="5"/>
<circle cx="1769.7" cy="957.9" r="5"/>
<circle cx="1770.2" cy="945.2" r="5"/>
<circle cx="1770.7" cy="935.3" r="5"/>
<circle cx="1771.2" cy="957.9" r="5"/>
<circle cx="1771.7" cy="927.2" r="5"/>
<circle cx="1772.2" cy="945.2" r="5"/>
<circle cx="1773.2" cy="957.9" r="5"/>
<circle cx="1773.7" cy="920.4" r="5"/>
<circle cx="1774.2" cy="975.9" r="5"/>
<circle cx="1774.7" cy="957.9" r="5"/>
<circle cx="1775.2" cy="935.3" r="5"/>
<circle cx="1775.7" cy="957.9" r="5"/>
<circle cx="1776.2" cy="1006.6" r="5"/>
<circle cx="1776.7" cy="975.9" r="5"/>
<circle cx="1777.2" cy="1006.6" r="5"/>
<circle cx="1777.7" cy="957.9" r="5"/>
<circle cx="1778.1" cy="945.2" r="5"/>
<circle cx="1778.6" cy="975.9" r="5"/>
<circle cx="1779.1" cy="927.2" r="5"/>
<circle cx="1780.1" cy="945.2" r="5"/>
<circle cx="1780.6" cy="935.3" r="5"/>
<circle cx="1781.1" cy="1006.6" r="5"/>
<circle cx="1781.6" cy="957.9" r="5"/>
<circle cx="1782.1" cy="945.2" r="5"/>
<circle cx="1782.6" cy="975.9" r="5"/>
<circle cx="1783.1" cy="957.9" r="5"/>
<circle cx="1783.6" cy="975.9" r="5"/>
<circle cx="1784.1" cy="975.9" r="5"/>
<circle cx="1784.6" cy="945.2" r="5"/>
<circle cx="1785.1" cy="1006.6" r="5"/>
<circle cx="1785.6" cy="975.9" r="5"/>
<circle cx="1786.1" cy="957.9" r="5"/>
<circle cx="1786.6" cy="945.2" r="5"/>
<circle cx="1787.1" cy="957.9" r="5"/>
<circle cx="1787.6" cy="957.9" r="5"/>
<circle cx="1788" cy="945.2" r="5"/>
<circle cx="1788.5" cy="945.2" r="5"/>
<circle cx="1790" cy="957.9" r="5"/>
<circle cx="1790.5" cy="920.4" r="5"/>
<circle cx="1791" cy="975.9" r="5"/>
<circle cx="1791.5" cy="1006.6" r="5"/>
<circle cx="1792" cy="920.4" r="5"/>
<circle cx="1792.5" cy="1006.6" r="5"/>
<circle cx="1793" cy="957.9" r="5"/>
<circle cx="1793.5" cy="957.9" r="5"/>
<circle cx="1794" cy="945.2" r="5"/>
<circle cx="1794.5" cy="975.9" r="5"/>
<circle cx="1795.5" cy="957.9" r="5"/>
<circle cx="1796" cy="945.2" r="5"/>
<circle cx="1796.5" cy="945.2" r="5"/>
<circle cx="1797" cy="920.4" r="5"/>
<circle cx="1797.5" cy="957.9" r="5"/>
<circle cx="1797.9" cy="957.9" r="5"/>
<circle cx="1798.4" cy="975.9" r="5"/>
<circle cx="1798.9" cy="957.9" r="5"/>
<circle cx="1799.4" cy="957.9" r="5"/>
<circle cx="1799.9" cy="920.4" r="5"/>
<circle cx="1800.4" cy="945.2" r="5"/>
<circle cx="1800.9" cy="945.2" r="5"/>
<circle cx="1801.4" cy="935.3" r="5"/>
<circle cx="1801.9" cy="945.2" r="5"/>
<circle cx="1802.4" cy="1006.6" r="5"/>
<circle cx="1802.9" cy="975.9" r="5"/>
<circle cx="1803.4" cy="957.9" r="5"/>
<circle cx="1803.9" cy="975.9" r="5"/>
<circle cx="1804.4" cy="927.2" r="5"/>
<circle cx="1804.9" cy="1006.6" r="5"/>
<circle cx="1805.4" cy="945.2" r="5"/>
<circle cx="1805.9" cy="945.2" r="5"/>
<circle cx="1806.4" cy="945.2" r="5"/>
<circle cx="1806.9" cy="957.9" r="5"/>
<circle cx="1807.4" cy="975.9" r="5"/>
<circle cx="1807.8" cy="957.9" r="5"/>
<circle cx="1808.3" cy="927.2" r="5"/>
<circle cx="1808.8" cy="945.2" r="5"/>
<circle cx="1809.3" cy="957.9" r="5"/>
<circle cx="1809.8" cy="957.9" r="5"/>
<circle cx="1810.3" cy="1006.6" r="5"/>
<circle cx="1810.8" cy="957.9" r="5"/>
<circle cx="1811.3" cy="957.9" r="5"/>
<circle cx="1811.8" cy="1006.6" r="5"/>
<circle cx="1812.3" cy="957.9" r="5"/>
<circle cx="1812.8" cy="975.9" r="5"/>
<circle cx="1813.3" cy="957.9" r="5"/>
<circle cx="1813.8" cy="945.2" r="5"/>
<circle cx="1814.3" cy="975.9" r="5"/>
<circle cx="1814.8" cy="935.3" r="5"/>
<circle cx="1815.3" cy="957.9" r="5"/>
<circle cx="1815.8" cy="957.9" r="5"/>
<circle cx="1816.3" cy="945.2" r="5"/>
<circle cx="1816.8" cy="957.9" r="5"/>
<circle cx="1817.3" cy="1006.6" r="5"/>
<circle cx="1817.7" cy="957.9" r="5"/>
<circle cx="1818.2" cy="935.3" r="5"/>
<circle cx="1818.7" cy="975.9" r="5"/>
<circle cx="1819.7" cy="945.2" r="5"/>
<circle cx="1820.2" cy="957.9" r="5"/>
<circle cx="1820.7" cy="1006.6" r="5"/>
<circle cx="1821.2" cy="945.2" r="5"/>
<circle cx="1821.7" cy="945.2" r="5"/>
<circle cx="1822.7" cy="945.2" r="5"/>
<circle cx="1823.2" cy="935.3" r="5"/>
<circle cx="1824.7" cy="920.4" r="5"/>
<circle cx="1825.2" cy="975.9" r="5"/>
<circle cx="1825.7" cy="935.3" r="5"/>
<circle cx="1826.2" cy="935.3" r="5"/>
<circle cx="1826.7" cy="975.9" r="5"/>
<circle cx="1827.2" cy="1006.6" r="5"/>
<circle cx="1827.6" cy="1006.6" r="5"/>
<circle cx="1828.1" cy="935.3" r="5"/>
<circle cx="1828.6" cy="1006.6" r="5"/>
<circle cx="1829.1" cy="945.2" r="5"/>
<circle cx="1829.6" cy="957.9" r="5"/>
<circle cx="1830.1" cy="1006.6" r="5"/>
<circle cx="1830.6" cy="935.3" r="5"/>
<circle cx="1831.1" cy="975.9" r="5"/>
<circle cx="1832.1" cy="957.9" r="5"/>
<circle cx="1832.6" cy="957.9" r="5"/>
<circle cx="1833.1" cy="1006.6" r="5"/>
<circle cx="1833.6" cy="1006.6" r="5"/>
<circle cx="1834.1" cy="957.9" r="5"/>
<circle cx="1834.6" cy="927.2" r="5"/>
<circle cx="1835.1" cy="945.2" r="5"/>
<circle cx="1835.6" cy="957.9" r="5"/>
<circle cx="1836.1" cy="975.9" r="5"/>
<circle cx="1836.6" cy="957.9" r="5"/>
<circle cx="1837.1" cy="975.9" r="5"/>
<circle cx="1837.5" cy="975.9" r="5"/>
<circle cx="1838" cy="957.9" r="5"/>
<circle cx="1839" cy="945.2" r="5"/>
<circle cx="1839.5" cy="975.9" r="5"/>
<circle cx="1840" cy="975.9" r="5"/>
<circle cx="1840.5" cy="975.9" r="5"/>
<circle cx="1841" cy="927.2" r="5"/>
<circle cx="1841.5" cy="945.2" r="5"/>
<circle cx="1842" cy="1006.6" r="5"/>
<circle cx="1842.5" cy="975.9" r="5"/>
<circle cx="1843" cy="945.2" r="5"/>
<circle cx="1843.5" cy="935.3" r="5"/>
<circle cx="1844" cy="975.9" r="5"/>
<circle cx="1844.5" cy="957.9" r="5"/>
<circle cx="1846" cy="957.9" r="5"/>
<circle cx="1846.5" cy="1006.6" r="5"/>
<circle cx="1847" cy="945.2" r="5"/>
<circle cx="1847.4" cy="945.2" r="5"/>
<circle cx="1847.9" cy="1006.6" r="5"/>
<circle cx="1848.4" cy="1006.6" r="5"/>
<circle cx="1848.9" cy="975.9" r="5"/>
<circle cx="1849.4" cy="1006.6" r="5"/>
<circle cx="1849.9" cy="1006.6" r="5"/>
<circle cx="1850.4" cy="945.2" r="5"/>
<circle cx="1850.9" cy="945.2" r="5"/>
<circle cx="1851.4" cy="957.9" r="5"/>
<circle cx="1851.9" cy="975.9" r="5"/>
<circle cx="1852.4" cy="957.9" r="5"/>
<circle cx="1852.9" cy="1006.6" r="5"/>
<circle cx="1853.4" cy="957.9" r="5"/>
<circle cx="1853.9" cy="975.9" r="5"/>
<circle cx="1854.4" cy="975.9" r="5"/>
<circle cx="1854.9" cy="957.9" r="5"/>
<circle cx="1855.4" cy="1006.6" r="5"/>
<circle cx="1855.9" cy="945.2" r="5"/>
<circle cx="1856.9" cy="975.9" r="5"/>
<circle cx="1857.3" cy="975.9" r="5"/>
<circle cx="1857.8" cy="957.9" r="5"/>
<circle cx="1858.3" cy="945.2" r="5"/>
<circle cx="1858.8" cy="1006.6" r="5"/>
<circle cx="1859.3" cy="957.9" r="5"/>
<circle cx="1860.3" cy="945.2" r="5"/>
<circle cx="1860.8" cy="975.9" r="5"/>
<circle cx="1861.3" cy="945.2" r="5"/>
<circle cx="1861.8" cy="975.9" r="5"/>
<circle cx="1862.8" cy="1006.6" r="5"/>
<circle cx="1863.3" cy="957.9" r="5"/>
<circle cx="1863.8" cy="920.4" r="5"/>
<circle cx="1864.3" cy="975.9" r="5"/>
<circle cx="1864.8" cy="945.2" r="5"/>
<circle cx="1865.3" cy="957.9" r="5"/>
<circle cx="1865.8" cy="957.9" r="5"/>
<circle cx="1866.3" cy="935.3" r="5"/>
<circle cx="1866.8" cy="957.9" r="5"/>
<circle cx="1867.2" cy="975.9" r="5"/>
<circle cx="1867.7" cy="1006.6" r="5"/>
<circle cx="1868.7" cy="975.9" r="5"/>
<circle cx="1869.2" cy="1006.6" r="5"/>
<circle cx="1869.7" cy="975.9" r="5"/>
<circle cx="1870.2" cy="945.2" r="5"/>
<circle cx="1870.7" cy="1006.6" r="5"/>
<circle cx="1871.2" cy="1006.6" r="5"/>
<circle cx="1871.7" cy="1006.6" r="5"/>
<circle cx="1872.2" cy="957.9" r="5"/>
<circle cx="1872.7" cy="975.9" r="5"/>
<circle cx="1873.2" cy="975.9" r="5"/>
<circle cx="1873.7" cy="1006.6" r="5"/>
<circle cx="1874.2" cy="927.2" r="5"/>
<circle cx="1874.7" cy="1006.6" r="5"/>
<circle cx="1875.2" cy="957.9" r="5"/>
<circle cx="1875.7" cy="1006.6" r="5"/>
<circle cx="1876.2" cy="914.5" r="5"/>
<circle cx="1876.7" cy="935.3" r="5"/>
<circle cx="1877.1" cy="1006.6" r="5"/>
<circle cx="1877.6" cy="957.9" r="5"/>
<circle cx="1878.1" cy="975.9" r="5"/>
<circle cx="1878.6" cy="1006.6" r="5"/>
<circle cx="1879.1" cy="957.9" r="5"/>
<circle cx="1879.6" cy="957.9" r="5"/>
<circle cx="1880.1" cy="975.9" r="5"/>
<circle cx="1881.6" cy="957.9" r="5"/>
<circle cx="1882.1" cy="975.9" r="5"/>
<circle cx="1882.6" cy="957.9" r="5"/>
<circle cx="1883.1" cy="957.9" r="5"/>
<circle cx="1883.6" cy="957.9" r="5"/>
<circle cx="1884.1" cy="1006.6" r="5"/>
<circle cx="1884.6" cy="1006.6" r="5"/>
<circle cx="1885.1" cy="975.9" r="5"/>
<circle cx="1885.6" cy="975.9" r="5"/>
<circle cx="1886.1" cy="1006.6" r="5"/>
<circle cx="1886.6" cy="975.9" r="5"/>
<circle cx="1887" cy="975.9" r="5"/>
<circle cx="1887.5" cy="1006.6" r="5"/>
<circle cx="1888" cy="1006.6" r="5"/>
<circle cx="1888.5" cy="935.3" r="5"/>
<circle cx="1889" cy="1006.6" r="5"/>
<circle cx="1889.5" cy="975.9" r="5"/>
<circle cx="1890" cy="927.2" r="5"/>
<circle cx="1890.5" cy="957.9" r="5"/>
<circle cx="1891" cy="975.9" r="5"/>
<circle cx="1891.5" cy="975.9" r="5"/>
<circle cx="1892" cy="1006.6" r="5"/>
<circle cx="1892.5" cy="975.9" r="5"/>
<circle cx="1893" cy="975.9" r="5"/>
<circle cx="1893.5" cy="1006.6" r="5"/>
<circle cx="1894" cy="945.2" r="5"/>
<circle cx="1894.5" cy="975.9" r="5"/>
<circle cx="1895" cy="957.9" r="5"/>
<circle cx="1895.5" cy="1006.6" r="5"/>
<circle cx="1896" cy="1006.6" r="5"/>
<circle cx="1896.5" cy="975.9" r="5"/>
<circle cx="1896.9" cy="945.2" r="5"/>
<circle cx="1897.4" cy="957.9" r="5"/>
<circle cx="1897.9" cy="975.9" r="5"/>
<circle cx="1898.4" cy="975.9" r="5"/>
<circle cx="1898.9" cy="975.9" r="5"/>
<circle cx="1899.4" cy="945.2" r="5"/>
<circle cx="1899.9" cy="975.9" r="5"/>
<circle cx="1900.9" cy="975.9" r="5"/>
<circle cx="1901.4" cy="975.9" r="5"/>
<circle cx="1901.9" cy="975.9" r="5"/>
<circle cx="1902.4" cy="975.9" r="5"/>
<circle cx="1902.9" cy="1006.6" r="5"/>
<circle cx="1903.4" cy="957.9" r="5"/>
<circle cx="1904.4" cy="957.9" r="5"/>
<circle cx="1904.9" cy="975.9" r="5"/>
<circle cx="1905.4" cy="1006.6" r="5"/>
<circle cx="1905.9" cy="1006.6" r="5"/>
<circle cx="1906.4" cy="1006.6" r="5"/>
<circle cx="1906.8" cy="945.2" r="5"/>
<circle cx="1907.3" cy="975.9" r="5"/>
<circle cx="1907.8" cy="957.9" r="5"/>
<circle cx="1908.3" cy="1006.6" r="5"/>
<circle cx="1908.8" cy="1006.6" r="5"/>
<circle cx="1909.8" cy="1006.6" r="5"/>
<circle cx="1910.3" cy="957.9" r="5"/>
<circle cx="1910.8" cy="1006.6" r="5"/>
<circle cx="1911.8" cy="975.9" r="5"/>
<circle cx="1912.3" cy="957.9" r="5"/>
<circle cx="1912.8" cy="945.2" r="5"/>
<circle cx="1913.3" cy="957.9" r="5"/>
<circle cx="1913.8" cy="935.3" r="5"/>
<circle cx="1915.8" cy="1006.6" r="5"/>
<circle cx="1916.3" cy="975.9" r="5"/>
<circle cx="1916.7" cy="1006.6" r="5"/>
<circle cx="1917.2" cy="975.9" r="5"/>
<circle cx="1917.7" cy="945.2" r="5"/>
<circle cx="1918.2" cy="957.9" r="5"/>
<circle cx="1918.7" cy="1006.6" r="5"/>
<circle cx="1919.2" cy="975.9" r="5"/>
<circle cx="1919.7" cy="957.9" r="5"/>
<circle cx="1920.2" cy="935.3" r="5"/>
<circle cx="1920.7" cy="1006.6" r="5"/>
<circle cx="1921.2" cy="1006.6" r="5"/>
<circle cx="1922.7" cy="1006.6" r="5"/>
<circle cx="1923.2" cy="1006.6" r="5"/>
<circle cx="1923.7" cy="957.9" r="5"/>
<circle cx="1924.2" cy="1006.6" r="5"/>
<circle cx="1924.7" cy="935.3" r="5"/>
<circle cx="1925.2" cy="945.2" r="5"/>
<circle cx="1925.7" cy="1006.6" r="5"/>
<circle cx="1926.2" cy="975.9" r="5"/>
<circle cx="1926.6" cy="957.9" r="5"/>
<circle cx="1927.1" cy="957.9" r="5"/>
<circle cx="1927.6" cy="975.9" r="5"/>
<circle cx="1928.6" cy="945.2" r="5"/>
<circle cx="1929.1" cy="1006.6" r="5"/>
<circle cx="1929.6" cy="957.9" r="5"/>
<circle cx="1930.1" cy="1006.6" r="5"/>
<circle cx="1930.6" cy="957.9" r="5"/>
<circle cx="1931.6" cy="975.9" r="5"/>
<circle cx="1933.1" cy="1006.6" r="5"/>
<circle cx="1933.6" cy="1006.6" r="5"/>
<circle cx="1934.6" cy="957.9" r="5"/>
<circle cx="1935.1" cy="1006.6" r="5"/>
<circle cx="1936.1" cy="975.9" r="5"/>
<circle cx="1936.5" cy="945.2" r="5"/>
<circle cx="1937" cy="957.9" r="5"/>
<circle cx="1937.5" cy="957.9" r="5"/>
<circle cx="1938" cy="1006.6" r="5"/>
<circle cx="1938.5" cy="975.9" r="5"/>
<circle cx="1939" cy="957.9" r="5"/>
<circle cx="1939.5" cy="1006.6" r="5"/>
<circle cx="1940" cy="1006.6" r="5"/>
<circle cx="1940.5" cy="1006.6" r="5"/>
<circle cx="1941" cy="957.9" r="5"/>
<circle cx="1941.5" cy="957.9" r="5"/>
<circle cx="1942" cy="1006.6" r="5"/>
<circle cx="1942.5" cy="975.9" r="5"/>
<circle cx="1943.5" cy="1006.6" r="5"/>
<circle cx="1944.5" cy="975.9" r="5"/>
<circle cx="1945" cy="1006.6" r="5"/>
<circle cx="1945.5" cy="1006.6" r="5"/>
<circle cx="1946" cy="975.9" r="5"/>
<circle cx="1946.4" cy="1006.6" r="5"/>
<circle cx="1946.9" cy="975.9" r="5"/>
<circle cx="1947.4" cy="975.9" r="5"/>
<circle cx="1947.9" cy="957.9" r="5"/>
<circle cx="1948.4" cy="975.9" r="5"/>
<circle cx="1949.4" cy="975.9" r="5"/>
<circle cx="1949.9" cy="975.9" r="5"/>
<circle cx="1950.9" cy="945.2" r="5"/>
<circle cx="1951.4" cy="927.2" r="5"/>
<circle cx="1951.9" cy="975.9" r="5"/>
<circle cx="1952.4" cy="957.9" r="5"/>
<circle cx="1952.9" cy="1006.6" r="5"/>
<circle cx="1953.4" cy="975.9" r="5"/>
<circle cx="1953.9" cy="957.9" r="5"/>
<circle cx="1954.4" cy="975.9" r="5"/>
<circle cx="1954.9" cy="975.9" r="5"/>
<circle cx="1955.4" cy="975.9" r="5"/>
<circle cx="1955.9" cy="945.2" r="5"/>
<circle cx="1956.3" cy="935.3" r="5"/>
<circle cx="1956.8" cy="957.9" r="5"/>
<circle cx="1957.3" cy="975.9" r="5"/>
<circle cx="1957.8" cy="957.9" r="5"/>
<circle cx="1958.3" cy="1006.6" r="5"/>
<circle cx="1958.8" cy="957.9" r="5"/>
<circle cx="1959.3" cy="1006.6" r="5"/>
<circle cx="1959.8" cy="945.2" r="5"/>
<circle cx="1960.3" cy="945.2" r="5"/>
<circle cx="1960.8" cy="975.9" r="5"/>
<circle cx="1961.3" cy="1006.6" r="5"/>
<circle cx="1961.8" cy="1006.6" r="5"/>
<circle cx="1962.8" cy="935.3" r="5"/>
<circle cx="1963.3" cy="935.3" r="5"/>
<circle cx="1963.8" cy="1006.6" r="5"/>
<circle cx="1964.3" cy="957.9" r="5"/>
<circle cx="1964.8" cy="1006.6" r="5"/>
<circle cx="1965.3" cy="975.9" r="5"/>
<circle cx="1965.8" cy="945.2" r="5"/>
<circle cx="1966.7" cy="975.9" r="5"/>
<circle cx="1967.2" cy="1006.6" r="5"/>
<circle cx="1967.7" cy="975.9" r="5"/>
<circle cx="1968.2" cy="945.2" r="5"/>
<circle cx="1968.7" cy="1006.6" r="5"/>
<circle cx="1969.2" cy="975.9" r="5"/>
<circle cx="1969.7" cy="1006.6" r="5"/>
<circle cx="1970.2" cy="1006.6" r="5"/>
<circle cx="1970.7" cy="975.9" r="5"/>
<circle cx="1971.7" cy="945.2" r="5"/>
<circle cx="1972.2" cy="1006.6" r="5"/>
<circle cx="1972.7" cy="957.9" r="5"/>
<circle cx="1973.2" cy="975.9" r="5"/>
<circle cx="1973.7" cy="1006.6" r="5"/>
<circle cx="1974.2" cy="945.2" r="5"/>
<circle cx="1974.7" cy="1006.6" r="5"/>
<circle cx="1975.2" cy="1006.6" r="5"/>
<circle cx="1975.7" cy="957.9" r="5"/>
<circle cx="1976.1" cy="957.9" r="5"/>
<circle cx="1976.6" cy="935.3" r="5"/>
<circle cx="1977.1" cy="935.3" r="5"/>
<circle cx="1977.6" cy="957.9" r="5"/>
<circle cx="1978.1" cy="1006.6" r="5"/>
<circle cx="1978.6" cy="957.9" r="5"/>
<circle cx="1979.6" cy="975.9" r="5"/>
<circle cx="1980.1" cy="1006.6" r="5"/>
<circle cx="1980.6" cy="1006.6" r="5"/>
</g><g fill="url(#mO)">
<circle cx="1436.6" cy="650.8" r="5"/>
<circle cx="1437.1" cy="649.9" r="5"/>
<circle cx="1437.6" cy="650.6" r="5"/>
<circle cx="1438.1" cy="651.2" r="5"/>
<circle cx="1438.6" cy="651.3" r="5"/>
<circle cx="1439.1" cy="654.6" r="5"/>
<circle cx="1439.6" cy="651.6" r="5"/>
<circle cx="1440.1" cy="654.8" r="5"/>
<circle cx="1440.6" cy="654.9" r="5"/>
<circle cx="1441.1" cy="654.9" r="5"/>
<circle cx="1441.5" cy="653.3" r="5"/>
<circle cx="1442" cy="655.7" r="5"/>
<circle cx="1442.5" cy="656.3" r="5"/>
<circle cx="1443" cy="660" r="5"/>
<circle cx="1443.5" cy="658.6" r="5"/>
<circle cx="1444" cy="659.5" r="5"/>
<circle cx="1444.5" cy="660.1" r="5"/>
<circle cx="1445" cy="660.6" r="5"/>
<circle cx="1445.5" cy="662.3" r="5"/>
<circle cx="1446" cy="661" r="5"/>
<circle cx="1446.5" cy="662.2" r="5"/>
<circle cx="1447" cy="662.1" r="5"/>
<circle cx="1447.5" cy="663.4" r="5"/>
<circle cx="1448" cy="663.6" r="5"/>
<circle cx="1448.5" cy="664.1" r="5"/>
<circle cx="1449" cy="665.1" r="5"/>
<circle cx="1449.5" cy="666.6" r="5"/>
<circle cx="1450" cy="666" r="5"/>
<circle cx="1450.5" cy="664.9" r="5"/>
<circle cx="1451" cy="666.2" r="5"/>
<circle cx="1451.4" cy="666.7" r="5"/>
<circle cx="1451.9" cy="667.6" r="5"/>
<circle cx="1452.4" cy="669" r="5"/>
<circle cx="1452.9" cy="668.2" r="5"/>
<circle cx="1453.4" cy="669.6" r="5"/>
<circle cx="1453.9" cy="671.5" r="5"/>
<circle cx="1454.4" cy="670.6" r="5"/>
<circle cx="1454.9" cy="673.1" r="5"/>
<circle cx="1455.4" cy="670.6" r="5"/>
<circle cx="1455.9" cy="672.7" r="5"/>
<circle cx="1456.4" cy="674.3" r="5"/>
<circle cx="1456.9" cy="672.7" r="5"/>
<circle cx="1457.4" cy="673" r="5"/>
<circle cx="1457.9" cy="673.6" r="5"/>
<circle cx="1458.4" cy="671.8" r="5"/>
<circle cx="1458.9" cy="675.1" r="5"/>
<circle cx="1459.4" cy="674.2" r="5"/>
<circle cx="1459.9" cy="675.8" r="5"/>
<circle cx="1460.4" cy="677.5" r="5"/>
<circle cx="1460.9" cy="675.4" r="5"/>
<circle cx="1461.3" cy="677" r="5"/>
<circle cx="1461.8" cy="679.8" r="5"/>
<circle cx="1462.3" cy="677.6" r="5"/>
<circle cx="1462.8" cy="681.4" r="5"/>
<circle cx="1463.3" cy="677.8" r="5"/>
<circle cx="1463.8" cy="681.4" r="5"/>
<circle cx="1464.3" cy="679.3" r="5"/>
<circle cx="1464.8" cy="681.6" r="5"/>
<circle cx="1465.3" cy="679.3" r="5"/>
<circle cx="1465.8" cy="680.4" r="5"/>
<circle cx="1466.3" cy="682.2" r="5"/>
<circle cx="1466.8" cy="682.1" r="5"/>
<circle cx="1467.3" cy="682.5" r="5"/>
<circle cx="1467.8" cy="682.7" r="5"/>
<circle cx="1468.3" cy="683.5" r="5"/>
<circle cx="1468.8" cy="682.7" r="5"/>
<circle cx="1469.3" cy="684.5" r="5"/>
<circle cx="1469.8" cy="682.6" r="5"/>
<circle cx="1470.3" cy="684.4" r="5"/>
<circle cx="1470.8" cy="687.2" r="5"/>
<circle cx="1471.2" cy="684.4" r="5"/>
<circle cx="1471.7" cy="687.7" r="5"/>
<circle cx="1472.2" cy="688.4" r="5"/>
<circle cx="1472.7" cy="690.2" r="5"/>
<circle cx="1473.2" cy="688.3" r="5"/>
<circle cx="1473.7" cy="688.1" r="5"/>
<circle cx="1474.2" cy="690.2" r="5"/>
<circle cx="1474.7" cy="690.9" r="5"/>
<circle cx="1475.2" cy="692.3" r="5"/>
<circle cx="1475.7" cy="689.8" r="5"/>
<circle cx="1476.2" cy="690.1" r="5"/>
<circle cx="1476.7" cy="691.5" r="5"/>
<circle cx="1477.2" cy="689.6" r="5"/>
<circle cx="1477.7" cy="688.8" r="5"/>
<circle cx="1478.2" cy="691" r="5"/>
<circle cx="1478.7" cy="695.3" r="5"/>
<circle cx="1479.2" cy="689.7" r="5"/>
<circle cx="1479.7" cy="691.8" r="5"/>
<circle cx="1480.2" cy="696.3" r="5"/>
<circle cx="1480.7" cy="691.1" r="5"/>
<circle cx="1481.1" cy="694.8" r="5"/>
<circle cx="1481.6" cy="693.4" r="5"/>
<circle cx="1482.1" cy="695.3" r="5"/>
<circle cx="1482.6" cy="697.7" r="5"/>
<circle cx="1483.1" cy="696.6" r="5"/>
<circle cx="1483.6" cy="694.8" r="5"/>
<circle cx="1484.1" cy="694.5" r="5"/>
<circle cx="1484.6" cy="695.1" r="5"/>
<circle cx="1485.1" cy="696.9" r="5"/>
<circle cx="1485.6" cy="698.6" r="5"/>
<circle cx="1486.1" cy="698.4" r="5"/>
<circle cx="1486.6" cy="697.1" r="5"/>
<circle cx="1487.1" cy="695.4" r="5"/>
<circle cx="1487.6" cy="697.1" r="5"/>
<circle cx="1488.1" cy="699.8" r="5"/>
<circle cx="1488.6" cy="698.3" r="5"/>
<circle cx="1489.1" cy="701" r="5"/>
<circle cx="1489.6" cy="699.8" r="5"/>
<circle cx="1490.1" cy="698.9" r="5"/>
<circle cx="1490.6" cy="698.6" r="5"/>
<circle cx="1491" cy="701.9" r="5"/>
<circle cx="1491.5" cy="700.5" r="5"/>
<circle cx="1492" cy="706.7" r="5"/>
<circle cx="1492.5" cy="700.9" r="5"/>
<circle cx="1493" cy="703" r="5"/>
<circle cx="1493.5" cy="703.1" r="5"/>
<circle cx="1494" cy="702.5" r="5"/>
<circle cx="1494.5" cy="705.4" r="5"/>
<circle cx="1495" cy="703.2" r="5"/>
<circle cx="1495.5" cy="705.2" r="5"/>
<circle cx="1496" cy="705.6" r="5"/>
<circle cx="1496.5" cy="708.1" r="5"/>
<circle cx="1497" cy="705.8" r="5"/>
<circle cx="1497.5" cy="706.2" r="5"/>
<circle cx="1498" cy="706.9" r="5"/>
<circle cx="1498.5" cy="709.1" r="5"/>
<circle cx="1499" cy="707.9" r="5"/>
<circle cx="1499.5" cy="708.7" r="5"/>
<circle cx="1500" cy="709.6" r="5"/>
<circle cx="1500.5" cy="710.2" r="5"/>
<circle cx="1500.9" cy="709.8" r="5"/>
<circle cx="1501.4" cy="710.2" r="5"/>
<circle cx="1501.9" cy="710.3" r="5"/>
<circle cx="1502.4" cy="711.1" r="5"/>
<circle cx="1502.9" cy="708.8" r="5"/>
<circle cx="1503.4" cy="709.8" r="5"/>
<circle cx="1503.9" cy="710.7" r="5"/>
<circle cx="1504.4" cy="714.8" r="5"/>
<circle cx="1504.9" cy="714" r="5"/>
<circle cx="1505.4" cy="711.7" r="5"/>
<circle cx="1505.9" cy="713.9" r="5"/>
<circle cx="1506.4" cy="716.3" r="5"/>
<circle cx="1506.9" cy="712.3" r="5"/>
<circle cx="1507.4" cy="713.9" r="5"/>
<circle cx="1507.9" cy="713" r="5"/>
<circle cx="1508.4" cy="714.4" r="5"/>
<circle cx="1508.9" cy="717.6" r="5"/>
<circle cx="1509.4" cy="713.6" r="5"/>
<circle cx="1509.9" cy="717.2" r="5"/>
<circle cx="1510.4" cy="715.9" r="5"/>
<circle cx="1510.8" cy="715.4" r="5"/>
<circle cx="1511.3" cy="718.7" r="5"/>
<circle cx="1511.8" cy="719.9" r="5"/>
<circle cx="1512.3" cy="716.3" r="5"/>
<circle cx="1512.8" cy="719.5" r="5"/>
<circle cx="1513.3" cy="719.1" r="5"/>
<circle cx="1513.8" cy="718.9" r="5"/>
<circle cx="1514.3" cy="718.9" r="5"/>
<circle cx="1514.8" cy="718" r="5"/>
<circle cx="1515.3" cy="721.7" r="5"/>
<circle cx="1515.8" cy="722.2" r="5"/>
<circle cx="1516.3" cy="720.6" r="5"/>
<circle cx="1516.8" cy="716.8" r="5"/>
<circle cx="1517.3" cy="721.9" r="5"/>
<circle cx="1517.8" cy="721.2" r="5"/>
<circle cx="1518.3" cy="729.5" r="5"/>
<circle cx="1518.8" cy="719.1" r="5"/>
<circle cx="1519.3" cy="720.8" r="5"/>
<circle cx="1519.8" cy="724.5" r="5"/>
<circle cx="1520.3" cy="720.3" r="5"/>
<circle cx="1520.7" cy="723.3" r="5"/>
<circle cx="1521.2" cy="723.7" r="5"/>
<circle cx="1521.7" cy="719.6" r="5"/>
<circle cx="1522.2" cy="721.8" r="5"/>
<circle cx="1522.7" cy="724.3" r="5"/>
<circle cx="1523.2" cy="724.5" r="5"/>
<circle cx="1523.7" cy="726.5" r="5"/>
<circle cx="1524.2" cy="727.5" r="5"/>
<circle cx="1524.7" cy="723.8" r="5"/>
<circle cx="1525.2" cy="727" r="5"/>
<circle cx="1525.7" cy="729.2" r="5"/>
<circle cx="1526.2" cy="727.4" r="5"/>
<circle cx="1526.7" cy="727.3" r="5"/>
<circle cx="1527.2" cy="727.3" r="5"/>
<circle cx="1527.7" cy="727.1" r="5"/>
<circle cx="1528.2" cy="731" r="5"/>
<circle cx="1528.7" cy="733.7" r="5"/>
<circle cx="1529.2" cy="726.3" r="5"/>
<circle cx="1529.7" cy="728.1" r="5"/>
<circle cx="1530.2" cy="727" r="5"/>
<circle cx="1530.6" cy="729" r="5"/>
<circle cx="1531.1" cy="731.6" r="5"/>
<circle cx="1531.6" cy="729.1" r="5"/>
<circle cx="1532.1" cy="730.7" r="5"/>
<circle cx="1532.6" cy="732.7" r="5"/>
<circle cx="1533.1" cy="732.8" r="5"/>
<circle cx="1533.6" cy="734" r="5"/>
<circle cx="1534.1" cy="731.7" r="5"/>
<circle cx="1534.6" cy="736.3" r="5"/>
<circle cx="1535.1" cy="735.9" r="5"/>
<circle cx="1535.6" cy="732.2" r="5"/>
<circle cx="1536.1" cy="734.2" r="5"/>
<circle cx="1536.6" cy="734.8" r="5"/>
<circle cx="1537.1" cy="733.7" r="5"/>
<circle cx="1537.6" cy="734.6" r="5"/>
<circle cx="1538.1" cy="736.4" r="5"/>
<circle cx="1538.6" cy="732.2" r="5"/>
<circle cx="1539.1" cy="735.5" r="5"/>
<circle cx="1539.6" cy="735.4" r="5"/>
<circle cx="1540.1" cy="740.4" r="5"/>
<circle cx="1540.5" cy="735.9" r="5"/>
<circle cx="1541" cy="735.6" r="5"/>
<circle cx="1541.5" cy="736.8" r="5"/>
<circle cx="1542" cy="739.1" r="5"/>
<circle cx="1542.5" cy="738.3" r="5"/>
<circle cx="1543" cy="737.8" r="5"/>
<circle cx="1543.5" cy="738.4" r="5"/>
<circle cx="1544" cy="737.4" r="5"/>
<circle cx="1544.5" cy="739.9" r="5"/>
<circle cx="1545" cy="740" r="5"/>
<circle cx="1545.5" cy="738.8" r="5"/>
<circle cx="1546" cy="744.3" r="5"/>
<circle cx="1546.5" cy="738.7" r="5"/>
<circle cx="1547" cy="742.9" r="5"/>
<circle cx="1547.5" cy="743.5" r="5"/>
<circle cx="1548" cy="741.5" r="5"/>
<circle cx="1548.5" cy="740.8" r="5"/>
<circle cx="1549" cy="740.4" r="5"/>
<circle cx="1549.5" cy="742.8" r="5"/>
<circle cx="1550" cy="744.2" r="5"/>
<circle cx="1550.4" cy="744.4" r="5"/>
<circle cx="1550.9" cy="745.7" r="5"/>
<circle cx="1551.4" cy="743.4" r="5"/>
<circle cx="1551.9" cy="745.4" r="5"/>
<circle cx="1552.4" cy="742.2" r="5"/>
<circle cx="1552.9" cy="744.7" r="5"/>
<circle cx="1553.4" cy="746.7" r="5"/>
<circle cx="1553.9" cy="745.3" r="5"/>
<circle cx="1554.4" cy="743.1" r="5"/>
<circle cx="1554.9" cy="739.6" r="5"/>
<circle cx="1555.4" cy="744.6" r="5"/>
<circle cx="1555.9" cy="745.5" r="5"/>
<circle cx="1556.4" cy="743.8" r="5"/>
<circle cx="1556.9" cy="749.4" r="5"/>
<circle cx="1557.4" cy="746.5" r="5"/>
<circle cx="1557.9" cy="748.3" r="5"/>
<circle cx="1558.4" cy="750.1" r="5"/>
<circle cx="1558.9" cy="746.8" r="5"/>
<circle cx="1559.4" cy="750.9" r="5"/>
<circle cx="1559.9" cy="747.6" r="5"/>
<circle cx="1560.3" cy="752.9" r="5"/>
<circle cx="1560.8" cy="752.9" r="5"/>
<circle cx="1561.3" cy="750.2" r="5"/>
<circle cx="1561.8" cy="753.3" r="5"/>
<circle cx="1562.3" cy="747.7" r="5"/>
<circle cx="1562.8" cy="752.5" r="5"/>
<circle cx="1563.3" cy="749.1" r="5"/>
<circle cx="1563.8" cy="749.5" r="5"/>
<circle cx="1564.3" cy="750.2" r="5"/>
<circle cx="1564.8" cy="750.3" r="5"/>
<circle cx="1565.3" cy="752.7" r="5"/>
<circle cx="1565.8" cy="751.5" r="5"/>
<circle cx="1566.3" cy="754.3" r="5"/>
<circle cx="1566.8" cy="756.7" r="5"/>
<circle cx="1567.3" cy="751.3" r="5"/>
<circle cx="1567.8" cy="750.7" r="5"/>
<circle cx="1568.3" cy="752.5" r="5"/>
<circle cx="1568.8" cy="755.4" r="5"/>
<circle cx="1569.3" cy="753" r="5"/>
<circle cx="1569.8" cy="750.4" r="5"/>
<circle cx="1570.2" cy="752.1" r="5"/>
<circle cx="1570.7" cy="757.3" r="5"/>
<circle cx="1571.2" cy="753.3" r="5"/>
<circle cx="1571.7" cy="758.4" r="5"/>
<circle cx="1572.2" cy="760.8" r="5"/>
<circle cx="1572.7" cy="755.9" r="5"/>
<circle cx="1573.2" cy="758.3" r="5"/>
<circle cx="1573.7" cy="760.1" r="5"/>
<circle cx="1574.2" cy="754.9" r="5"/>
<circle cx="1574.7" cy="753.2" r="5"/>
<circle cx="1575.2" cy="765.7" r="5"/>
<circle cx="1575.7" cy="756.6" r="5"/>
<circle cx="1576.2" cy="758.7" r="5"/>
<circle cx="1576.7" cy="756.4" r="5"/>
<circle cx="1577.2" cy="759.7" r="5"/>
<circle cx="1577.7" cy="758.7" r="5"/>
<circle cx="1578.2" cy="763" r="5"/>
<circle cx="1578.7" cy="754.9" r="5"/>
<circle cx="1579.2" cy="758.1" r="5"/>
<circle cx="1579.7" cy="754.7" r="5"/>
<circle cx="1580.1" cy="762.5" r="5"/>
<circle cx="1580.6" cy="760.8" r="5"/>
<circle cx="1581.1" cy="759.2" r="5"/>
<circle cx="1581.6" cy="762.9" r="5"/>
<circle cx="1582.1" cy="761.3" r="5"/>
<circle cx="1582.6" cy="764" r="5"/>
<circle cx="1583.1" cy="761.3" r="5"/>
<circle cx="1583.6" cy="763.5" r="5"/>
<circle cx="1584.1" cy="756.5" r="5"/>
<circle cx="1584.6" cy="765.2" r="5"/>
<circle cx="1585.1" cy="769" r="5"/>
<circle cx="1585.6" cy="764.5" r="5"/>
<circle cx="1586.1" cy="761.8" r="5"/>
<circle cx="1586.6" cy="767.8" r="5"/>
<circle cx="1587.1" cy="770.1" r="5"/>
<circle cx="1587.6" cy="764.5" r="5"/>
<circle cx="1588.1" cy="768.8" r="5"/>
<circle cx="1588.6" cy="767" r="5"/>
<circle cx="1589.1" cy="767" r="5"/>
<circle cx="1589.6" cy="765.4" r="5"/>
<circle cx="1590" cy="764.1" r="5"/>
<circle cx="1590.5" cy="769.6" r="5"/>
<circle cx="1591" cy="769.5" r="5"/>
<circle cx="1591.5" cy="769.1" r="5"/>
<circle cx="1592" cy="767.3" r="5"/>
<circle cx="1592.5" cy="766.2" r="5"/>
<circle cx="1593" cy="766.7" r="5"/>
<circle cx="1593.5" cy="770.5" r="5"/>
<circle cx="1594" cy="766.1" r="5"/>
<circle cx="1594.5" cy="771.4" r="5"/>
<circle cx="1595" cy="776.3" r="5"/>
<circle cx="1595.5" cy="772.1" r="5"/>
<circle cx="1596" cy="764.9" r="5"/>
<circle cx="1596.5" cy="766.6" r="5"/>
<circle cx="1597" cy="768.1" r="5"/>
<circle cx="1597.5" cy="771.1" r="5"/>
<circle cx="1598" cy="769.2" r="5"/>
<circle cx="1598.5" cy="779.3" r="5"/>
<circle cx="1599" cy="773.3" r="5"/>
<circle cx="1599.5" cy="771" r="5"/>
<circle cx="1599.9" cy="779.9" r="5"/>
<circle cx="1600.4" cy="778.3" r="5"/>
<circle cx="1600.9" cy="773.1" r="5"/>
<circle cx="1601.4" cy="773.6" r="5"/>
<circle cx="1601.9" cy="770.8" r="5"/>
<circle cx="1602.4" cy="776.9" r="5"/>
<circle cx="1602.9" cy="778.6" r="5"/>
<circle cx="1603.4" cy="766.1" r="5"/>
<circle cx="1603.9" cy="785.7" r="5"/>
<circle cx="1604.4" cy="776.4" r="5"/>
<circle cx="1604.9" cy="775.3" r="5"/>
<circle cx="1605.4" cy="777" r="5"/>
<circle cx="1605.9" cy="776.1" r="5"/>
<circle cx="1606.4" cy="775.9" r="5"/>
<circle cx="1606.9" cy="781.6" r="5"/>
<circle cx="1607.4" cy="778.1" r="5"/>
<circle cx="1607.9" cy="779.1" r="5"/>
<circle cx="1608.4" cy="776.6" r="5"/>
<circle cx="1608.9" cy="780" r="5"/>
<circle cx="1609.4" cy="775.7" r="5"/>
<circle cx="1609.8" cy="774.4" r="5"/>
<circle cx="1610.3" cy="777.7" r="5"/>
<circle cx="1610.8" cy="783.1" r="5"/>
<circle cx="1611.3" cy="777.8" r="5"/>
<circle cx="1611.8" cy="785" r="5"/>
<circle cx="1612.3" cy="784.8" r="5"/>
<circle cx="1612.8" cy="777.9" r="5"/>
<circle cx="1613.3" cy="780" r="5"/>
<circle cx="1613.8" cy="781.8" r="5"/>
<circle cx="1614.3" cy="783.8" r="5"/>
<circle cx="1614.8" cy="778.6" r="5"/>
<circle cx="1615.3" cy="776.6" r="5"/>
<circle cx="1615.8" cy="780.6" r="5"/>
<circle cx="1616.3" cy="789.5" r="5"/>
<circle cx="1616.8" cy="785.9" r="5"/>
<circle cx="1617.3" cy="782.6" r="5"/>
<circle cx="1617.8" cy="785.1" r="5"/>
<circle cx="1618.3" cy="784.9" r="5"/>
<circle cx="1618.8" cy="785.6" r="5"/>
<circle cx="1619.3" cy="784.5" r="5"/>
<circle cx="1619.7" cy="783.5" r="5"/>
<circle cx="1620.2" cy="786.7" r="5"/>
<circle cx="1620.7" cy="783.2" r="5"/>
<circle cx="1621.2" cy="781.3" r="5"/>
<circle cx="1621.7" cy="784" r="5"/>
<circle cx="1622.2" cy="786.9" r="5"/>
<circle cx="1622.7" cy="789.4" r="5"/>
<circle cx="1623.2" cy="788.1" r="5"/>
<circle cx="1623.7" cy="785.4" r="5"/>
<circle cx="1624.2" cy="786.1" r="5"/>
<circle cx="1624.7" cy="787.2" r="5"/>
<circle cx="1625.2" cy="786.9" r="5"/>
<circle cx="1625.7" cy="783.7" r="5"/>
<circle cx="1626.2" cy="792.2" r="5"/>
<circle cx="1626.7" cy="790.5" r="5"/>
<circle cx="1627.2" cy="788.5" r="5"/>
<circle cx="1627.7" cy="794.7" r="5"/>
<circle cx="1628.2" cy="791.2" r="5"/>
<circle cx="1628.7" cy="785.9" r="5"/>
<circle cx="1629.2" cy="788.3" r="5"/>
<circle cx="1629.6" cy="792.5" r="5"/>
<circle cx="1630.1" cy="783" r="5"/>
<circle cx="1630.6" cy="797.1" r="5"/>
<circle cx="1631.1" cy="791.7" r="5"/>
<circle cx="1631.6" cy="788.9" r="5"/>
<circle cx="1632.1" cy="795" r="5"/>
<circle cx="1632.6" cy="791.1" r="5"/>
<circle cx="1633.1" cy="790" r="5"/>
<circle cx="1633.6" cy="790.9" r="5"/>
<circle cx="1634.1" cy="793.4" r="5"/>
<circle cx="1634.6" cy="791.4" r="5"/>
<circle cx="1635.1" cy="789.2" r="5"/>
<circle cx="1635.6" cy="788.4" r="5"/>
<circle cx="1636.1" cy="793.1" r="5"/>
<circle cx="1636.6" cy="795.8" r="5"/>
<circle cx="1637.1" cy="788.7" r="5"/>
<circle cx="1637.6" cy="790.9" r="5"/>
<circle cx="1638.1" cy="801" r="5"/>
<circle cx="1638.6" cy="793" r="5"/>
<circle cx="1639.1" cy="796.8" r="5"/>
<circle cx="1639.5" cy="792.7" r="5"/>
<circle cx="1640" cy="790" r="5"/>
<circle cx="1640.5" cy="800.1" r="5"/>
<circle cx="1641" cy="798" r="5"/>
<circle cx="1641.5" cy="792.9" r="5"/>
<circle cx="1642" cy="790.9" r="5"/>
<circle cx="1642.5" cy="795.3" r="5"/>
<circle cx="1643" cy="792.7" r="5"/>
<circle cx="1643.5" cy="794.6" r="5"/>
<circle cx="1644" cy="797.9" r="5"/>
<circle cx="1644.5" cy="792.9" r="5"/>
<circle cx="1645" cy="797.7" r="5"/>
<circle cx="1645.5" cy="801.8" r="5"/>
<circle cx="1646" cy="793.4" r="5"/>
<circle cx="1646.5" cy="802" r="5"/>
<circle cx="1647" cy="799.8" r="5"/>
<circle cx="1647.5" cy="791.8" r="5"/>
<circle cx="1648" cy="796.6" r="5"/>
<circle cx="1648.5" cy="794.8" r="5"/>
<circle cx="1649" cy="794.7" r="5"/>
<circle cx="1649.4" cy="801.9" r="5"/>
<circle cx="1649.9" cy="806" r="5"/>
<circle cx="1650.4" cy="795.3" r="5"/>
<circle cx="1650.9" cy="802.5" r="5"/>
<circle cx="1651.4" cy="803.8" r="5"/>
<circle cx="1651.9" cy="807.1" r="5"/>
<circle cx="1652.4" cy="799.8" r="5"/>
<circle cx="1652.9" cy="809.1" r="5"/>
<circle cx="1653.4" cy="807.1" r="5"/>
<circle cx="1653.9" cy="798.9" r="5"/>
<circle cx="1654.4" cy="806.6" r="5"/>
<circle cx="1654.9" cy="802.2" r="5"/>
<circle cx="1655.4" cy="804" r="5"/>
<circle cx="1655.9" cy="811.7" r="5"/>
<circle cx="1656.4" cy="798" r="5"/>
<circle cx="1656.9" cy="801.7" r="5"/>
<circle cx="1657.4" cy="799.2" r="5"/>
<circle cx="1657.9" cy="804.8" r="5"/>
<circle cx="1658.4" cy="802.7" r="5"/>
<circle cx="1658.9" cy="814.5" r="5"/>
<circle cx="1659.3" cy="798.5" r="5"/>
<circle cx="1659.8" cy="799.1" r="5"/>
<circle cx="1660.3" cy="817.6" r="5"/>
<circle cx="1660.8" cy="802.1" r="5"/>
<circle cx="1661.3" cy="809.2" r="5"/>
<circle cx="1661.8" cy="804.4" r="5"/>
<circle cx="1662.3" cy="805.3" r="5"/>
<circle cx="1662.8" cy="807.8" r="5"/>
<circle cx="1663.3" cy="809" r="5"/>
<circle cx="1663.8" cy="817.4" r="5"/>
<circle cx="1664.3" cy="800.7" r="5"/>
<circle cx="1664.8" cy="822.1" r="5"/>
<circle cx="1665.3" cy="800.5" r="5"/>
<circle cx="1665.8" cy="803.2" r="5"/>
<circle cx="1666.3" cy="802.7" r="5"/>
<circle cx="1666.8" cy="812.2" r="5"/>
<circle cx="1667.3" cy="815.4" r="5"/>
<circle cx="1667.8" cy="807.1" r="5"/>
<circle cx="1668.3" cy="803.3" r="5"/>
<circle cx="1668.8" cy="800.6" r="5"/>
<circle cx="1669.2" cy="806.8" r="5"/>
<circle cx="1669.7" cy="805.1" r="5"/>
<circle cx="1670.2" cy="809.6" r="5"/>
<circle cx="1670.7" cy="815.6" r="5"/>
<circle cx="1671.2" cy="807.9" r="5"/>
<circle cx="1671.7" cy="805.1" r="5"/>
<circle cx="1672.2" cy="807.8" r="5"/>
<circle cx="1672.7" cy="815.9" r="5"/>
<circle cx="1673.2" cy="803.2" r="5"/>
<circle cx="1673.7" cy="811.1" r="5"/>
<circle cx="1674.2" cy="809.9" r="5"/>
<circle cx="1674.7" cy="812.5" r="5"/>
<circle cx="1675.2" cy="828.5" r="5"/>
<circle cx="1675.7" cy="816.9" r="5"/>
<circle cx="1676.2" cy="814.9" r="5"/>
<circle cx="1676.7" cy="805.3" r="5"/>
<circle cx="1677.2" cy="810.7" r="5"/>
<circle cx="1677.7" cy="818.5" r="5"/>
<circle cx="1678.2" cy="825.5" r="5"/>
<circle cx="1678.7" cy="822.1" r="5"/>
<circle cx="1679.1" cy="813" r="5"/>
<circle cx="1679.6" cy="809" r="5"/>
<circle cx="1680.1" cy="824.4" r="5"/>
<circle cx="1680.6" cy="821.3" r="5"/>
<circle cx="1681.1" cy="827.7" r="5"/>
<circle cx="1681.6" cy="822.8" r="5"/>
<circle cx="1682.1" cy="820.7" r="5"/>
<circle cx="1682.6" cy="812.2" r="5"/>
<circle cx="1683.1" cy="823.1" r="5"/>
<circle cx="1683.6" cy="819.3" r="5"/>
<circle cx="1684.1" cy="817.4" r="5"/>
<circle cx="1684.6" cy="825.3" r="5"/>
<circle cx="1685.1" cy="822.3" r="5"/>
<circle cx="1685.6" cy="807.6" r="5"/>
<circle cx="1686.1" cy="834.3" r="5"/>
<circle cx="1686.6" cy="813.8" r="5"/>
<circle cx="1687.1" cy="818.2" r="5"/>
<circle cx="1687.6" cy="815.9" r="5"/>
<circle cx="1688.1" cy="814.2" r="5"/>
<circle cx="1688.6" cy="814.4" r="5"/>
<circle cx="1689" cy="822.8" r="5"/>
<circle cx="1689.5" cy="819.1" r="5"/>
<circle cx="1690" cy="816.7" r="5"/>
<circle cx="1690.5" cy="821.3" r="5"/>
<circle cx="1691" cy="812.6" r="5"/>
<circle cx="1691.5" cy="817.6" r="5"/>
<circle cx="1692" cy="817.9" r="5"/>
<circle cx="1692.5" cy="818.9" r="5"/>
<circle cx="1693" cy="824.9" r="5"/>
<circle cx="1693.5" cy="818.9" r="5"/>
<circle cx="1694" cy="828" r="5"/>
<circle cx="1694.5" cy="820.7" r="5"/>
<circle cx="1695" cy="812.3" r="5"/>
<circle cx="1695.5" cy="834.5" r="5"/>
<circle cx="1696" cy="807.2" r="5"/>
<circle cx="1696.5" cy="827.3" r="5"/>
<circle cx="1697" cy="834" r="5"/>
<circle cx="1697.5" cy="828.9" r="5"/>
<circle cx="1698" cy="820.5" r="5"/>
<circle cx="1698.5" cy="821.5" r="5"/>
<circle cx="1698.9" cy="827.6" r="5"/>
<circle cx="1699.4" cy="828.9" r="5"/>
<circle cx="1699.9" cy="822.1" r="5"/>
<circle cx="1700.4" cy="827.9" r="5"/>
<circle cx="1700.9" cy="814.7" r="5"/>
<circle cx="1701.4" cy="822.5" r="5"/>
<circle cx="1701.9" cy="809.6" r="5"/>
<circle cx="1702.4" cy="821.8" r="5"/>
<circle cx="1702.9" cy="827.9" r="5"/>
<circle cx="1703.4" cy="834.2" r="5"/>
<circle cx="1703.9" cy="836.9" r="5"/>
<circle cx="1704.4" cy="831.4" r="5"/>
<circle cx="1704.9" cy="839" r="5"/>
<circle cx="1705.4" cy="821.5" r="5"/>
<circle cx="1705.9" cy="825.5" r="5"/>
<circle cx="1706.4" cy="831.1" r="5"/>
<circle cx="1706.9" cy="837.7" r="5"/>
<circle cx="1707.4" cy="842.6" r="5"/>
<circle cx="1707.9" cy="840.8" r="5"/>
<circle cx="1708.4" cy="817.2" r="5"/>
<circle cx="1708.8" cy="828.5" r="5"/>
<circle cx="1709.3" cy="831.9" r="5"/>
<circle cx="1709.8" cy="835.4" r="5"/>
<circle cx="1710.3" cy="829.4" r="5"/>
<circle cx="1710.8" cy="830.2" r="5"/>
<circle cx="1711.3" cy="836.3" r="5"/>
<circle cx="1711.8" cy="828.5" r="5"/>
<circle cx="1712.3" cy="849.1" r="5"/>
<circle cx="1712.8" cy="825" r="5"/>
<circle cx="1713.3" cy="834.1" r="5"/>
<circle cx="1713.8" cy="831.3" r="5"/>
<circle cx="1714.3" cy="830.2" r="5"/>
<circle cx="1714.8" cy="825.8" r="5"/>
<circle cx="1715.3" cy="833.3" r="5"/>
<circle cx="1715.8" cy="834.4" r="5"/>
<circle cx="1716.3" cy="838.4" r="5"/>
<circle cx="1716.8" cy="830.9" r="5"/>
<circle cx="1717.3" cy="829.8" r="5"/>
<circle cx="1717.8" cy="836" r="5"/>
<circle cx="1718.3" cy="830.6" r="5"/>
<circle cx="1718.7" cy="829.5" r="5"/>
<circle cx="1719.2" cy="832.7" r="5"/>
<circle cx="1719.7" cy="837" r="5"/>
<circle cx="1720.2" cy="841.7" r="5"/>
<circle cx="1720.7" cy="831.8" r="5"/>
<circle cx="1721.2" cy="846.6" r="5"/>
<circle cx="1721.7" cy="830.1" r="5"/>
<circle cx="1722.2" cy="839.5" r="5"/>
<circle cx="1722.7" cy="835.3" r="5"/>
<circle cx="1723.2" cy="832.1" r="5"/>
<circle cx="1723.7" cy="849.1" r="5"/>
<circle cx="1724.2" cy="836.5" r="5"/>
<circle cx="1724.7" cy="849.1" r="5"/>
<circle cx="1725.2" cy="844.3" r="5"/>
<circle cx="1725.7" cy="837.7" r="5"/>
<circle cx="1726.2" cy="826.1" r="5"/>
<circle cx="1726.7" cy="833.4" r="5"/>
<circle cx="1727.2" cy="851.7" r="5"/>
<circle cx="1727.7" cy="839.9" r="5"/>
<circle cx="1728.2" cy="839.8" r="5"/>
<circle cx="1728.6" cy="843.2" r="5"/>
<circle cx="1729.1" cy="838.2" r="5"/>
<circle cx="1729.6" cy="833.3" r="5"/>
<circle cx="1730.1" cy="834.6" r="5"/>
<circle cx="1730.6" cy="834" r="5"/>
<circle cx="1731.1" cy="834.8" r="5"/>
<circle cx="1731.6" cy="851.7" r="5"/>
<circle cx="1732.1" cy="834" r="5"/>
<circle cx="1732.6" cy="829.3" r="5"/>
<circle cx="1733.1" cy="823.4" r="5"/>
<circle cx="1733.6" cy="844.3" r="5"/>
<circle cx="1734.1" cy="838.4" r="5"/>
<circle cx="1734.6" cy="839.9" r="5"/>
<circle cx="1735.1" cy="847.9" r="5"/>
<circle cx="1735.6" cy="837.7" r="5"/>
<circle cx="1736.1" cy="838.8" r="5"/>
<circle cx="1736.6" cy="840.6" r="5"/>
<circle cx="1737.1" cy="830.7" r="5"/>
<circle cx="1737.6" cy="850.4" r="5"/>
<circle cx="1738.1" cy="835.7" r="5"/>
<circle cx="1738.5" cy="843.2" r="5"/>
<circle cx="1739" cy="840.9" r="5"/>
<circle cx="1739.5" cy="850.4" r="5"/>
<circle cx="1740" cy="847.9" r="5"/>
<circle cx="1740.5" cy="855.9" r="5"/>
<circle cx="1741" cy="836.6" r="5"/>
<circle cx="1741.5" cy="862.3" r="5"/>
<circle cx="1742" cy="843" r="5"/>
<circle cx="1742.5" cy="850.4" r="5"/>
<circle cx="1743" cy="841.3" r="5"/>
<circle cx="1743.5" cy="836.8" r="5"/>
<circle cx="1744" cy="838.8" r="5"/>
<circle cx="1744.5" cy="850.4" r="5"/>
<circle cx="1745" cy="838.4" r="5"/>
<circle cx="1745.5" cy="850.4" r="5"/>
<circle cx="1746" cy="831.7" r="5"/>
<circle cx="1746.5" cy="842.2" r="5"/>
<circle cx="1747" cy="829.3" r="5"/>
<circle cx="1747.5" cy="836.9" r="5"/>
<circle cx="1748" cy="841.3" r="5"/>
<circle cx="1748.4" cy="864" r="5"/>
<circle cx="1748.9" cy="859" r="5"/>
<circle cx="1749.4" cy="850.4" r="5"/>
<circle cx="1749.9" cy="845.5" r="5"/>
<circle cx="1750.4" cy="850.4" r="5"/>
<circle cx="1750.9" cy="853.1" r="5"/>
<circle cx="1751.4" cy="849.1" r="5"/>
<circle cx="1751.9" cy="854.5" r="5"/>
<circle cx="1752.4" cy="853.1" r="5"/>
<circle cx="1752.9" cy="834.5" r="5"/>
<circle cx="1753.4" cy="838.7" r="5"/>
<circle cx="1753.9" cy="846.6" r="5"/>
<circle cx="1754.4" cy="840.9" r="5"/>
<circle cx="1754.9" cy="850.4" r="5"/>
<circle cx="1755.4" cy="854.5" r="5"/>
<circle cx="1755.9" cy="847.9" r="5"/>
<circle cx="1756.4" cy="842.1" r="5"/>
<circle cx="1756.9" cy="857.4" r="5"/>
<circle cx="1757.4" cy="850.4" r="5"/>
<circle cx="1757.9" cy="850.4" r="5"/>
<circle cx="1758.3" cy="857.4" r="5"/>
<circle cx="1758.8" cy="846.6" r="5"/>
<circle cx="1759.3" cy="860.6" r="5"/>
<circle cx="1759.8" cy="840.6" r="5"/>
<circle cx="1760.3" cy="857.4" r="5"/>
<circle cx="1760.8" cy="844.3" r="5"/>
<circle cx="1761.3" cy="855.9" r="5"/>
<circle cx="1761.8" cy="849.1" r="5"/>
<circle cx="1762.3" cy="843.2" r="5"/>
<circle cx="1762.8" cy="857.4" r="5"/>
<circle cx="1763.3" cy="847.9" r="5"/>
<circle cx="1763.8" cy="860.6" r="5"/>
<circle cx="1764.3" cy="847.9" r="5"/>
<circle cx="1764.8" cy="859" r="5"/>
<circle cx="1765.3" cy="862.3" r="5"/>
<circle cx="1765.8" cy="850.4" r="5"/>
<circle cx="1766.3" cy="857.4" r="5"/>
<circle cx="1766.8" cy="867.7" r="5"/>
<circle cx="1767.3" cy="847.9" r="5"/>
<circle cx="1767.8" cy="862.3" r="5"/>
<circle cx="1768.2" cy="853.1" r="5"/>
<circle cx="1768.7" cy="869.7" r="5"/>
<circle cx="1769.2" cy="840.7" r="5"/>
<circle cx="1769.7" cy="843.2" r="5"/>
<circle cx="1770.2" cy="871.7" r="5"/>
<circle cx="1770.7" cy="865.8" r="5"/>
<circle cx="1771.2" cy="849.1" r="5"/>
<circle cx="1771.7" cy="859" r="5"/>
<circle cx="1772.2" cy="871.7" r="5"/>
<circle cx="1772.7" cy="859" r="5"/>
<circle cx="1773.2" cy="847.9" r="5"/>
<circle cx="1773.7" cy="847.9" r="5"/>
<circle cx="1774.2" cy="854.5" r="5"/>
<circle cx="1774.7" cy="865.8" r="5"/>
<circle cx="1775.2" cy="862.3" r="5"/>
<circle cx="1775.7" cy="853.1" r="5"/>
<circle cx="1776.2" cy="854.5" r="5"/>
<circle cx="1776.7" cy="843.2" r="5"/>
<circle cx="1777.2" cy="846.6" r="5"/>
<circle cx="1777.7" cy="855.9" r="5"/>
<circle cx="1778.1" cy="860.6" r="5"/>
<circle cx="1778.6" cy="865.8" r="5"/>
<circle cx="1779.1" cy="862.3" r="5"/>
<circle cx="1779.6" cy="889.7" r="5"/>
<circle cx="1780.1" cy="864" r="5"/>
<circle cx="1780.6" cy="862.3" r="5"/>
<circle cx="1781.1" cy="854.5" r="5"/>
<circle cx="1781.6" cy="865.8" r="5"/>
<circle cx="1782.1" cy="867.7" r="5"/>
<circle cx="1782.6" cy="860.6" r="5"/>
<circle cx="1783.1" cy="862.3" r="5"/>
<circle cx="1783.6" cy="864" r="5"/>
<circle cx="1784.1" cy="855.9" r="5"/>
<circle cx="1784.6" cy="845.5" r="5"/>
<circle cx="1785.1" cy="859" r="5"/>
<circle cx="1785.6" cy="862.3" r="5"/>
<circle cx="1786.1" cy="867.7" r="5"/>
<circle cx="1786.6" cy="862.3" r="5"/>
<circle cx="1787.1" cy="862.3" r="5"/>
<circle cx="1787.6" cy="859" r="5"/>
<circle cx="1788" cy="860.6" r="5"/>
<circle cx="1788.5" cy="881.1" r="5"/>
<circle cx="1789" cy="867.7" r="5"/>
<circle cx="1789.5" cy="860.6" r="5"/>
<circle cx="1790" cy="850.4" r="5"/>
<circle cx="1790.5" cy="853.1" r="5"/>
<circle cx="1791" cy="878.6" r="5"/>
<circle cx="1791.5" cy="876.2" r="5"/>
<circle cx="1792" cy="853.1" r="5"/>
<circle cx="1792.5" cy="851.7" r="5"/>
<circle cx="1793" cy="873.9" r="5"/>
<circle cx="1793.5" cy="867.7" r="5"/>
<circle cx="1794" cy="865.8" r="5"/>
<circle cx="1794.5" cy="867.7" r="5"/>
<circle cx="1795" cy="851.7" r="5"/>
<circle cx="1795.5" cy="846.6" r="5"/>
<circle cx="1796" cy="871.7" r="5"/>
<circle cx="1796.5" cy="869.7" r="5"/>
<circle cx="1797" cy="865.8" r="5"/>
<circle cx="1797.5" cy="864" r="5"/>
<circle cx="1797.9" cy="881.1" r="5"/>
<circle cx="1798.4" cy="864" r="5"/>
<circle cx="1798.9" cy="865.8" r="5"/>
<circle cx="1799.4" cy="855.9" r="5"/>
<circle cx="1799.9" cy="871.7" r="5"/>
<circle cx="1800.4" cy="876.2" r="5"/>
<circle cx="1800.9" cy="871.7" r="5"/>
<circle cx="1801.4" cy="851.7" r="5"/>
<circle cx="1801.9" cy="873.9" r="5"/>
<circle cx="1802.4" cy="871.7" r="5"/>
<circle cx="1802.9" cy="869.7" r="5"/>
<circle cx="1803.4" cy="886.6" r="5"/>
<circle cx="1803.9" cy="854.5" r="5"/>
<circle cx="1804.4" cy="862.3" r="5"/>
<circle cx="1804.9" cy="862.3" r="5"/>
<circle cx="1805.4" cy="851.7" r="5"/>
<circle cx="1805.9" cy="862.3" r="5"/>
<circle cx="1806.4" cy="869.7" r="5"/>
<circle cx="1806.9" cy="881.1" r="5"/>
<circle cx="1807.4" cy="864" r="5"/>
<circle cx="1807.8" cy="878.6" r="5"/>
<circle cx="1808.3" cy="883.8" r="5"/>
<circle cx="1808.8" cy="883.8" r="5"/>
<circle cx="1809.3" cy="865.8" r="5"/>
<circle cx="1809.8" cy="883.8" r="5"/>
<circle cx="1810.3" cy="881.1" r="5"/>
<circle cx="1810.8" cy="878.6" r="5"/>
<circle cx="1811.3" cy="881.1" r="5"/>
<circle cx="1811.8" cy="873.9" r="5"/>
<circle cx="1812.3" cy="867.7" r="5"/>
<circle cx="1812.8" cy="889.7" r="5"/>
<circle cx="1813.3" cy="873.9" r="5"/>
<circle cx="1813.8" cy="857.4" r="5"/>
<circle cx="1814.3" cy="869.7" r="5"/>
<circle cx="1814.8" cy="857.4" r="5"/>
<circle cx="1815.3" cy="876.2" r="5"/>
<circle cx="1815.8" cy="878.6" r="5"/>
<circle cx="1816.3" cy="873.9" r="5"/>
<circle cx="1816.8" cy="878.6" r="5"/>
<circle cx="1817.3" cy="886.6" r="5"/>
<circle cx="1817.7" cy="881.1" r="5"/>
<circle cx="1818.2" cy="871.7" r="5"/>
<circle cx="1818.7" cy="873.9" r="5"/>
<circle cx="1819.2" cy="893" r="5"/>
<circle cx="1819.7" cy="865.8" r="5"/>
<circle cx="1820.2" cy="869.7" r="5"/>
<circle cx="1820.7" cy="873.9" r="5"/>
<circle cx="1821.2" cy="876.2" r="5"/>
<circle cx="1821.7" cy="867.7" r="5"/>
<circle cx="1822.2" cy="896.5" r="5"/>
<circle cx="1822.7" cy="883.8" r="5"/>
<circle cx="1823.2" cy="878.6" r="5"/>
<circle cx="1823.7" cy="864" r="5"/>
<circle cx="1824.2" cy="881.1" r="5"/>
<circle cx="1824.7" cy="864" r="5"/>
<circle cx="1825.2" cy="865.8" r="5"/>
<circle cx="1825.7" cy="873.9" r="5"/>
<circle cx="1826.2" cy="862.3" r="5"/>
<circle cx="1826.7" cy="886.6" r="5"/>
<circle cx="1827.2" cy="878.6" r="5"/>
<circle cx="1827.6" cy="883.8" r="5"/>
<circle cx="1828.1" cy="900.4" r="5"/>
<circle cx="1828.6" cy="869.7" r="5"/>
<circle cx="1829.1" cy="878.6" r="5"/>
<circle cx="1829.6" cy="889.7" r="5"/>
<circle cx="1830.1" cy="886.6" r="5"/>
<circle cx="1830.6" cy="886.6" r="5"/>
<circle cx="1831.1" cy="881.1" r="5"/>
<circle cx="1831.6" cy="871.7" r="5"/>
<circle cx="1832.1" cy="878.6" r="5"/>
<circle cx="1832.6" cy="876.2" r="5"/>
<circle cx="1833.1" cy="883.8" r="5"/>
<circle cx="1833.6" cy="878.6" r="5"/>
<circle cx="1834.1" cy="873.9" r="5"/>
<circle cx="1834.6" cy="878.6" r="5"/>
<circle cx="1835.1" cy="889.7" r="5"/>
<circle cx="1835.6" cy="871.7" r="5"/>
<circle cx="1836.1" cy="862.3" r="5"/>
<circle cx="1836.6" cy="871.7" r="5"/>
<circle cx="1837.1" cy="889.7" r="5"/>
<circle cx="1837.5" cy="886.6" r="5"/>
<circle cx="1838" cy="889.7" r="5"/>
<circle cx="1838.5" cy="862.3" r="5"/>
<circle cx="1839" cy="864" r="5"/>
<circle cx="1839.5" cy="896.5" r="5"/>
<circle cx="1840" cy="881.1" r="5"/>
<circle cx="1840.5" cy="909.3" r="5"/>
<circle cx="1841" cy="896.5" r="5"/>
<circle cx="1841.5" cy="883.8" r="5"/>
<circle cx="1842" cy="883.8" r="5"/>
<circle cx="1842.5" cy="876.2" r="5"/>
<circle cx="1843" cy="886.6" r="5"/>
<circle cx="1843.5" cy="873.9" r="5"/>
<circle cx="1844" cy="878.6" r="5"/>
<circle cx="1844.5" cy="883.8" r="5"/>
<circle cx="1845" cy="876.2" r="5"/>
<circle cx="1845.5" cy="873.9" r="5"/>
<circle cx="1846" cy="927.2" r="5"/>
<circle cx="1846.5" cy="876.2" r="5"/>
<circle cx="1847" cy="883.8" r="5"/>
<circle cx="1847.4" cy="881.1" r="5"/>
<circle cx="1847.9" cy="886.6" r="5"/>
<circle cx="1848.4" cy="904.6" r="5"/>
<circle cx="1848.9" cy="865.8" r="5"/>
<circle cx="1849.4" cy="886.6" r="5"/>
<circle cx="1849.9" cy="889.7" r="5"/>
<circle cx="1850.4" cy="873.9" r="5"/>
<circle cx="1850.9" cy="904.6" r="5"/>
<circle cx="1851.4" cy="876.2" r="5"/>
<circle cx="1851.9" cy="881.1" r="5"/>
<circle cx="1852.4" cy="900.4" r="5"/>
<circle cx="1852.9" cy="883.8" r="5"/>
<circle cx="1853.4" cy="900.4" r="5"/>
<circle cx="1853.9" cy="886.6" r="5"/>
<circle cx="1854.4" cy="881.1" r="5"/>
<circle cx="1854.9" cy="886.6" r="5"/>
<circle cx="1855.4" cy="896.5" r="5"/>
<circle cx="1855.9" cy="927.2" r="5"/>
<circle cx="1856.4" cy="871.7" r="5"/>
<circle cx="1856.9" cy="896.5" r="5"/>
<circle cx="1857.3" cy="881.1" r="5"/>
<circle cx="1857.8" cy="873.9" r="5"/>
<circle cx="1858.3" cy="889.7" r="5"/>
<circle cx="1858.8" cy="889.7" r="5"/>
<circle cx="1859.3" cy="896.5" r="5"/>
<circle cx="1859.8" cy="893" r="5"/>
<circle cx="1860.3" cy="900.4" r="5"/>
<circle cx="1860.8" cy="893" r="5"/>
<circle cx="1861.3" cy="878.6" r="5"/>
<circle cx="1861.8" cy="883.8" r="5"/>
<circle cx="1862.3" cy="889.7" r="5"/>
<circle cx="1862.8" cy="881.1" r="5"/>
<circle cx="1863.3" cy="881.1" r="5"/>
<circle cx="1863.8" cy="881.1" r="5"/>
<circle cx="1864.3" cy="896.5" r="5"/>
<circle cx="1864.8" cy="909.3" r="5"/>
<circle cx="1865.3" cy="889.7" r="5"/>
<circle cx="1865.8" cy="893" r="5"/>
<circle cx="1866.3" cy="881.1" r="5"/>
<circle cx="1866.8" cy="893" r="5"/>
<circle cx="1867.2" cy="883.8" r="5"/>
<circle cx="1867.7" cy="920.4" r="5"/>
<circle cx="1868.2" cy="900.4" r="5"/>
<circle cx="1868.7" cy="904.6" r="5"/>
<circle cx="1869.2" cy="871.7" r="5"/>
<circle cx="1869.7" cy="878.6" r="5"/>
<circle cx="1870.2" cy="886.6" r="5"/>
<circle cx="1870.7" cy="914.5" r="5"/>
<circle cx="1871.2" cy="896.5" r="5"/>
<circle cx="1871.7" cy="886.6" r="5"/>
<circle cx="1872.2" cy="883.8" r="5"/>
<circle cx="1872.7" cy="893" r="5"/>
<circle cx="1873.2" cy="881.1" r="5"/>
<circle cx="1873.7" cy="904.6" r="5"/>
<circle cx="1874.2" cy="896.5" r="5"/>
<circle cx="1874.7" cy="900.4" r="5"/>
<circle cx="1875.2" cy="896.5" r="5"/>
<circle cx="1875.7" cy="867.7" r="5"/>
<circle cx="1876.2" cy="904.6" r="5"/>
<circle cx="1876.7" cy="920.4" r="5"/>
<circle cx="1877.1" cy="886.6" r="5"/>
<circle cx="1877.6" cy="881.1" r="5"/>
<circle cx="1878.1" cy="904.6" r="5"/>
<circle cx="1878.6" cy="900.4" r="5"/>
<circle cx="1879.1" cy="889.7" r="5"/>
<circle cx="1879.6" cy="904.6" r="5"/>
<circle cx="1880.1" cy="896.5" r="5"/>
<circle cx="1880.6" cy="914.5" r="5"/>
<circle cx="1881.1" cy="878.6" r="5"/>
<circle cx="1881.6" cy="886.6" r="5"/>
<circle cx="1882.1" cy="878.6" r="5"/>
<circle cx="1882.6" cy="904.6" r="5"/>
<circle cx="1883.1" cy="889.7" r="5"/>
<circle cx="1883.6" cy="896.5" r="5"/>
<circle cx="1884.1" cy="927.2" r="5"/>
<circle cx="1884.6" cy="896.5" r="5"/>
<circle cx="1885.1" cy="869.7" r="5"/>
<circle cx="1885.6" cy="889.7" r="5"/>
<circle cx="1886.1" cy="920.4" r="5"/>
<circle cx="1886.6" cy="876.2" r="5"/>
<circle cx="1887" cy="900.4" r="5"/>
<circle cx="1887.5" cy="909.3" r="5"/>
<circle cx="1888" cy="914.5" r="5"/>
<circle cx="1888.5" cy="904.6" r="5"/>
<circle cx="1889" cy="920.4" r="5"/>
<circle cx="1889.5" cy="945.2" r="5"/>
<circle cx="1890" cy="900.4" r="5"/>
<circle cx="1890.5" cy="889.7" r="5"/>
<circle cx="1891" cy="927.2" r="5"/>
<circle cx="1891.5" cy="893" r="5"/>
<circle cx="1892" cy="893" r="5"/>
<circle cx="1892.5" cy="889.7" r="5"/>
<circle cx="1893" cy="909.3" r="5"/>
<circle cx="1893.5" cy="927.2" r="5"/>
<circle cx="1894" cy="904.6" r="5"/>
<circle cx="1894.5" cy="896.5" r="5"/>
<circle cx="1895" cy="920.4" r="5"/>
<circle cx="1895.5" cy="914.5" r="5"/>
<circle cx="1896" cy="900.4" r="5"/>
<circle cx="1896.5" cy="900.4" r="5"/>
<circle cx="1896.9" cy="881.1" r="5"/>
<circle cx="1897.4" cy="904.6" r="5"/>
<circle cx="1897.9" cy="896.5" r="5"/>
<circle cx="1898.4" cy="957.9" r="5"/>
<circle cx="1898.9" cy="876.2" r="5"/>
<circle cx="1899.4" cy="893" r="5"/>
<circle cx="1899.9" cy="893" r="5"/>
<circle cx="1900.4" cy="909.3" r="5"/>
<circle cx="1900.9" cy="914.5" r="5"/>
<circle cx="1901.4" cy="889.7" r="5"/>
<circle cx="1901.9" cy="896.5" r="5"/>
<circle cx="1902.4" cy="920.4" r="5"/>
<circle cx="1902.9" cy="920.4" r="5"/>
<circle cx="1903.4" cy="900.4" r="5"/>
<circle cx="1903.9" cy="904.6" r="5"/>
<circle cx="1904.4" cy="904.6" r="5"/>
<circle cx="1904.9" cy="904.6" r="5"/>
<circle cx="1905.4" cy="900.4" r="5"/>
<circle cx="1905.9" cy="896.5" r="5"/>
<circle cx="1906.4" cy="900.4" r="5"/>
<circle cx="1906.8" cy="909.3" r="5"/>
<circle cx="1907.3" cy="900.4" r="5"/>
<circle cx="1907.8" cy="881.1" r="5"/>
<circle cx="1908.3" cy="893" r="5"/>
<circle cx="1908.8" cy="914.5" r="5"/>
<circle cx="1909.3" cy="914.5" r="5"/>
<circle cx="1909.8" cy="904.6" r="5"/>
<circle cx="1910.3" cy="889.7" r="5"/>
<circle cx="1910.8" cy="893" r="5"/>
<circle cx="1911.3" cy="893" r="5"/>
<circle cx="1911.8" cy="900.4" r="5"/>
<circle cx="1912.3" cy="883.8" r="5"/>
<circle cx="1912.8" cy="920.4" r="5"/>
<circle cx="1913.3" cy="904.6" r="5"/>
<circle cx="1913.8" cy="896.5" r="5"/>
<circle cx="1914.3" cy="889.7" r="5"/>
<circle cx="1914.8" cy="896.5" r="5"/>
<circle cx="1915.3" cy="896.5" r="5"/>
<circle cx="1915.8" cy="927.2" r="5"/>
<circle cx="1916.3" cy="927.2" r="5"/>
<circle cx="1916.7" cy="900.4" r="5"/>
<circle cx="1917.2" cy="909.3" r="5"/>
<circle cx="1917.7" cy="904.6" r="5"/>
<circle cx="1918.2" cy="909.3" r="5"/>
<circle cx="1918.7" cy="896.5" r="5"/>
<circle cx="1919.2" cy="893" r="5"/>
<circle cx="1919.7" cy="893" r="5"/>
<circle cx="1920.2" cy="900.4" r="5"/>
<circle cx="1920.7" cy="914.5" r="5"/>
<circle cx="1921.2" cy="909.3" r="5"/>
<circle cx="1921.7" cy="927.2" r="5"/>
<circle cx="1922.2" cy="900.4" r="5"/>
<circle cx="1922.7" cy="914.5" r="5"/>
<circle cx="1923.2" cy="909.3" r="5"/>
<circle cx="1923.7" cy="900.4" r="5"/>
<circle cx="1924.2" cy="909.3" r="5"/>
<circle cx="1924.7" cy="904.6" r="5"/>
<circle cx="1925.2" cy="896.5" r="5"/>
<circle cx="1925.7" cy="904.6" r="5"/>
<circle cx="1926.2" cy="893" r="5"/>
<circle cx="1926.6" cy="914.5" r="5"/>
<circle cx="1927.1" cy="900.4" r="5"/>
<circle cx="1927.6" cy="927.2" r="5"/>
<circle cx="1928.1" cy="914.5" r="5"/>
<circle cx="1928.6" cy="904.6" r="5"/>
<circle cx="1929.1" cy="896.5" r="5"/>
<circle cx="1929.6" cy="914.5" r="5"/>
<circle cx="1930.1" cy="975.9" r="5"/>
<circle cx="1930.6" cy="893" r="5"/>
<circle cx="1931.1" cy="920.4" r="5"/>
<circle cx="1931.6" cy="909.3" r="5"/>
<circle cx="1932.1" cy="904.6" r="5"/>
<circle cx="1932.6" cy="914.5" r="5"/>
<circle cx="1933.1" cy="889.7" r="5"/>
<circle cx="1933.6" cy="900.4" r="5"/>
<circle cx="1934.1" cy="904.6" r="5"/>
<circle cx="1934.6" cy="889.7" r="5"/>
<circle cx="1935.1" cy="896.5" r="5"/>
<circle cx="1935.6" cy="927.2" r="5"/>
<circle cx="1936.1" cy="904.6" r="5"/>
<circle cx="1936.5" cy="920.4" r="5"/>
<circle cx="1937" cy="914.5" r="5"/>
<circle cx="1937.5" cy="909.3" r="5"/>
<circle cx="1938" cy="900.4" r="5"/>
<circle cx="1938.5" cy="914.5" r="5"/>
<circle cx="1939" cy="893" r="5"/>
<circle cx="1939.5" cy="914.5" r="5"/>
<circle cx="1940" cy="945.2" r="5"/>
<circle cx="1940.5" cy="904.6" r="5"/>
<circle cx="1941" cy="920.4" r="5"/>
<circle cx="1941.5" cy="945.2" r="5"/>
<circle cx="1942" cy="927.2" r="5"/>
<circle cx="1942.5" cy="945.2" r="5"/>
<circle cx="1943" cy="889.7" r="5"/>
<circle cx="1943.5" cy="920.4" r="5"/>
<circle cx="1944" cy="927.2" r="5"/>
<circle cx="1944.5" cy="927.2" r="5"/>
<circle cx="1945" cy="896.5" r="5"/>
<circle cx="1945.5" cy="893" r="5"/>
<circle cx="1946" cy="889.7" r="5"/>
<circle cx="1946.4" cy="904.6" r="5"/>
<circle cx="1946.9" cy="889.7" r="5"/>
<circle cx="1947.4" cy="920.4" r="5"/>
<circle cx="1947.9" cy="920.4" r="5"/>
<circle cx="1948.4" cy="935.3" r="5"/>
<circle cx="1948.9" cy="927.2" r="5"/>
<circle cx="1949.4" cy="909.3" r="5"/>
<circle cx="1949.9" cy="927.2" r="5"/>
<circle cx="1950.4" cy="886.6" r="5"/>
<circle cx="1950.9" cy="945.2" r="5"/>
<circle cx="1951.4" cy="909.3" r="5"/>
<circle cx="1951.9" cy="909.3" r="5"/>
<circle cx="1952.4" cy="927.2" r="5"/>
<circle cx="1952.9" cy="896.5" r="5"/>
<circle cx="1953.4" cy="935.3" r="5"/>
<circle cx="1953.9" cy="904.6" r="5"/>
<circle cx="1954.4" cy="927.2" r="5"/>
<circle cx="1954.9" cy="909.3" r="5"/>
<circle cx="1955.4" cy="883.8" r="5"/>
<circle cx="1955.9" cy="914.5" r="5"/>
<circle cx="1956.3" cy="935.3" r="5"/>
<circle cx="1956.8" cy="935.3" r="5"/>
<circle cx="1957.3" cy="914.5" r="5"/>
<circle cx="1957.8" cy="920.4" r="5"/>
<circle cx="1958.3" cy="881.1" r="5"/>
<circle cx="1958.8" cy="935.3" r="5"/>
<circle cx="1959.3" cy="935.3" r="5"/>
<circle cx="1959.8" cy="920.4" r="5"/>
<circle cx="1960.3" cy="945.2" r="5"/>
<circle cx="1960.8" cy="909.3" r="5"/>
<circle cx="1961.3" cy="927.2" r="5"/>
<circle cx="1961.8" cy="927.2" r="5"/>
<circle cx="1962.3" cy="935.3" r="5"/>
<circle cx="1962.8" cy="927.2" r="5"/>
<circle cx="1963.3" cy="920.4" r="5"/>
<circle cx="1963.8" cy="957.9" r="5"/>
<circle cx="1964.3" cy="896.5" r="5"/>
<circle cx="1964.8" cy="927.2" r="5"/>
<circle cx="1965.3" cy="900.4" r="5"/>
<circle cx="1965.8" cy="927.2" r="5"/>
<circle cx="1966.2" cy="920.4" r="5"/>
<circle cx="1966.7" cy="900.4" r="5"/>
<circle cx="1967.2" cy="914.5" r="5"/>
<circle cx="1967.7" cy="904.6" r="5"/>
<circle cx="1968.2" cy="896.5" r="5"/>
<circle cx="1968.7" cy="927.2" r="5"/>
<circle cx="1969.2" cy="904.6" r="5"/>
<circle cx="1969.7" cy="975.9" r="5"/>
<circle cx="1970.2" cy="909.3" r="5"/>
<circle cx="1970.7" cy="889.7" r="5"/>
<circle cx="1971.2" cy="914.5" r="5"/>
<circle cx="1971.7" cy="920.4" r="5"/>
<circle cx="1972.2" cy="914.5" r="5"/>
<circle cx="1972.7" cy="900.4" r="5"/>
<circle cx="1973.2" cy="920.4" r="5"/>
<circle cx="1973.7" cy="927.2" r="5"/>
<circle cx="1974.2" cy="927.2" r="5"/>
<circle cx="1974.7" cy="900.4" r="5"/>
<circle cx="1975.2" cy="920.4" r="5"/>
<circle cx="1975.7" cy="927.2" r="5"/>
<circle cx="1976.1" cy="957.9" r="5"/>
<circle cx="1976.6" cy="904.6" r="5"/>
<circle cx="1977.1" cy="927.2" r="5"/>
<circle cx="1977.6" cy="935.3" r="5"/>
<circle cx="1978.1" cy="957.9" r="5"/>
<circle cx="1978.6" cy="909.3" r="5"/>
<circle cx="1979.1" cy="914.5" r="5"/>
<circle cx="1979.6" cy="935.3" r="5"/>
<circle cx="1980.1" cy="920.4" r="5"/>
<circle cx="1980.6" cy="914.5" r="5"/>
</g></g>
<rect x="1436.3" y="598.8" width="544.3" height="438.6" fill="none" stroke="#000" stroke-width="3.0"/>
<path d="M1436.6,1037.4v8.6M1572.6,1037.4v8.6M1708.6,1037.4v8.6M1844.6,1037.4v8.6M1980.6,1037.4v8.6" stroke="#000" stroke-width="2.9" fill="none"/>
<text x="1436.6" y="1071.3" font-size="25.5" text-anchor="middle">0</text>
<text x="1572.6" y="1071.3" font-size="25.5" text-anchor="middle">2</text>
<text x="1708.6" y="1071.3" font-size="25.5" text-anchor="middle">4</text>
<text x="1844.6" y="1071.3" font-size="25.5" text-anchor="middle">6</text>
<text x="1980.6" y="1071.3" font-size="25.5" text-anchor="middle">8</text>
<path d="M1436.3,1006.6h-8.3M1436.3,904.6h-8.3M1436.3,802.6h-8.3M1436.3,700.6h-8.3M1436.3,598.6h-8.3" stroke="#000" stroke-width="2.9" fill="none"/>
<text x="1422.3" y="1015.2" font-size="25" text-anchor="end">1</text>
<text x="1422.3" y="913.2" font-size="25" text-anchor="end">10</text>
<text x="1422.3" y="811.2" font-size="25" text-anchor="end">100</text>
<text x="1422.3" y="709.2" font-size="25" text-anchor="end">1000</text>
<text x="1422.3" y="607.2" font-size="25" text-anchor="end">10000</text>
<text x="1708.4" y="1114.4" font-size="27" font-weight="700" text-anchor="middle">Time (s)</text>
<text x="1377.3" y="804.4" font-size="27" font-weight="700" text-anchor="middle" transform="rotate(-90 1377.3 804.4)">Counts</text>
<text x="1311.7" y="595.3" font-size="40">(f)</text>
<circle cx="1837" cy="638" r="5" fill="url(#mO)"/><circle cx="1837" cy="668.25" r="5" fill="url(#mB)"/>
<text x="1865.5" y="646.2" font-size="25.4">Vacuum</text>
<text x="1872" y="676.2" font-size="25.4">N<tspan font-size="16.5" dy="6.5">2</tspan></text>
</svg></body></html>
